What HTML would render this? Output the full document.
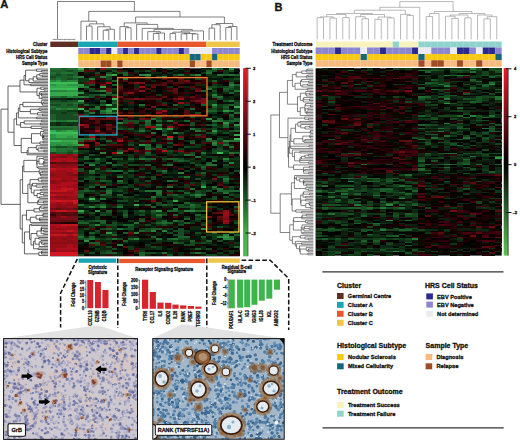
<!DOCTYPE html><html><head><meta charset="utf-8"><style>html,body{margin:0;padding:0;background:#fff;overflow:hidden}svg{display:block}</style></head><body><svg width="520" height="441" viewBox="0 0 520 441">
<style>text{stroke:#111;stroke-width:0.3px;paint-order:stroke;stroke-linejoin:round}</style>
<rect width="520" height="441" fill="#fff"/>
<text x="0.2" y="8.3" font-size="11.2" font-weight="bold" font-family="Liberation Sans, sans-serif" fill="#111">A</text>
<text x="274.6" y="10.6" font-size="11" font-weight="bold" font-family="Liberation Sans, sans-serif" fill="#111">B</text>
<filter id="bhA" x="50.3" y="68.3" width="189.4" height="188" filterUnits="userSpaceOnUse"><feGaussianBlur stdDeviation="0.55" edgeMode="duplicate"/></filter>
<g filter="url(#bhA)">
<rect x="50.3" y="68.3" width="189.4" height="188" fill="#000"/>
<path fill="#3ec458" shape-rendering="crispEdges" d="M111.58 108.3h5.57v2h-5.57z"/>
<path fill="#3ec458" shape-rendering="crispEdges" d="M67.01 88.3h5.57v2h-5.57zM50.3 132.3h11.14v2h-11.14zM72.58 132.3h5.57v2h-5.57z"/>
<path fill="#3bbc54" shape-rendering="crispEdges" d="M50.3 82.3h27.85v2h-27.85zM50.3 88.3h16.71v2h-16.71zM72.58 88.3h5.57v2h-5.57zM111.58 98.3h5.57v2h-5.57zM106.01 104.3h5.57v2h-5.57zM78.15 108.3h5.57v2h-5.57zM61.44 132.3h11.14v2h-11.14zM234.13 138.3h5.57v2h-5.57zM50.3 140.3h11.14v2h-11.14zM217.42 152.3h5.57v2h-5.57zM89.29 198.3h5.57v2h-5.57z"/>
<path fill="#35a94c" shape-rendering="crispEdges" d="M78.15 68.3h5.57v2h-5.57zM111.58 74.3h5.57v2h-5.57zM55.87 84.3h11.14v2h-11.14zM50.3 86.3h27.85v2h-27.85zM100.44 86.3h5.57v2h-5.57zM50.3 92.3h27.85v2h-27.85zM50.3 94.3h27.85v2h-27.85zM78.15 100.3h5.57v2h-5.57zM234.13 106.3h5.57v2h-5.57zM156.14 128.3h5.57v2h-5.57zM50.3 130.3h5.57v2h-5.57zM67.01 130.3h5.57v2h-5.57zM55.87 134.3h22.28v2h-22.28zM234.13 134.3h5.57v2h-5.57zM55.87 136.3h11.14v2h-11.14zM72.58 136.3h5.57v2h-5.57zM61.44 140.3h16.71v2h-16.71zM72.58 142.3h5.57v2h-5.57zM78.15 144.3h5.57v2h-5.57zM200.71 186.3h5.57v2h-5.57zM172.85 200.3h5.57v2h-5.57zM133.86 204.3h5.57v2h-5.57zM78.15 210.3h5.57v2h-5.57z"/>
<path fill="#2f9643" shape-rendering="crispEdges" d="M228.56 68.3h5.57v2h-5.57zM145 74.3h5.57v2h-5.57zM55.87 80.3h5.57v2h-5.57zM50.3 84.3h5.57v2h-5.57zM67.01 84.3h16.71v2h-16.71zM67.01 90.3h11.14v2h-11.14zM78.15 92.3h5.57v2h-5.57zM211.85 104.3h5.57v2h-5.57zM106.01 110.3h5.57v2h-5.57zM222.99 110.3h5.57v2h-5.57zM206.28 118.3h5.57v2h-5.57zM222.99 122.3h5.57v2h-5.57zM234.13 124.3h5.57v2h-5.57zM167.28 128.3h5.57v2h-5.57zM61.44 130.3h5.57v2h-5.57zM72.58 130.3h5.57v2h-5.57zM211.85 130.3h5.57v2h-5.57zM50.3 134.3h5.57v2h-5.57zM50.3 136.3h5.57v2h-5.57zM67.01 136.3h5.57v2h-5.57zM50.3 142.3h22.28v2h-22.28zM50.3 144.3h5.57v2h-5.57zM61.44 144.3h5.57v2h-5.57zM72.58 144.3h5.57v2h-5.57zM139.43 144.3h5.57v2h-5.57zM117.15 152.3h5.57v2h-5.57zM94.86 210.3h5.57v2h-5.57zM156.14 210.3h5.57v2h-5.57zM106.01 232.3h5.57v2h-5.57zM222.99 236.3h5.57v2h-5.57zM83.72 240.3h5.57v2h-5.57z"/>
<path fill="#29833b" shape-rendering="crispEdges" d="M211.85 68.3h5.57v2h-5.57zM106.01 74.3h5.57v2h-5.57zM139.43 74.3h5.57v2h-5.57zM195.14 74.3h5.57v2h-5.57zM78.15 76.3h5.57v2h-5.57zM100.44 76.3h5.57v2h-5.57zM161.71 76.3h5.57v2h-5.57zM89.29 78.3h5.57v2h-5.57zM50.3 80.3h5.57v2h-5.57zM67.01 80.3h11.14v2h-11.14zM228.56 84.3h5.57v2h-5.57zM78.15 86.3h5.57v2h-5.57zM50.3 90.3h16.71v2h-16.71zM100.44 90.3h5.57v2h-5.57zM211.85 94.3h5.57v2h-5.57zM67.01 96.3h5.57v2h-5.57zM78.15 96.3h5.57v2h-5.57zM55.87 108.3h5.57v2h-5.57zM67.01 108.3h5.57v2h-5.57zM106.01 108.3h5.57v2h-5.57zM106.01 112.3h5.57v2h-5.57zM50.3 120.3h5.57v2h-5.57zM67.01 120.3h11.14v2h-11.14zM211.85 120.3h5.57v2h-5.57zM117.15 122.3h5.57v2h-5.57zM156.14 124.3h5.57v2h-5.57zM55.87 130.3h5.57v2h-5.57zM172.85 132.3h5.57v2h-5.57zM50.3 138.3h27.85v2h-27.85zM206.28 138.3h5.57v2h-5.57zM222.99 140.3h5.57v2h-5.57zM211.85 142.3h5.57v2h-5.57zM55.87 144.3h5.57v2h-5.57zM67.01 144.3h5.57v2h-5.57zM50.3 148.3h5.57v2h-5.57zM50.3 150.3h5.57v2h-5.57zM72.58 150.3h5.57v2h-5.57zM100.44 152.3h5.57v2h-5.57zM222.99 158.3h5.57v2h-5.57zM228.56 162.3h5.57v2h-5.57zM89.29 164.3h5.57v2h-5.57zM178.42 172.3h5.57v2h-5.57zM195.14 194.3h5.57v2h-5.57zM89.29 206.3h5.57v2h-5.57zM100.44 206.3h5.57v2h-5.57zM183.99 210.3h11.14v2h-11.14zM94.86 224.3h5.57v2h-5.57zM200.71 228.3h5.57v2h-5.57zM150.57 230.3h5.57v2h-5.57zM161.71 230.3h5.57v2h-5.57zM133.86 232.3h5.57v2h-5.57zM222.99 234.3h5.57v2h-5.57zM217.42 236.3h5.57v2h-5.57zM133.86 238.3h5.57v2h-5.57zM222.99 238.3h11.14v2h-11.14zM117.15 244.3h5.57v2h-5.57z"/>
<path fill="#237132" shape-rendering="crispEdges" d="M50.3 68.3h11.14v2h-11.14zM67.01 68.3h11.14v2h-11.14zM78.15 70.3h5.57v2h-5.57zM50.3 72.3h5.57v2h-5.57zM61.44 72.3h11.14v2h-11.14zM206.28 72.3h5.57v2h-5.57zM178.42 74.3h5.57v2h-5.57zM217.42 74.3h5.57v2h-5.57zM228.56 74.3h5.57v2h-5.57zM72.58 76.3h5.57v2h-5.57zM55.87 78.3h5.57v2h-5.57zM122.72 78.3h5.57v2h-5.57zM61.44 80.3h5.57v2h-5.57zM83.72 86.3h5.57v2h-5.57zM206.28 88.3h5.57v2h-5.57zM234.13 90.3h5.57v2h-5.57zM100.44 94.3h5.57v2h-5.57zM50.3 96.3h11.14v2h-11.14zM72.58 96.3h5.57v2h-5.57zM83.72 96.3h5.57v2h-5.57zM217.42 96.3h5.57v2h-5.57zM228.56 100.3h5.57v2h-5.57zM72.58 102.3h5.57v2h-5.57zM139.43 104.3h5.57v2h-5.57zM50.3 106.3h5.57v2h-5.57zM94.86 106.3h5.57v2h-5.57zM61.44 108.3h5.57v2h-5.57zM72.58 108.3h5.57v2h-5.57zM94.86 108.3h5.57v2h-5.57zM83.72 110.3h5.57v2h-5.57zM100.44 110.3h5.57v2h-5.57zM228.56 110.3h5.57v2h-5.57zM89.29 112.3h5.57v2h-5.57zM111.58 112.3h5.57v2h-5.57zM234.13 112.3h5.57v2h-5.57zM150.57 118.3h5.57v2h-5.57zM55.87 120.3h11.14v2h-11.14zM145 120.3h5.57v2h-5.57zM167.28 120.3h5.57v2h-5.57zM217.42 120.3h5.57v2h-5.57zM222.99 124.3h5.57v2h-5.57zM50.3 126.3h27.85v2h-27.85zM72.58 128.3h5.57v2h-5.57zM189.56 128.3h5.57v2h-5.57zM139.43 130.3h5.57v2h-5.57zM195.14 130.3h5.57v2h-5.57zM150.57 132.3h5.57v2h-5.57zM89.29 134.3h5.57v2h-5.57zM161.71 134.3h5.57v2h-5.57zM78.15 138.3h5.57v2h-5.57zM89.29 138.3h5.57v2h-5.57zM167.28 138.3h5.57v2h-5.57zM228.56 140.3h11.14v2h-11.14zM145 144.3h5.57v2h-5.57zM211.85 144.3h5.57v2h-5.57zM222.99 144.3h5.57v2h-5.57zM228.56 146.3h5.57v2h-5.57zM55.87 148.3h16.71v2h-16.71zM145 148.3h5.57v2h-5.57zM55.87 150.3h11.14v2h-11.14zM200.71 152.3h5.57v2h-5.57zM228.56 152.3h5.57v2h-5.57zM183.99 154.3h5.57v2h-5.57zM195.14 156.3h5.57v2h-5.57zM94.86 158.3h5.57v2h-5.57zM139.43 158.3h5.57v2h-5.57zM211.85 160.3h5.57v2h-5.57zM106.01 162.3h5.57v2h-5.57zM167.28 164.3h5.57v2h-5.57zM206.28 164.3h11.14v2h-11.14zM89.29 170.3h5.57v2h-5.57zM111.58 170.3h11.14v2h-11.14zM161.71 170.3h5.57v2h-5.57zM117.15 176.3h5.57v2h-5.57zM183.99 176.3h5.57v2h-5.57zM222.99 178.3h5.57v2h-5.57zM117.15 180.3h5.57v2h-5.57zM167.28 180.3h5.57v2h-5.57zM100.44 186.3h5.57v2h-5.57zM167.28 186.3h5.57v2h-5.57zM211.85 186.3h5.57v2h-5.57zM189.56 188.3h5.57v2h-5.57zM217.42 188.3h5.57v2h-5.57zM106.01 190.3h5.57v2h-5.57zM145 190.3h16.71v2h-16.71zM106.01 192.3h5.57v2h-5.57zM156.14 192.3h5.57v2h-5.57zM222.99 192.3h5.57v2h-5.57zM150.57 196.3h5.57v2h-5.57zM100.44 198.3h5.57v2h-5.57zM78.15 204.3h5.57v2h-5.57zM189.56 204.3h5.57v2h-5.57zM117.15 206.3h5.57v2h-5.57zM172.85 208.3h5.57v2h-5.57zM156.14 214.3h5.57v2h-5.57zM172.85 220.3h5.57v2h-5.57zM133.86 222.3h5.57v2h-5.57zM161.71 222.3h5.57v2h-5.57zM117.15 228.3h5.57v2h-5.57zM78.15 236.3h5.57v2h-5.57zM228.56 236.3h5.57v2h-5.57zM89.29 238.3h5.57v2h-5.57zM111.58 238.3h5.57v2h-5.57zM156.14 238.3h5.57v2h-5.57zM172.85 238.3h5.57v2h-5.57zM161.71 252.3h5.57v2h-5.57zM195.14 252.3h5.57v2h-5.57z"/>
<path fill="#1d5e2a" shape-rendering="crispEdges" d="M61.44 68.3h5.57v2h-5.57zM217.42 68.3h5.57v2h-5.57zM50.3 70.3h16.71v2h-16.71zM72.58 70.3h5.57v2h-5.57zM206.28 70.3h5.57v2h-5.57zM55.87 72.3h5.57v2h-5.57zM72.58 72.3h5.57v2h-5.57zM122.72 72.3h5.57v2h-5.57zM50.3 74.3h5.57v2h-5.57zM61.44 74.3h5.57v2h-5.57zM72.58 74.3h5.57v2h-5.57zM122.72 74.3h5.57v2h-5.57zM189.56 74.3h5.57v2h-5.57zM222.99 74.3h5.57v2h-5.57zM234.13 74.3h5.57v2h-5.57zM55.87 76.3h16.71v2h-16.71zM50.3 78.3h5.57v2h-5.57zM61.44 78.3h5.57v2h-5.57zM72.58 78.3h5.57v2h-5.57zM111.58 80.3h5.57v2h-5.57zM211.85 80.3h5.57v2h-5.57zM228.56 82.3h5.57v2h-5.57zM111.58 84.3h5.57v2h-5.57zM234.13 84.3h5.57v2h-5.57zM228.56 86.3h5.57v2h-5.57zM222.99 88.3h5.57v2h-5.57zM94.86 90.3h5.57v2h-5.57zM200.71 90.3h5.57v2h-5.57zM106.01 92.3h5.57v2h-5.57zM228.56 92.3h5.57v2h-5.57zM111.58 94.3h5.57v2h-5.57zM61.44 96.3h5.57v2h-5.57zM211.85 96.3h5.57v2h-5.57zM100.44 100.3h5.57v2h-5.57zM50.3 102.3h22.28v2h-22.28zM78.15 102.3h5.57v2h-5.57zM111.58 102.3h5.57v2h-5.57zM61.44 104.3h5.57v2h-5.57zM72.58 104.3h5.57v2h-5.57zM83.72 104.3h5.57v2h-5.57zM100.44 104.3h5.57v2h-5.57zM172.85 104.3h5.57v2h-5.57zM200.71 104.3h5.57v2h-5.57zM228.56 104.3h5.57v2h-5.57zM55.87 106.3h22.28v2h-22.28zM211.85 106.3h5.57v2h-5.57zM222.99 106.3h5.57v2h-5.57zM50.3 108.3h5.57v2h-5.57zM89.29 108.3h5.57v2h-5.57zM189.56 108.3h5.57v2h-5.57zM206.28 110.3h11.14v2h-11.14zM100.44 112.3h5.57v2h-5.57zM50.3 114.3h5.57v2h-5.57zM72.58 114.3h5.57v2h-5.57zM228.56 114.3h5.57v2h-5.57zM50.3 116.3h5.57v2h-5.57zM50.3 118.3h5.57v2h-5.57zM217.42 118.3h5.57v2h-5.57zM234.13 118.3h5.57v2h-5.57zM156.14 120.3h5.57v2h-5.57zM183.99 120.3h5.57v2h-5.57zM228.56 120.3h11.14v2h-11.14zM145 122.3h5.57v2h-5.57zM145 124.3h5.57v2h-5.57zM211.85 124.3h5.57v2h-5.57zM222.99 126.3h5.57v2h-5.57zM50.3 128.3h22.28v2h-22.28zM234.13 130.3h5.57v2h-5.57zM211.85 132.3h5.57v2h-5.57zM83.72 138.3h5.57v2h-5.57zM78.15 140.3h5.57v2h-5.57zM106.01 140.3h5.57v2h-5.57zM206.28 140.3h11.14v2h-11.14zM189.56 142.3h5.57v2h-5.57zM50.3 146.3h5.57v2h-5.57zM67.01 146.3h5.57v2h-5.57zM145 146.3h5.57v2h-5.57zM156.14 146.3h5.57v2h-5.57zM72.58 148.3h5.57v2h-5.57zM94.86 148.3h5.57v2h-5.57zM67.01 150.3h5.57v2h-5.57zM55.87 152.3h11.14v2h-11.14zM72.58 152.3h5.57v2h-5.57zM145 152.3h5.57v2h-5.57zM234.13 152.3h5.57v2h-5.57zM189.56 154.3h5.57v2h-5.57zM83.72 156.3h5.57v2h-5.57zM83.72 158.3h5.57v2h-5.57zM111.58 158.3h5.57v2h-5.57zM128.29 158.3h5.57v2h-5.57zM145 158.3h11.14v2h-11.14zM167.28 158.3h11.14v2h-11.14zM178.42 160.3h5.57v2h-5.57zM206.28 162.3h5.57v2h-5.57zM111.58 164.3h5.57v2h-5.57zM145 164.3h5.57v2h-5.57zM200.71 166.3h5.57v2h-5.57zM94.86 168.3h5.57v2h-5.57zM106.01 170.3h5.57v2h-5.57zM128.29 170.3h5.57v2h-5.57zM89.29 172.3h5.57v2h-5.57zM200.71 172.3h5.57v2h-5.57zM100.44 180.3h5.57v2h-5.57zM222.99 180.3h5.57v2h-5.57zM200.71 184.3h5.57v2h-5.57zM89.29 186.3h5.57v2h-5.57zM133.86 188.3h5.57v2h-5.57zM83.72 190.3h5.57v2h-5.57zM217.42 190.3h22.28v2h-22.28zM183.99 192.3h5.57v2h-5.57zM78.15 194.3h5.57v2h-5.57zM100.44 194.3h5.57v2h-5.57zM117.15 194.3h5.57v2h-5.57zM156.14 194.3h5.57v2h-5.57zM172.85 194.3h5.57v2h-5.57zM189.56 194.3h5.57v2h-5.57zM200.71 194.3h5.57v2h-5.57zM78.15 196.3h5.57v2h-5.57zM195.14 196.3h5.57v2h-5.57zM183.99 202.3h5.57v2h-5.57zM100.44 204.3h5.57v2h-5.57zM145 204.3h5.57v2h-5.57zM161.71 204.3h5.57v2h-5.57zM150.57 206.3h5.57v2h-5.57zM189.56 206.3h5.57v2h-5.57zM234.13 206.3h5.57v2h-5.57zM106.01 210.3h5.57v2h-5.57zM139.43 210.3h5.57v2h-5.57zM150.57 210.3h5.57v2h-5.57zM167.28 210.3h11.14v2h-11.14zM195.14 210.3h11.14v2h-11.14zM78.15 212.3h5.57v2h-5.57zM122.72 214.3h5.57v2h-5.57zM172.85 214.3h5.57v2h-5.57zM195.14 214.3h5.57v2h-5.57zM183.99 218.3h5.57v2h-5.57zM94.86 220.3h11.14v2h-11.14zM139.43 220.3h5.57v2h-5.57zM161.71 220.3h5.57v2h-5.57zM78.15 222.3h11.14v2h-11.14zM100.44 222.3h5.57v2h-5.57zM156.14 222.3h5.57v2h-5.57zM167.28 222.3h5.57v2h-5.57zM183.99 222.3h5.57v2h-5.57zM122.72 224.3h11.14v2h-11.14zM106.01 228.3h5.57v2h-5.57zM150.57 228.3h11.14v2h-11.14zM139.43 230.3h5.57v2h-5.57zM89.29 232.3h5.57v2h-5.57zM122.72 232.3h5.57v2h-5.57zM211.85 232.3h5.57v2h-5.57zM228.56 232.3h5.57v2h-5.57zM111.58 234.3h5.57v2h-5.57zM234.13 234.3h5.57v2h-5.57zM89.29 236.3h5.57v2h-5.57zM150.57 236.3h5.57v2h-5.57zM178.42 236.3h11.14v2h-11.14zM200.71 236.3h5.57v2h-5.57zM83.72 238.3h5.57v2h-5.57zM128.29 238.3h5.57v2h-5.57zM167.28 238.3h5.57v2h-5.57zM122.72 240.3h5.57v2h-5.57zM189.56 240.3h5.57v2h-5.57zM206.28 240.3h5.57v2h-5.57zM89.29 242.3h11.14v2h-11.14zM172.85 242.3h5.57v2h-5.57zM234.13 246.3h5.57v2h-5.57zM195.14 248.3h5.57v2h-5.57zM106.01 252.3h11.14v2h-11.14zM139.43 252.3h5.57v2h-5.57zM139.43 254.3h5.57v2h-5.57z"/>
<path fill="#174b21" shape-rendering="crispEdges" d="M89.29 68.3h5.57v2h-5.57zM106.01 68.3h5.57v2h-5.57zM150.57 68.3h5.57v2h-5.57zM167.28 68.3h5.57v2h-5.57zM67.01 70.3h5.57v2h-5.57zM111.58 70.3h5.57v2h-5.57zM145 70.3h5.57v2h-5.57zM211.85 70.3h5.57v2h-5.57zM228.56 70.3h5.57v2h-5.57zM94.86 72.3h5.57v2h-5.57zM106.01 72.3h5.57v2h-5.57zM117.15 72.3h5.57v2h-5.57zM55.87 74.3h5.57v2h-5.57zM67.01 74.3h5.57v2h-5.57zM172.85 74.3h5.57v2h-5.57zM50.3 76.3h5.57v2h-5.57zM106.01 76.3h5.57v2h-5.57zM145 76.3h5.57v2h-5.57zM156.14 76.3h5.57v2h-5.57zM67.01 78.3h5.57v2h-5.57zM106.01 78.3h5.57v2h-5.57zM195.14 78.3h5.57v2h-5.57zM234.13 78.3h5.57v2h-5.57zM89.29 84.3h5.57v2h-5.57zM206.28 86.3h11.14v2h-11.14zM222.99 86.3h5.57v2h-5.57zM89.29 88.3h5.57v2h-5.57zM228.56 88.3h5.57v2h-5.57zM89.29 90.3h5.57v2h-5.57zM211.85 90.3h5.57v2h-5.57zM222.99 90.3h5.57v2h-5.57zM89.29 94.3h11.14v2h-11.14zM106.01 94.3h5.57v2h-5.57zM89.29 96.3h5.57v2h-5.57zM217.42 98.3h5.57v2h-5.57zM50.3 100.3h11.14v2h-11.14zM67.01 100.3h11.14v2h-11.14zM111.58 100.3h5.57v2h-5.57zM222.99 100.3h5.57v2h-5.57zM234.13 102.3h5.57v2h-5.57zM50.3 104.3h11.14v2h-11.14zM67.01 104.3h5.57v2h-5.57zM222.99 104.3h5.57v2h-5.57zM234.13 104.3h5.57v2h-5.57zM122.72 108.3h5.57v2h-5.57zM156.14 108.3h5.57v2h-5.57zM211.85 108.3h5.57v2h-5.57zM222.99 108.3h5.57v2h-5.57zM50.3 110.3h16.71v2h-16.71zM50.3 112.3h11.14v2h-11.14zM67.01 112.3h11.14v2h-11.14zM195.14 112.3h5.57v2h-5.57zM55.87 114.3h16.71v2h-16.71zM83.72 114.3h5.57v2h-5.57zM55.87 116.3h22.28v2h-22.28zM156.14 116.3h5.57v2h-5.57zM189.56 116.3h5.57v2h-5.57zM228.56 116.3h5.57v2h-5.57zM55.87 118.3h22.28v2h-22.28zM122.72 120.3h16.71v2h-16.71zM222.99 120.3h5.57v2h-5.57zM122.72 122.3h5.57v2h-5.57zM133.86 122.3h5.57v2h-5.57zM189.56 122.3h5.57v2h-5.57zM189.56 124.3h5.57v2h-5.57zM206.28 124.3h5.57v2h-5.57zM156.14 126.3h5.57v2h-5.57zM234.13 126.3h5.57v2h-5.57zM117.15 128.3h5.57v2h-5.57zM128.29 128.3h5.57v2h-5.57zM139.43 128.3h5.57v2h-5.57zM150.57 128.3h5.57v2h-5.57zM161.71 128.3h5.57v2h-5.57zM195.14 128.3h5.57v2h-5.57zM211.85 128.3h5.57v2h-5.57zM161.71 130.3h5.57v2h-5.57zM200.71 130.3h5.57v2h-5.57zM228.56 130.3h5.57v2h-5.57zM178.42 132.3h5.57v2h-5.57zM206.28 132.3h5.57v2h-5.57zM222.99 132.3h5.57v2h-5.57zM195.14 134.3h5.57v2h-5.57zM100.44 138.3h5.57v2h-5.57zM178.42 138.3h5.57v2h-5.57zM217.42 138.3h5.57v2h-5.57zM150.57 140.3h5.57v2h-5.57zM189.56 140.3h5.57v2h-5.57zM167.28 142.3h5.57v2h-5.57zM222.99 142.3h5.57v2h-5.57zM100.44 144.3h5.57v2h-5.57zM128.29 144.3h5.57v2h-5.57zM156.14 144.3h5.57v2h-5.57zM55.87 146.3h11.14v2h-11.14zM72.58 146.3h5.57v2h-5.57zM183.99 146.3h5.57v2h-5.57zM150.57 148.3h5.57v2h-5.57zM217.42 148.3h5.57v2h-5.57zM117.15 150.3h5.57v2h-5.57zM167.28 150.3h5.57v2h-5.57zM211.85 150.3h16.71v2h-16.71zM50.3 152.3h5.57v2h-5.57zM67.01 152.3h5.57v2h-5.57zM189.56 152.3h5.57v2h-5.57zM211.85 152.3h5.57v2h-5.57zM89.29 154.3h5.57v2h-5.57zM145 154.3h5.57v2h-5.57zM106.01 156.3h5.57v2h-5.57zM117.15 158.3h5.57v2h-5.57zM161.71 158.3h5.57v2h-5.57zM178.42 158.3h5.57v2h-5.57zM94.86 160.3h5.57v2h-5.57zM172.85 160.3h5.57v2h-5.57zM183.99 160.3h5.57v2h-5.57zM222.99 160.3h5.57v2h-5.57zM83.72 162.3h16.71v2h-16.71zM189.56 162.3h5.57v2h-5.57zM78.15 164.3h5.57v2h-5.57zM117.15 164.3h5.57v2h-5.57zM128.29 164.3h11.14v2h-11.14zM161.71 164.3h5.57v2h-5.57zM195.14 164.3h5.57v2h-5.57zM222.99 164.3h5.57v2h-5.57zM78.15 168.3h5.57v2h-5.57zM200.71 168.3h5.57v2h-5.57zM78.15 170.3h5.57v2h-5.57zM156.14 170.3h5.57v2h-5.57zM234.13 170.3h5.57v2h-5.57zM122.72 172.3h5.57v2h-5.57zM161.71 172.3h5.57v2h-5.57zM89.29 176.3h5.57v2h-5.57zM100.44 176.3h5.57v2h-5.57zM139.43 176.3h5.57v2h-5.57zM150.57 176.3h5.57v2h-5.57zM217.42 176.3h11.14v2h-11.14zM83.72 178.3h11.14v2h-11.14zM150.57 178.3h5.57v2h-5.57zM195.14 178.3h5.57v2h-5.57zM78.15 180.3h5.57v2h-5.57zM106.01 180.3h5.57v2h-5.57zM145 180.3h5.57v2h-5.57zM172.85 180.3h5.57v2h-5.57zM117.15 182.3h5.57v2h-5.57zM200.71 182.3h5.57v2h-5.57zM94.86 184.3h5.57v2h-5.57zM122.72 186.3h5.57v2h-5.57zM156.14 186.3h5.57v2h-5.57zM228.56 186.3h5.57v2h-5.57zM83.72 188.3h5.57v2h-5.57zM106.01 188.3h5.57v2h-5.57zM211.85 188.3h5.57v2h-5.57zM78.15 190.3h5.57v2h-5.57zM89.29 190.3h5.57v2h-5.57zM117.15 190.3h5.57v2h-5.57zM167.28 190.3h5.57v2h-5.57zM178.42 190.3h5.57v2h-5.57zM195.14 190.3h5.57v2h-5.57zM206.28 190.3h5.57v2h-5.57zM78.15 192.3h5.57v2h-5.57zM195.14 192.3h5.57v2h-5.57zM106.01 194.3h5.57v2h-5.57zM167.28 194.3h5.57v2h-5.57zM228.56 194.3h5.57v2h-5.57zM122.72 196.3h5.57v2h-5.57zM178.42 196.3h5.57v2h-5.57zM211.85 196.3h5.57v2h-5.57zM222.99 196.3h5.57v2h-5.57zM150.57 198.3h5.57v2h-5.57zM211.85 198.3h5.57v2h-5.57zM89.29 200.3h11.14v2h-11.14zM117.15 200.3h11.14v2h-11.14zM133.86 200.3h5.57v2h-5.57zM156.14 202.3h5.57v2h-5.57zM94.86 204.3h5.57v2h-5.57zM117.15 204.3h5.57v2h-5.57zM156.14 204.3h5.57v2h-5.57zM167.28 204.3h5.57v2h-5.57zM178.42 204.3h5.57v2h-5.57zM195.14 204.3h5.57v2h-5.57zM83.72 206.3h5.57v2h-5.57zM94.86 206.3h5.57v2h-5.57zM178.42 206.3h11.14v2h-11.14zM195.14 206.3h5.57v2h-5.57zM206.28 206.3h5.57v2h-5.57zM189.56 208.3h5.57v2h-5.57zM122.72 210.3h5.57v2h-5.57zM234.13 210.3h5.57v2h-5.57zM89.29 212.3h5.57v2h-5.57zM106.01 212.3h5.57v2h-5.57zM122.72 212.3h5.57v2h-5.57zM150.57 212.3h5.57v2h-5.57zM100.44 214.3h5.57v2h-5.57zM139.43 214.3h5.57v2h-5.57zM161.71 214.3h5.57v2h-5.57zM122.72 216.3h5.57v2h-5.57zM156.14 216.3h5.57v2h-5.57zM200.71 216.3h5.57v2h-5.57zM139.43 218.3h5.57v2h-5.57zM195.14 218.3h5.57v2h-5.57zM78.15 220.3h5.57v2h-5.57zM89.29 220.3h5.57v2h-5.57zM178.42 220.3h5.57v2h-5.57zM111.58 222.3h5.57v2h-5.57zM234.13 222.3h5.57v2h-5.57zM89.29 224.3h5.57v2h-5.57zM106.01 224.3h11.14v2h-11.14zM145 224.3h5.57v2h-5.57zM161.71 224.3h5.57v2h-5.57zM178.42 224.3h5.57v2h-5.57zM200.71 224.3h5.57v2h-5.57zM128.29 226.3h5.57v2h-5.57zM217.42 226.3h5.57v2h-5.57zM83.72 228.3h5.57v2h-5.57zM100.44 228.3h5.57v2h-5.57zM122.72 228.3h11.14v2h-11.14zM145 228.3h5.57v2h-5.57zM178.42 228.3h5.57v2h-5.57zM94.86 230.3h5.57v2h-5.57zM145 230.3h5.57v2h-5.57zM172.85 230.3h11.14v2h-11.14zM167.28 232.3h5.57v2h-5.57zM178.42 232.3h5.57v2h-5.57zM195.14 232.3h5.57v2h-5.57zM78.15 234.3h5.57v2h-5.57zM172.85 234.3h11.14v2h-11.14zM78.15 238.3h5.57v2h-5.57zM94.86 238.3h5.57v2h-5.57zM106.01 238.3h5.57v2h-5.57zM117.15 238.3h5.57v2h-5.57zM178.42 238.3h5.57v2h-5.57zM217.42 240.3h5.57v2h-5.57zM178.42 242.3h5.57v2h-5.57zM189.56 242.3h5.57v2h-5.57zM200.71 242.3h5.57v2h-5.57zM94.86 244.3h5.57v2h-5.57zM183.99 244.3h11.14v2h-11.14zM106.01 246.3h5.57v2h-5.57zM150.57 246.3h5.57v2h-5.57zM111.58 248.3h5.57v2h-5.57zM206.28 248.3h5.57v2h-5.57zM106.01 250.3h5.57v2h-5.57zM89.29 252.3h5.57v2h-5.57zM100.44 252.3h5.57v2h-5.57zM145 252.3h11.14v2h-11.14zM189.56 252.3h5.57v2h-5.57zM200.71 252.3h5.57v2h-5.57zM78.15 254.3h5.57v2h-5.57zM167.28 254.3h5.57v2h-5.57zM206.28 254.3h11.14v2h-11.14z"/>
<path fill="#113819" shape-rendering="crispEdges" d="M111.58 68.3h5.57v2h-5.57zM178.42 68.3h5.57v2h-5.57zM133.86 70.3h5.57v2h-5.57zM222.99 70.3h5.57v2h-5.57zM200.71 72.3h5.57v2h-5.57zM222.99 72.3h5.57v2h-5.57zM206.28 74.3h5.57v2h-5.57zM211.85 76.3h5.57v2h-5.57zM78.15 78.3h11.14v2h-11.14zM222.99 78.3h11.14v2h-11.14zM78.15 80.3h11.14v2h-11.14zM228.56 80.3h5.57v2h-5.57zM83.72 84.3h5.57v2h-5.57zM211.85 84.3h5.57v2h-5.57zM167.28 86.3h5.57v2h-5.57zM217.42 86.3h5.57v2h-5.57zM234.13 86.3h5.57v2h-5.57zM83.72 88.3h5.57v2h-5.57zM111.58 88.3h5.57v2h-5.57zM234.13 88.3h5.57v2h-5.57zM78.15 90.3h5.57v2h-5.57zM211.85 92.3h5.57v2h-5.57zM83.72 94.3h5.57v2h-5.57zM156.14 94.3h5.57v2h-5.57zM100.44 96.3h5.57v2h-5.57zM61.44 100.3h5.57v2h-5.57zM206.28 100.3h11.14v2h-11.14zM234.13 100.3h5.57v2h-5.57zM100.44 102.3h5.57v2h-5.57zM161.71 102.3h5.57v2h-5.57zM206.28 102.3h11.14v2h-11.14zM89.29 104.3h5.57v2h-5.57zM111.58 104.3h5.57v2h-5.57zM183.99 104.3h5.57v2h-5.57zM206.28 104.3h5.57v2h-5.57zM217.42 104.3h5.57v2h-5.57zM106.01 106.3h11.14v2h-11.14zM217.42 106.3h5.57v2h-5.57zM172.85 108.3h5.57v2h-5.57zM206.28 108.3h5.57v2h-5.57zM234.13 108.3h5.57v2h-5.57zM67.01 110.3h11.14v2h-11.14zM111.58 110.3h5.57v2h-5.57zM217.42 110.3h5.57v2h-5.57zM234.13 110.3h5.57v2h-5.57zM61.44 112.3h5.57v2h-5.57zM83.72 112.3h5.57v2h-5.57zM206.28 112.3h11.14v2h-11.14zM222.99 112.3h5.57v2h-5.57zM172.85 116.3h5.57v2h-5.57zM211.85 116.3h5.57v2h-5.57zM122.72 118.3h5.57v2h-5.57zM156.14 118.3h5.57v2h-5.57zM228.56 118.3h5.57v2h-5.57zM139.43 120.3h5.57v2h-5.57zM50.3 122.3h5.57v2h-5.57zM61.44 122.3h16.71v2h-16.71zM211.85 122.3h5.57v2h-5.57zM228.56 122.3h5.57v2h-5.57zM50.3 124.3h5.57v2h-5.57zM61.44 124.3h5.57v2h-5.57zM72.58 124.3h5.57v2h-5.57zM139.43 124.3h5.57v2h-5.57zM117.15 126.3h5.57v2h-5.57zM211.85 126.3h11.14v2h-11.14zM122.72 128.3h5.57v2h-5.57zM206.28 128.3h5.57v2h-5.57zM234.13 128.3h5.57v2h-5.57zM133.86 130.3h5.57v2h-5.57zM145 130.3h5.57v2h-5.57zM217.42 130.3h5.57v2h-5.57zM161.71 132.3h5.57v2h-5.57zM111.58 134.3h5.57v2h-5.57zM150.57 138.3h5.57v2h-5.57zM139.43 140.3h5.57v2h-5.57zM217.42 140.3h5.57v2h-5.57zM111.58 142.3h5.57v2h-5.57zM128.29 142.3h5.57v2h-5.57zM195.14 144.3h5.57v2h-5.57zM217.42 144.3h5.57v2h-5.57zM167.28 146.3h5.57v2h-5.57zM189.56 146.3h11.14v2h-11.14zM217.42 146.3h5.57v2h-5.57zM161.71 148.3h5.57v2h-5.57zM178.42 148.3h5.57v2h-5.57zM211.85 148.3h5.57v2h-5.57zM78.15 150.3h11.14v2h-11.14zM78.15 152.3h5.57v2h-5.57zM167.28 152.3h5.57v2h-5.57zM178.42 152.3h5.57v2h-5.57zM222.99 152.3h5.57v2h-5.57zM128.29 154.3h5.57v2h-5.57zM150.57 154.3h5.57v2h-5.57zM172.85 154.3h5.57v2h-5.57zM200.71 154.3h5.57v2h-5.57zM128.29 156.3h5.57v2h-5.57zM139.43 156.3h5.57v2h-5.57zM206.28 156.3h11.14v2h-11.14zM78.15 158.3h5.57v2h-5.57zM89.29 158.3h5.57v2h-5.57zM100.44 158.3h5.57v2h-5.57zM133.86 158.3h5.57v2h-5.57zM189.56 158.3h5.57v2h-5.57zM200.71 158.3h5.57v2h-5.57zM211.85 158.3h5.57v2h-5.57zM228.56 158.3h11.14v2h-11.14zM100.44 160.3h5.57v2h-5.57zM128.29 160.3h5.57v2h-5.57zM145 160.3h5.57v2h-5.57zM117.15 162.3h11.14v2h-11.14zM100.44 164.3h5.57v2h-5.57zM139.43 164.3h5.57v2h-5.57zM200.71 164.3h5.57v2h-5.57zM150.57 166.3h5.57v2h-5.57zM222.99 166.3h11.14v2h-11.14zM106.01 168.3h5.57v2h-5.57zM139.43 168.3h5.57v2h-5.57zM150.57 168.3h5.57v2h-5.57zM189.56 168.3h5.57v2h-5.57zM100.44 170.3h5.57v2h-5.57zM133.86 170.3h5.57v2h-5.57zM183.99 170.3h5.57v2h-5.57zM94.86 172.3h5.57v2h-5.57zM145 172.3h5.57v2h-5.57zM195.14 172.3h5.57v2h-5.57zM228.56 172.3h5.57v2h-5.57zM100.44 174.3h5.57v2h-5.57zM117.15 174.3h5.57v2h-5.57zM128.29 174.3h5.57v2h-5.57zM200.71 174.3h5.57v2h-5.57zM211.85 174.3h5.57v2h-5.57zM83.72 176.3h5.57v2h-5.57zM94.86 176.3h5.57v2h-5.57zM128.29 176.3h5.57v2h-5.57zM178.42 176.3h5.57v2h-5.57zM100.44 178.3h5.57v2h-5.57zM133.86 178.3h5.57v2h-5.57zM228.56 178.3h5.57v2h-5.57zM89.29 180.3h11.14v2h-11.14zM133.86 180.3h5.57v2h-5.57zM200.71 180.3h5.57v2h-5.57zM106.01 182.3h5.57v2h-5.57zM122.72 182.3h5.57v2h-5.57zM189.56 182.3h5.57v2h-5.57zM222.99 182.3h5.57v2h-5.57zM89.29 184.3h5.57v2h-5.57zM106.01 184.3h5.57v2h-5.57zM128.29 184.3h5.57v2h-5.57zM145 184.3h5.57v2h-5.57zM183.99 184.3h5.57v2h-5.57zM117.15 186.3h5.57v2h-5.57zM128.29 186.3h5.57v2h-5.57zM183.99 186.3h5.57v2h-5.57zM111.58 188.3h11.14v2h-11.14zM228.56 188.3h5.57v2h-5.57zM100.44 190.3h5.57v2h-5.57zM111.58 190.3h5.57v2h-5.57zM139.43 190.3h5.57v2h-5.57zM200.71 190.3h5.57v2h-5.57zM94.86 192.3h5.57v2h-5.57zM122.72 192.3h5.57v2h-5.57zM200.71 192.3h5.57v2h-5.57zM211.85 192.3h5.57v2h-5.57zM133.86 194.3h5.57v2h-5.57zM178.42 194.3h11.14v2h-11.14zM234.13 194.3h5.57v2h-5.57zM89.29 196.3h5.57v2h-5.57zM106.01 196.3h5.57v2h-5.57zM117.15 196.3h5.57v2h-5.57zM128.29 196.3h5.57v2h-5.57zM156.14 196.3h11.14v2h-11.14zM172.85 196.3h5.57v2h-5.57zM234.13 196.3h5.57v2h-5.57zM83.72 198.3h5.57v2h-5.57zM122.72 198.3h5.57v2h-5.57zM139.43 198.3h11.14v2h-11.14zM172.85 198.3h5.57v2h-5.57zM206.28 198.3h5.57v2h-5.57zM228.56 198.3h5.57v2h-5.57zM167.28 200.3h5.57v2h-5.57zM167.28 202.3h5.57v2h-5.57zM189.56 202.3h5.57v2h-5.57zM200.71 202.3h5.57v2h-5.57zM83.72 204.3h5.57v2h-5.57zM139.43 204.3h5.57v2h-5.57zM172.85 204.3h5.57v2h-5.57zM183.99 204.3h5.57v2h-5.57zM111.58 206.3h5.57v2h-5.57zM200.71 206.3h5.57v2h-5.57zM211.85 206.3h5.57v2h-5.57zM200.71 208.3h5.57v2h-5.57zM217.42 208.3h5.57v2h-5.57zM83.72 210.3h5.57v2h-5.57zM117.15 210.3h5.57v2h-5.57zM133.86 210.3h5.57v2h-5.57zM178.42 210.3h5.57v2h-5.57zM100.44 212.3h5.57v2h-5.57zM133.86 212.3h11.14v2h-11.14zM156.14 212.3h11.14v2h-11.14zM178.42 212.3h5.57v2h-5.57zM106.01 214.3h5.57v2h-5.57zM150.57 214.3h5.57v2h-5.57zM200.71 214.3h5.57v2h-5.57zM78.15 216.3h5.57v2h-5.57zM94.86 216.3h5.57v2h-5.57zM150.57 216.3h5.57v2h-5.57zM183.99 216.3h5.57v2h-5.57zM195.14 216.3h5.57v2h-5.57zM94.86 218.3h5.57v2h-5.57zM200.71 218.3h5.57v2h-5.57zM83.72 220.3h5.57v2h-5.57zM128.29 220.3h5.57v2h-5.57zM156.14 220.3h5.57v2h-5.57zM195.14 220.3h5.57v2h-5.57zM206.28 220.3h5.57v2h-5.57zM234.13 220.3h5.57v2h-5.57zM150.57 222.3h5.57v2h-5.57zM178.42 222.3h5.57v2h-5.57zM189.56 222.3h5.57v2h-5.57zM200.71 222.3h5.57v2h-5.57zM100.44 224.3h5.57v2h-5.57zM117.15 224.3h5.57v2h-5.57zM156.14 224.3h5.57v2h-5.57zM89.29 226.3h5.57v2h-5.57zM111.58 226.3h5.57v2h-5.57zM111.58 228.3h5.57v2h-5.57zM139.43 228.3h5.57v2h-5.57zM167.28 228.3h5.57v2h-5.57zM206.28 228.3h5.57v2h-5.57zM78.15 230.3h5.57v2h-5.57zM183.99 230.3h5.57v2h-5.57zM78.15 232.3h5.57v2h-5.57zM94.86 232.3h5.57v2h-5.57zM111.58 232.3h5.57v2h-5.57zM100.44 234.3h11.14v2h-11.14zM206.28 234.3h16.71v2h-16.71zM211.85 236.3h5.57v2h-5.57zM100.44 238.3h5.57v2h-5.57zM183.99 238.3h5.57v2h-5.57zM200.71 238.3h5.57v2h-5.57zM211.85 238.3h5.57v2h-5.57zM156.14 240.3h5.57v2h-5.57zM167.28 240.3h11.14v2h-11.14zM106.01 242.3h5.57v2h-5.57zM195.14 242.3h5.57v2h-5.57zM206.28 242.3h5.57v2h-5.57zM234.13 242.3h5.57v2h-5.57zM145 244.3h5.57v2h-5.57zM128.29 246.3h5.57v2h-5.57zM156.14 246.3h5.57v2h-5.57zM94.86 248.3h5.57v2h-5.57zM128.29 248.3h5.57v2h-5.57zM156.14 248.3h5.57v2h-5.57zM100.44 250.3h5.57v2h-5.57zM139.43 250.3h5.57v2h-5.57zM228.56 250.3h5.57v2h-5.57zM156.14 252.3h5.57v2h-5.57zM217.42 252.3h5.57v2h-5.57zM228.56 252.3h5.57v2h-5.57zM222.99 254.3h5.57v2h-5.57z"/>
<path fill="#0b2510" shape-rendering="crispEdges" d="M83.72 68.3h5.57v2h-5.57zM200.71 68.3h11.14v2h-11.14zM100.44 70.3h5.57v2h-5.57zM122.72 70.3h5.57v2h-5.57zM139.43 70.3h5.57v2h-5.57zM172.85 70.3h5.57v2h-5.57zM183.99 70.3h5.57v2h-5.57zM83.72 72.3h5.57v2h-5.57zM111.58 72.3h5.57v2h-5.57zM133.86 72.3h5.57v2h-5.57zM150.57 72.3h11.14v2h-11.14zM167.28 72.3h5.57v2h-5.57zM128.29 74.3h5.57v2h-5.57zM161.71 74.3h5.57v2h-5.57zM183.99 74.3h5.57v2h-5.57zM211.85 74.3h5.57v2h-5.57zM89.29 76.3h11.14v2h-11.14zM183.99 76.3h5.57v2h-5.57zM206.28 76.3h5.57v2h-5.57zM217.42 76.3h5.57v2h-5.57zM234.13 76.3h5.57v2h-5.57zM145 78.3h5.57v2h-5.57zM106.01 80.3h5.57v2h-5.57zM150.57 80.3h5.57v2h-5.57zM206.28 80.3h5.57v2h-5.57zM234.13 80.3h5.57v2h-5.57zM78.15 82.3h5.57v2h-5.57zM117.15 84.3h5.57v2h-5.57zM133.86 84.3h5.57v2h-5.57zM145 84.3h5.57v2h-5.57zM195.14 84.3h11.14v2h-11.14zM217.42 84.3h5.57v2h-5.57zM133.86 86.3h5.57v2h-5.57zM183.99 86.3h5.57v2h-5.57zM100.44 88.3h5.57v2h-5.57zM189.56 88.3h5.57v2h-5.57zM211.85 88.3h5.57v2h-5.57zM111.58 90.3h5.57v2h-5.57zM150.57 90.3h5.57v2h-5.57zM228.56 90.3h5.57v2h-5.57zM83.72 92.3h5.57v2h-5.57zM206.28 92.3h5.57v2h-5.57zM222.99 92.3h5.57v2h-5.57zM234.13 92.3h5.57v2h-5.57zM78.15 94.3h5.57v2h-5.57zM122.72 94.3h5.57v2h-5.57zM206.28 94.3h5.57v2h-5.57zM217.42 94.3h5.57v2h-5.57zM234.13 94.3h5.57v2h-5.57zM228.56 96.3h5.57v2h-5.57zM50.3 98.3h16.71v2h-16.71zM72.58 98.3h5.57v2h-5.57zM94.86 98.3h5.57v2h-5.57zM222.99 98.3h11.14v2h-11.14zM122.72 100.3h11.14v2h-11.14zM156.14 100.3h5.57v2h-5.57zM83.72 102.3h5.57v2h-5.57zM78.15 104.3h5.57v2h-5.57zM94.86 104.3h5.57v2h-5.57zM117.15 104.3h5.57v2h-5.57zM128.29 104.3h5.57v2h-5.57zM178.42 104.3h5.57v2h-5.57zM139.43 106.3h5.57v2h-5.57zM178.42 106.3h5.57v2h-5.57zM100.44 108.3h5.57v2h-5.57zM128.29 108.3h5.57v2h-5.57zM161.71 108.3h11.14v2h-11.14zM183.99 108.3h5.57v2h-5.57zM217.42 108.3h5.57v2h-5.57zM106.01 114.3h5.57v2h-5.57zM139.43 116.3h5.57v2h-5.57zM167.28 116.3h5.57v2h-5.57zM161.71 120.3h5.57v2h-5.57zM172.85 120.3h11.14v2h-11.14zM195.14 120.3h5.57v2h-5.57zM206.28 120.3h5.57v2h-5.57zM55.87 122.3h5.57v2h-5.57zM156.14 122.3h5.57v2h-5.57zM55.87 124.3h5.57v2h-5.57zM67.01 124.3h5.57v2h-5.57zM117.15 124.3h5.57v2h-5.57zM150.57 124.3h5.57v2h-5.57zM167.28 124.3h5.57v2h-5.57zM217.42 124.3h5.57v2h-5.57zM122.72 126.3h5.57v2h-5.57zM139.43 126.3h5.57v2h-5.57zM228.56 126.3h5.57v2h-5.57zM172.85 128.3h5.57v2h-5.57zM128.29 130.3h5.57v2h-5.57zM167.28 130.3h5.57v2h-5.57zM183.99 130.3h5.57v2h-5.57zM222.99 130.3h5.57v2h-5.57zM133.86 132.3h11.14v2h-11.14zM167.28 132.3h5.57v2h-5.57zM217.42 132.3h5.57v2h-5.57zM228.56 132.3h5.57v2h-5.57zM106.01 134.3h5.57v2h-5.57zM117.15 134.3h5.57v2h-5.57zM178.42 134.3h5.57v2h-5.57zM189.56 134.3h5.57v2h-5.57zM211.85 134.3h5.57v2h-5.57zM228.56 134.3h5.57v2h-5.57zM83.72 136.3h5.57v2h-5.57zM100.44 136.3h5.57v2h-5.57zM217.42 136.3h11.14v2h-11.14zM133.86 138.3h5.57v2h-5.57zM228.56 138.3h5.57v2h-5.57zM183.99 140.3h5.57v2h-5.57zM200.71 140.3h5.57v2h-5.57zM106.01 142.3h5.57v2h-5.57zM133.86 142.3h5.57v2h-5.57zM200.71 144.3h5.57v2h-5.57zM228.56 144.3h5.57v2h-5.57zM94.86 146.3h5.57v2h-5.57zM133.86 146.3h5.57v2h-5.57zM100.44 148.3h5.57v2h-5.57zM133.86 148.3h5.57v2h-5.57zM228.56 148.3h5.57v2h-5.57zM200.71 150.3h5.57v2h-5.57zM228.56 150.3h11.14v2h-11.14zM83.72 152.3h5.57v2h-5.57zM133.86 152.3h5.57v2h-5.57zM161.71 152.3h5.57v2h-5.57zM206.28 152.3h5.57v2h-5.57zM94.86 154.3h5.57v2h-5.57zM111.58 154.3h16.71v2h-16.71zM139.43 154.3h5.57v2h-5.57zM167.28 154.3h5.57v2h-5.57zM178.42 154.3h5.57v2h-5.57zM156.14 156.3h11.14v2h-11.14zM200.71 156.3h5.57v2h-5.57zM217.42 156.3h11.14v2h-11.14zM234.13 156.3h5.57v2h-5.57zM183.99 158.3h5.57v2h-5.57zM217.42 158.3h5.57v2h-5.57zM78.15 160.3h5.57v2h-5.57zM117.15 160.3h11.14v2h-11.14zM161.71 160.3h5.57v2h-5.57zM189.56 160.3h16.71v2h-16.71zM228.56 160.3h11.14v2h-11.14zM167.28 162.3h5.57v2h-5.57zM195.14 162.3h5.57v2h-5.57zM234.13 162.3h5.57v2h-5.57zM234.13 164.3h5.57v2h-5.57zM94.86 166.3h5.57v2h-5.57zM111.58 166.3h5.57v2h-5.57zM122.72 166.3h5.57v2h-5.57zM183.99 166.3h5.57v2h-5.57zM195.14 166.3h5.57v2h-5.57zM234.13 166.3h5.57v2h-5.57zM128.29 168.3h5.57v2h-5.57zM156.14 168.3h5.57v2h-5.57zM217.42 168.3h11.14v2h-11.14zM83.72 170.3h5.57v2h-5.57zM94.86 170.3h5.57v2h-5.57zM122.72 170.3h5.57v2h-5.57zM172.85 170.3h5.57v2h-5.57zM206.28 170.3h22.28v2h-22.28zM83.72 172.3h5.57v2h-5.57zM100.44 172.3h5.57v2h-5.57zM167.28 172.3h11.14v2h-11.14zM83.72 174.3h11.14v2h-11.14zM106.01 174.3h5.57v2h-5.57zM122.72 174.3h5.57v2h-5.57zM222.99 174.3h5.57v2h-5.57zM78.15 176.3h5.57v2h-5.57zM122.72 176.3h5.57v2h-5.57zM145 176.3h5.57v2h-5.57zM161.71 176.3h11.14v2h-11.14zM200.71 176.3h5.57v2h-5.57zM122.72 178.3h5.57v2h-5.57zM183.99 178.3h5.57v2h-5.57zM122.72 180.3h5.57v2h-5.57zM206.28 180.3h11.14v2h-11.14zM89.29 182.3h5.57v2h-5.57zM133.86 182.3h11.14v2h-11.14zM195.14 182.3h5.57v2h-5.57zM206.28 182.3h5.57v2h-5.57zM234.13 182.3h5.57v2h-5.57zM83.72 184.3h5.57v2h-5.57zM172.85 184.3h5.57v2h-5.57zM195.14 184.3h5.57v2h-5.57zM78.15 186.3h11.14v2h-11.14zM145 186.3h5.57v2h-5.57zM161.71 186.3h5.57v2h-5.57zM178.42 186.3h5.57v2h-5.57zM206.28 186.3h5.57v2h-5.57zM234.13 186.3h5.57v2h-5.57zM122.72 188.3h5.57v2h-5.57zM200.71 188.3h11.14v2h-11.14zM222.99 188.3h5.57v2h-5.57zM94.86 190.3h5.57v2h-5.57zM122.72 190.3h5.57v2h-5.57zM172.85 190.3h5.57v2h-5.57zM183.99 190.3h5.57v2h-5.57zM83.72 192.3h11.14v2h-11.14zM189.56 192.3h5.57v2h-5.57zM217.42 192.3h5.57v2h-5.57zM228.56 192.3h5.57v2h-5.57zM94.86 194.3h5.57v2h-5.57zM100.44 196.3h5.57v2h-5.57zM111.58 196.3h5.57v2h-5.57zM167.28 196.3h5.57v2h-5.57zM189.56 196.3h5.57v2h-5.57zM78.15 198.3h5.57v2h-5.57zM94.86 198.3h5.57v2h-5.57zM128.29 198.3h11.14v2h-11.14zM161.71 198.3h5.57v2h-5.57zM178.42 198.3h11.14v2h-11.14zM222.99 198.3h5.57v2h-5.57zM128.29 200.3h5.57v2h-5.57zM161.71 200.3h5.57v2h-5.57zM178.42 200.3h5.57v2h-5.57zM222.99 200.3h5.57v2h-5.57zM234.13 200.3h5.57v2h-5.57zM100.44 202.3h5.57v2h-5.57zM128.29 202.3h5.57v2h-5.57zM150.57 202.3h5.57v2h-5.57zM195.14 202.3h5.57v2h-5.57zM206.28 202.3h5.57v2h-5.57zM89.29 204.3h5.57v2h-5.57zM106.01 204.3h5.57v2h-5.57zM122.72 204.3h11.14v2h-11.14zM78.15 206.3h5.57v2h-5.57zM106.01 206.3h5.57v2h-5.57zM133.86 206.3h5.57v2h-5.57zM161.71 206.3h11.14v2h-11.14zM100.44 208.3h5.57v2h-5.57zM195.14 208.3h5.57v2h-5.57zM145 210.3h5.57v2h-5.57zM206.28 210.3h5.57v2h-5.57zM83.72 212.3h5.57v2h-5.57zM145 212.3h5.57v2h-5.57zM189.56 212.3h5.57v2h-5.57zM234.13 212.3h5.57v2h-5.57zM89.29 214.3h5.57v2h-5.57zM133.86 214.3h5.57v2h-5.57zM111.58 216.3h5.57v2h-5.57zM156.14 218.3h5.57v2h-5.57zM111.58 220.3h5.57v2h-5.57zM189.56 220.3h5.57v2h-5.57zM89.29 222.3h5.57v2h-5.57zM117.15 222.3h5.57v2h-5.57zM206.28 222.3h5.57v2h-5.57zM78.15 224.3h11.14v2h-11.14zM133.86 224.3h11.14v2h-11.14zM167.28 224.3h5.57v2h-5.57zM133.86 226.3h5.57v2h-5.57zM150.57 226.3h5.57v2h-5.57zM172.85 226.3h5.57v2h-5.57zM189.56 226.3h11.14v2h-11.14zM222.99 226.3h5.57v2h-5.57zM78.15 228.3h5.57v2h-5.57zM161.71 228.3h5.57v2h-5.57zM189.56 228.3h11.14v2h-11.14zM234.13 228.3h5.57v2h-5.57zM106.01 230.3h11.14v2h-11.14zM128.29 230.3h5.57v2h-5.57zM217.42 230.3h5.57v2h-5.57zM234.13 230.3h5.57v2h-5.57zM156.14 232.3h5.57v2h-5.57zM183.99 232.3h5.57v2h-5.57zM200.71 232.3h5.57v2h-5.57zM234.13 232.3h5.57v2h-5.57zM89.29 234.3h5.57v2h-5.57zM145 234.3h5.57v2h-5.57zM156.14 234.3h5.57v2h-5.57zM195.14 234.3h5.57v2h-5.57zM83.72 236.3h5.57v2h-5.57zM106.01 236.3h5.57v2h-5.57zM128.29 236.3h11.14v2h-11.14zM234.13 236.3h5.57v2h-5.57zM139.43 238.3h16.71v2h-16.71zM100.44 240.3h11.14v2h-11.14zM128.29 240.3h11.14v2h-11.14zM161.71 240.3h5.57v2h-5.57zM178.42 240.3h11.14v2h-11.14zM200.71 240.3h5.57v2h-5.57zM228.56 240.3h5.57v2h-5.57zM78.15 242.3h5.57v2h-5.57zM122.72 242.3h5.57v2h-5.57zM150.57 242.3h11.14v2h-11.14zM222.99 242.3h5.57v2h-5.57zM211.85 244.3h5.57v2h-5.57zM228.56 244.3h11.14v2h-11.14zM89.29 246.3h5.57v2h-5.57zM100.44 246.3h5.57v2h-5.57zM145 246.3h5.57v2h-5.57zM200.71 246.3h5.57v2h-5.57zM228.56 246.3h5.57v2h-5.57zM100.44 248.3h11.14v2h-11.14zM139.43 248.3h16.71v2h-16.71zM167.28 248.3h5.57v2h-5.57zM189.56 248.3h5.57v2h-5.57zM200.71 248.3h5.57v2h-5.57zM217.42 248.3h5.57v2h-5.57zM94.86 250.3h5.57v2h-5.57zM222.99 250.3h5.57v2h-5.57zM234.13 250.3h5.57v2h-5.57zM83.72 252.3h5.57v2h-5.57zM117.15 252.3h5.57v2h-5.57zM133.86 252.3h5.57v2h-5.57zM167.28 252.3h5.57v2h-5.57zM178.42 252.3h5.57v2h-5.57zM100.44 254.3h5.57v2h-5.57zM111.58 254.3h11.14v2h-11.14zM145 254.3h5.57v2h-5.57zM178.42 254.3h5.57v2h-5.57zM200.71 254.3h5.57v2h-5.57zM217.42 254.3h5.57v2h-5.57z"/>
<path fill="#051208" shape-rendering="crispEdges" d="M94.86 68.3h5.57v2h-5.57zM128.29 68.3h11.14v2h-11.14zM156.14 68.3h5.57v2h-5.57zM222.99 68.3h5.57v2h-5.57zM94.86 70.3h5.57v2h-5.57zM106.01 70.3h5.57v2h-5.57zM178.42 70.3h5.57v2h-5.57zM195.14 70.3h11.14v2h-11.14zM234.13 70.3h5.57v2h-5.57zM89.29 72.3h5.57v2h-5.57zM145 72.3h5.57v2h-5.57zM172.85 72.3h11.14v2h-11.14zM228.56 72.3h5.57v2h-5.57zM83.72 74.3h5.57v2h-5.57zM150.57 74.3h11.14v2h-11.14zM167.28 74.3h5.57v2h-5.57zM189.56 76.3h5.57v2h-5.57zM228.56 76.3h5.57v2h-5.57zM183.99 78.3h5.57v2h-5.57zM206.28 78.3h16.71v2h-16.71zM100.44 80.3h5.57v2h-5.57zM217.42 80.3h5.57v2h-5.57zM106.01 84.3h5.57v2h-5.57zM200.71 86.3h5.57v2h-5.57zM161.71 90.3h5.57v2h-5.57zM183.99 90.3h5.57v2h-5.57zM89.29 92.3h16.71v2h-16.71zM111.58 92.3h5.57v2h-5.57zM167.28 92.3h5.57v2h-5.57zM217.42 92.3h5.57v2h-5.57zM183.99 94.3h5.57v2h-5.57zM133.86 96.3h5.57v2h-5.57zM206.28 96.3h5.57v2h-5.57zM222.99 96.3h5.57v2h-5.57zM234.13 96.3h5.57v2h-5.57zM67.01 98.3h5.57v2h-5.57zM78.15 98.3h5.57v2h-5.57zM206.28 98.3h5.57v2h-5.57zM89.29 100.3h11.14v2h-11.14zM139.43 100.3h5.57v2h-5.57zM178.42 100.3h11.14v2h-11.14zM89.29 102.3h5.57v2h-5.57zM122.72 102.3h5.57v2h-5.57zM167.28 102.3h5.57v2h-5.57zM222.99 102.3h11.14v2h-11.14zM122.72 104.3h5.57v2h-5.57zM133.86 104.3h5.57v2h-5.57zM189.56 104.3h5.57v2h-5.57zM89.29 106.3h5.57v2h-5.57zM128.29 106.3h5.57v2h-5.57zM83.72 108.3h5.57v2h-5.57zM117.15 108.3h5.57v2h-5.57zM150.57 108.3h5.57v2h-5.57zM228.56 108.3h5.57v2h-5.57zM78.15 110.3h5.57v2h-5.57zM94.86 110.3h5.57v2h-5.57zM167.28 110.3h5.57v2h-5.57zM189.56 110.3h5.57v2h-5.57zM78.15 112.3h5.57v2h-5.57zM94.86 112.3h5.57v2h-5.57zM133.86 112.3h5.57v2h-5.57zM145 112.3h5.57v2h-5.57zM167.28 112.3h5.57v2h-5.57zM189.56 112.3h5.57v2h-5.57zM228.56 112.3h5.57v2h-5.57zM89.29 114.3h5.57v2h-5.57zM133.86 114.3h5.57v2h-5.57zM211.85 114.3h11.14v2h-11.14zM100.44 116.3h5.57v2h-5.57zM133.86 116.3h5.57v2h-5.57zM195.14 116.3h5.57v2h-5.57zM217.42 116.3h5.57v2h-5.57zM234.13 116.3h5.57v2h-5.57zM133.86 118.3h5.57v2h-5.57zM211.85 118.3h5.57v2h-5.57zM106.01 122.3h5.57v2h-5.57zM161.71 122.3h5.57v2h-5.57zM200.71 122.3h5.57v2h-5.57zM133.86 124.3h5.57v2h-5.57zM89.29 126.3h5.57v2h-5.57zM189.56 126.3h5.57v2h-5.57zM200.71 126.3h5.57v2h-5.57zM133.86 128.3h5.57v2h-5.57zM217.42 128.3h5.57v2h-5.57zM189.56 130.3h5.57v2h-5.57zM183.99 132.3h5.57v2h-5.57zM200.71 132.3h5.57v2h-5.57zM167.28 134.3h5.57v2h-5.57zM206.28 134.3h5.57v2h-5.57zM117.15 136.3h5.57v2h-5.57zM133.86 136.3h5.57v2h-5.57zM172.85 136.3h5.57v2h-5.57zM128.29 138.3h5.57v2h-5.57zM139.43 138.3h5.57v2h-5.57zM156.14 138.3h5.57v2h-5.57zM195.14 138.3h5.57v2h-5.57zM222.99 138.3h5.57v2h-5.57zM100.44 140.3h5.57v2h-5.57zM156.14 140.3h5.57v2h-5.57zM150.57 142.3h5.57v2h-5.57zM122.72 144.3h5.57v2h-5.57zM133.86 144.3h5.57v2h-5.57zM161.71 144.3h11.14v2h-11.14zM183.99 144.3h5.57v2h-5.57zM106.01 146.3h5.57v2h-5.57zM139.43 146.3h5.57v2h-5.57zM150.57 146.3h5.57v2h-5.57zM83.72 148.3h5.57v2h-5.57zM183.99 148.3h16.71v2h-16.71zM222.99 148.3h5.57v2h-5.57zM89.29 150.3h11.14v2h-11.14zM106.01 150.3h11.14v2h-11.14zM150.57 150.3h5.57v2h-5.57zM206.28 150.3h5.57v2h-5.57zM150.57 152.3h5.57v2h-5.57zM172.85 152.3h5.57v2h-5.57zM83.72 154.3h5.57v2h-5.57zM206.28 154.3h5.57v2h-5.57zM222.99 154.3h5.57v2h-5.57zM78.15 156.3h5.57v2h-5.57zM89.29 156.3h16.71v2h-16.71zM111.58 156.3h11.14v2h-11.14zM145 156.3h5.57v2h-5.57zM172.85 156.3h11.14v2h-11.14zM106.01 158.3h5.57v2h-5.57zM122.72 158.3h5.57v2h-5.57zM83.72 160.3h5.57v2h-5.57zM111.58 160.3h5.57v2h-5.57zM133.86 160.3h5.57v2h-5.57zM100.44 162.3h5.57v2h-5.57zM128.29 162.3h5.57v2h-5.57zM139.43 162.3h5.57v2h-5.57zM150.57 162.3h5.57v2h-5.57zM178.42 162.3h11.14v2h-11.14zM217.42 162.3h11.14v2h-11.14zM94.86 164.3h5.57v2h-5.57zM106.01 164.3h5.57v2h-5.57zM183.99 164.3h5.57v2h-5.57zM89.29 166.3h5.57v2h-5.57zM117.15 166.3h5.57v2h-5.57zM178.42 166.3h5.57v2h-5.57zM211.85 166.3h5.57v2h-5.57zM89.29 168.3h5.57v2h-5.57zM117.15 168.3h5.57v2h-5.57zM172.85 168.3h5.57v2h-5.57zM234.13 168.3h5.57v2h-5.57zM139.43 170.3h11.14v2h-11.14zM167.28 170.3h5.57v2h-5.57zM195.14 170.3h11.14v2h-11.14zM111.58 172.3h5.57v2h-5.57zM128.29 172.3h5.57v2h-5.57zM156.14 172.3h5.57v2h-5.57zM211.85 172.3h5.57v2h-5.57zM78.15 174.3h5.57v2h-5.57zM111.58 174.3h5.57v2h-5.57zM150.57 174.3h5.57v2h-5.57zM167.28 174.3h16.71v2h-16.71zM189.56 174.3h5.57v2h-5.57zM228.56 174.3h5.57v2h-5.57zM106.01 176.3h5.57v2h-5.57zM133.86 176.3h5.57v2h-5.57zM172.85 176.3h5.57v2h-5.57zM189.56 176.3h11.14v2h-11.14zM78.15 178.3h5.57v2h-5.57zM106.01 178.3h5.57v2h-5.57zM128.29 178.3h5.57v2h-5.57zM156.14 178.3h5.57v2h-5.57zM189.56 178.3h5.57v2h-5.57zM200.71 178.3h11.14v2h-11.14zM217.42 178.3h5.57v2h-5.57zM234.13 178.3h5.57v2h-5.57zM139.43 180.3h5.57v2h-5.57zM161.71 180.3h5.57v2h-5.57zM189.56 180.3h5.57v2h-5.57zM217.42 180.3h5.57v2h-5.57zM83.72 182.3h5.57v2h-5.57zM100.44 182.3h5.57v2h-5.57zM111.58 182.3h5.57v2h-5.57zM178.42 182.3h5.57v2h-5.57zM228.56 182.3h5.57v2h-5.57zM122.72 184.3h5.57v2h-5.57zM150.57 184.3h5.57v2h-5.57zM222.99 184.3h5.57v2h-5.57zM133.86 186.3h11.14v2h-11.14zM172.85 186.3h5.57v2h-5.57zM195.14 186.3h5.57v2h-5.57zM89.29 188.3h5.57v2h-5.57zM139.43 188.3h5.57v2h-5.57zM156.14 188.3h5.57v2h-5.57zM133.86 190.3h5.57v2h-5.57zM161.71 190.3h5.57v2h-5.57zM111.58 192.3h11.14v2h-11.14zM128.29 192.3h5.57v2h-5.57zM139.43 192.3h11.14v2h-11.14zM234.13 192.3h5.57v2h-5.57zM111.58 194.3h5.57v2h-5.57zM139.43 194.3h11.14v2h-11.14zM217.42 194.3h5.57v2h-5.57zM83.72 196.3h5.57v2h-5.57zM133.86 196.3h11.14v2h-11.14zM183.99 196.3h5.57v2h-5.57zM106.01 198.3h5.57v2h-5.57zM117.15 198.3h5.57v2h-5.57zM189.56 198.3h5.57v2h-5.57zM200.71 198.3h5.57v2h-5.57zM83.72 200.3h5.57v2h-5.57zM111.58 200.3h5.57v2h-5.57zM183.99 200.3h5.57v2h-5.57zM228.56 200.3h5.57v2h-5.57zM78.15 202.3h5.57v2h-5.57zM89.29 202.3h5.57v2h-5.57zM117.15 202.3h11.14v2h-11.14zM139.43 202.3h5.57v2h-5.57zM200.71 204.3h5.57v2h-5.57zM217.42 204.3h5.57v2h-5.57zM122.72 206.3h11.14v2h-11.14zM222.99 206.3h5.57v2h-5.57zM78.15 208.3h16.71v2h-16.71zM117.15 208.3h11.14v2h-11.14zM156.14 208.3h5.57v2h-5.57zM167.28 208.3h5.57v2h-5.57zM183.99 208.3h5.57v2h-5.57zM228.56 208.3h5.57v2h-5.57zM100.44 210.3h5.57v2h-5.57zM128.29 210.3h5.57v2h-5.57zM94.86 212.3h5.57v2h-5.57zM117.15 212.3h5.57v2h-5.57zM195.14 212.3h5.57v2h-5.57zM117.15 214.3h5.57v2h-5.57zM128.29 214.3h5.57v2h-5.57zM145 214.3h5.57v2h-5.57zM178.42 214.3h5.57v2h-5.57zM89.29 216.3h5.57v2h-5.57zM128.29 216.3h5.57v2h-5.57zM83.72 218.3h11.14v2h-11.14zM161.71 218.3h5.57v2h-5.57zM106.01 220.3h5.57v2h-5.57zM133.86 220.3h5.57v2h-5.57zM167.28 220.3h5.57v2h-5.57zM94.86 222.3h5.57v2h-5.57zM122.72 222.3h11.14v2h-11.14zM145 222.3h5.57v2h-5.57zM172.85 222.3h5.57v2h-5.57zM150.57 224.3h5.57v2h-5.57zM217.42 224.3h11.14v2h-11.14zM234.13 224.3h5.57v2h-5.57zM122.72 226.3h5.57v2h-5.57zM145 226.3h5.57v2h-5.57zM211.85 226.3h5.57v2h-5.57zM228.56 226.3h5.57v2h-5.57zM83.72 230.3h11.14v2h-11.14zM133.86 230.3h5.57v2h-5.57zM167.28 230.3h5.57v2h-5.57zM189.56 230.3h11.14v2h-11.14zM161.71 232.3h5.57v2h-5.57zM206.28 232.3h5.57v2h-5.57zM222.99 232.3h5.57v2h-5.57zM117.15 234.3h5.57v2h-5.57zM139.43 234.3h5.57v2h-5.57zM150.57 234.3h5.57v2h-5.57zM189.56 234.3h5.57v2h-5.57zM94.86 236.3h11.14v2h-11.14zM117.15 236.3h11.14v2h-11.14zM161.71 236.3h5.57v2h-5.57zM172.85 236.3h5.57v2h-5.57zM195.14 236.3h5.57v2h-5.57zM206.28 236.3h5.57v2h-5.57zM161.71 238.3h5.57v2h-5.57zM189.56 238.3h11.14v2h-11.14zM206.28 238.3h5.57v2h-5.57zM217.42 238.3h5.57v2h-5.57zM234.13 238.3h5.57v2h-5.57zM139.43 240.3h11.14v2h-11.14zM222.99 240.3h5.57v2h-5.57zM234.13 240.3h5.57v2h-5.57zM83.72 242.3h5.57v2h-5.57zM117.15 242.3h5.57v2h-5.57zM128.29 242.3h11.14v2h-11.14zM145 242.3h5.57v2h-5.57zM183.99 242.3h5.57v2h-5.57zM211.85 242.3h5.57v2h-5.57zM78.15 244.3h5.57v2h-5.57zM106.01 244.3h5.57v2h-5.57zM128.29 244.3h5.57v2h-5.57zM178.42 244.3h5.57v2h-5.57zM206.28 244.3h5.57v2h-5.57zM217.42 244.3h11.14v2h-11.14zM94.86 246.3h5.57v2h-5.57zM133.86 246.3h5.57v2h-5.57zM161.71 246.3h5.57v2h-5.57zM172.85 246.3h5.57v2h-5.57zM195.14 246.3h5.57v2h-5.57zM217.42 246.3h5.57v2h-5.57zM117.15 248.3h5.57v2h-5.57zM161.71 248.3h5.57v2h-5.57zM183.99 248.3h5.57v2h-5.57zM89.29 250.3h5.57v2h-5.57zM117.15 250.3h5.57v2h-5.57zM167.28 250.3h5.57v2h-5.57zM206.28 250.3h5.57v2h-5.57zM78.15 252.3h5.57v2h-5.57zM172.85 252.3h5.57v2h-5.57zM183.99 252.3h5.57v2h-5.57zM89.29 254.3h11.14v2h-11.14zM156.14 254.3h5.57v2h-5.57zM189.56 254.3h5.57v2h-5.57z"/>
<path fill="#130103" shape-rendering="crispEdges" d="M122.72 68.3h5.57v2h-5.57zM145 68.3h5.57v2h-5.57zM78.15 72.3h5.57v2h-5.57zM161.71 72.3h5.57v2h-5.57zM189.56 72.3h5.57v2h-5.57zM78.15 74.3h5.57v2h-5.57zM89.29 74.3h5.57v2h-5.57zM117.15 74.3h5.57v2h-5.57zM133.86 74.3h5.57v2h-5.57zM83.72 76.3h5.57v2h-5.57zM111.58 76.3h11.14v2h-11.14zM128.29 76.3h5.57v2h-5.57zM139.43 76.3h5.57v2h-5.57zM133.86 78.3h11.14v2h-11.14zM172.85 78.3h5.57v2h-5.57zM94.86 80.3h5.57v2h-5.57zM128.29 80.3h16.71v2h-16.71zM156.14 80.3h5.57v2h-5.57zM189.56 80.3h11.14v2h-11.14zM145 82.3h11.14v2h-11.14zM206.28 82.3h5.57v2h-5.57zM217.42 82.3h5.57v2h-5.57zM234.13 82.3h5.57v2h-5.57zM122.72 84.3h11.14v2h-11.14zM178.42 84.3h5.57v2h-5.57zM189.56 84.3h5.57v2h-5.57zM89.29 86.3h5.57v2h-5.57zM128.29 86.3h5.57v2h-5.57zM145 86.3h5.57v2h-5.57zM128.29 88.3h5.57v2h-5.57zM217.42 88.3h5.57v2h-5.57zM83.72 90.3h5.57v2h-5.57zM189.56 90.3h5.57v2h-5.57zM217.42 90.3h5.57v2h-5.57zM150.57 92.3h5.57v2h-5.57zM117.15 94.3h5.57v2h-5.57zM133.86 94.3h11.14v2h-11.14zM128.29 96.3h5.57v2h-5.57zM200.71 96.3h5.57v2h-5.57zM89.29 98.3h5.57v2h-5.57zM161.71 98.3h5.57v2h-5.57zM234.13 98.3h5.57v2h-5.57zM133.86 100.3h5.57v2h-5.57zM150.57 100.3h5.57v2h-5.57zM161.71 100.3h5.57v2h-5.57zM117.15 102.3h5.57v2h-5.57zM133.86 102.3h5.57v2h-5.57zM145 102.3h11.14v2h-11.14zM172.85 102.3h5.57v2h-5.57zM189.56 102.3h5.57v2h-5.57zM217.42 102.3h5.57v2h-5.57zM150.57 104.3h5.57v2h-5.57zM122.72 106.3h5.57v2h-5.57zM195.14 106.3h16.71v2h-16.71zM133.86 108.3h11.14v2h-11.14zM178.42 108.3h5.57v2h-5.57zM172.85 110.3h5.57v2h-5.57zM122.72 112.3h5.57v2h-5.57zM178.42 112.3h5.57v2h-5.57zM94.86 114.3h5.57v2h-5.57zM234.13 114.3h5.57v2h-5.57zM117.15 116.3h11.14v2h-11.14zM206.28 116.3h5.57v2h-5.57zM183.99 118.3h5.57v2h-5.57zM89.29 120.3h5.57v2h-5.57zM100.44 120.3h11.14v2h-11.14zM78.15 122.3h5.57v2h-5.57zM111.58 122.3h5.57v2h-5.57zM167.28 122.3h5.57v2h-5.57zM195.14 122.3h5.57v2h-5.57zM89.29 124.3h5.57v2h-5.57zM133.86 126.3h5.57v2h-5.57zM161.71 126.3h5.57v2h-5.57zM178.42 126.3h5.57v2h-5.57zM89.29 128.3h5.57v2h-5.57zM178.42 128.3h5.57v2h-5.57zM78.15 130.3h5.57v2h-5.57zM100.44 130.3h5.57v2h-5.57zM117.15 130.3h5.57v2h-5.57zM150.57 130.3h5.57v2h-5.57zM178.42 130.3h5.57v2h-5.57zM78.15 132.3h11.14v2h-11.14zM145 132.3h5.57v2h-5.57zM234.13 132.3h5.57v2h-5.57zM94.86 134.3h5.57v2h-5.57zM128.29 134.3h5.57v2h-5.57zM156.14 134.3h5.57v2h-5.57zM161.71 136.3h5.57v2h-5.57zM183.99 136.3h11.14v2h-11.14zM228.56 136.3h11.14v2h-11.14zM111.58 138.3h5.57v2h-5.57zM161.71 140.3h5.57v2h-5.57zM172.85 140.3h11.14v2h-11.14zM83.72 142.3h5.57v2h-5.57zM195.14 142.3h5.57v2h-5.57zM228.56 142.3h5.57v2h-5.57zM89.29 144.3h5.57v2h-5.57zM89.29 146.3h5.57v2h-5.57zM117.15 146.3h11.14v2h-11.14zM178.42 146.3h5.57v2h-5.57zM78.15 148.3h5.57v2h-5.57zM111.58 148.3h5.57v2h-5.57zM122.72 148.3h5.57v2h-5.57zM139.43 148.3h5.57v2h-5.57zM234.13 148.3h5.57v2h-5.57zM106.01 152.3h5.57v2h-5.57zM195.14 152.3h5.57v2h-5.57zM100.44 154.3h11.14v2h-11.14zM211.85 154.3h5.57v2h-5.57zM133.86 156.3h5.57v2h-5.57zM228.56 156.3h5.57v2h-5.57zM195.14 158.3h5.57v2h-5.57zM156.14 160.3h5.57v2h-5.57zM167.28 160.3h5.57v2h-5.57zM111.58 162.3h5.57v2h-5.57zM133.86 162.3h5.57v2h-5.57zM145 162.3h5.57v2h-5.57zM156.14 162.3h11.14v2h-11.14zM78.15 166.3h5.57v2h-5.57zM106.01 166.3h5.57v2h-5.57zM128.29 166.3h5.57v2h-5.57zM156.14 166.3h5.57v2h-5.57zM167.28 166.3h5.57v2h-5.57zM83.72 168.3h5.57v2h-5.57zM133.86 168.3h5.57v2h-5.57zM195.14 168.3h5.57v2h-5.57zM150.57 170.3h5.57v2h-5.57zM217.42 172.3h5.57v2h-5.57zM206.28 174.3h5.57v2h-5.57zM234.13 174.3h5.57v2h-5.57zM206.28 176.3h11.14v2h-11.14zM94.86 178.3h5.57v2h-5.57zM117.15 178.3h5.57v2h-5.57zM161.71 178.3h5.57v2h-5.57zM150.57 180.3h11.14v2h-11.14zM195.14 180.3h5.57v2h-5.57zM228.56 180.3h5.57v2h-5.57zM78.15 182.3h5.57v2h-5.57zM150.57 182.3h11.14v2h-11.14zM117.15 184.3h5.57v2h-5.57zM178.42 184.3h5.57v2h-5.57zM234.13 184.3h5.57v2h-5.57zM94.86 188.3h5.57v2h-5.57zM128.29 188.3h5.57v2h-5.57zM195.14 188.3h5.57v2h-5.57zM189.56 190.3h5.57v2h-5.57zM172.85 192.3h11.14v2h-11.14zM206.28 192.3h5.57v2h-5.57zM150.57 194.3h5.57v2h-5.57zM206.28 194.3h5.57v2h-5.57zM145 196.3h5.57v2h-5.57zM200.71 196.3h5.57v2h-5.57zM228.56 196.3h5.57v2h-5.57zM111.58 198.3h5.57v2h-5.57zM156.14 198.3h5.57v2h-5.57zM139.43 200.3h5.57v2h-5.57zM156.14 200.3h5.57v2h-5.57zM189.56 200.3h11.14v2h-11.14zM206.28 200.3h5.57v2h-5.57zM94.86 202.3h5.57v2h-5.57zM106.01 202.3h5.57v2h-5.57zM133.86 202.3h5.57v2h-5.57zM161.71 202.3h5.57v2h-5.57zM172.85 202.3h5.57v2h-5.57zM222.99 202.3h5.57v2h-5.57zM234.13 202.3h5.57v2h-5.57zM222.99 204.3h11.14v2h-11.14zM139.43 206.3h5.57v2h-5.57zM106.01 208.3h5.57v2h-5.57zM133.86 208.3h11.14v2h-11.14zM150.57 208.3h5.57v2h-5.57zM211.85 208.3h5.57v2h-5.57zM222.99 208.3h5.57v2h-5.57zM161.71 210.3h5.57v2h-5.57zM228.56 210.3h5.57v2h-5.57zM167.28 212.3h11.14v2h-11.14zM183.99 212.3h5.57v2h-5.57zM111.58 214.3h5.57v2h-5.57zM211.85 214.3h11.14v2h-11.14zM167.28 216.3h5.57v2h-5.57zM178.42 216.3h5.57v2h-5.57zM189.56 216.3h5.57v2h-5.57zM211.85 216.3h5.57v2h-5.57zM234.13 216.3h5.57v2h-5.57zM122.72 218.3h5.57v2h-5.57zM133.86 218.3h5.57v2h-5.57zM167.28 218.3h11.14v2h-11.14zM206.28 218.3h5.57v2h-5.57zM150.57 220.3h5.57v2h-5.57zM67.01 222.3h5.57v2h-5.57zM106.01 222.3h5.57v2h-5.57zM195.14 222.3h5.57v2h-5.57zM217.42 222.3h5.57v2h-5.57zM183.99 224.3h16.71v2h-16.71zM228.56 224.3h5.57v2h-5.57zM78.15 226.3h5.57v2h-5.57zM100.44 226.3h5.57v2h-5.57zM234.13 226.3h5.57v2h-5.57zM211.85 228.3h5.57v2h-5.57zM228.56 228.3h5.57v2h-5.57zM117.15 230.3h5.57v2h-5.57zM156.14 230.3h5.57v2h-5.57zM211.85 230.3h5.57v2h-5.57zM222.99 230.3h5.57v2h-5.57zM150.57 232.3h5.57v2h-5.57zM189.56 232.3h5.57v2h-5.57zM217.42 232.3h5.57v2h-5.57zM133.86 234.3h5.57v2h-5.57zM161.71 234.3h5.57v2h-5.57zM183.99 234.3h5.57v2h-5.57zM200.71 234.3h5.57v2h-5.57zM145 236.3h5.57v2h-5.57zM78.15 240.3h5.57v2h-5.57zM211.85 240.3h5.57v2h-5.57zM161.71 242.3h5.57v2h-5.57zM111.58 244.3h5.57v2h-5.57zM133.86 244.3h5.57v2h-5.57zM156.14 244.3h11.14v2h-11.14zM200.71 244.3h5.57v2h-5.57zM78.15 246.3h11.14v2h-11.14zM139.43 246.3h5.57v2h-5.57zM178.42 246.3h11.14v2h-11.14zM211.85 246.3h5.57v2h-5.57zM83.72 248.3h5.57v2h-5.57zM122.72 248.3h5.57v2h-5.57zM145 250.3h5.57v2h-5.57zM195.14 250.3h5.57v2h-5.57zM94.86 252.3h5.57v2h-5.57zM128.29 252.3h5.57v2h-5.57zM222.99 252.3h5.57v2h-5.57zM234.13 252.3h5.57v2h-5.57zM150.57 254.3h5.57v2h-5.57zM172.85 254.3h5.57v2h-5.57z"/>
<path fill="#260306" shape-rendering="crispEdges" d="M139.43 68.3h5.57v2h-5.57zM122.72 76.3h5.57v2h-5.57zM178.42 76.3h5.57v2h-5.57zM200.71 76.3h5.57v2h-5.57zM117.15 78.3h5.57v2h-5.57zM128.29 78.3h5.57v2h-5.57zM167.28 78.3h5.57v2h-5.57zM117.15 80.3h5.57v2h-5.57zM145 80.3h5.57v2h-5.57zM94.86 82.3h5.57v2h-5.57zM117.15 82.3h5.57v2h-5.57zM156.14 82.3h5.57v2h-5.57zM139.43 84.3h5.57v2h-5.57zM161.71 86.3h5.57v2h-5.57zM195.14 86.3h5.57v2h-5.57zM122.72 88.3h5.57v2h-5.57zM139.43 88.3h5.57v2h-5.57zM150.57 88.3h5.57v2h-5.57zM161.71 88.3h5.57v2h-5.57zM183.99 88.3h5.57v2h-5.57zM122.72 90.3h5.57v2h-5.57zM117.15 92.3h5.57v2h-5.57zM133.86 92.3h5.57v2h-5.57zM145 92.3h5.57v2h-5.57zM161.71 92.3h5.57v2h-5.57zM178.42 92.3h5.57v2h-5.57zM189.56 92.3h5.57v2h-5.57zM128.29 94.3h5.57v2h-5.57zM150.57 94.3h5.57v2h-5.57zM161.71 94.3h22.28v2h-22.28zM200.71 94.3h5.57v2h-5.57zM122.72 96.3h5.57v2h-5.57zM156.14 96.3h5.57v2h-5.57zM172.85 96.3h5.57v2h-5.57zM117.15 98.3h5.57v2h-5.57zM183.99 98.3h5.57v2h-5.57zM145 100.3h5.57v2h-5.57zM83.72 106.3h5.57v2h-5.57zM100.44 106.3h5.57v2h-5.57zM167.28 106.3h11.14v2h-11.14zM195.14 108.3h5.57v2h-5.57zM117.15 110.3h5.57v2h-5.57zM128.29 110.3h5.57v2h-5.57zM150.57 110.3h5.57v2h-5.57zM200.71 110.3h5.57v2h-5.57zM100.44 114.3h5.57v2h-5.57zM117.15 114.3h5.57v2h-5.57zM128.29 114.3h5.57v2h-5.57zM139.43 114.3h5.57v2h-5.57zM156.14 114.3h5.57v2h-5.57zM200.71 114.3h5.57v2h-5.57zM222.99 114.3h5.57v2h-5.57zM78.15 118.3h11.14v2h-11.14zM161.71 118.3h16.71v2h-16.71zM189.56 118.3h5.57v2h-5.57zM78.15 120.3h5.57v2h-5.57zM111.58 120.3h5.57v2h-5.57zM200.71 120.3h5.57v2h-5.57zM83.72 122.3h5.57v2h-5.57zM139.43 122.3h5.57v2h-5.57zM217.42 122.3h5.57v2h-5.57zM94.86 124.3h5.57v2h-5.57zM111.58 124.3h5.57v2h-5.57zM172.85 124.3h5.57v2h-5.57zM228.56 124.3h5.57v2h-5.57zM100.44 126.3h5.57v2h-5.57zM78.15 128.3h11.14v2h-11.14zM111.58 128.3h5.57v2h-5.57zM145 128.3h5.57v2h-5.57zM206.28 130.3h5.57v2h-5.57zM106.01 132.3h5.57v2h-5.57zM122.72 132.3h5.57v2h-5.57zM189.56 132.3h11.14v2h-11.14zM183.99 134.3h5.57v2h-5.57zM106.01 136.3h5.57v2h-5.57zM139.43 136.3h5.57v2h-5.57zM206.28 136.3h5.57v2h-5.57zM122.72 138.3h5.57v2h-5.57zM189.56 138.3h5.57v2h-5.57zM200.71 138.3h5.57v2h-5.57zM122.72 140.3h5.57v2h-5.57zM133.86 140.3h5.57v2h-5.57zM117.15 142.3h11.14v2h-11.14zM234.13 142.3h5.57v2h-5.57zM234.13 144.3h5.57v2h-5.57zM100.44 146.3h5.57v2h-5.57zM111.58 146.3h5.57v2h-5.57zM128.29 146.3h5.57v2h-5.57zM200.71 146.3h11.14v2h-11.14zM222.99 146.3h5.57v2h-5.57zM234.13 146.3h5.57v2h-5.57zM106.01 148.3h5.57v2h-5.57zM167.28 148.3h5.57v2h-5.57zM100.44 150.3h5.57v2h-5.57zM128.29 150.3h5.57v2h-5.57zM183.99 150.3h5.57v2h-5.57zM122.72 152.3h5.57v2h-5.57zM78.15 154.3h5.57v2h-5.57zM167.28 156.3h5.57v2h-5.57zM189.56 156.3h5.57v2h-5.57zM156.14 158.3h5.57v2h-5.57zM139.43 160.3h5.57v2h-5.57zM172.85 162.3h5.57v2h-5.57zM156.14 164.3h5.57v2h-5.57zM145 166.3h5.57v2h-5.57zM161.71 166.3h5.57v2h-5.57zM189.56 166.3h5.57v2h-5.57zM122.72 168.3h5.57v2h-5.57zM145 168.3h5.57v2h-5.57zM206.28 168.3h11.14v2h-11.14zM139.43 172.3h5.57v2h-5.57zM206.28 172.3h5.57v2h-5.57zM222.99 172.3h5.57v2h-5.57zM139.43 174.3h5.57v2h-5.57zM183.99 174.3h5.57v2h-5.57zM111.58 176.3h5.57v2h-5.57zM228.56 176.3h11.14v2h-11.14zM178.42 178.3h5.57v2h-5.57zM183.99 180.3h5.57v2h-5.57zM234.13 180.3h5.57v2h-5.57zM172.85 182.3h5.57v2h-5.57zM133.86 184.3h5.57v2h-5.57zM156.14 184.3h5.57v2h-5.57zM78.15 188.3h5.57v2h-5.57zM161.71 188.3h5.57v2h-5.57zM128.29 190.3h5.57v2h-5.57zM161.71 192.3h5.57v2h-5.57zM89.29 194.3h5.57v2h-5.57zM211.85 194.3h5.57v2h-5.57zM217.42 198.3h5.57v2h-5.57zM234.13 198.3h5.57v2h-5.57zM145 200.3h5.57v2h-5.57zM211.85 200.3h5.57v2h-5.57zM211.85 202.3h5.57v2h-5.57zM206.28 204.3h5.57v2h-5.57zM234.13 204.3h5.57v2h-5.57zM145 206.3h5.57v2h-5.57zM161.71 208.3h5.57v2h-5.57zM178.42 208.3h5.57v2h-5.57zM111.58 210.3h5.57v2h-5.57zM228.56 212.3h5.57v2h-5.57zM83.72 214.3h5.57v2h-5.57zM167.28 214.3h5.57v2h-5.57zM234.13 214.3h5.57v2h-5.57zM145 216.3h5.57v2h-5.57zM100.44 218.3h5.57v2h-5.57zM228.56 218.3h11.14v2h-11.14zM61.44 222.3h5.57v2h-5.57zM72.58 222.3h5.57v2h-5.57zM139.43 222.3h5.57v2h-5.57zM211.85 222.3h5.57v2h-5.57zM172.85 224.3h5.57v2h-5.57zM83.72 226.3h5.57v2h-5.57zM94.86 226.3h5.57v2h-5.57zM139.43 226.3h5.57v2h-5.57zM156.14 226.3h16.71v2h-16.71zM183.99 226.3h5.57v2h-5.57zM200.71 226.3h5.57v2h-5.57zM217.42 228.3h5.57v2h-5.57zM100.44 230.3h5.57v2h-5.57zM200.71 230.3h5.57v2h-5.57zM100.44 232.3h5.57v2h-5.57zM139.43 232.3h11.14v2h-11.14zM189.56 236.3h5.57v2h-5.57zM122.72 238.3h5.57v2h-5.57zM117.15 240.3h5.57v2h-5.57zM195.14 240.3h5.57v2h-5.57zM150.57 244.3h5.57v2h-5.57zM167.28 244.3h11.14v2h-11.14zM195.14 244.3h5.57v2h-5.57zM111.58 246.3h5.57v2h-5.57zM172.85 248.3h5.57v2h-5.57zM222.99 248.3h5.57v2h-5.57zM111.58 250.3h5.57v2h-5.57zM189.56 250.3h5.57v2h-5.57zM122.72 254.3h5.57v2h-5.57zM183.99 254.3h5.57v2h-5.57zM195.14 254.3h5.57v2h-5.57zM228.56 254.3h11.14v2h-11.14z"/>
<path fill="#3a0509" shape-rendering="crispEdges" d="M183.99 68.3h5.57v2h-5.57zM161.71 70.3h5.57v2h-5.57zM217.42 70.3h5.57v2h-5.57zM128.29 72.3h5.57v2h-5.57zM183.99 72.3h5.57v2h-5.57zM100.44 74.3h5.57v2h-5.57zM94.86 78.3h11.14v2h-11.14zM200.71 80.3h5.57v2h-5.57zM222.99 80.3h5.57v2h-5.57zM100.44 82.3h5.57v2h-5.57zM167.28 82.3h5.57v2h-5.57zM183.99 82.3h11.14v2h-11.14zM200.71 82.3h5.57v2h-5.57zM172.85 84.3h5.57v2h-5.57zM106.01 86.3h5.57v2h-5.57zM94.86 88.3h5.57v2h-5.57zM167.28 88.3h5.57v2h-5.57zM117.15 90.3h5.57v2h-5.57zM128.29 90.3h11.14v2h-11.14zM183.99 92.3h5.57v2h-5.57zM195.14 94.3h5.57v2h-5.57zM94.86 96.3h5.57v2h-5.57zM145 96.3h11.14v2h-11.14zM183.99 96.3h5.57v2h-5.57zM195.14 96.3h5.57v2h-5.57zM83.72 98.3h5.57v2h-5.57zM106.01 98.3h5.57v2h-5.57zM167.28 98.3h5.57v2h-5.57zM189.56 98.3h11.14v2h-11.14zM211.85 98.3h5.57v2h-5.57zM117.15 100.3h5.57v2h-5.57zM172.85 100.3h5.57v2h-5.57zM156.14 102.3h5.57v2h-5.57zM195.14 102.3h5.57v2h-5.57zM145 104.3h5.57v2h-5.57zM156.14 104.3h5.57v2h-5.57zM189.56 106.3h5.57v2h-5.57zM139.43 110.3h5.57v2h-5.57zM139.43 112.3h5.57v2h-5.57zM161.71 112.3h5.57v2h-5.57zM122.72 114.3h5.57v2h-5.57zM172.85 114.3h5.57v2h-5.57zM94.86 116.3h5.57v2h-5.57zM200.71 116.3h5.57v2h-5.57zM128.29 118.3h5.57v2h-5.57zM200.71 118.3h5.57v2h-5.57zM83.72 120.3h5.57v2h-5.57zM189.56 120.3h5.57v2h-5.57zM89.29 122.3h5.57v2h-5.57zM100.44 124.3h5.57v2h-5.57zM122.72 124.3h11.14v2h-11.14zM161.71 124.3h5.57v2h-5.57zM195.14 124.3h5.57v2h-5.57zM78.15 126.3h5.57v2h-5.57zM128.29 126.3h5.57v2h-5.57zM172.85 126.3h5.57v2h-5.57zM222.99 128.3h5.57v2h-5.57zM83.72 130.3h11.14v2h-11.14zM106.01 130.3h11.14v2h-11.14zM122.72 130.3h5.57v2h-5.57zM89.29 132.3h5.57v2h-5.57zM117.15 132.3h5.57v2h-5.57zM128.29 132.3h5.57v2h-5.57zM78.15 134.3h5.57v2h-5.57zM100.44 134.3h5.57v2h-5.57zM133.86 134.3h22.28v2h-22.28zM111.58 136.3h5.57v2h-5.57zM156.14 136.3h5.57v2h-5.57zM106.01 138.3h5.57v2h-5.57zM111.58 140.3h5.57v2h-5.57zM167.28 140.3h5.57v2h-5.57zM139.43 142.3h11.14v2h-11.14zM156.14 142.3h11.14v2h-11.14zM178.42 142.3h5.57v2h-5.57zM206.28 142.3h5.57v2h-5.57zM189.56 144.3h5.57v2h-5.57zM200.71 148.3h5.57v2h-5.57zM139.43 150.3h5.57v2h-5.57zM156.14 150.3h5.57v2h-5.57zM189.56 150.3h5.57v2h-5.57zM139.43 152.3h5.57v2h-5.57zM156.14 152.3h5.57v2h-5.57zM133.86 154.3h5.57v2h-5.57zM150.57 156.3h5.57v2h-5.57zM150.57 160.3h5.57v2h-5.57zM122.72 164.3h5.57v2h-5.57zM228.56 164.3h5.57v2h-5.57zM83.72 166.3h5.57v2h-5.57zM100.44 166.3h5.57v2h-5.57zM139.43 166.3h5.57v2h-5.57zM172.85 166.3h5.57v2h-5.57zM206.28 166.3h5.57v2h-5.57zM100.44 168.3h5.57v2h-5.57zM161.71 168.3h5.57v2h-5.57zM78.15 172.3h5.57v2h-5.57zM106.01 172.3h5.57v2h-5.57zM133.86 174.3h5.57v2h-5.57zM217.42 174.3h5.57v2h-5.57zM139.43 178.3h5.57v2h-5.57zM172.85 178.3h5.57v2h-5.57zM145 182.3h5.57v2h-5.57zM183.99 182.3h5.57v2h-5.57zM217.42 182.3h5.57v2h-5.57zM111.58 184.3h5.57v2h-5.57zM183.99 188.3h5.57v2h-5.57zM100.44 192.3h5.57v2h-5.57zM217.42 200.3h5.57v2h-5.57zM111.58 204.3h5.57v2h-5.57zM217.42 210.3h5.57v2h-5.57zM50.3 214.3h5.57v2h-5.57zM145 220.3h5.57v2h-5.57zM217.42 220.3h5.57v2h-5.57zM228.56 220.3h5.57v2h-5.57zM50.3 222.3h11.14v2h-11.14zM206.28 224.3h5.57v2h-5.57zM128.29 234.3h5.57v2h-5.57zM111.58 236.3h5.57v2h-5.57zM100.44 242.3h5.57v2h-5.57zM111.58 242.3h5.57v2h-5.57zM228.56 242.3h5.57v2h-5.57zM133.86 248.3h5.57v2h-5.57zM128.29 250.3h5.57v2h-5.57zM172.85 250.3h5.57v2h-5.57zM211.85 250.3h5.57v2h-5.57zM106.01 254.3h5.57v2h-5.57zM128.29 254.3h5.57v2h-5.57zM161.71 254.3h5.57v2h-5.57z"/>
<path fill="#4d070c" shape-rendering="crispEdges" d="M83.72 70.3h11.14v2h-11.14zM117.15 70.3h5.57v2h-5.57zM150.57 70.3h5.57v2h-5.57zM94.86 74.3h5.57v2h-5.57zM133.86 76.3h5.57v2h-5.57zM195.14 76.3h5.57v2h-5.57zM161.71 78.3h5.57v2h-5.57zM122.72 80.3h5.57v2h-5.57zM167.28 80.3h5.57v2h-5.57zM178.42 80.3h5.57v2h-5.57zM128.29 82.3h5.57v2h-5.57zM161.71 82.3h5.57v2h-5.57zM172.85 82.3h11.14v2h-11.14zM195.14 82.3h5.57v2h-5.57zM211.85 82.3h5.57v2h-5.57zM150.57 84.3h16.71v2h-16.71zM178.42 86.3h5.57v2h-5.57zM189.56 86.3h5.57v2h-5.57zM117.15 88.3h5.57v2h-5.57zM133.86 88.3h5.57v2h-5.57zM145 88.3h5.57v2h-5.57zM195.14 88.3h5.57v2h-5.57zM167.28 90.3h5.57v2h-5.57zM172.85 92.3h5.57v2h-5.57zM178.42 96.3h5.57v2h-5.57zM122.72 98.3h5.57v2h-5.57zM145 98.3h11.14v2h-11.14zM189.56 100.3h5.57v2h-5.57zM128.29 102.3h5.57v2h-5.57zM183.99 102.3h5.57v2h-5.57zM78.15 106.3h5.57v2h-5.57zM145 108.3h5.57v2h-5.57zM89.29 110.3h5.57v2h-5.57zM156.14 110.3h5.57v2h-5.57zM183.99 110.3h5.57v2h-5.57zM117.15 112.3h5.57v2h-5.57zM128.29 112.3h5.57v2h-5.57zM183.99 112.3h5.57v2h-5.57zM161.71 114.3h5.57v2h-5.57zM83.72 116.3h5.57v2h-5.57zM128.29 116.3h5.57v2h-5.57zM150.57 116.3h5.57v2h-5.57zM161.71 116.3h5.57v2h-5.57zM178.42 116.3h5.57v2h-5.57zM94.86 118.3h5.57v2h-5.57zM94.86 120.3h5.57v2h-5.57zM94.86 122.3h5.57v2h-5.57zM183.99 124.3h5.57v2h-5.57zM200.71 124.3h5.57v2h-5.57zM94.86 126.3h5.57v2h-5.57zM106.01 126.3h11.14v2h-11.14zM94.86 128.3h5.57v2h-5.57zM200.71 128.3h5.57v2h-5.57zM94.86 132.3h5.57v2h-5.57zM200.71 134.3h5.57v2h-5.57zM122.72 136.3h5.57v2h-5.57zM145 136.3h5.57v2h-5.57zM195.14 136.3h5.57v2h-5.57zM94.86 138.3h5.57v2h-5.57zM161.71 138.3h5.57v2h-5.57zM128.29 140.3h5.57v2h-5.57zM145 140.3h5.57v2h-5.57zM78.15 142.3h5.57v2h-5.57zM200.71 142.3h5.57v2h-5.57zM106.01 144.3h16.71v2h-16.71zM178.42 144.3h5.57v2h-5.57zM117.15 148.3h5.57v2h-5.57zM172.85 150.3h5.57v2h-5.57zM195.14 150.3h5.57v2h-5.57zM183.99 152.3h5.57v2h-5.57zM228.56 154.3h5.57v2h-5.57zM50.3 162.3h5.57v2h-5.57zM178.42 168.3h5.57v2h-5.57zM156.14 174.3h5.57v2h-5.57zM195.14 174.3h5.57v2h-5.57zM94.86 182.3h5.57v2h-5.57zM100.44 184.3h5.57v2h-5.57zM139.43 184.3h5.57v2h-5.57zM167.28 184.3h5.57v2h-5.57zM189.56 184.3h5.57v2h-5.57zM217.42 184.3h5.57v2h-5.57zM222.99 186.3h5.57v2h-5.57zM167.28 192.3h5.57v2h-5.57zM206.28 208.3h5.57v2h-5.57zM234.13 208.3h5.57v2h-5.57zM50.3 212.3h5.57v2h-5.57zM61.44 212.3h5.57v2h-5.57zM72.58 212.3h5.57v2h-5.57zM211.85 212.3h5.57v2h-5.57zM61.44 214.3h16.71v2h-16.71zM228.56 214.3h5.57v2h-5.57zM172.85 216.3h5.57v2h-5.57zM150.57 218.3h5.57v2h-5.57zM217.42 218.3h5.57v2h-5.57zM106.01 226.3h5.57v2h-5.57zM206.28 226.3h5.57v2h-5.57zM89.29 228.3h5.57v2h-5.57zM94.86 240.3h5.57v2h-5.57zM89.29 244.3h5.57v2h-5.57zM100.44 244.3h5.57v2h-5.57z"/>
<path fill="#60090f" shape-rendering="crispEdges" d="M172.85 76.3h5.57v2h-5.57zM178.42 78.3h5.57v2h-5.57zM200.71 78.3h5.57v2h-5.57zM89.29 80.3h5.57v2h-5.57zM83.72 82.3h5.57v2h-5.57zM117.15 86.3h5.57v2h-5.57zM150.57 86.3h5.57v2h-5.57zM106.01 88.3h5.57v2h-5.57zM172.85 88.3h5.57v2h-5.57zM172.85 90.3h5.57v2h-5.57zM122.72 92.3h5.57v2h-5.57zM111.58 96.3h5.57v2h-5.57zM161.71 96.3h5.57v2h-5.57zM189.56 96.3h5.57v2h-5.57zM128.29 98.3h5.57v2h-5.57zM156.14 98.3h5.57v2h-5.57zM172.85 98.3h5.57v2h-5.57zM161.71 104.3h5.57v2h-5.57zM145 114.3h5.57v2h-5.57zM183.99 114.3h5.57v2h-5.57zM78.15 116.3h5.57v2h-5.57zM89.29 116.3h5.57v2h-5.57zM111.58 116.3h5.57v2h-5.57zM100.44 118.3h5.57v2h-5.57zM111.58 118.3h5.57v2h-5.57zM145 118.3h5.57v2h-5.57zM128.29 122.3h5.57v2h-5.57zM172.85 122.3h5.57v2h-5.57zM106.01 128.3h5.57v2h-5.57zM100.44 132.3h5.57v2h-5.57zM111.58 132.3h5.57v2h-5.57zM200.71 136.3h5.57v2h-5.57zM117.15 138.3h5.57v2h-5.57zM83.72 140.3h5.57v2h-5.57zM94.86 144.3h5.57v2h-5.57zM78.15 146.3h5.57v2h-5.57zM156.14 148.3h5.57v2h-5.57zM145 150.3h5.57v2h-5.57zM55.87 162.3h22.28v2h-22.28zM55.87 208.3h5.57v2h-5.57zM72.58 208.3h5.57v2h-5.57zM55.87 212.3h5.57v2h-5.57zM67.01 212.3h5.57v2h-5.57zM217.42 212.3h5.57v2h-5.57zM55.87 214.3h5.57v2h-5.57zM50.3 216.3h5.57v2h-5.57zM217.42 216.3h5.57v2h-5.57zM50.3 220.3h27.85v2h-27.85zM128.29 232.3h5.57v2h-5.57zM122.72 246.3h5.57v2h-5.57zM83.72 250.3h5.57v2h-5.57zM133.86 250.3h5.57v2h-5.57z"/>
<path fill="#740b13" shape-rendering="crispEdges" d="M183.99 80.3h5.57v2h-5.57zM89.29 82.3h5.57v2h-5.57zM139.43 82.3h5.57v2h-5.57zM100.44 84.3h5.57v2h-5.57zM106.01 90.3h5.57v2h-5.57zM195.14 90.3h5.57v2h-5.57zM117.15 96.3h5.57v2h-5.57zM139.43 98.3h5.57v2h-5.57zM200.71 98.3h5.57v2h-5.57zM195.14 100.3h11.14v2h-11.14zM150.57 106.3h5.57v2h-5.57zM78.15 114.3h5.57v2h-5.57zM106.01 116.3h5.57v2h-5.57zM89.29 118.3h5.57v2h-5.57zM106.01 118.3h5.57v2h-5.57zM139.43 118.3h5.57v2h-5.57zM83.72 124.3h5.57v2h-5.57zM106.01 124.3h5.57v2h-5.57zM178.42 124.3h5.57v2h-5.57zM83.72 126.3h5.57v2h-5.57zM178.42 136.3h5.57v2h-5.57zM89.29 140.3h5.57v2h-5.57zM217.42 142.3h5.57v2h-5.57zM172.85 144.3h5.57v2h-5.57zM122.72 150.3h5.57v2h-5.57zM133.86 150.3h5.57v2h-5.57zM178.42 150.3h5.57v2h-5.57zM61.44 156.3h5.57v2h-5.57zM72.58 174.3h5.57v2h-5.57zM211.85 178.3h5.57v2h-5.57zM150.57 200.3h5.57v2h-5.57zM50.3 208.3h5.57v2h-5.57zM61.44 208.3h11.14v2h-11.14zM55.87 216.3h5.57v2h-5.57zM67.01 216.3h11.14v2h-11.14zM206.28 216.3h5.57v2h-5.57zM50.3 218.3h27.85v2h-27.85zM222.99 218.3h5.57v2h-5.57z"/>
<path fill="#870c16" shape-rendering="crispEdges" d="M100.44 68.3h5.57v2h-5.57zM133.86 82.3h5.57v2h-5.57zM139.43 90.3h5.57v2h-5.57zM128.29 92.3h5.57v2h-5.57zM133.86 98.3h5.57v2h-5.57zM200.71 102.3h5.57v2h-5.57zM156.14 112.3h5.57v2h-5.57zM117.15 118.3h5.57v2h-5.57zM145 126.3h5.57v2h-5.57zM94.86 142.3h5.57v2h-5.57zM83.72 146.3h5.57v2h-5.57zM67.01 154.3h5.57v2h-5.57zM50.3 156.3h11.14v2h-11.14zM72.58 156.3h5.57v2h-5.57zM55.87 164.3h22.28v2h-22.28zM50.3 166.3h5.57v2h-5.57zM61.44 166.3h5.57v2h-5.57zM67.01 172.3h5.57v2h-5.57zM50.3 174.3h5.57v2h-5.57zM67.01 174.3h5.57v2h-5.57zM50.3 180.3h5.57v2h-5.57zM61.44 180.3h5.57v2h-5.57zM72.58 180.3h5.57v2h-5.57zM50.3 182.3h5.57v2h-5.57zM55.87 196.3h11.14v2h-11.14zM55.87 204.3h5.57v2h-5.57zM67.01 204.3h5.57v2h-5.57zM55.87 206.3h11.14v2h-11.14zM72.58 206.3h5.57v2h-5.57zM222.99 210.3h5.57v2h-5.57zM222.99 216.3h5.57v2h-5.57zM222.99 222.3h5.57v2h-5.57zM55.87 228.3h5.57v2h-5.57zM61.44 232.3h11.14v2h-11.14zM67.01 236.3h5.57v2h-5.57zM50.3 238.3h5.57v2h-5.57zM61.44 238.3h5.57v2h-5.57zM67.01 240.3h5.57v2h-5.57zM50.3 242.3h27.85v2h-27.85zM50.3 250.3h5.57v2h-5.57z"/>
<path fill="#9a0e19" shape-rendering="crispEdges" d="M106.01 82.3h5.57v2h-5.57zM139.43 86.3h5.57v2h-5.57zM178.42 98.3h5.57v2h-5.57zM178.42 102.3h5.57v2h-5.57zM161.71 110.3h5.57v2h-5.57zM189.56 114.3h11.14v2h-11.14zM150.57 126.3h5.57v2h-5.57zM167.28 126.3h5.57v2h-5.57zM94.86 130.3h5.57v2h-5.57zM89.29 136.3h5.57v2h-5.57zM83.72 144.3h5.57v2h-5.57zM128.29 148.3h5.57v2h-5.57zM111.58 152.3h5.57v2h-5.57zM55.87 154.3h11.14v2h-11.14zM67.01 156.3h5.57v2h-5.57zM50.3 158.3h5.57v2h-5.57zM72.58 158.3h5.57v2h-5.57zM61.44 160.3h5.57v2h-5.57zM50.3 164.3h5.57v2h-5.57zM55.87 166.3h5.57v2h-5.57zM67.01 166.3h11.14v2h-11.14zM55.87 170.3h11.14v2h-11.14zM50.3 172.3h16.71v2h-16.71zM55.87 174.3h11.14v2h-11.14zM50.3 176.3h27.85v2h-27.85zM61.44 178.3h11.14v2h-11.14zM55.87 180.3h5.57v2h-5.57zM67.01 180.3h5.57v2h-5.57zM55.87 182.3h5.57v2h-5.57zM72.58 184.3h5.57v2h-5.57zM55.87 186.3h5.57v2h-5.57zM67.01 186.3h11.14v2h-11.14zM50.3 192.3h22.28v2h-22.28zM50.3 196.3h5.57v2h-5.57zM67.01 196.3h11.14v2h-11.14zM55.87 198.3h22.28v2h-22.28zM55.87 202.3h5.57v2h-5.57zM67.01 202.3h5.57v2h-5.57zM50.3 204.3h5.57v2h-5.57zM61.44 204.3h5.57v2h-5.57zM72.58 204.3h5.57v2h-5.57zM50.3 206.3h5.57v2h-5.57zM67.01 206.3h5.57v2h-5.57zM222.99 212.3h5.57v2h-5.57zM222.99 214.3h5.57v2h-5.57zM61.44 216.3h5.57v2h-5.57zM222.99 220.3h5.57v2h-5.57zM50.3 226.3h5.57v2h-5.57zM67.01 226.3h11.14v2h-11.14zM50.3 228.3h5.57v2h-5.57zM61.44 228.3h16.71v2h-16.71zM50.3 232.3h11.14v2h-11.14zM72.58 232.3h5.57v2h-5.57zM50.3 236.3h16.71v2h-16.71zM72.58 236.3h5.57v2h-5.57zM55.87 238.3h5.57v2h-5.57zM67.01 238.3h11.14v2h-11.14zM50.3 240.3h16.71v2h-16.71zM72.58 240.3h5.57v2h-5.57zM50.3 244.3h16.71v2h-16.71zM72.58 244.3h5.57v2h-5.57zM50.3 246.3h16.71v2h-16.71zM72.58 246.3h5.57v2h-5.57zM50.3 248.3h5.57v2h-5.57zM55.87 250.3h22.28v2h-22.28z"/>
<path fill="#ae101c" shape-rendering="crispEdges" d="M78.15 124.3h5.57v2h-5.57zM117.15 140.3h5.57v2h-5.57zM161.71 150.3h5.57v2h-5.57zM50.3 154.3h5.57v2h-5.57zM72.58 154.3h5.57v2h-5.57zM55.87 158.3h16.71v2h-16.71zM50.3 160.3h11.14v2h-11.14zM67.01 160.3h11.14v2h-11.14zM55.87 168.3h16.71v2h-16.71zM50.3 170.3h5.57v2h-5.57zM67.01 170.3h11.14v2h-11.14zM72.58 172.3h5.57v2h-5.57zM50.3 178.3h11.14v2h-11.14zM72.58 178.3h5.57v2h-5.57zM61.44 182.3h16.71v2h-16.71zM50.3 184.3h22.28v2h-22.28zM50.3 186.3h5.57v2h-5.57zM61.44 186.3h5.57v2h-5.57zM50.3 188.3h11.14v2h-11.14zM72.58 188.3h5.57v2h-5.57zM67.01 190.3h11.14v2h-11.14zM72.58 192.3h5.57v2h-5.57zM55.87 194.3h22.28v2h-22.28zM50.3 198.3h5.57v2h-5.57zM50.3 202.3h5.57v2h-5.57zM61.44 202.3h5.57v2h-5.57zM50.3 210.3h5.57v2h-5.57zM67.01 210.3h11.14v2h-11.14zM50.3 224.3h11.14v2h-11.14zM55.87 226.3h11.14v2h-11.14zM50.3 230.3h16.71v2h-16.71zM72.58 230.3h5.57v2h-5.57zM67.01 234.3h5.57v2h-5.57zM67.01 244.3h5.57v2h-5.57zM67.01 246.3h5.57v2h-5.57zM55.87 248.3h22.28v2h-22.28z"/>
<path fill="#c1121f" shape-rendering="crispEdges" d="M50.3 168.3h5.57v2h-5.57zM72.58 168.3h5.57v2h-5.57zM61.44 188.3h11.14v2h-11.14zM50.3 190.3h16.71v2h-16.71zM50.3 194.3h5.57v2h-5.57zM50.3 200.3h5.57v2h-5.57zM61.44 200.3h11.14v2h-11.14zM72.58 202.3h5.57v2h-5.57zM55.87 210.3h11.14v2h-11.14zM61.44 224.3h16.71v2h-16.71zM67.01 230.3h5.57v2h-5.57zM50.3 234.3h16.71v2h-16.71zM72.58 234.3h5.57v2h-5.57z"/>
<path fill="#d41422" shape-rendering="crispEdges" d="M167.28 136.3h5.57v2h-5.57zM55.87 200.3h5.57v2h-5.57zM72.58 200.3h5.57v2h-5.57zM50.3 252.3h27.85v2h-27.85zM50.3 254.3h27.85v2h-27.85z"/>
</g>
<rect x="117.6" y="77.6" width="89.4" height="38.2" fill="none" stroke="#ee7a2e" stroke-width="1.3"/>
<rect x="79.2" y="116.3" width="37.8" height="18.6" fill="none" stroke="#21a9c4" stroke-width="1.3"/>
<rect x="206.6" y="201.8" width="32.3" height="30.2" fill="none" stroke="#f3c33c" stroke-width="1.3"/>
<rect x="50.3" y="41.6" width="27.85" height="5.4" fill="#5f2e25"/>
<rect x="78.15" y="41.6" width="38.99" height="5.4" fill="#1aa6b4"/>
<rect x="117.15" y="41.6" width="89.13" height="5.4" fill="#e9572f"/>
<rect x="206.28" y="41.6" width="33.42" height="5.4" fill="#f0c64a"/>
<path fill="#8c86cf" d="M78.15 48h5.57v6h-5.57zM83.72 48h5.57v6h-5.57zM100.44 48h5.57v6h-5.57zM117.15 48h5.57v6h-5.57zM128.29 48h5.57v6h-5.57zM139.43 48h5.57v6h-5.57zM145 48h5.57v6h-5.57zM150.57 48h5.57v6h-5.57zM161.71 48h5.57v6h-5.57zM167.28 48h5.57v6h-5.57zM172.85 48h5.57v6h-5.57zM183.99 48h5.57v6h-5.57zM211.85 48h5.57v6h-5.57zM217.42 48h5.57v6h-5.57zM222.99 48h5.57v6h-5.57zM228.56 48h5.57v6h-5.57zM234.13 48h5.57v6h-5.57z"/>
<path fill="#2c2a8e" d="M89.29 48h5.57v6h-5.57zM94.86 48h5.57v6h-5.57zM106.01 48h5.57v6h-5.57zM122.72 48h5.57v6h-5.57zM133.86 48h5.57v6h-5.57zM156.14 48h5.57v6h-5.57zM178.42 48h5.57v6h-5.57z"/>
<path fill="#ececf0" d="M111.58 48h5.57v6h-5.57zM189.56 48h5.57v6h-5.57zM195.14 48h5.57v6h-5.57zM200.71 48h5.57v6h-5.57zM206.28 48h5.57v6h-5.57z"/>
<path stroke="#ffffff" stroke-opacity="0.35" stroke-width="0.5" d="M78.15 48v6M83.72 48v6M89.29 48v6M94.86 48v6M100.44 48v6M106.01 48v6M111.58 48v6M117.15 48v6M122.72 48v6M128.29 48v6M133.86 48v6M139.43 48v6M145 48v6M150.57 48v6M156.14 48v6M161.71 48v6M167.28 48v6M172.85 48v6M178.42 48v6M183.99 48v6M189.56 48v6M195.14 48v6M200.71 48v6M206.28 48v6M211.85 48v6M217.42 48v6M222.99 48v6M228.56 48v6M234.13 48v6"/>
<path fill="#f8c913" d="M78.15 54h5.57v6.4h-5.57zM83.72 54h5.57v6.4h-5.57zM89.29 54h5.57v6.4h-5.57zM94.86 54h5.57v6.4h-5.57zM100.44 54h5.57v6.4h-5.57zM106.01 54h5.57v6.4h-5.57zM111.58 54h5.57v6.4h-5.57zM117.15 54h5.57v6.4h-5.57zM122.72 54h5.57v6.4h-5.57zM128.29 54h5.57v6.4h-5.57zM133.86 54h5.57v6.4h-5.57zM139.43 54h5.57v6.4h-5.57zM145 54h5.57v6.4h-5.57zM150.57 54h5.57v6.4h-5.57zM156.14 54h5.57v6.4h-5.57zM161.71 54h5.57v6.4h-5.57zM167.28 54h5.57v6.4h-5.57zM172.85 54h5.57v6.4h-5.57zM178.42 54h5.57v6.4h-5.57zM183.99 54h5.57v6.4h-5.57zM200.71 54h5.57v6.4h-5.57zM206.28 54h5.57v6.4h-5.57zM217.42 54h5.57v6.4h-5.57zM222.99 54h5.57v6.4h-5.57zM228.56 54h5.57v6.4h-5.57zM234.13 54h5.57v6.4h-5.57z"/>
<path fill="#16677c" d="M189.56 54h5.57v6.4h-5.57zM195.14 54h5.57v6.4h-5.57zM211.85 54h5.57v6.4h-5.57z"/>
<path stroke="#ffffff" stroke-opacity="0.35" stroke-width="0.5" d="M78.15 54v6.4M83.72 54v6.4M89.29 54v6.4M94.86 54v6.4M100.44 54v6.4M106.01 54v6.4M111.58 54v6.4M117.15 54v6.4M122.72 54v6.4M128.29 54v6.4M133.86 54v6.4M139.43 54v6.4M145 54v6.4M150.57 54v6.4M156.14 54v6.4M161.71 54v6.4M167.28 54v6.4M172.85 54v6.4M178.42 54v6.4M183.99 54v6.4M189.56 54v6.4M195.14 54v6.4M200.71 54v6.4M206.28 54v6.4M211.85 54v6.4M217.42 54v6.4M222.99 54v6.4M228.56 54v6.4M234.13 54v6.4"/>
<path fill="#f7bb80" d="M78.15 60.4h5.57v6.8h-5.57zM83.72 60.4h5.57v6.8h-5.57zM89.29 60.4h5.57v6.8h-5.57zM94.86 60.4h5.57v6.8h-5.57zM111.58 60.4h5.57v6.8h-5.57zM122.72 60.4h5.57v6.8h-5.57zM128.29 60.4h5.57v6.8h-5.57zM133.86 60.4h5.57v6.8h-5.57zM139.43 60.4h5.57v6.8h-5.57zM145 60.4h5.57v6.8h-5.57zM150.57 60.4h5.57v6.8h-5.57zM156.14 60.4h5.57v6.8h-5.57zM161.71 60.4h5.57v6.8h-5.57zM167.28 60.4h5.57v6.8h-5.57zM172.85 60.4h5.57v6.8h-5.57zM178.42 60.4h5.57v6.8h-5.57zM183.99 60.4h5.57v6.8h-5.57zM195.14 60.4h5.57v6.8h-5.57zM200.71 60.4h5.57v6.8h-5.57zM211.85 60.4h5.57v6.8h-5.57zM217.42 60.4h5.57v6.8h-5.57zM222.99 60.4h5.57v6.8h-5.57zM228.56 60.4h5.57v6.8h-5.57zM234.13 60.4h5.57v6.8h-5.57z"/>
<path fill="#a04c22" d="M100.44 60.4h5.57v6.8h-5.57zM106.01 60.4h5.57v6.8h-5.57zM117.15 60.4h5.57v6.8h-5.57zM189.56 60.4h5.57v6.8h-5.57zM206.28 60.4h5.57v6.8h-5.57z"/>
<path stroke="#ffffff" stroke-opacity="0.35" stroke-width="0.5" d="M78.15 60.4v6.8M83.72 60.4v6.8M89.29 60.4v6.8M94.86 60.4v6.8M100.44 60.4v6.8M106.01 60.4v6.8M111.58 60.4v6.8M117.15 60.4v6.8M122.72 60.4v6.8M128.29 60.4v6.8M133.86 60.4v6.8M139.43 60.4v6.8M145 60.4v6.8M150.57 60.4v6.8M156.14 60.4v6.8M161.71 60.4v6.8M167.28 60.4v6.8M172.85 60.4v6.8M178.42 60.4v6.8M183.99 60.4v6.8M189.56 60.4v6.8M195.14 60.4v6.8M200.71 60.4v6.8M206.28 60.4v6.8M211.85 60.4v6.8M217.42 60.4v6.8M222.99 60.4v6.8M228.56 60.4v6.8M234.13 60.4v6.8"/>
<text x="33.1" y="46.2" font-size="4.9" font-weight="bold" textLength="14.2" lengthAdjust="spacingAndGlyphs" font-family="Liberation Sans, sans-serif" fill="#111">Cluster</text>
<text x="6.2" y="52.6" font-size="4.9" font-weight="bold" textLength="41.1" lengthAdjust="spacingAndGlyphs" font-family="Liberation Sans, sans-serif" fill="#111">Histological Subtype</text>
<text x="16.1" y="58.9" font-size="4.9" font-weight="bold" textLength="31.2" lengthAdjust="spacingAndGlyphs" font-family="Liberation Sans, sans-serif" fill="#111">HRS Cell Status</text>
<text x="21.9" y="65.2" font-size="4.9" font-weight="bold" textLength="25.4" lengthAdjust="spacingAndGlyphs" font-family="Liberation Sans, sans-serif" fill="#111">Sample Type</text>
<path fill="none" stroke="#555" stroke-width="0.6" d="M52.6 39.4H75.4M55 39.4V40.2M60 39.4V40.2M64.6 39.4V40.2M69.2 39.4V40.2M74 39.4V40.2"/>
<path fill="none" stroke="#555" stroke-width="0.75" d="M57.5 1.5V39.2M134.39 1.5V11.4M88.77 11.4V21.2M80.94 21.2V40.2M96.61 21.2V23.87M89.29 23.87V26.09M86.51 26.09V40.2M92.08 26.09V40.2M86.51 26.09H92.08M103.92 23.87V26.72M97.65 26.72V40.2M110.18 26.72V29.29M106.01 29.29V30.34M103.22 30.34V40.2M108.79 30.34V40.2M103.22 30.34H108.79M114.36 29.29V40.2M106.01 29.29H114.36M97.65 26.72H110.18M89.29 23.87H103.92M80.94 21.2H96.61M180.01 11.4V17M135.64 17V22.9M124.11 22.9V26.64M119.93 26.64V40.2M128.29 26.64V27.74M125.5 27.74V40.2M131.07 27.74V40.2M125.5 27.74H131.07M119.93 26.64H128.29M147.18 22.9V24.4M136.64 24.4V40.2M157.71 24.4V28.37M142.21 28.37V40.2M173.2 28.37V29.41M154.05 29.41V31.65M147.79 31.65V40.2M160.32 31.65V33.02M156.14 33.02V33.51M153.36 33.51V40.2M158.93 33.51V40.2M153.36 33.51H158.93M164.5 33.02V40.2M156.14 33.02H164.5M147.79 31.65H160.32M192.35 29.41V30.9M181.21 30.9V32.17M172.85 32.17V33.45M170.07 33.45V40.2M175.64 33.45V40.2M170.07 33.45H175.64M189.56 32.17V33.48M183.99 33.48V33.88M181.21 33.88V40.2M186.78 33.88V40.2M181.21 33.88H186.78M195.14 33.48V33.96M192.35 33.96V40.2M197.92 33.96V40.2M192.35 33.96H197.92M183.99 33.48H195.14M172.85 32.17H189.56M203.49 30.9V40.2M181.21 30.9H203.49M154.05 29.41H192.35M142.21 28.37H173.2M136.64 24.4H157.71M124.11 22.9H147.18M224.38 17V23.5M216.02 23.5V24.72M211.85 24.72V28.11M209.06 28.11V40.2M214.63 28.11V40.2M209.06 28.11H214.63M220.2 24.72V40.2M211.85 24.72H220.2M232.74 23.5V26.51M228.56 26.51V27.44M225.77 27.44V40.2M231.34 27.44V40.2M225.77 27.44H231.34M236.91 26.51V40.2M228.56 26.51H236.91M216.02 23.5H232.74M135.64 17H224.38M88.77 11.4H180.01M57.5 1.5H134.39"/>
<path fill="none" stroke="#222" stroke-width="0.7" d="M41.66 70.56H48M41.66 72.06H48M41.66 70.56V72.06M36.54 69.05H48M36.54 71.31H41.66M36.54 69.05V71.31M42.16 75.07H48M42.16 76.57H48M42.16 75.07V76.57M39.74 73.56H48M39.74 75.82H42.16M39.74 73.56V75.82M37.24 78.08H48M37.24 79.58H48M37.24 78.08V79.58M36.74 74.69H39.74M36.74 78.83H37.24M36.74 74.69V78.83M33.2 76.76H36.74M33.2 81.08H48M33.2 76.76V81.08M28.95 78.92H33.2M28.95 82.59H48M28.95 78.92V82.59M25.6 70.18H36.54M25.6 80.75H28.95M25.6 70.18V80.75M30.6 84.09H48M30.6 85.6H48M30.6 84.09V85.6M24.02 75.47H25.6M24.02 84.84H30.6M24.02 75.47V84.84M43.88 88.6H48M43.88 90.11H48M43.88 88.6V90.11M40.76 87.1H48M40.76 89.36H43.88M40.76 87.1V89.36M41.69 94.62H48M41.69 96.12H48M41.69 94.62V96.12M41.41 93.12H48M41.41 95.37H41.69M41.41 93.12V95.37M39.89 91.61H48M39.89 94.24H41.41M39.89 91.61V94.24M41.75 97.63H48M41.75 99.13H48M41.75 97.63V99.13M39.21 92.93H39.89M39.21 98.38H41.75M39.21 92.93V98.38M37 88.23H40.76M37 95.65H39.21M37 88.23V95.65M20 80.16H24.02M20 91.94H37M20 80.16V91.94M43.75 102.14H48M43.75 103.64H48M43.75 102.14V103.64M42.48 102.89H43.75M42.48 105.15H48M42.48 102.89V105.15M41.57 100.64H48M41.57 104.02H42.48M41.57 100.64V104.02M22.94 102.33H41.57M22.94 106.65H48M22.94 102.33V106.65M40.76 109.66H48M40.76 111.16H48M40.76 109.66V111.16M39.08 108.16H48M39.08 110.41H40.76M39.08 108.16V110.41M42.52 114.17H48M42.52 115.68H48M42.52 114.17V115.68M37.51 112.67H48M37.51 114.92H42.52M37.51 112.67V114.92M30.35 109.28H39.08M30.35 113.8H37.51M30.35 109.28V113.8M19.85 104.49H22.94M19.85 111.54H30.35M19.85 104.49V111.54M36.42 117.18H48M36.42 118.68H48M36.42 117.18V118.68M18.36 108.02H19.85M18.36 117.93H36.42M18.36 108.02V117.93M41.58 120.19H48M41.58 121.69H48M41.58 120.19V121.69M40.37 123.2H48M40.37 124.7H48M40.37 123.2V124.7M24.18 120.94H41.58M24.18 123.95H40.37M24.18 120.94V123.95M41.35 127.71H48M41.35 129.21H48M41.35 127.71V129.21M31.2 126.2H48M31.2 128.46H41.35M31.2 126.2V128.46M20.56 122.44H24.18M20.56 127.33H31.2M20.56 122.44V127.33M16.54 112.97H18.36M16.54 124.89H20.56M16.54 112.97V124.89M43.54 130.72H48M43.54 132.22H48M43.54 130.72V132.22M43.55 136.73H48M43.55 138.24H48M43.55 136.73V138.24M43.54 135.23H48M43.54 137.48H43.55M43.54 135.23V137.48M42.73 136.36H43.54M42.73 139.74H48M42.73 136.36V139.74M42.64 133.72H48M42.64 138.05H42.73M42.64 133.72V138.05M40.58 131.47H43.54M40.58 135.89H42.64M40.58 131.47V135.89M42.98 141.24H48M42.98 142.75H48M42.98 141.24V142.75M39.94 142H42.98M39.94 144.25H48M39.94 142V144.25M31.48 133.68H40.58M31.48 143.12H39.94M31.48 133.68V143.12M40.86 147.26H48M40.86 148.76H48M40.86 147.26V148.76M43.86 150.27H48M43.86 151.77H48M43.86 150.27V151.77M38.11 148.01H40.86M38.11 151.02H43.86M38.11 148.01V151.02M36.32 145.76H48M36.32 149.52H38.11M36.32 145.76V149.52M28.1 147.64H36.32M28.1 153.28H48M28.1 147.64V153.28M27.1 150.46H28.1M27.1 154.78H48M27.1 150.46V154.78M21.21 138.4H31.48M21.21 152.62H27.1M21.21 138.4V152.62M14 118.93H16.54M14 145.51H21.21M14 118.93V145.51M8 86.05H20M8 132.22H14M8 86.05V132.22M43.14 157.79H48M43.14 159.29H48M43.14 157.79V159.29M43.9 160.8H48M43.9 162.3H48M43.9 160.8V162.3M43.72 161.55H43.9M43.72 163.8H48M43.72 161.55V163.8M43.28 162.68H43.72M43.28 165.31H48M43.28 162.68V165.31M39.01 158.54H43.14M39.01 163.99H43.28M39.01 158.54V163.99M38.04 166.81H48M38.04 168.32H48M38.04 166.81V168.32M36.94 161.27H39.01M36.94 167.56H38.04M36.94 161.27V167.56M36.88 156.28H48M36.88 164.41H36.94M36.88 156.28V164.41M42.16 171.32H48M42.16 172.83H48M42.16 171.32V172.83M40.67 174.33H48M40.67 175.84H48M40.67 174.33V175.84M40.28 172.08H42.16M40.28 175.08H40.67M40.28 172.08V175.08M39.23 169.82H48M39.23 173.58H40.28M39.23 169.82V173.58M23.83 160.35H36.88M23.83 171.7H39.23M23.83 160.35V171.7M40.9 177.34H48M40.9 178.84H48M40.9 177.34V178.84M41.66 180.35H48M41.66 181.85H48M41.66 180.35V181.85M38.36 178.09H40.9M38.36 181.1H41.66M38.36 178.09V181.1M42.65 186.36H48M42.65 187.87H48M42.65 186.36V187.87M36.08 184.86H48M36.08 187.12H42.65M36.08 184.86V187.12M32.46 183.36H48M32.46 185.99H36.08M32.46 183.36V185.99M40.71 189.37H48M40.71 190.88H48M40.71 189.37V190.88M43.54 193.88H48M43.54 195.39H48M43.54 193.88V195.39M40.17 192.38H48M40.17 194.64H43.54M40.17 192.38V194.64M39.63 196.89H48M39.63 198.4H48M39.63 196.89V198.4M37.13 193.51H40.17M37.13 197.64H39.63M37.13 193.51V197.64M34.03 190.12H40.71M34.03 195.58H37.13M34.03 190.12V195.58M31.31 184.67H32.46M31.31 192.85H34.03M31.31 184.67V192.85M30 179.6H38.36M30 188.76H31.31M30 179.6V188.76M43.41 201.4H48M43.41 202.91H48M43.41 201.4V202.91M38.43 199.9H48M38.43 202.16H43.41M38.43 199.9V202.16M37.68 201.03H38.43M37.68 204.41H48M37.68 201.03V204.41M27.87 184.18H30M27.87 202.72H37.68M27.87 184.18V202.72M22.58 166.02H23.83M22.58 193.45H27.87M22.58 166.02V193.45M43.7 207.42H48M43.7 208.92H48M43.7 207.42V208.92M40.81 205.92H48M40.81 208.17H43.7M40.81 205.92V208.17M39.47 207.04H40.81M39.47 210.43H48M39.47 207.04V210.43M34.09 208.74H39.47M34.09 211.93H48M34.09 208.74V211.93M43.09 213.44H48M43.09 214.94H48M43.09 213.44V214.94M42.95 214.19H43.09M42.95 216.44H48M42.95 214.19V216.44M39.77 219.45H48M39.77 220.96H48M39.77 219.45V220.96M39.63 217.95H48M39.63 220.2H39.77M39.63 217.95V220.2M36.07 215.32H42.95M36.07 219.08H39.63M36.07 215.32V219.08M30.28 217.2H36.07M30.28 222.46H48M30.28 217.2V222.46M26.5 210.33H34.09M26.5 219.83H30.28M26.5 210.33V219.83M31.32 223.96H48M31.32 225.47H48M31.32 223.96V225.47M43.57 229.98H48M43.57 231.48H48M43.57 229.98V231.48M41.31 228.48H48M41.31 230.73H43.57M41.31 228.48V230.73M41.3 226.97H48M41.3 229.6H41.31M41.3 226.97V229.6M43.77 232.99H48M43.77 234.49H48M43.77 232.99V234.49M41.17 228.29H41.3M41.17 233.74H43.77M41.17 228.29V233.74M36.93 231.01H41.17M36.93 236H48M36.93 231.01V236M38.65 237.5H48M38.65 239H48M38.65 237.5V239M43.87 243.52H48M43.87 245.02H48M43.87 243.52V245.02M41.82 242.01H48M41.82 244.27H43.87M41.82 242.01V244.27M41.01 240.51H48M41.01 243.14H41.82M41.01 240.51V243.14M39.19 241.82H41.01M39.19 246.52H48M39.19 241.82V246.52M35.09 238.25H38.65M35.09 244.17H39.19M35.09 238.25V244.17M38.03 248.03H48M38.03 249.53H48M38.03 248.03V249.53M33.57 241.21H35.09M33.57 248.78H38.03M33.57 241.21V248.78M31 233.5H36.93M31 245H33.57M31 233.5V245M29.56 224.72H31.32M29.56 239.25H31M29.56 224.72V239.25M41.63 252.54H48M41.63 254.04H48M41.63 252.54V254.04M41.53 251.04H48M41.53 253.29H41.63M41.53 251.04V253.29M38.88 252.16H41.53M38.88 255.55H48M38.88 252.16V255.55M24.44 231.98H29.56M24.44 253.86H38.88M24.44 231.98V253.86M22.3 215.08H26.5M22.3 242.92H24.44M22.3 215.08V242.92M20.19 179.74H22.58M20.19 229H22.3M20.19 179.74V229M1 109.13H8M1 204.37H20.19M1 109.13V204.37"/>
<defs><linearGradient id="cbA" x1="0" y1="0" x2="0" y2="1"><stop offset="0" stop-color="#ec1a2c"/><stop offset="0.527" stop-color="#000"/><stop offset="0.88" stop-color="#3db34e"/><stop offset="1" stop-color="#4cbc55"/></linearGradient><linearGradient id="cbB" x1="0" y1="0" x2="0" y2="1"><stop offset="0" stop-color="#ec1a2c"/><stop offset="0.51" stop-color="#000"/><stop offset="1" stop-color="#5cc45a"/></linearGradient></defs>
<rect x="243.1" y="68.1" width="4.5" height="188.2" fill="url(#cbA)"/>
<path stroke="#111" stroke-width="0.7" d="M247.9 68.1V256.3"/>
<text x="253" y="69.8" font-size="4" font-weight="bold" font-family="Liberation Sans, sans-serif" fill="#111">3</text>
<text x="253" y="102.75" font-size="4" font-weight="bold" font-family="Liberation Sans, sans-serif" fill="#111">2</text>
<text x="253" y="135.7" font-size="4" font-weight="bold" font-family="Liberation Sans, sans-serif" fill="#111">1</text>
<text x="253" y="168.65" font-size="4" font-weight="bold" font-family="Liberation Sans, sans-serif" fill="#111">0</text>
<text x="251.3" y="201.6" font-size="4" font-weight="bold" font-family="Liberation Sans, sans-serif" fill="#111">–1</text>
<text x="251.3" y="234.55" font-size="4" font-weight="bold" font-family="Liberation Sans, sans-serif" fill="#111">–2</text>
<path stroke="#111" stroke-width="1" d="M245.5 68.3H250.8M245.5 101.25H250.8M245.5 134.2H250.8M245.5 167.15H250.8M245.5 200.1H250.8M245.5 233.05H250.8"/>
<filter id="bhB" x="315.6" y="68.3" width="186.1" height="187.3" filterUnits="userSpaceOnUse"><feGaussianBlur stdDeviation="0.5" edgeMode="duplicate"/></filter>
<g filter="url(#bhB)">
<rect x="315.6" y="68.3" width="186.1" height="187.3" fill="#000"/>
<path fill="#2f9543" shape-rendering="crispEdges" d="M443.94 102.64h6.42v1.56h-6.42zM495.28 157.27h6.42v1.56h-6.42z"/>
<path fill="#2b883d" shape-rendering="crispEdges" d="M469.61 68.3h6.42v1.56h-6.42zM488.87 83.91h6.42v1.56h-6.42zM469.61 115.12h6.42v1.56h-6.42zM347.69 180.68h6.42v1.56h-6.42zM399.02 197.85h6.42v1.56h-6.42zM386.19 204.09h6.42v1.56h-6.42zM386.19 219.7h6.42v1.56h-6.42zM392.61 250.92h6.42v1.56h-6.42z"/>
<path fill="#267a37" shape-rendering="crispEdges" d="M443.94 74.54h6.42v1.56h-6.42zM456.78 74.54h6.42v1.56h-6.42zM437.53 83.91h6.42v1.56h-6.42zM443.94 85.47h6.42v1.56h-6.42zM443.94 97.96h6.42v1.56h-6.42zM443.94 122.93h6.42v1.56h-6.42zM437.53 130.73h6.42v1.56h-6.42zM443.94 163.51h6.42v1.56h-6.42zM354.1 204.09h6.42v1.56h-6.42zM379.77 207.21h6.42v1.56h-6.42zM379.77 229.07h6.42v1.56h-6.42zM411.86 238.43h6.42v1.56h-6.42z"/>
<path fill="#226c30" shape-rendering="crispEdges" d="M418.28 69.86h6.42v1.56h-6.42zM469.61 71.42h6.42v1.56h-6.42zM476.03 80.79h6.42v1.56h-6.42zM488.87 82.35h6.42v1.56h-6.42zM431.11 88.59h6.42v1.56h-6.42zM418.28 96.39h6.42v1.56h-6.42zM495.28 96.39h6.42v1.56h-6.42zM495.28 97.96h6.42v1.56h-6.42zM456.78 115.12h6.42v1.56h-6.42zM488.87 115.12h6.42v1.56h-6.42zM463.2 116.69h6.42v1.56h-6.42zM482.45 116.69h6.42v1.56h-6.42zM437.53 127.61h6.42v1.56h-6.42zM482.45 127.61h6.42v1.56h-6.42zM443.94 135.42h6.42v1.56h-6.42zM431.11 136.98h6.42v1.56h-6.42zM463.2 136.98h6.42v1.56h-6.42zM418.28 138.54h6.42v1.56h-6.42zM443.94 152.59h12.83v1.56h-12.83zM469.61 155.71h6.42v1.56h-6.42zM495.28 155.71h6.42v1.56h-6.42zM463.2 158.83h6.42v1.56h-6.42zM360.52 163.51h6.42v1.56h-6.42zM463.2 163.51h6.42v1.56h-6.42zM476.03 163.51h6.42v1.56h-6.42zM443.94 166.63h6.42v1.56h-6.42zM418.28 168.19h6.42v1.56h-6.42zM405.44 174.44h6.42v1.56h-6.42zM347.69 177.56h6.42v1.56h-6.42zM366.94 180.68h6.42v1.56h-6.42zM322.02 185.36h6.42v1.56h-6.42zM399.02 185.36h6.42v1.56h-6.42zM347.69 188.48h6.42v1.56h-6.42zM315.6 190.05h6.42v1.56h-6.42zM328.43 191.61h6.42v1.56h-6.42zM341.27 193.17h6.42v1.56h-6.42zM373.36 194.73h6.42v1.56h-6.42zM328.43 196.29h6.42v1.56h-6.42zM386.19 202.53h6.42v1.56h-6.42zM366.94 207.21h6.42v1.56h-6.42zM399.02 207.21h6.42v1.56h-6.42zM328.43 213.46h6.42v1.56h-6.42zM405.44 219.7h6.42v1.56h-6.42zM373.36 222.82h6.42v1.56h-6.42zM366.94 233.75h6.42v1.56h-6.42z"/>
<path fill="#1e5f2a" shape-rendering="crispEdges" d="M347.69 69.86h6.42v1.56h-6.42zM424.69 69.86h12.83v1.56h-12.83zM450.36 69.86h12.83v1.56h-12.83zM495.28 69.86h6.42v1.56h-6.42zM424.69 71.42h6.42v1.56h-6.42zM450.36 74.54h6.42v1.56h-6.42zM463.2 74.54h6.42v1.56h-6.42zM495.28 74.54h6.42v1.56h-6.42zM488.87 76.1h6.42v1.56h-6.42zM469.61 79.23h6.42v1.56h-6.42zM424.69 82.35h6.42v1.56h-6.42zM482.45 83.91h6.42v1.56h-6.42zM482.45 85.47h6.42v1.56h-6.42zM418.28 87.03h6.42v1.56h-6.42zM469.61 87.03h6.42v1.56h-6.42zM443.94 88.59h6.42v1.56h-6.42zM495.28 88.59h6.42v1.56h-6.42zM424.69 96.39h6.42v1.56h-6.42zM469.61 101.08h6.42v1.56h-6.42zM456.78 107.32h6.42v1.56h-6.42zM418.28 115.12h6.42v1.56h-6.42zM418.28 124.49h6.42v1.56h-6.42zM418.28 127.61h6.42v1.56h-6.42zM456.78 127.61h6.42v1.56h-6.42zM488.87 127.61h6.42v1.56h-6.42zM488.87 130.73h6.42v1.56h-6.42zM431.11 133.86h6.42v1.56h-6.42zM456.78 138.54h6.42v1.56h-6.42zM456.78 144.78h6.42v1.56h-6.42zM424.69 152.59h6.42v1.56h-6.42zM418.28 160.39h6.42v1.56h-6.42zM424.69 163.51h6.42v1.56h-6.42zM450.36 163.51h6.42v1.56h-6.42zM495.28 163.51h6.42v1.56h-6.42zM418.28 169.75h6.42v1.56h-6.42zM488.87 171.31h6.42v1.56h-6.42zM424.69 172.88h6.42v1.56h-6.42zM341.27 177.56h6.42v1.56h-6.42zM366.94 177.56h12.83v1.56h-12.83zM392.61 177.56h6.42v1.56h-6.42zM373.36 180.68h6.42v1.56h-6.42zM386.19 180.68h6.42v1.56h-6.42zM379.77 188.48h12.83v1.56h-12.83zM334.85 190.05h12.83v1.56h-12.83zM379.77 190.05h6.42v1.56h-6.42zM411.86 190.05h6.42v1.56h-6.42zM399.02 191.61h6.42v1.56h-6.42zM354.1 193.17h6.42v1.56h-6.42zM405.44 193.17h6.42v1.56h-6.42zM315.6 194.73h6.42v1.56h-6.42zM334.85 199.41h6.42v1.56h-6.42zM399.02 204.09h6.42v1.56h-6.42zM411.86 204.09h6.42v1.56h-6.42zM322.02 207.21h6.42v1.56h-6.42zM347.69 207.21h12.83v1.56h-12.83zM405.44 213.46h6.42v1.56h-6.42zM360.52 215.02h6.42v1.56h-6.42zM354.1 222.82h6.42v1.56h-6.42zM328.43 227.5h6.42v1.56h-6.42zM399.02 229.07h12.83v1.56h-12.83zM392.61 235.31h6.42v1.56h-6.42zM322.02 238.43h6.42v1.56h-6.42zM360.52 239.99h6.42v1.56h-6.42zM373.36 239.99h6.42v1.56h-6.42zM405.44 244.67h6.42v1.56h-6.42z"/>
<path fill="#195124" shape-rendering="crispEdges" d="M476.03 68.3h6.42v1.56h-6.42zM488.87 68.3h6.42v1.56h-6.42zM437.53 69.86h6.42v1.56h-6.42zM463.2 69.86h6.42v1.56h-6.42zM495.28 71.42h6.42v1.56h-6.42zM482.45 74.54h6.42v1.56h-6.42zM431.11 79.23h6.42v1.56h-6.42zM431.11 82.35h6.42v1.56h-6.42zM354.1 83.91h6.42v1.56h-6.42zM418.28 83.91h6.42v1.56h-6.42zM476.03 83.91h6.42v1.56h-6.42zM495.28 91.71h6.42v1.56h-6.42zM463.2 93.27h6.42v1.56h-6.42zM443.94 94.83h12.83v1.56h-12.83zM437.53 96.39h12.83v1.56h-12.83zM476.03 96.39h6.42v1.56h-6.42zM418.28 97.96h6.42v1.56h-6.42zM463.2 97.96h6.42v1.56h-6.42zM476.03 97.96h6.42v1.56h-6.42zM437.53 99.52h6.42v1.56h-6.42zM476.03 99.52h6.42v1.56h-6.42zM476.03 101.08h6.42v1.56h-6.42zM450.36 102.64h6.42v1.56h-6.42zM463.2 113.56h6.42v1.56h-6.42zM476.03 115.12h6.42v1.56h-6.42zM431.11 118.25h6.42v1.56h-6.42zM476.03 119.81h6.42v1.56h-6.42zM456.78 122.93h6.42v1.56h-6.42zM488.87 122.93h6.42v1.56h-6.42zM424.69 124.49h6.42v1.56h-6.42zM495.28 124.49h6.42v1.56h-6.42zM456.78 126.05h6.42v1.56h-6.42zM463.2 127.61h6.42v1.56h-6.42zM488.87 129.17h6.42v1.56h-6.42zM495.28 130.73h6.42v1.56h-6.42zM482.45 132.29h6.42v1.56h-6.42zM424.69 133.86h6.42v1.56h-6.42zM469.61 133.86h6.42v1.56h-6.42zM411.86 136.98h6.42v1.56h-6.42zM482.45 136.98h6.42v1.56h-6.42zM328.43 138.54h6.42v1.56h-6.42zM437.53 138.54h6.42v1.56h-6.42zM495.28 138.54h6.42v1.56h-6.42zM424.69 141.66h6.42v1.56h-6.42zM437.53 141.66h6.42v1.56h-6.42zM424.69 143.22h6.42v1.56h-6.42zM450.36 143.22h6.42v1.56h-6.42zM469.61 144.78h6.42v1.56h-6.42zM347.69 152.59h6.42v1.56h-6.42zM437.53 152.59h6.42v1.56h-6.42zM463.2 152.59h6.42v1.56h-6.42zM476.03 152.59h6.42v1.56h-6.42zM495.28 152.59h6.42v1.56h-6.42zM418.28 158.83h6.42v1.56h-6.42zM431.11 160.39h6.42v1.56h-6.42zM463.2 161.95h6.42v1.56h-6.42zM418.28 163.51h6.42v1.56h-6.42zM437.53 163.51h6.42v1.56h-6.42zM418.28 165.07h6.42v1.56h-6.42zM469.61 168.19h6.42v1.56h-6.42zM424.69 169.75h6.42v1.56h-6.42zM463.2 172.88h6.42v1.56h-6.42zM360.52 176h6.42v1.56h-6.42zM386.19 179.12h6.42v1.56h-6.42zM399.02 179.12h6.42v1.56h-6.42zM392.61 180.68h6.42v1.56h-6.42zM443.94 180.68h6.42v1.56h-6.42zM341.27 185.36h12.83v1.56h-12.83zM405.44 185.36h6.42v1.56h-6.42zM405.44 188.48h6.42v1.56h-6.42zM463.2 188.48h6.42v1.56h-6.42zM386.19 190.05h6.42v1.56h-6.42zM341.27 196.29h6.42v1.56h-6.42zM354.1 197.85h6.42v1.56h-6.42zM379.77 197.85h6.42v1.56h-6.42zM347.69 200.97h12.83v1.56h-12.83zM379.77 200.97h6.42v1.56h-6.42zM392.61 200.97h6.42v1.56h-6.42zM392.61 202.53h6.42v1.56h-6.42zM411.86 202.53h6.42v1.56h-6.42zM322.02 204.09h19.25v1.56h-19.25zM341.27 207.21h6.42v1.56h-6.42zM360.52 207.21h6.42v1.56h-6.42zM392.61 207.21h6.42v1.56h-6.42zM360.52 208.78h6.42v1.56h-6.42zM315.6 213.46h6.42v1.56h-6.42zM347.69 213.46h6.42v1.56h-6.42zM392.61 215.02h6.42v1.56h-6.42zM328.43 219.7h6.42v1.56h-6.42zM354.1 219.7h6.42v1.56h-6.42zM373.36 224.38h6.42v1.56h-6.42zM315.6 227.5h6.42v1.56h-6.42zM379.77 227.5h6.42v1.56h-6.42zM392.61 227.5h6.42v1.56h-6.42zM405.44 227.5h6.42v1.56h-6.42zM322.02 229.07h19.25v1.56h-19.25zM360.52 229.07h12.83v1.56h-12.83zM360.52 230.63h6.42v1.56h-6.42zM399.02 233.75h6.42v1.56h-6.42zM315.6 235.31h6.42v1.56h-6.42zM386.19 235.31h6.42v1.56h-6.42zM334.85 238.43h6.42v1.56h-6.42zM347.69 238.43h6.42v1.56h-6.42zM379.77 238.43h6.42v1.56h-6.42zM405.44 241.55h6.42v1.56h-6.42zM366.94 247.8h6.42v1.56h-6.42zM379.77 249.36h6.42v1.56h-6.42zM411.86 249.36h6.42v1.56h-6.42zM360.52 250.92h6.42v1.56h-6.42zM386.19 250.92h6.42v1.56h-6.42zM399.02 250.92h6.42v1.56h-6.42zM418.28 250.92h6.42v1.56h-6.42zM334.85 252.48h6.42v1.56h-6.42zM405.44 252.48h6.42v1.56h-6.42zM366.94 254.04h6.42v1.56h-6.42z"/>
<path fill="#15441e" shape-rendering="crispEdges" d="M392.61 68.3h6.42v1.56h-6.42zM405.44 68.3h6.42v1.56h-6.42zM431.11 68.3h6.42v1.56h-6.42zM450.36 68.3h6.42v1.56h-6.42zM495.28 68.3h6.42v1.56h-6.42zM488.87 69.86h6.42v1.56h-6.42zM456.78 71.42h6.42v1.56h-6.42zM482.45 71.42h6.42v1.56h-6.42zM482.45 72.98h6.42v1.56h-6.42zM418.28 74.54h6.42v1.56h-6.42zM469.61 80.79h6.42v1.56h-6.42zM443.94 82.35h6.42v1.56h-6.42zM424.69 83.91h6.42v1.56h-6.42zM443.94 83.91h6.42v1.56h-6.42zM463.2 83.91h6.42v1.56h-6.42zM437.53 88.59h6.42v1.56h-6.42zM469.61 88.59h6.42v1.56h-6.42zM443.94 91.71h6.42v1.56h-6.42zM482.45 91.71h6.42v1.56h-6.42zM488.87 93.27h6.42v1.56h-6.42zM392.61 96.39h6.42v1.56h-6.42zM482.45 96.39h12.83v1.56h-12.83zM469.61 97.96h6.42v1.56h-6.42zM482.45 99.52h6.42v1.56h-6.42zM328.43 101.08h6.42v1.56h-6.42zM405.44 101.08h6.42v1.56h-6.42zM424.69 101.08h6.42v1.56h-6.42zM443.94 101.08h6.42v1.56h-6.42zM431.11 104.2h6.42v1.56h-6.42zM456.78 110.44h6.42v1.56h-6.42zM424.69 115.12h6.42v1.56h-6.42zM437.53 115.12h19.25v1.56h-19.25zM431.11 116.69h6.42v1.56h-6.42zM476.03 116.69h6.42v1.56h-6.42zM488.87 116.69h6.42v1.56h-6.42zM450.36 118.25h6.42v1.56h-6.42zM456.78 119.81h6.42v1.56h-6.42zM482.45 119.81h6.42v1.56h-6.42zM431.11 124.49h6.42v1.56h-6.42zM450.36 124.49h6.42v1.56h-6.42zM476.03 124.49h6.42v1.56h-6.42zM488.87 126.05h6.42v1.56h-6.42zM443.94 127.61h6.42v1.56h-6.42zM424.69 130.73h12.83v1.56h-12.83zM456.78 130.73h6.42v1.56h-6.42zM450.36 132.29h6.42v1.56h-6.42zM469.61 132.29h6.42v1.56h-6.42zM456.78 133.86h6.42v1.56h-6.42zM463.2 135.42h6.42v1.56h-6.42zM476.03 135.42h6.42v1.56h-6.42zM424.69 138.54h6.42v1.56h-6.42zM482.45 138.54h6.42v1.56h-6.42zM443.94 141.66h6.42v1.56h-6.42zM495.28 143.22h6.42v1.56h-6.42zM450.36 144.78h6.42v1.56h-6.42zM418.28 147.9h6.42v1.56h-6.42zM482.45 149.46h6.42v1.56h-6.42zM354.1 152.59h6.42v1.56h-6.42zM366.94 152.59h6.42v1.56h-6.42zM469.61 152.59h6.42v1.56h-6.42zM488.87 152.59h6.42v1.56h-6.42zM424.69 154.15h6.42v1.56h-6.42zM482.45 154.15h6.42v1.56h-6.42zM418.28 157.27h6.42v1.56h-6.42zM437.53 157.27h6.42v1.56h-6.42zM463.2 160.39h6.42v1.56h-6.42zM456.78 161.95h6.42v1.56h-6.42zM386.19 163.51h6.42v1.56h-6.42zM456.78 163.51h6.42v1.56h-6.42zM463.2 166.63h6.42v1.56h-6.42zM482.45 169.75h6.42v1.56h-6.42zM322.02 172.88h6.42v1.56h-6.42zM399.02 174.44h6.42v1.56h-6.42zM354.1 177.56h6.42v1.56h-6.42zM386.19 177.56h6.42v1.56h-6.42zM373.36 179.12h6.42v1.56h-6.42zM315.6 180.68h12.83v1.56h-12.83zM405.44 180.68h6.42v1.56h-6.42zM476.03 180.68h6.42v1.56h-6.42zM322.02 182.24h6.42v1.56h-6.42zM411.86 182.24h6.42v1.56h-6.42zM379.77 183.8h6.42v1.56h-6.42zM392.61 183.8h6.42v1.56h-6.42zM315.6 185.36h6.42v1.56h-6.42zM334.85 185.36h6.42v1.56h-6.42zM360.52 185.36h6.42v1.56h-6.42zM392.61 185.36h6.42v1.56h-6.42zM341.27 188.48h6.42v1.56h-6.42zM360.52 188.48h6.42v1.56h-6.42zM373.36 188.48h6.42v1.56h-6.42zM322.02 190.05h6.42v1.56h-6.42zM354.1 190.05h12.83v1.56h-12.83zM315.6 191.61h6.42v1.56h-6.42zM373.36 191.61h6.42v1.56h-6.42zM386.19 191.61h12.83v1.56h-12.83zM373.36 193.17h6.42v1.56h-6.42zM399.02 196.29h6.42v1.56h-6.42zM347.69 199.41h6.42v1.56h-6.42zM334.85 200.97h6.42v1.56h-6.42zM366.94 200.97h6.42v1.56h-6.42zM405.44 200.97h6.42v1.56h-6.42zM476.03 200.97h6.42v1.56h-6.42zM347.69 202.53h6.42v1.56h-6.42zM476.03 202.53h6.42v1.56h-6.42zM366.94 204.09h6.42v1.56h-6.42zM379.77 204.09h6.42v1.56h-6.42zM360.52 205.65h6.42v1.56h-6.42zM328.43 207.21h12.83v1.56h-12.83zM373.36 207.21h6.42v1.56h-6.42zM386.19 207.21h6.42v1.56h-6.42zM424.69 207.21h6.42v1.56h-6.42zM322.02 208.78h6.42v1.56h-6.42zM366.94 208.78h6.42v1.56h-6.42zM341.27 213.46h6.42v1.56h-6.42zM360.52 213.46h6.42v1.56h-6.42zM379.77 213.46h6.42v1.56h-6.42zM392.61 213.46h6.42v1.56h-6.42zM411.86 213.46h6.42v1.56h-6.42zM405.44 215.02h12.83v1.56h-12.83zM315.6 216.58h6.42v1.56h-6.42zM347.69 218.14h6.42v1.56h-6.42zM334.85 221.26h6.42v1.56h-6.42zM334.85 222.82h6.42v1.56h-6.42zM366.94 222.82h6.42v1.56h-6.42zM341.27 224.38h6.42v1.56h-6.42zM366.94 225.94h6.42v1.56h-6.42zM341.27 227.5h6.42v1.56h-6.42zM411.86 227.5h6.42v1.56h-6.42zM315.6 229.07h6.42v1.56h-6.42zM386.19 229.07h12.83v1.56h-12.83zM418.28 229.07h6.42v1.56h-6.42zM315.6 232.19h6.42v1.56h-6.42zM315.6 238.43h6.42v1.56h-6.42zM373.36 238.43h6.42v1.56h-6.42zM392.61 238.43h6.42v1.56h-6.42zM405.44 238.43h6.42v1.56h-6.42zM360.52 241.55h6.42v1.56h-6.42zM373.36 241.55h6.42v1.56h-6.42zM386.19 243.11h6.42v1.56h-6.42zM341.27 244.67h6.42v1.56h-6.42zM328.43 246.24h6.42v1.56h-6.42zM347.69 247.8h6.42v1.56h-6.42zM386.19 247.8h12.83v1.56h-12.83zM328.43 250.92h12.83v1.56h-12.83zM431.11 250.92h6.42v1.56h-6.42zM354.1 252.48h6.42v1.56h-6.42zM328.43 254.04h6.42v1.56h-6.42zM347.69 254.04h6.42v1.56h-6.42z"/>
<path fill="#113618" shape-rendering="crispEdges" d="M366.94 68.3h6.42v1.56h-6.42zM399.02 68.3h6.42v1.56h-6.42zM437.53 68.3h6.42v1.56h-6.42zM456.78 68.3h12.83v1.56h-12.83zM360.52 69.86h12.83v1.56h-12.83zM386.19 69.86h6.42v1.56h-6.42zM476.03 69.86h6.42v1.56h-6.42zM450.36 71.42h6.42v1.56h-6.42zM463.2 71.42h6.42v1.56h-6.42zM424.69 74.54h6.42v1.56h-6.42zM437.53 74.54h6.42v1.56h-6.42zM476.03 74.54h6.42v1.56h-6.42zM488.87 74.54h6.42v1.56h-6.42zM437.53 76.1h6.42v1.56h-6.42zM456.78 76.1h6.42v1.56h-6.42zM469.61 76.1h12.83v1.56h-12.83zM495.28 76.1h6.42v1.56h-6.42zM424.69 77.66h6.42v1.56h-6.42zM437.53 79.23h6.42v1.56h-6.42zM450.36 80.79h12.83v1.56h-12.83zM488.87 80.79h12.83v1.56h-12.83zM437.53 82.35h6.42v1.56h-6.42zM392.61 83.91h6.42v1.56h-6.42zM431.11 83.91h6.42v1.56h-6.42zM366.94 85.47h6.42v1.56h-6.42zM431.11 85.47h6.42v1.56h-6.42zM450.36 85.47h6.42v1.56h-6.42zM469.61 85.47h6.42v1.56h-6.42zM476.03 87.03h12.83v1.56h-12.83zM437.53 90.15h6.42v1.56h-6.42zM437.53 93.27h6.42v1.56h-6.42zM431.11 94.83h6.42v1.56h-6.42zM482.45 94.83h6.42v1.56h-6.42zM328.43 96.39h6.42v1.56h-6.42zM456.78 96.39h6.42v1.56h-6.42zM328.43 97.96h6.42v1.56h-6.42zM424.69 97.96h12.83v1.56h-12.83zM482.45 97.96h6.42v1.56h-6.42zM392.61 99.52h6.42v1.56h-6.42zM418.28 99.52h6.42v1.56h-6.42zM437.53 101.08h6.42v1.56h-6.42zM456.78 101.08h12.83v1.56h-12.83zM495.28 101.08h6.42v1.56h-6.42zM424.69 104.2h6.42v1.56h-6.42zM456.78 104.2h6.42v1.56h-6.42zM482.45 104.2h6.42v1.56h-6.42zM322.02 105.76h6.42v1.56h-6.42zM443.94 107.32h6.42v1.56h-6.42zM328.43 108.88h6.42v1.56h-6.42zM443.94 108.88h6.42v1.56h-6.42zM424.69 110.44h6.42v1.56h-6.42zM450.36 110.44h6.42v1.56h-6.42zM463.2 110.44h6.42v1.56h-6.42zM488.87 110.44h6.42v1.56h-6.42zM463.2 112h6.42v1.56h-6.42zM488.87 112h6.42v1.56h-6.42zM424.69 113.56h6.42v1.56h-6.42zM488.87 113.56h12.83v1.56h-12.83zM495.28 116.69h6.42v1.56h-6.42zM418.28 118.25h12.83v1.56h-12.83zM476.03 118.25h6.42v1.56h-6.42zM469.61 119.81h6.42v1.56h-6.42zM469.61 122.93h6.42v1.56h-6.42zM322.02 124.49h6.42v1.56h-6.42zM366.94 124.49h6.42v1.56h-6.42zM456.78 124.49h6.42v1.56h-6.42zM443.94 126.05h6.42v1.56h-6.42zM424.69 127.61h12.83v1.56h-12.83zM341.27 129.17h6.42v1.56h-6.42zM443.94 129.17h6.42v1.56h-6.42zM386.19 130.73h6.42v1.56h-6.42zM469.61 130.73h6.42v1.56h-6.42zM399.02 133.86h6.42v1.56h-6.42zM476.03 133.86h12.83v1.56h-12.83zM450.36 135.42h6.42v1.56h-6.42zM488.87 135.42h6.42v1.56h-6.42zM418.28 136.98h6.42v1.56h-6.42zM437.53 136.98h6.42v1.56h-6.42zM463.2 138.54h6.42v1.56h-6.42zM424.69 140.1h6.42v1.56h-6.42zM443.94 140.1h6.42v1.56h-6.42zM482.45 140.1h6.42v1.56h-6.42zM366.94 141.66h6.42v1.56h-6.42zM418.28 141.66h6.42v1.56h-6.42zM450.36 141.66h6.42v1.56h-6.42zM476.03 141.66h12.83v1.56h-12.83zM443.94 143.22h6.42v1.56h-6.42zM431.11 146.34h6.42v1.56h-6.42zM443.94 146.34h6.42v1.56h-6.42zM463.2 146.34h6.42v1.56h-6.42zM476.03 151.02h6.42v1.56h-6.42zM341.27 152.59h6.42v1.56h-6.42zM482.45 152.59h6.42v1.56h-6.42zM456.78 154.15h6.42v1.56h-6.42zM450.36 155.71h6.42v1.56h-6.42zM482.45 155.71h12.83v1.56h-12.83zM431.11 157.27h6.42v1.56h-6.42zM456.78 157.27h12.83v1.56h-12.83zM482.45 158.83h6.42v1.56h-6.42zM431.11 163.51h6.42v1.56h-6.42zM482.45 165.07h6.42v1.56h-6.42zM437.53 166.63h6.42v1.56h-6.42zM443.94 168.19h6.42v1.56h-6.42zM482.45 168.19h6.42v1.56h-6.42zM411.86 169.75h6.42v1.56h-6.42zM437.53 169.75h12.83v1.56h-12.83zM469.61 169.75h6.42v1.56h-6.42zM495.28 169.75h6.42v1.56h-6.42zM495.28 171.31h6.42v1.56h-6.42zM450.36 172.88h6.42v1.56h-6.42zM476.03 172.88h6.42v1.56h-6.42zM347.69 174.44h6.42v1.56h-6.42zM405.44 176h6.42v1.56h-6.42zM328.43 177.56h6.42v1.56h-6.42zM360.52 177.56h6.42v1.56h-6.42zM411.86 177.56h6.42v1.56h-6.42zM469.61 177.56h6.42v1.56h-6.42zM328.43 179.12h6.42v1.56h-6.42zM360.52 179.12h12.83v1.56h-12.83zM379.77 179.12h6.42v1.56h-6.42zM334.85 180.68h6.42v1.56h-6.42zM354.1 182.24h6.42v1.56h-6.42zM379.77 182.24h12.83v1.56h-12.83zM405.44 182.24h6.42v1.56h-6.42zM315.6 183.8h6.42v1.56h-6.42zM437.53 183.8h6.42v1.56h-6.42zM373.36 185.36h6.42v1.56h-6.42zM386.19 185.36h6.42v1.56h-6.42zM463.2 185.36h6.42v1.56h-6.42zM360.52 186.92h6.42v1.56h-6.42zM405.44 186.92h6.42v1.56h-6.42zM411.86 188.48h6.42v1.56h-6.42zM424.69 188.48h6.42v1.56h-6.42zM437.53 188.48h6.42v1.56h-6.42zM347.69 190.05h6.42v1.56h-6.42zM366.94 190.05h12.83v1.56h-12.83zM392.61 190.05h6.42v1.56h-6.42zM456.78 190.05h6.42v1.56h-6.42zM495.28 190.05h6.42v1.56h-6.42zM322.02 191.61h6.42v1.56h-6.42zM341.27 191.61h12.83v1.56h-12.83zM366.94 191.61h6.42v1.56h-6.42zM495.28 191.61h6.42v1.56h-6.42zM347.69 193.17h6.42v1.56h-6.42zM392.61 193.17h12.83v1.56h-12.83zM463.2 193.17h6.42v1.56h-6.42zM334.85 194.73h6.42v1.56h-6.42zM354.1 194.73h6.42v1.56h-6.42zM386.19 194.73h12.83v1.56h-12.83zM405.44 194.73h6.42v1.56h-6.42zM373.36 196.29h6.42v1.56h-6.42zM405.44 196.29h6.42v1.56h-6.42zM443.94 197.85h6.42v1.56h-6.42zM488.87 197.85h12.83v1.56h-12.83zM328.43 200.97h6.42v1.56h-6.42zM488.87 200.97h6.42v1.56h-6.42zM315.6 202.53h6.42v1.56h-6.42zM366.94 202.53h6.42v1.56h-6.42zM456.78 202.53h6.42v1.56h-6.42zM341.27 204.09h6.42v1.56h-6.42zM360.52 204.09h6.42v1.56h-6.42zM405.44 204.09h6.42v1.56h-6.42zM315.6 207.21h6.42v1.56h-6.42zM450.36 207.21h6.42v1.56h-6.42zM482.45 207.21h6.42v1.56h-6.42zM334.85 208.78h12.83v1.56h-12.83zM392.61 208.78h12.83v1.56h-12.83zM411.86 208.78h6.42v1.56h-6.42zM347.69 210.34h6.42v1.56h-6.42zM379.77 210.34h6.42v1.56h-6.42zM328.43 211.9h19.25v1.56h-19.25zM392.61 211.9h6.42v1.56h-6.42zM322.02 213.46h6.42v1.56h-6.42zM334.85 213.46h6.42v1.56h-6.42zM366.94 213.46h12.83v1.56h-12.83zM334.85 215.02h12.83v1.56h-12.83zM379.77 215.02h6.42v1.56h-6.42zM354.1 216.58h6.42v1.56h-6.42zM392.61 216.58h6.42v1.56h-6.42zM411.86 218.14h6.42v1.56h-6.42zM334.85 219.7h6.42v1.56h-6.42zM399.02 219.7h6.42v1.56h-6.42zM322.02 221.26h6.42v1.56h-6.42zM341.27 221.26h6.42v1.56h-6.42zM354.1 221.26h12.83v1.56h-12.83zM322.02 222.82h6.42v1.56h-6.42zM379.77 222.82h6.42v1.56h-6.42zM347.69 227.5h6.42v1.56h-6.42zM341.27 229.07h6.42v1.56h-6.42zM443.94 229.07h6.42v1.56h-6.42zM328.43 230.63h6.42v1.56h-6.42zM347.69 230.63h6.42v1.56h-6.42zM373.36 230.63h6.42v1.56h-6.42zM399.02 230.63h6.42v1.56h-6.42zM354.1 232.19h6.42v1.56h-6.42zM424.69 232.19h6.42v1.56h-6.42zM354.1 233.75h6.42v1.56h-6.42zM373.36 233.75h6.42v1.56h-6.42zM322.02 235.31h6.42v1.56h-6.42zM366.94 235.31h12.83v1.56h-12.83zM328.43 238.43h6.42v1.56h-6.42zM354.1 238.43h19.25v1.56h-19.25zM386.19 238.43h6.42v1.56h-6.42zM399.02 238.43h6.42v1.56h-6.42zM456.78 238.43h6.42v1.56h-6.42zM334.85 239.99h6.42v1.56h-6.42zM405.44 239.99h6.42v1.56h-6.42zM354.1 241.55h6.42v1.56h-6.42zM386.19 241.55h6.42v1.56h-6.42zM334.85 243.11h6.42v1.56h-6.42zM360.52 243.11h6.42v1.56h-6.42zM373.36 243.11h6.42v1.56h-6.42zM450.36 243.11h6.42v1.56h-6.42zM334.85 244.67h6.42v1.56h-6.42zM347.69 244.67h6.42v1.56h-6.42zM399.02 246.24h6.42v1.56h-6.42zM328.43 247.8h6.42v1.56h-6.42zM354.1 247.8h6.42v1.56h-6.42zM379.77 247.8h6.42v1.56h-6.42zM488.87 247.8h6.42v1.56h-6.42zM315.6 249.36h6.42v1.56h-6.42zM360.52 249.36h6.42v1.56h-6.42zM399.02 249.36h6.42v1.56h-6.42zM322.02 250.92h6.42v1.56h-6.42zM354.1 250.92h6.42v1.56h-6.42zM366.94 250.92h19.25v1.56h-19.25zM411.86 250.92h6.42v1.56h-6.42zM450.36 250.92h6.42v1.56h-6.42zM482.45 250.92h6.42v1.56h-6.42zM495.28 250.92h6.42v1.56h-6.42zM328.43 252.48h6.42v1.56h-6.42zM354.1 254.04h6.42v1.56h-6.42zM386.19 254.04h6.42v1.56h-6.42z"/>
<path fill="#0c2812" shape-rendering="crispEdges" d="M322.02 68.3h6.42v1.56h-6.42zM411.86 68.3h6.42v1.56h-6.42zM424.69 68.3h6.42v1.56h-6.42zM443.94 68.3h6.42v1.56h-6.42zM469.61 69.86h6.42v1.56h-6.42zM431.11 71.42h12.83v1.56h-12.83zM476.03 71.42h6.42v1.56h-6.42zM450.36 72.98h6.42v1.56h-6.42zM476.03 72.98h6.42v1.56h-6.42zM379.77 74.54h6.42v1.56h-6.42zM469.61 74.54h6.42v1.56h-6.42zM437.53 77.66h6.42v1.56h-6.42zM482.45 77.66h6.42v1.56h-6.42zM322.02 79.23h6.42v1.56h-6.42zM431.11 80.79h12.83v1.56h-12.83zM360.52 82.35h6.42v1.56h-6.42zM411.86 82.35h6.42v1.56h-6.42zM476.03 82.35h6.42v1.56h-6.42zM315.6 83.91h12.83v1.56h-12.83zM399.02 83.91h6.42v1.56h-6.42zM341.27 85.47h6.42v1.56h-6.42zM424.69 85.47h6.42v1.56h-6.42zM437.53 85.47h6.42v1.56h-6.42zM488.87 85.47h6.42v1.56h-6.42zM360.52 87.03h6.42v1.56h-6.42zM488.87 87.03h6.42v1.56h-6.42zM418.28 88.59h6.42v1.56h-6.42zM456.78 88.59h12.83v1.56h-12.83zM482.45 88.59h6.42v1.56h-6.42zM456.78 90.15h6.42v1.56h-6.42zM476.03 90.15h6.42v1.56h-6.42zM431.11 91.71h6.42v1.56h-6.42zM443.94 93.27h6.42v1.56h-6.42zM469.61 93.27h6.42v1.56h-6.42zM334.85 96.39h6.42v1.56h-6.42zM354.1 96.39h12.83v1.56h-12.83zM379.77 96.39h6.42v1.56h-6.42zM399.02 96.39h6.42v1.56h-6.42zM431.11 96.39h6.42v1.56h-6.42zM450.36 96.39h6.42v1.56h-6.42zM469.61 96.39h6.42v1.56h-6.42zM315.6 97.96h6.42v1.56h-6.42zM405.44 97.96h6.42v1.56h-6.42zM456.78 97.96h6.42v1.56h-6.42zM469.61 99.52h6.42v1.56h-6.42zM495.28 99.52h6.42v1.56h-6.42zM392.61 101.08h6.42v1.56h-6.42zM418.28 101.08h6.42v1.56h-6.42zM424.69 102.64h6.42v1.56h-6.42zM469.61 102.64h6.42v1.56h-6.42zM488.87 102.64h6.42v1.56h-6.42zM450.36 104.2h6.42v1.56h-6.42zM431.11 107.32h6.42v1.56h-6.42zM469.61 107.32h6.42v1.56h-6.42zM488.87 107.32h6.42v1.56h-6.42zM322.02 108.88h6.42v1.56h-6.42zM392.61 108.88h6.42v1.56h-6.42zM456.78 108.88h6.42v1.56h-6.42zM495.28 108.88h6.42v1.56h-6.42zM405.44 110.44h6.42v1.56h-6.42zM469.61 110.44h6.42v1.56h-6.42zM495.28 110.44h6.42v1.56h-6.42zM443.94 113.56h6.42v1.56h-6.42zM482.45 115.12h6.42v1.56h-6.42zM495.28 115.12h6.42v1.56h-6.42zM450.36 116.69h6.42v1.56h-6.42zM456.78 118.25h6.42v1.56h-6.42zM399.02 119.81h6.42v1.56h-6.42zM431.11 121.37h6.42v1.56h-6.42zM469.61 121.37h12.83v1.56h-12.83zM443.94 124.49h6.42v1.56h-6.42zM463.2 124.49h6.42v1.56h-6.42zM482.45 124.49h6.42v1.56h-6.42zM424.69 126.05h6.42v1.56h-6.42zM437.53 126.05h6.42v1.56h-6.42zM450.36 126.05h6.42v1.56h-6.42zM392.61 127.61h6.42v1.56h-6.42zM411.86 127.61h6.42v1.56h-6.42zM450.36 127.61h6.42v1.56h-6.42zM495.28 127.61h6.42v1.56h-6.42zM347.69 129.17h6.42v1.56h-6.42zM437.53 129.17h6.42v1.56h-6.42zM456.78 129.17h12.83v1.56h-12.83zM354.1 130.73h6.42v1.56h-6.42zM379.77 130.73h6.42v1.56h-6.42zM443.94 130.73h6.42v1.56h-6.42zM482.45 130.73h6.42v1.56h-6.42zM418.28 132.29h12.83v1.56h-12.83zM456.78 132.29h6.42v1.56h-6.42zM476.03 132.29h6.42v1.56h-6.42zM488.87 133.86h6.42v1.56h-6.42zM431.11 135.42h6.42v1.56h-6.42zM495.28 135.42h6.42v1.56h-6.42zM469.61 136.98h6.42v1.56h-6.42zM488.87 136.98h6.42v1.56h-6.42zM373.36 138.54h6.42v1.56h-6.42zM431.11 138.54h6.42v1.56h-6.42zM450.36 138.54h6.42v1.56h-6.42zM469.61 140.1h6.42v1.56h-6.42zM456.78 141.66h6.42v1.56h-6.42zM488.87 141.66h6.42v1.56h-6.42zM463.2 143.22h6.42v1.56h-6.42zM424.69 144.78h12.83v1.56h-12.83zM347.69 146.34h6.42v1.56h-6.42zM443.94 147.9h6.42v1.56h-6.42zM463.2 147.9h6.42v1.56h-6.42zM443.94 149.46h6.42v1.56h-6.42zM418.28 152.59h6.42v1.56h-6.42zM431.11 152.59h6.42v1.56h-6.42zM386.19 154.15h6.42v1.56h-6.42zM418.28 154.15h6.42v1.56h-6.42zM431.11 154.15h12.83v1.56h-12.83zM463.2 154.15h6.42v1.56h-6.42zM476.03 154.15h6.42v1.56h-6.42zM334.85 155.71h6.42v1.56h-6.42zM379.77 155.71h6.42v1.56h-6.42zM424.69 155.71h6.42v1.56h-6.42zM476.03 155.71h6.42v1.56h-6.42zM341.27 157.27h6.42v1.56h-6.42zM354.1 157.27h6.42v1.56h-6.42zM424.69 157.27h6.42v1.56h-6.42zM450.36 157.27h6.42v1.56h-6.42zM469.61 157.27h6.42v1.56h-6.42zM341.27 158.83h6.42v1.56h-6.42zM360.52 158.83h6.42v1.56h-6.42zM450.36 158.83h6.42v1.56h-6.42zM488.87 158.83h6.42v1.56h-6.42zM418.28 161.95h6.42v1.56h-6.42zM443.94 161.95h6.42v1.56h-6.42zM366.94 163.51h6.42v1.56h-6.42zM488.87 163.51h6.42v1.56h-6.42zM456.78 165.07h6.42v1.56h-6.42zM334.85 166.63h12.83v1.56h-12.83zM354.1 166.63h6.42v1.56h-6.42zM431.11 166.63h6.42v1.56h-6.42zM482.45 166.63h6.42v1.56h-6.42zM495.28 166.63h6.42v1.56h-6.42zM495.28 168.19h6.42v1.56h-6.42zM392.61 169.75h6.42v1.56h-6.42zM456.78 169.75h12.83v1.56h-12.83zM334.85 171.31h6.42v1.56h-6.42zM482.45 171.31h6.42v1.56h-6.42zM418.28 172.88h6.42v1.56h-6.42zM431.11 172.88h6.42v1.56h-6.42zM443.94 172.88h6.42v1.56h-6.42zM482.45 172.88h19.25v1.56h-19.25zM322.02 174.44h12.83v1.56h-12.83zM354.1 174.44h12.83v1.56h-12.83zM386.19 174.44h6.42v1.56h-6.42zM347.69 176h6.42v1.56h-6.42zM386.19 176h6.42v1.56h-6.42zM334.85 177.56h6.42v1.56h-6.42zM437.53 177.56h12.83v1.56h-12.83zM347.69 179.12h12.83v1.56h-12.83zM482.45 179.12h6.42v1.56h-6.42zM354.1 180.68h12.83v1.56h-12.83zM399.02 180.68h6.42v1.56h-6.42zM411.86 180.68h12.83v1.56h-12.83zM463.2 180.68h6.42v1.56h-6.42zM488.87 180.68h6.42v1.56h-6.42zM373.36 182.24h6.42v1.56h-6.42zM424.69 182.24h6.42v1.56h-6.42zM443.94 182.24h6.42v1.56h-6.42zM354.1 183.8h6.42v1.56h-6.42zM399.02 183.8h6.42v1.56h-6.42zM354.1 185.36h6.42v1.56h-6.42zM424.69 185.36h6.42v1.56h-6.42zM334.85 186.92h6.42v1.56h-6.42zM354.1 186.92h6.42v1.56h-6.42zM392.61 186.92h6.42v1.56h-6.42zM411.86 186.92h6.42v1.56h-6.42zM315.6 188.48h6.42v1.56h-6.42zM334.85 188.48h6.42v1.56h-6.42zM354.1 188.48h6.42v1.56h-6.42zM366.94 188.48h6.42v1.56h-6.42zM392.61 188.48h6.42v1.56h-6.42zM431.11 188.48h6.42v1.56h-6.42zM456.78 188.48h6.42v1.56h-6.42zM488.87 188.48h6.42v1.56h-6.42zM328.43 190.05h6.42v1.56h-6.42zM354.1 191.61h6.42v1.56h-6.42zM411.86 191.61h6.42v1.56h-6.42zM437.53 191.61h12.83v1.56h-12.83zM469.61 191.61h6.42v1.56h-6.42zM482.45 191.61h6.42v1.56h-6.42zM328.43 193.17h6.42v1.56h-6.42zM360.52 193.17h12.83v1.56h-12.83zM411.86 193.17h6.42v1.56h-6.42zM341.27 194.73h6.42v1.56h-6.42zM366.94 194.73h6.42v1.56h-6.42zM379.77 194.73h6.42v1.56h-6.42zM431.11 194.73h6.42v1.56h-6.42zM315.6 196.29h12.83v1.56h-12.83zM334.85 196.29h6.42v1.56h-6.42zM386.19 196.29h6.42v1.56h-6.42zM315.6 197.85h6.42v1.56h-6.42zM341.27 197.85h6.42v1.56h-6.42zM392.61 197.85h6.42v1.56h-6.42zM405.44 197.85h6.42v1.56h-6.42zM328.43 199.41h6.42v1.56h-6.42zM379.77 199.41h6.42v1.56h-6.42zM411.86 199.41h6.42v1.56h-6.42zM341.27 200.97h6.42v1.56h-6.42zM399.02 200.97h6.42v1.56h-6.42zM411.86 200.97h6.42v1.56h-6.42zM328.43 202.53h6.42v1.56h-6.42zM354.1 202.53h6.42v1.56h-6.42zM373.36 202.53h12.83v1.56h-12.83zM399.02 202.53h12.83v1.56h-12.83zM463.2 202.53h6.42v1.56h-6.42zM495.28 202.53h6.42v1.56h-6.42zM418.28 204.09h6.42v1.56h-6.42zM379.77 205.65h6.42v1.56h-6.42zM405.44 205.65h6.42v1.56h-6.42zM405.44 207.21h6.42v1.56h-6.42zM476.03 207.21h6.42v1.56h-6.42zM488.87 207.21h6.42v1.56h-6.42zM328.43 208.78h6.42v1.56h-6.42zM488.87 208.78h12.83v1.56h-12.83zM360.52 210.34h6.42v1.56h-6.42zM411.86 210.34h6.42v1.56h-6.42zM354.1 211.9h12.83v1.56h-12.83zM411.86 211.9h6.42v1.56h-6.42zM399.02 213.46h6.42v1.56h-6.42zM315.6 215.02h6.42v1.56h-6.42zM469.61 215.02h6.42v1.56h-6.42zM322.02 216.58h6.42v1.56h-6.42zM399.02 216.58h19.25v1.56h-19.25zM315.6 218.14h6.42v1.56h-6.42zM392.61 218.14h6.42v1.56h-6.42zM315.6 219.7h12.83v1.56h-12.83zM373.36 219.7h6.42v1.56h-6.42zM328.43 221.26h6.42v1.56h-6.42zM386.19 222.82h6.42v1.56h-6.42zM399.02 222.82h6.42v1.56h-6.42zM469.61 222.82h6.42v1.56h-6.42zM405.44 224.38h6.42v1.56h-6.42zM456.78 224.38h6.42v1.56h-6.42zM360.52 227.5h6.42v1.56h-6.42zM399.02 227.5h6.42v1.56h-6.42zM463.2 227.5h6.42v1.56h-6.42zM476.03 227.5h6.42v1.56h-6.42zM373.36 229.07h6.42v1.56h-6.42zM411.86 229.07h6.42v1.56h-6.42zM424.69 229.07h12.83v1.56h-12.83zM476.03 229.07h12.83v1.56h-12.83zM411.86 230.63h6.42v1.56h-6.42zM443.94 230.63h6.42v1.56h-6.42zM379.77 232.19h6.42v1.56h-6.42zM315.6 233.75h6.42v1.56h-6.42zM341.27 233.75h6.42v1.56h-6.42zM386.19 233.75h6.42v1.56h-6.42zM334.85 235.31h6.42v1.56h-6.42zM354.1 235.31h6.42v1.56h-6.42zM379.77 235.31h6.42v1.56h-6.42zM405.44 235.31h6.42v1.56h-6.42zM347.69 236.87h6.42v1.56h-6.42zM341.27 238.43h6.42v1.56h-6.42zM341.27 239.99h6.42v1.56h-6.42zM399.02 239.99h6.42v1.56h-6.42zM456.78 239.99h6.42v1.56h-6.42zM328.43 241.55h12.83v1.56h-12.83zM347.69 241.55h6.42v1.56h-6.42zM366.94 241.55h6.42v1.56h-6.42zM495.28 241.55h6.42v1.56h-6.42zM347.69 243.11h6.42v1.56h-6.42zM399.02 243.11h6.42v1.56h-6.42zM411.86 243.11h6.42v1.56h-6.42zM328.43 244.67h6.42v1.56h-6.42zM379.77 244.67h19.25v1.56h-19.25zM379.77 246.24h12.83v1.56h-12.83zM322.02 247.8h6.42v1.56h-6.42zM334.85 247.8h6.42v1.56h-6.42zM360.52 247.8h6.42v1.56h-6.42zM373.36 247.8h6.42v1.56h-6.42zM399.02 247.8h6.42v1.56h-6.42zM411.86 247.8h6.42v1.56h-6.42zM328.43 249.36h19.25v1.56h-19.25zM354.1 249.36h6.42v1.56h-6.42zM366.94 249.36h6.42v1.56h-6.42zM386.19 249.36h12.83v1.56h-12.83zM456.78 249.36h6.42v1.56h-6.42zM341.27 250.92h6.42v1.56h-6.42zM463.2 250.92h6.42v1.56h-6.42zM322.02 254.04h6.42v1.56h-6.42zM341.27 254.04h6.42v1.56h-6.42zM411.86 254.04h6.42v1.56h-6.42zM456.78 254.04h6.42v1.56h-6.42z"/>
<path fill="#081b0c" shape-rendering="crispEdges" d="M418.28 68.3h6.42v1.56h-6.42zM341.27 69.86h6.42v1.56h-6.42zM405.44 69.86h6.42v1.56h-6.42zM379.77 71.42h6.42v1.56h-6.42zM488.87 71.42h6.42v1.56h-6.42zM366.94 72.98h6.42v1.56h-6.42zM431.11 72.98h12.83v1.56h-12.83zM488.87 72.98h12.83v1.56h-12.83zM322.02 74.54h6.42v1.56h-6.42zM341.27 74.54h6.42v1.56h-6.42zM405.44 74.54h6.42v1.56h-6.42zM424.69 76.1h6.42v1.56h-6.42zM450.36 77.66h6.42v1.56h-6.42zM469.61 77.66h6.42v1.56h-6.42zM411.86 79.23h6.42v1.56h-6.42zM424.69 79.23h6.42v1.56h-6.42zM443.94 79.23h6.42v1.56h-6.42zM476.03 79.23h6.42v1.56h-6.42zM418.28 80.79h6.42v1.56h-6.42zM463.2 80.79h6.42v1.56h-6.42zM328.43 82.35h6.42v1.56h-6.42zM373.36 82.35h6.42v1.56h-6.42zM450.36 82.35h6.42v1.56h-6.42zM463.2 82.35h12.83v1.56h-12.83zM495.28 82.35h6.42v1.56h-6.42zM495.28 83.91h6.42v1.56h-6.42zM463.2 85.47h6.42v1.56h-6.42zM354.1 87.03h6.42v1.56h-6.42zM443.94 87.03h6.42v1.56h-6.42zM456.78 87.03h6.42v1.56h-6.42zM495.28 87.03h6.42v1.56h-6.42zM399.02 88.59h6.42v1.56h-6.42zM469.61 90.15h6.42v1.56h-6.42zM495.28 90.15h6.42v1.56h-6.42zM450.36 91.71h6.42v1.56h-6.42zM476.03 91.71h6.42v1.56h-6.42zM360.52 93.27h12.83v1.56h-12.83zM411.86 93.27h12.83v1.56h-12.83zM476.03 93.27h6.42v1.56h-6.42zM424.69 94.83h6.42v1.56h-6.42zM488.87 94.83h6.42v1.56h-6.42zM315.6 96.39h12.83v1.56h-12.83zM366.94 96.39h6.42v1.56h-6.42zM463.2 96.39h6.42v1.56h-6.42zM450.36 97.96h6.42v1.56h-6.42zM488.87 97.96h6.42v1.56h-6.42zM411.86 99.52h6.42v1.56h-6.42zM463.2 99.52h6.42v1.56h-6.42zM360.52 101.08h6.42v1.56h-6.42zM411.86 101.08h6.42v1.56h-6.42zM431.11 101.08h6.42v1.56h-6.42zM482.45 101.08h12.83v1.56h-12.83zM328.43 102.64h6.42v1.56h-6.42zM437.53 102.64h6.42v1.56h-6.42zM456.78 102.64h6.42v1.56h-6.42zM328.43 104.2h6.42v1.56h-6.42zM463.2 104.2h6.42v1.56h-6.42zM488.87 104.2h6.42v1.56h-6.42zM411.86 105.76h6.42v1.56h-6.42zM424.69 105.76h6.42v1.56h-6.42zM495.28 105.76h6.42v1.56h-6.42zM405.44 107.32h6.42v1.56h-6.42zM463.2 107.32h6.42v1.56h-6.42zM424.69 108.88h6.42v1.56h-6.42zM437.53 108.88h6.42v1.56h-6.42zM476.03 108.88h6.42v1.56h-6.42zM334.85 110.44h6.42v1.56h-6.42zM437.53 110.44h12.83v1.56h-12.83zM476.03 110.44h12.83v1.56h-12.83zM322.02 112h6.42v1.56h-6.42zM379.77 112h6.42v1.56h-6.42zM418.28 112h19.25v1.56h-19.25zM431.11 113.56h6.42v1.56h-6.42zM450.36 113.56h6.42v1.56h-6.42zM315.6 115.12h6.42v1.56h-6.42zM354.1 115.12h12.83v1.56h-12.83zM411.86 115.12h6.42v1.56h-6.42zM431.11 115.12h6.42v1.56h-6.42zM405.44 116.69h6.42v1.56h-6.42zM418.28 116.69h6.42v1.56h-6.42zM437.53 116.69h12.83v1.56h-12.83zM456.78 116.69h6.42v1.56h-6.42zM392.61 118.25h6.42v1.56h-6.42zM411.86 118.25h6.42v1.56h-6.42zM437.53 118.25h6.42v1.56h-6.42zM463.2 118.25h12.83v1.56h-12.83zM386.19 119.81h6.42v1.56h-6.42zM424.69 119.81h6.42v1.56h-6.42zM379.77 121.37h6.42v1.56h-6.42zM347.69 124.49h6.42v1.56h-6.42zM373.36 124.49h6.42v1.56h-6.42zM399.02 124.49h6.42v1.56h-6.42zM437.53 124.49h6.42v1.56h-6.42zM488.87 124.49h6.42v1.56h-6.42zM431.11 126.05h6.42v1.56h-6.42zM315.6 127.61h6.42v1.56h-6.42zM334.85 127.61h6.42v1.56h-6.42zM360.52 127.61h6.42v1.56h-6.42zM373.36 129.17h6.42v1.56h-6.42zM418.28 129.17h6.42v1.56h-6.42zM431.11 129.17h6.42v1.56h-6.42zM322.02 130.73h12.83v1.56h-12.83zM347.69 130.73h6.42v1.56h-6.42zM450.36 130.73h6.42v1.56h-6.42zM322.02 132.29h6.42v1.56h-6.42zM399.02 132.29h6.42v1.56h-6.42zM411.86 133.86h6.42v1.56h-6.42zM450.36 133.86h6.42v1.56h-6.42zM334.85 135.42h6.42v1.56h-6.42zM366.94 135.42h6.42v1.56h-6.42zM418.28 135.42h6.42v1.56h-6.42zM443.94 136.98h6.42v1.56h-6.42zM443.94 138.54h6.42v1.56h-6.42zM488.87 138.54h6.42v1.56h-6.42zM315.6 141.66h6.42v1.56h-6.42zM347.69 141.66h6.42v1.56h-6.42zM392.61 141.66h6.42v1.56h-6.42zM405.44 141.66h6.42v1.56h-6.42zM328.43 143.22h6.42v1.56h-6.42zM431.11 143.22h6.42v1.56h-6.42zM476.03 143.22h6.42v1.56h-6.42zM488.87 143.22h6.42v1.56h-6.42zM418.28 144.78h6.42v1.56h-6.42zM437.53 144.78h12.83v1.56h-12.83zM476.03 144.78h12.83v1.56h-12.83zM399.02 146.34h6.42v1.56h-6.42zM418.28 146.34h6.42v1.56h-6.42zM456.78 146.34h6.42v1.56h-6.42zM476.03 146.34h6.42v1.56h-6.42zM495.28 146.34h6.42v1.56h-6.42zM392.61 147.9h6.42v1.56h-6.42zM411.86 147.9h6.42v1.56h-6.42zM392.61 149.46h6.42v1.56h-6.42zM495.28 149.46h6.42v1.56h-6.42zM431.11 151.02h6.42v1.56h-6.42zM456.78 151.02h19.25v1.56h-19.25zM328.43 152.59h6.42v1.56h-6.42zM386.19 152.59h6.42v1.56h-6.42zM469.61 154.15h6.42v1.56h-6.42zM322.02 155.71h6.42v1.56h-6.42zM347.69 155.71h6.42v1.56h-6.42zM373.36 155.71h6.42v1.56h-6.42zM418.28 155.71h6.42v1.56h-6.42zM437.53 155.71h12.83v1.56h-12.83zM456.78 155.71h6.42v1.56h-6.42zM405.44 157.27h6.42v1.56h-6.42zM482.45 157.27h6.42v1.56h-6.42zM405.44 158.83h6.42v1.56h-6.42zM431.11 158.83h6.42v1.56h-6.42zM443.94 158.83h6.42v1.56h-6.42zM456.78 158.83h6.42v1.56h-6.42zM495.28 158.83h6.42v1.56h-6.42zM341.27 160.39h6.42v1.56h-6.42zM443.94 160.39h6.42v1.56h-6.42zM456.78 160.39h6.42v1.56h-6.42zM476.03 160.39h19.25v1.56h-19.25zM437.53 161.95h6.42v1.56h-6.42zM469.61 161.95h12.83v1.56h-12.83zM488.87 161.95h6.42v1.56h-6.42zM315.6 163.51h19.25v1.56h-19.25zM373.36 163.51h6.42v1.56h-6.42zM405.44 163.51h6.42v1.56h-6.42zM469.61 163.51h6.42v1.56h-6.42zM334.85 165.07h6.42v1.56h-6.42zM354.1 165.07h6.42v1.56h-6.42zM431.11 165.07h6.42v1.56h-6.42zM443.94 165.07h6.42v1.56h-6.42zM469.61 165.07h6.42v1.56h-6.42zM450.36 166.63h6.42v1.56h-6.42zM424.69 168.19h6.42v1.56h-6.42zM463.2 168.19h6.42v1.56h-6.42zM476.03 168.19h6.42v1.56h-6.42zM341.27 169.75h6.42v1.56h-6.42zM418.28 171.31h12.83v1.56h-12.83zM437.53 171.31h12.83v1.56h-12.83zM456.78 171.31h6.42v1.56h-6.42zM347.69 172.88h6.42v1.56h-6.42zM386.19 172.88h6.42v1.56h-6.42zM411.86 172.88h6.42v1.56h-6.42zM315.6 174.44h6.42v1.56h-6.42zM341.27 174.44h6.42v1.56h-6.42zM366.94 174.44h6.42v1.56h-6.42zM411.86 174.44h12.83v1.56h-12.83zM469.61 174.44h6.42v1.56h-6.42zM341.27 176h6.42v1.56h-6.42zM392.61 176h12.83v1.56h-12.83zM379.77 177.56h6.42v1.56h-6.42zM405.44 177.56h6.42v1.56h-6.42zM424.69 177.56h6.42v1.56h-6.42zM456.78 177.56h6.42v1.56h-6.42zM315.6 179.12h6.42v1.56h-6.42zM334.85 179.12h6.42v1.56h-6.42zM392.61 179.12h6.42v1.56h-6.42zM328.43 180.68h6.42v1.56h-6.42zM379.77 180.68h6.42v1.56h-6.42zM315.6 182.24h6.42v1.56h-6.42zM328.43 182.24h6.42v1.56h-6.42zM328.43 183.8h25.67v1.56h-25.67zM373.36 183.8h6.42v1.56h-6.42zM463.2 183.8h12.83v1.56h-12.83zM366.94 185.36h6.42v1.56h-6.42zM431.11 185.36h6.42v1.56h-6.42zM450.36 185.36h6.42v1.56h-6.42zM399.02 186.92h6.42v1.56h-6.42zM328.43 188.48h6.42v1.56h-6.42zM399.02 188.48h6.42v1.56h-6.42zM469.61 188.48h6.42v1.56h-6.42zM482.45 188.48h6.42v1.56h-6.42zM399.02 190.05h6.42v1.56h-6.42zM431.11 190.05h6.42v1.56h-6.42zM469.61 190.05h12.83v1.56h-12.83zM334.85 191.61h6.42v1.56h-6.42zM405.44 191.61h6.42v1.56h-6.42zM476.03 191.61h6.42v1.56h-6.42zM386.19 193.17h6.42v1.56h-6.42zM424.69 193.17h6.42v1.56h-6.42zM328.43 194.73h6.42v1.56h-6.42zM347.69 194.73h6.42v1.56h-6.42zM360.52 194.73h6.42v1.56h-6.42zM443.94 196.29h6.42v1.56h-6.42zM456.78 196.29h6.42v1.56h-6.42zM322.02 197.85h12.83v1.56h-12.83zM373.36 197.85h6.42v1.56h-6.42zM450.36 197.85h6.42v1.56h-6.42zM469.61 197.85h6.42v1.56h-6.42zM315.6 199.41h6.42v1.56h-6.42zM341.27 199.41h6.42v1.56h-6.42zM360.52 199.41h6.42v1.56h-6.42zM482.45 199.41h6.42v1.56h-6.42zM322.02 200.97h6.42v1.56h-6.42zM386.19 200.97h6.42v1.56h-6.42zM418.28 202.53h6.42v1.56h-6.42zM488.87 202.53h6.42v1.56h-6.42zM315.6 204.09h6.42v1.56h-6.42zM373.36 204.09h6.42v1.56h-6.42zM424.69 204.09h6.42v1.56h-6.42zM443.94 204.09h6.42v1.56h-6.42zM456.78 204.09h6.42v1.56h-6.42zM482.45 204.09h6.42v1.56h-6.42zM322.02 205.65h6.42v1.56h-6.42zM437.53 207.21h12.83v1.56h-12.83zM456.78 207.21h6.42v1.56h-6.42zM347.69 208.78h6.42v1.56h-6.42zM379.77 208.78h6.42v1.56h-6.42zM405.44 208.78h6.42v1.56h-6.42zM418.28 208.78h6.42v1.56h-6.42zM437.53 208.78h6.42v1.56h-6.42zM456.78 208.78h6.42v1.56h-6.42zM315.6 211.9h6.42v1.56h-6.42zM386.19 211.9h6.42v1.56h-6.42zM399.02 211.9h6.42v1.56h-6.42zM354.1 213.46h6.42v1.56h-6.42zM431.11 213.46h6.42v1.56h-6.42zM495.28 213.46h6.42v1.56h-6.42zM322.02 215.02h12.83v1.56h-12.83zM354.1 215.02h6.42v1.56h-6.42zM366.94 215.02h6.42v1.56h-6.42zM386.19 215.02h6.42v1.56h-6.42zM437.53 215.02h6.42v1.56h-6.42zM463.2 215.02h6.42v1.56h-6.42zM328.43 216.58h6.42v1.56h-6.42zM347.69 216.58h6.42v1.56h-6.42zM379.77 216.58h6.42v1.56h-6.42zM341.27 218.14h6.42v1.56h-6.42zM354.1 218.14h6.42v1.56h-6.42zM379.77 218.14h6.42v1.56h-6.42zM437.53 218.14h12.83v1.56h-12.83zM495.28 218.14h6.42v1.56h-6.42zM341.27 219.7h6.42v1.56h-6.42zM360.52 219.7h6.42v1.56h-6.42zM411.86 219.7h6.42v1.56h-6.42zM443.94 219.7h6.42v1.56h-6.42zM366.94 221.26h6.42v1.56h-6.42zM379.77 221.26h12.83v1.56h-12.83zM315.6 222.82h6.42v1.56h-6.42zM341.27 222.82h12.83v1.56h-12.83zM488.87 222.82h6.42v1.56h-6.42zM347.69 224.38h6.42v1.56h-6.42zM411.86 224.38h6.42v1.56h-6.42zM328.43 225.94h6.42v1.56h-6.42zM411.86 225.94h6.42v1.56h-6.42zM322.02 227.5h6.42v1.56h-6.42zM334.85 227.5h6.42v1.56h-6.42zM354.1 227.5h6.42v1.56h-6.42zM456.78 227.5h6.42v1.56h-6.42zM354.1 229.07h6.42v1.56h-6.42zM456.78 229.07h19.25v1.56h-19.25zM315.6 230.63h6.42v1.56h-6.42zM341.27 230.63h6.42v1.56h-6.42zM405.44 230.63h6.42v1.56h-6.42zM418.28 230.63h12.83v1.56h-12.83zM482.45 230.63h6.42v1.56h-6.42zM341.27 232.19h6.42v1.56h-6.42zM373.36 232.19h6.42v1.56h-6.42zM386.19 232.19h6.42v1.56h-6.42zM450.36 233.75h6.42v1.56h-6.42zM341.27 235.31h6.42v1.56h-6.42zM360.52 235.31h6.42v1.56h-6.42zM443.94 235.31h6.42v1.56h-6.42zM328.43 236.87h12.83v1.56h-12.83zM354.1 236.87h6.42v1.56h-6.42zM373.36 236.87h12.83v1.56h-12.83zM450.36 238.43h6.42v1.56h-6.42zM322.02 239.99h6.42v1.56h-6.42zM354.1 239.99h6.42v1.56h-6.42zM411.86 239.99h6.42v1.56h-6.42zM482.45 241.55h6.42v1.56h-6.42zM354.1 243.11h6.42v1.56h-6.42zM392.61 243.11h6.42v1.56h-6.42zM431.11 243.11h6.42v1.56h-6.42zM366.94 244.67h6.42v1.56h-6.42zM411.86 244.67h6.42v1.56h-6.42zM354.1 246.24h6.42v1.56h-6.42zM366.94 246.24h6.42v1.56h-6.42zM315.6 247.8h6.42v1.56h-6.42zM341.27 247.8h6.42v1.56h-6.42zM405.44 247.8h6.42v1.56h-6.42zM418.28 247.8h6.42v1.56h-6.42zM450.36 247.8h6.42v1.56h-6.42zM463.2 247.8h12.83v1.56h-12.83zM347.69 249.36h6.42v1.56h-6.42zM373.36 249.36h6.42v1.56h-6.42zM424.69 249.36h6.42v1.56h-6.42zM469.61 249.36h6.42v1.56h-6.42zM405.44 250.92h6.42v1.56h-6.42zM322.02 252.48h6.42v1.56h-6.42zM373.36 252.48h19.25v1.56h-19.25zM405.44 254.04h6.42v1.56h-6.42zM431.11 254.04h6.42v1.56h-6.42z"/>
<path fill="#040d06" shape-rendering="crispEdges" d="M328.43 68.3h6.42v1.56h-6.42zM341.27 68.3h6.42v1.56h-6.42zM360.52 68.3h6.42v1.56h-6.42zM482.45 68.3h6.42v1.56h-6.42zM315.6 69.86h12.83v1.56h-12.83zM354.1 69.86h6.42v1.56h-6.42zM443.94 69.86h6.42v1.56h-6.42zM482.45 69.86h6.42v1.56h-6.42zM328.43 71.42h6.42v1.56h-6.42zM347.69 71.42h6.42v1.56h-6.42zM366.94 71.42h12.83v1.56h-12.83zM418.28 71.42h6.42v1.56h-6.42zM443.94 71.42h6.42v1.56h-6.42zM354.1 72.98h6.42v1.56h-6.42zM443.94 72.98h6.42v1.56h-6.42zM456.78 72.98h6.42v1.56h-6.42zM328.43 74.54h6.42v1.56h-6.42zM347.69 74.54h6.42v1.56h-6.42zM392.61 74.54h6.42v1.56h-6.42zM411.86 74.54h6.42v1.56h-6.42zM431.11 74.54h6.42v1.56h-6.42zM315.6 76.1h12.83v1.56h-12.83zM341.27 76.1h6.42v1.56h-6.42zM418.28 76.1h6.42v1.56h-6.42zM431.11 76.1h6.42v1.56h-6.42zM443.94 76.1h12.83v1.56h-12.83zM482.45 76.1h6.42v1.56h-6.42zM431.11 77.66h6.42v1.56h-6.42zM354.1 79.23h6.42v1.56h-6.42zM405.44 79.23h6.42v1.56h-6.42zM418.28 79.23h6.42v1.56h-6.42zM482.45 79.23h19.25v1.56h-19.25zM341.27 80.79h6.42v1.56h-6.42zM373.36 80.79h6.42v1.56h-6.42zM322.02 82.35h6.42v1.56h-6.42zM405.44 82.35h6.42v1.56h-6.42zM418.28 82.35h6.42v1.56h-6.42zM482.45 82.35h6.42v1.56h-6.42zM328.43 83.91h12.83v1.56h-12.83zM360.52 83.91h6.42v1.56h-6.42zM476.03 85.47h6.42v1.56h-6.42zM495.28 85.47h6.42v1.56h-6.42zM322.02 87.03h6.42v1.56h-6.42zM431.11 87.03h12.83v1.56h-12.83zM463.2 87.03h6.42v1.56h-6.42zM328.43 88.59h6.42v1.56h-6.42zM347.69 88.59h6.42v1.56h-6.42zM392.61 88.59h6.42v1.56h-6.42zM488.87 88.59h6.42v1.56h-6.42zM431.11 90.15h6.42v1.56h-6.42zM488.87 90.15h6.42v1.56h-6.42zM322.02 91.71h6.42v1.56h-6.42zM354.1 91.71h12.83v1.56h-12.83zM399.02 91.71h6.42v1.56h-6.42zM437.53 91.71h6.42v1.56h-6.42zM315.6 93.27h6.42v1.56h-6.42zM328.43 93.27h6.42v1.56h-6.42zM495.28 93.27h6.42v1.56h-6.42zM476.03 94.83h6.42v1.56h-6.42zM386.19 96.39h6.42v1.56h-6.42zM347.69 97.96h6.42v1.56h-6.42zM373.36 97.96h19.25v1.56h-19.25zM411.86 97.96h6.42v1.56h-6.42zM366.94 99.52h6.42v1.56h-6.42zM456.78 99.52h6.42v1.56h-6.42zM488.87 99.52h6.42v1.56h-6.42zM322.02 101.08h6.42v1.56h-6.42zM334.85 101.08h6.42v1.56h-6.42zM373.36 101.08h6.42v1.56h-6.42zM386.19 101.08h6.42v1.56h-6.42zM431.11 102.64h6.42v1.56h-6.42zM360.52 104.2h6.42v1.56h-6.42zM392.61 104.2h6.42v1.56h-6.42zM443.94 104.2h6.42v1.56h-6.42zM469.61 104.2h12.83v1.56h-12.83zM495.28 104.2h6.42v1.56h-6.42zM431.11 105.76h6.42v1.56h-6.42zM450.36 105.76h6.42v1.56h-6.42zM488.87 105.76h6.42v1.56h-6.42zM424.69 107.32h6.42v1.56h-6.42zM450.36 107.32h6.42v1.56h-6.42zM360.52 108.88h6.42v1.56h-6.42zM354.1 110.44h6.42v1.56h-6.42zM366.94 110.44h6.42v1.56h-6.42zM379.77 110.44h6.42v1.56h-6.42zM418.28 110.44h6.42v1.56h-6.42zM392.61 112h6.42v1.56h-6.42zM443.94 112h6.42v1.56h-6.42zM386.19 113.56h6.42v1.56h-6.42zM456.78 113.56h6.42v1.56h-6.42zM476.03 113.56h6.42v1.56h-6.42zM373.36 115.12h6.42v1.56h-6.42zM392.61 115.12h12.83v1.56h-12.83zM322.02 116.69h6.42v1.56h-6.42zM334.85 116.69h6.42v1.56h-6.42zM386.19 116.69h6.42v1.56h-6.42zM424.69 116.69h6.42v1.56h-6.42zM360.52 118.25h6.42v1.56h-6.42zM399.02 118.25h12.83v1.56h-12.83zM354.1 119.81h6.42v1.56h-6.42zM463.2 119.81h6.42v1.56h-6.42zM488.87 119.81h6.42v1.56h-6.42zM437.53 121.37h12.83v1.56h-12.83zM482.45 121.37h6.42v1.56h-6.42zM424.69 122.93h6.42v1.56h-6.42zM463.2 122.93h6.42v1.56h-6.42zM476.03 122.93h6.42v1.56h-6.42zM495.28 122.93h6.42v1.56h-6.42zM341.27 124.49h6.42v1.56h-6.42zM360.52 124.49h6.42v1.56h-6.42zM379.77 124.49h12.83v1.56h-12.83zM411.86 124.49h6.42v1.56h-6.42zM373.36 126.05h6.42v1.56h-6.42zM463.2 126.05h6.42v1.56h-6.42zM373.36 127.61h6.42v1.56h-6.42zM399.02 127.61h12.83v1.56h-12.83zM315.6 129.17h6.42v1.56h-6.42zM354.1 129.17h6.42v1.56h-6.42zM424.69 129.17h6.42v1.56h-6.42zM450.36 129.17h6.42v1.56h-6.42zM476.03 129.17h6.42v1.56h-6.42zM495.28 129.17h6.42v1.56h-6.42zM315.6 130.73h6.42v1.56h-6.42zM366.94 130.73h6.42v1.56h-6.42zM392.61 130.73h6.42v1.56h-6.42zM463.2 130.73h6.42v1.56h-6.42zM315.6 132.29h6.42v1.56h-6.42zM360.52 132.29h6.42v1.56h-6.42zM366.94 133.86h6.42v1.56h-6.42zM437.53 133.86h12.83v1.56h-12.83zM341.27 135.42h6.42v1.56h-6.42zM392.61 135.42h6.42v1.56h-6.42zM482.45 135.42h6.42v1.56h-6.42zM347.69 136.98h6.42v1.56h-6.42zM379.77 136.98h6.42v1.56h-6.42zM450.36 136.98h6.42v1.56h-6.42zM476.03 136.98h6.42v1.56h-6.42zM334.85 138.54h6.42v1.56h-6.42zM347.69 138.54h12.83v1.56h-12.83zM366.94 138.54h6.42v1.56h-6.42zM386.19 138.54h19.25v1.56h-19.25zM476.03 138.54h6.42v1.56h-6.42zM386.19 140.1h6.42v1.56h-6.42zM418.28 140.1h6.42v1.56h-6.42zM334.85 141.66h6.42v1.56h-6.42zM411.86 141.66h6.42v1.56h-6.42zM463.2 141.66h12.83v1.56h-12.83zM495.28 141.66h6.42v1.56h-6.42zM392.61 143.22h6.42v1.56h-6.42zM418.28 143.22h6.42v1.56h-6.42zM437.53 143.22h6.42v1.56h-6.42zM463.2 144.78h6.42v1.56h-6.42zM328.43 146.34h6.42v1.56h-6.42zM424.69 146.34h6.42v1.56h-6.42zM482.45 146.34h12.83v1.56h-12.83zM379.77 147.9h6.42v1.56h-6.42zM437.53 147.9h6.42v1.56h-6.42zM456.78 147.9h6.42v1.56h-6.42zM482.45 147.9h6.42v1.56h-6.42zM328.43 149.46h6.42v1.56h-6.42zM347.69 149.46h6.42v1.56h-6.42zM424.69 149.46h6.42v1.56h-6.42zM450.36 151.02h6.42v1.56h-6.42zM488.87 151.02h12.83v1.56h-12.83zM334.85 152.59h6.42v1.56h-6.42zM315.6 154.15h12.83v1.56h-12.83zM373.36 154.15h6.42v1.56h-6.42zM488.87 154.15h12.83v1.56h-12.83zM366.94 155.71h6.42v1.56h-6.42zM322.02 157.27h6.42v1.56h-6.42zM360.52 157.27h6.42v1.56h-6.42zM411.86 157.27h6.42v1.56h-6.42zM392.61 158.83h6.42v1.56h-6.42zM328.43 161.95h6.42v1.56h-6.42zM482.45 161.95h6.42v1.56h-6.42zM379.77 163.51h6.42v1.56h-6.42zM411.86 163.51h6.42v1.56h-6.42zM405.44 165.07h6.42v1.56h-6.42zM424.69 165.07h6.42v1.56h-6.42zM495.28 165.07h6.42v1.56h-6.42zM322.02 166.63h6.42v1.56h-6.42zM399.02 166.63h6.42v1.56h-6.42zM418.28 166.63h6.42v1.56h-6.42zM456.78 166.63h6.42v1.56h-6.42zM469.61 166.63h6.42v1.56h-6.42zM488.87 166.63h6.42v1.56h-6.42zM315.6 168.19h6.42v1.56h-6.42zM328.43 169.75h12.83v1.56h-12.83zM373.36 169.75h6.42v1.56h-6.42zM431.11 169.75h6.42v1.56h-6.42zM450.36 169.75h6.42v1.56h-6.42zM347.69 171.31h6.42v1.56h-6.42zM399.02 171.31h12.83v1.56h-12.83zM450.36 171.31h6.42v1.56h-6.42zM463.2 171.31h6.42v1.56h-6.42zM341.27 172.88h6.42v1.56h-6.42zM399.02 172.88h6.42v1.56h-6.42zM469.61 172.88h6.42v1.56h-6.42zM373.36 174.44h12.83v1.56h-12.83zM392.61 174.44h6.42v1.56h-6.42zM424.69 174.44h12.83v1.56h-12.83zM443.94 174.44h6.42v1.56h-6.42zM463.2 174.44h6.42v1.56h-6.42zM328.43 176h12.83v1.56h-12.83zM366.94 176h6.42v1.56h-6.42zM379.77 176h6.42v1.56h-6.42zM411.86 176h6.42v1.56h-6.42zM437.53 176h6.42v1.56h-6.42zM315.6 177.56h6.42v1.56h-6.42zM476.03 177.56h6.42v1.56h-6.42zM431.11 179.12h6.42v1.56h-6.42zM456.78 179.12h6.42v1.56h-6.42zM469.61 179.12h6.42v1.56h-6.42zM488.87 179.12h6.42v1.56h-6.42zM341.27 180.68h6.42v1.56h-6.42zM456.78 180.68h6.42v1.56h-6.42zM334.85 182.24h12.83v1.56h-12.83zM360.52 182.24h6.42v1.56h-6.42zM437.53 182.24h6.42v1.56h-6.42zM386.19 183.8h6.42v1.56h-6.42zM424.69 183.8h6.42v1.56h-6.42zM328.43 185.36h6.42v1.56h-6.42zM379.77 185.36h6.42v1.56h-6.42zM411.86 185.36h6.42v1.56h-6.42zM469.61 185.36h6.42v1.56h-6.42zM495.28 185.36h6.42v1.56h-6.42zM386.19 186.92h6.42v1.56h-6.42zM437.53 186.92h6.42v1.56h-6.42zM322.02 188.48h6.42v1.56h-6.42zM450.36 188.48h6.42v1.56h-6.42zM405.44 190.05h6.42v1.56h-6.42zM424.69 191.61h12.83v1.56h-12.83zM456.78 191.61h6.42v1.56h-6.42zM315.6 193.17h6.42v1.56h-6.42zM334.85 193.17h6.42v1.56h-6.42zM379.77 193.17h6.42v1.56h-6.42zM437.53 193.17h6.42v1.56h-6.42zM469.61 193.17h6.42v1.56h-6.42zM495.28 193.17h6.42v1.56h-6.42zM322.02 194.73h6.42v1.56h-6.42zM399.02 194.73h6.42v1.56h-6.42zM411.86 194.73h6.42v1.56h-6.42zM437.53 194.73h6.42v1.56h-6.42zM456.78 194.73h6.42v1.56h-6.42zM488.87 194.73h6.42v1.56h-6.42zM366.94 196.29h6.42v1.56h-6.42zM392.61 196.29h6.42v1.56h-6.42zM411.86 196.29h6.42v1.56h-6.42zM469.61 196.29h6.42v1.56h-6.42zM334.85 197.85h6.42v1.56h-6.42zM347.69 197.85h6.42v1.56h-6.42zM360.52 197.85h6.42v1.56h-6.42zM411.86 197.85h6.42v1.56h-6.42zM476.03 197.85h6.42v1.56h-6.42zM322.02 199.41h6.42v1.56h-6.42zM366.94 199.41h6.42v1.56h-6.42zM399.02 199.41h6.42v1.56h-6.42zM431.11 199.41h6.42v1.56h-6.42zM315.6 200.97h6.42v1.56h-6.42zM360.52 200.97h6.42v1.56h-6.42zM424.69 200.97h6.42v1.56h-6.42zM443.94 200.97h6.42v1.56h-6.42zM482.45 200.97h6.42v1.56h-6.42zM495.28 200.97h6.42v1.56h-6.42zM341.27 202.53h6.42v1.56h-6.42zM424.69 202.53h12.83v1.56h-12.83zM392.61 204.09h6.42v1.56h-6.42zM488.87 204.09h6.42v1.56h-6.42zM334.85 205.65h6.42v1.56h-6.42zM411.86 205.65h6.42v1.56h-6.42zM488.87 205.65h6.42v1.56h-6.42zM411.86 207.21h6.42v1.56h-6.42zM469.61 207.21h6.42v1.56h-6.42zM495.28 207.21h6.42v1.56h-6.42zM354.1 208.78h6.42v1.56h-6.42zM386.19 208.78h6.42v1.56h-6.42zM392.61 210.34h19.25v1.56h-19.25zM443.94 210.34h6.42v1.56h-6.42zM322.02 211.9h6.42v1.56h-6.42zM347.69 211.9h6.42v1.56h-6.42zM366.94 211.9h12.83v1.56h-12.83zM443.94 211.9h6.42v1.56h-6.42zM418.28 213.46h12.83v1.56h-12.83zM450.36 213.46h19.25v1.56h-19.25zM347.69 215.02h6.42v1.56h-6.42zM399.02 215.02h6.42v1.56h-6.42zM431.11 215.02h6.42v1.56h-6.42zM360.52 218.14h6.42v1.56h-6.42zM373.36 218.14h6.42v1.56h-6.42zM488.87 218.14h6.42v1.56h-6.42zM450.36 219.7h6.42v1.56h-6.42zM469.61 219.7h6.42v1.56h-6.42zM418.28 221.26h6.42v1.56h-6.42zM450.36 221.26h6.42v1.56h-6.42zM463.2 221.26h6.42v1.56h-6.42zM488.87 221.26h6.42v1.56h-6.42zM328.43 222.82h6.42v1.56h-6.42zM360.52 222.82h6.42v1.56h-6.42zM322.02 224.38h6.42v1.56h-6.42zM379.77 224.38h6.42v1.56h-6.42zM431.11 224.38h6.42v1.56h-6.42zM476.03 224.38h6.42v1.56h-6.42zM334.85 225.94h12.83v1.56h-12.83zM354.1 225.94h6.42v1.56h-6.42zM379.77 225.94h6.42v1.56h-6.42zM392.61 225.94h6.42v1.56h-6.42zM437.53 225.94h6.42v1.56h-6.42zM469.61 225.94h6.42v1.56h-6.42zM373.36 227.5h6.42v1.56h-6.42zM386.19 227.5h6.42v1.56h-6.42zM424.69 227.5h19.25v1.56h-19.25zM482.45 227.5h6.42v1.56h-6.42zM347.69 229.07h6.42v1.56h-6.42zM437.53 229.07h6.42v1.56h-6.42zM495.28 229.07h6.42v1.56h-6.42zM334.85 230.63h6.42v1.56h-6.42zM366.94 230.63h6.42v1.56h-6.42zM379.77 230.63h6.42v1.56h-6.42zM392.61 230.63h6.42v1.56h-6.42zM469.61 230.63h6.42v1.56h-6.42zM347.69 232.19h6.42v1.56h-6.42zM392.61 232.19h6.42v1.56h-6.42zM405.44 232.19h6.42v1.56h-6.42zM443.94 232.19h6.42v1.56h-6.42zM360.52 233.75h6.42v1.56h-6.42zM392.61 233.75h6.42v1.56h-6.42zM328.43 235.31h6.42v1.56h-6.42zM456.78 235.31h6.42v1.56h-6.42zM366.94 236.87h6.42v1.56h-6.42zM392.61 236.87h6.42v1.56h-6.42zM424.69 236.87h6.42v1.56h-6.42zM418.28 238.43h6.42v1.56h-6.42zM495.28 238.43h6.42v1.56h-6.42zM315.6 239.99h6.42v1.56h-6.42zM328.43 239.99h6.42v1.56h-6.42zM366.94 239.99h6.42v1.56h-6.42zM450.36 239.99h6.42v1.56h-6.42zM315.6 241.55h6.42v1.56h-6.42zM341.27 241.55h6.42v1.56h-6.42zM379.77 241.55h6.42v1.56h-6.42zM399.02 241.55h6.42v1.56h-6.42zM411.86 241.55h12.83v1.56h-12.83zM450.36 241.55h6.42v1.56h-6.42zM315.6 243.11h19.25v1.56h-19.25zM418.28 243.11h6.42v1.56h-6.42zM437.53 243.11h6.42v1.56h-6.42zM469.61 243.11h6.42v1.56h-6.42zM488.87 243.11h6.42v1.56h-6.42zM315.6 244.67h12.83v1.56h-12.83zM354.1 244.67h12.83v1.56h-12.83zM450.36 244.67h6.42v1.56h-6.42zM347.69 246.24h6.42v1.56h-6.42zM392.61 246.24h6.42v1.56h-6.42zM405.44 246.24h6.42v1.56h-6.42zM463.2 246.24h6.42v1.56h-6.42zM456.78 247.8h6.42v1.56h-6.42zM405.44 249.36h6.42v1.56h-6.42zM418.28 249.36h6.42v1.56h-6.42zM437.53 249.36h6.42v1.56h-6.42zM347.69 250.92h6.42v1.56h-6.42zM424.69 250.92h6.42v1.56h-6.42zM443.94 250.92h6.42v1.56h-6.42zM476.03 250.92h6.42v1.56h-6.42zM366.94 252.48h6.42v1.56h-6.42zM399.02 252.48h6.42v1.56h-6.42zM424.69 252.48h6.42v1.56h-6.42zM437.53 252.48h6.42v1.56h-6.42zM315.6 254.04h6.42v1.56h-6.42zM360.52 254.04h6.42v1.56h-6.42zM379.77 254.04h6.42v1.56h-6.42zM450.36 254.04h6.42v1.56h-6.42zM488.87 254.04h6.42v1.56h-6.42z"/>
<path fill="#0e0102" shape-rendering="crispEdges" d="M347.69 68.3h6.42v1.56h-6.42zM373.36 68.3h6.42v1.56h-6.42zM386.19 68.3h6.42v1.56h-6.42zM399.02 69.86h6.42v1.56h-6.42zM322.02 71.42h6.42v1.56h-6.42zM334.85 71.42h6.42v1.56h-6.42zM354.1 71.42h6.42v1.56h-6.42zM386.19 71.42h6.42v1.56h-6.42zM405.44 71.42h6.42v1.56h-6.42zM315.6 72.98h6.42v1.56h-6.42zM341.27 72.98h6.42v1.56h-6.42zM373.36 72.98h12.83v1.56h-12.83zM463.2 72.98h12.83v1.56h-12.83zM334.85 74.54h6.42v1.56h-6.42zM373.36 76.1h6.42v1.56h-6.42zM322.02 77.66h6.42v1.56h-6.42zM463.2 77.66h6.42v1.56h-6.42zM495.28 77.66h6.42v1.56h-6.42zM328.43 79.23h6.42v1.56h-6.42zM456.78 79.23h6.42v1.56h-6.42zM315.6 80.79h6.42v1.56h-6.42zM334.85 80.79h6.42v1.56h-6.42zM386.19 80.79h6.42v1.56h-6.42zM424.69 80.79h6.42v1.56h-6.42zM482.45 80.79h6.42v1.56h-6.42zM334.85 82.35h6.42v1.56h-6.42zM366.94 82.35h6.42v1.56h-6.42zM392.61 82.35h12.83v1.56h-12.83zM341.27 83.91h6.42v1.56h-6.42zM373.36 83.91h6.42v1.56h-6.42zM405.44 83.91h6.42v1.56h-6.42zM456.78 83.91h6.42v1.56h-6.42zM315.6 85.47h6.42v1.56h-6.42zM354.1 85.47h12.83v1.56h-12.83zM373.36 87.03h6.42v1.56h-6.42zM392.61 87.03h6.42v1.56h-6.42zM411.86 87.03h6.42v1.56h-6.42zM424.69 87.03h6.42v1.56h-6.42zM334.85 88.59h6.42v1.56h-6.42zM366.94 88.59h6.42v1.56h-6.42zM411.86 88.59h6.42v1.56h-6.42zM315.6 91.71h6.42v1.56h-6.42zM347.69 91.71h6.42v1.56h-6.42zM366.94 91.71h6.42v1.56h-6.42zM411.86 91.71h6.42v1.56h-6.42zM456.78 91.71h6.42v1.56h-6.42zM488.87 91.71h6.42v1.56h-6.42zM424.69 93.27h12.83v1.56h-12.83zM450.36 93.27h6.42v1.56h-6.42zM482.45 93.27h6.42v1.56h-6.42zM379.77 94.83h6.42v1.56h-6.42zM399.02 94.83h6.42v1.56h-6.42zM418.28 94.83h6.42v1.56h-6.42zM437.53 94.83h6.42v1.56h-6.42zM456.78 94.83h12.83v1.56h-12.83zM495.28 94.83h6.42v1.56h-6.42zM341.27 96.39h6.42v1.56h-6.42zM373.36 96.39h6.42v1.56h-6.42zM411.86 96.39h6.42v1.56h-6.42zM354.1 97.96h12.83v1.56h-12.83zM334.85 99.52h6.42v1.56h-6.42zM360.52 99.52h6.42v1.56h-6.42zM341.27 101.08h12.83v1.56h-12.83zM334.85 102.64h12.83v1.56h-12.83zM476.03 102.64h12.83v1.56h-12.83zM354.1 104.2h6.42v1.56h-6.42zM328.43 105.76h12.83v1.56h-12.83zM386.19 105.76h6.42v1.56h-6.42zM443.94 105.76h6.42v1.56h-6.42zM463.2 105.76h6.42v1.56h-6.42zM379.77 107.32h6.42v1.56h-6.42zM392.61 107.32h6.42v1.56h-6.42zM476.03 107.32h12.83v1.56h-12.83zM386.19 108.88h6.42v1.56h-6.42zM405.44 108.88h12.83v1.56h-12.83zM431.11 108.88h6.42v1.56h-6.42zM463.2 108.88h12.83v1.56h-12.83zM341.27 110.44h12.83v1.56h-12.83zM386.19 110.44h6.42v1.56h-6.42zM399.02 110.44h6.42v1.56h-6.42zM411.86 110.44h6.42v1.56h-6.42zM341.27 112h19.25v1.56h-19.25zM405.44 112h12.83v1.56h-12.83zM456.78 112h6.42v1.56h-6.42zM482.45 112h6.42v1.56h-6.42zM322.02 113.56h6.42v1.56h-6.42zM341.27 113.56h6.42v1.56h-6.42zM392.61 113.56h6.42v1.56h-6.42zM437.53 113.56h6.42v1.56h-6.42zM469.61 116.69h6.42v1.56h-6.42zM315.6 119.81h6.42v1.56h-6.42zM341.27 119.81h6.42v1.56h-6.42zM366.94 119.81h6.42v1.56h-6.42zM379.77 119.81h6.42v1.56h-6.42zM418.28 119.81h6.42v1.56h-6.42zM437.53 119.81h6.42v1.56h-6.42zM418.28 121.37h6.42v1.56h-6.42zM322.02 122.93h6.42v1.56h-6.42zM437.53 122.93h6.42v1.56h-6.42zM328.43 124.49h6.42v1.56h-6.42zM405.44 124.49h6.42v1.56h-6.42zM469.61 124.49h6.42v1.56h-6.42zM315.6 126.05h12.83v1.56h-12.83zM354.1 126.05h12.83v1.56h-12.83zM392.61 126.05h6.42v1.56h-6.42zM405.44 126.05h6.42v1.56h-6.42zM418.28 126.05h6.42v1.56h-6.42zM482.45 126.05h6.42v1.56h-6.42zM495.28 126.05h6.42v1.56h-6.42zM347.69 127.61h6.42v1.56h-6.42zM366.94 127.61h6.42v1.56h-6.42zM322.02 129.17h12.83v1.56h-12.83zM366.94 129.17h6.42v1.56h-6.42zM392.61 129.17h12.83v1.56h-12.83zM418.28 130.73h6.42v1.56h-6.42zM354.1 132.29h6.42v1.56h-6.42zM379.77 132.29h6.42v1.56h-6.42zM463.2 132.29h6.42v1.56h-6.42zM495.28 132.29h6.42v1.56h-6.42zM379.77 133.86h6.42v1.56h-6.42zM418.28 133.86h6.42v1.56h-6.42zM315.6 135.42h6.42v1.56h-6.42zM347.69 135.42h12.83v1.56h-12.83zM405.44 135.42h6.42v1.56h-6.42zM315.6 136.98h6.42v1.56h-6.42zM341.27 136.98h6.42v1.56h-6.42zM399.02 136.98h12.83v1.56h-12.83zM456.78 136.98h6.42v1.56h-6.42zM405.44 138.54h6.42v1.56h-6.42zM392.61 140.1h6.42v1.56h-6.42zM450.36 140.1h19.25v1.56h-19.25zM476.03 140.1h6.42v1.56h-6.42zM354.1 141.66h6.42v1.56h-6.42zM379.77 141.66h12.83v1.56h-12.83zM399.02 141.66h6.42v1.56h-6.42zM431.11 141.66h6.42v1.56h-6.42zM322.02 143.22h6.42v1.56h-6.42zM360.52 143.22h6.42v1.56h-6.42zM386.19 143.22h6.42v1.56h-6.42zM411.86 143.22h6.42v1.56h-6.42zM482.45 143.22h6.42v1.56h-6.42zM315.6 144.78h12.83v1.56h-12.83zM399.02 144.78h6.42v1.56h-6.42zM488.87 144.78h6.42v1.56h-6.42zM373.36 146.34h6.42v1.56h-6.42zM392.61 146.34h6.42v1.56h-6.42zM469.61 146.34h6.42v1.56h-6.42zM341.27 147.9h6.42v1.56h-6.42zM354.1 147.9h6.42v1.56h-6.42zM399.02 147.9h6.42v1.56h-6.42zM476.03 147.9h6.42v1.56h-6.42zM373.36 149.46h6.42v1.56h-6.42zM488.87 149.46h6.42v1.56h-6.42zM341.27 151.02h6.42v1.56h-6.42zM360.52 151.02h12.83v1.56h-12.83zM379.77 151.02h6.42v1.56h-6.42zM437.53 151.02h6.42v1.56h-6.42zM322.02 152.59h6.42v1.56h-6.42zM405.44 152.59h6.42v1.56h-6.42zM456.78 152.59h6.42v1.56h-6.42zM392.61 154.15h6.42v1.56h-6.42zM392.61 155.71h12.83v1.56h-12.83zM373.36 157.27h19.25v1.56h-19.25zM443.94 157.27h6.42v1.56h-6.42zM476.03 157.27h6.42v1.56h-6.42zM334.85 158.83h6.42v1.56h-6.42zM411.86 158.83h6.42v1.56h-6.42zM424.69 158.83h6.42v1.56h-6.42zM328.43 160.39h6.42v1.56h-6.42zM360.52 160.39h6.42v1.56h-6.42zM405.44 160.39h6.42v1.56h-6.42zM424.69 160.39h6.42v1.56h-6.42zM450.36 160.39h6.42v1.56h-6.42zM469.61 160.39h6.42v1.56h-6.42zM450.36 161.95h6.42v1.56h-6.42zM341.27 163.51h19.25v1.56h-19.25zM315.6 165.07h6.42v1.56h-6.42zM328.43 165.07h6.42v1.56h-6.42zM341.27 165.07h6.42v1.56h-6.42zM366.94 165.07h12.83v1.56h-12.83zM437.53 165.07h6.42v1.56h-6.42zM488.87 165.07h6.42v1.56h-6.42zM315.6 166.63h6.42v1.56h-6.42zM328.43 166.63h6.42v1.56h-6.42zM373.36 166.63h6.42v1.56h-6.42zM386.19 166.63h6.42v1.56h-6.42zM322.02 168.19h12.83v1.56h-12.83zM347.69 168.19h6.42v1.56h-6.42zM456.78 168.19h6.42v1.56h-6.42zM488.87 168.19h6.42v1.56h-6.42zM322.02 169.75h6.42v1.56h-6.42zM347.69 169.75h6.42v1.56h-6.42zM379.77 169.75h6.42v1.56h-6.42zM488.87 169.75h6.42v1.56h-6.42zM379.77 171.31h6.42v1.56h-6.42zM392.61 171.31h6.42v1.56h-6.42zM315.6 172.88h6.42v1.56h-6.42zM456.78 172.88h6.42v1.56h-6.42zM456.78 174.44h6.42v1.56h-6.42zM418.28 176h12.83v1.56h-12.83zM450.36 176h6.42v1.56h-6.42zM482.45 177.56h6.42v1.56h-6.42zM443.94 179.12h6.42v1.56h-6.42zM476.03 179.12h6.42v1.56h-6.42zM450.36 180.68h6.42v1.56h-6.42zM431.11 182.24h6.42v1.56h-6.42zM450.36 182.24h12.83v1.56h-12.83zM476.03 182.24h6.42v1.56h-6.42zM366.94 183.8h6.42v1.56h-6.42zM405.44 183.8h6.42v1.56h-6.42zM437.53 185.36h12.83v1.56h-12.83zM322.02 186.92h6.42v1.56h-6.42zM347.69 186.92h6.42v1.56h-6.42zM379.77 186.92h6.42v1.56h-6.42zM418.28 186.92h12.83v1.56h-12.83zM450.36 186.92h6.42v1.56h-6.42zM469.61 186.92h6.42v1.56h-6.42zM488.87 186.92h6.42v1.56h-6.42zM443.94 188.48h6.42v1.56h-6.42zM476.03 188.48h6.42v1.56h-6.42zM418.28 190.05h6.42v1.56h-6.42zM482.45 190.05h6.42v1.56h-6.42zM431.11 193.17h6.42v1.56h-6.42zM450.36 193.17h6.42v1.56h-6.42zM424.69 194.73h6.42v1.56h-6.42zM463.2 194.73h6.42v1.56h-6.42zM476.03 194.73h6.42v1.56h-6.42zM347.69 196.29h19.25v1.56h-19.25zM424.69 196.29h6.42v1.56h-6.42zM450.36 196.29h6.42v1.56h-6.42zM476.03 196.29h6.42v1.56h-6.42zM495.28 196.29h6.42v1.56h-6.42zM386.19 197.85h6.42v1.56h-6.42zM437.53 197.85h6.42v1.56h-6.42zM456.78 197.85h6.42v1.56h-6.42zM392.61 199.41h6.42v1.56h-6.42zM437.53 199.41h6.42v1.56h-6.42zM469.61 199.41h6.42v1.56h-6.42zM373.36 200.97h6.42v1.56h-6.42zM431.11 200.97h6.42v1.56h-6.42zM437.53 202.53h6.42v1.56h-6.42zM431.11 204.09h12.83v1.56h-12.83zM476.03 204.09h6.42v1.56h-6.42zM347.69 205.65h6.42v1.56h-6.42zM399.02 205.65h6.42v1.56h-6.42zM469.61 205.65h6.42v1.56h-6.42zM418.28 207.21h6.42v1.56h-6.42zM431.11 207.21h6.42v1.56h-6.42zM463.2 207.21h6.42v1.56h-6.42zM424.69 208.78h6.42v1.56h-6.42zM463.2 208.78h6.42v1.56h-6.42zM366.94 210.34h6.42v1.56h-6.42zM437.53 210.34h6.42v1.56h-6.42zM476.03 210.34h6.42v1.56h-6.42zM418.28 211.9h6.42v1.56h-6.42zM450.36 211.9h6.42v1.56h-6.42zM482.45 211.9h6.42v1.56h-6.42zM482.45 213.46h12.83v1.56h-12.83zM373.36 215.02h6.42v1.56h-6.42zM450.36 215.02h6.42v1.56h-6.42zM334.85 216.58h6.42v1.56h-6.42zM360.52 216.58h12.83v1.56h-12.83zM437.53 216.58h6.42v1.56h-6.42zM366.94 218.14h6.42v1.56h-6.42zM399.02 218.14h12.83v1.56h-12.83zM424.69 218.14h6.42v1.56h-6.42zM456.78 218.14h6.42v1.56h-6.42zM476.03 218.14h6.42v1.56h-6.42zM347.69 219.7h6.42v1.56h-6.42zM366.94 219.7h6.42v1.56h-6.42zM463.2 219.7h6.42v1.56h-6.42zM392.61 221.26h6.42v1.56h-6.42zM411.86 221.26h6.42v1.56h-6.42zM495.28 221.26h6.42v1.56h-6.42zM405.44 222.82h12.83v1.56h-12.83zM495.28 222.82h6.42v1.56h-6.42zM315.6 224.38h6.42v1.56h-6.42zM328.43 224.38h12.83v1.56h-12.83zM360.52 224.38h6.42v1.56h-6.42zM386.19 224.38h6.42v1.56h-6.42zM482.45 224.38h6.42v1.56h-6.42zM347.69 225.94h6.42v1.56h-6.42zM399.02 225.94h6.42v1.56h-6.42zM456.78 225.94h6.42v1.56h-6.42zM386.19 230.63h6.42v1.56h-6.42zM431.11 230.63h6.42v1.56h-6.42zM450.36 230.63h6.42v1.56h-6.42zM463.2 230.63h6.42v1.56h-6.42zM366.94 232.19h6.42v1.56h-6.42zM450.36 232.19h6.42v1.56h-6.42zM322.02 233.75h6.42v1.56h-6.42zM347.69 233.75h6.42v1.56h-6.42zM418.28 233.75h6.42v1.56h-6.42zM456.78 233.75h6.42v1.56h-6.42zM399.02 235.31h6.42v1.56h-6.42zM418.28 235.31h12.83v1.56h-12.83zM463.2 235.31h6.42v1.56h-6.42zM476.03 235.31h6.42v1.56h-6.42zM322.02 236.87h6.42v1.56h-6.42zM341.27 236.87h6.42v1.56h-6.42zM386.19 236.87h6.42v1.56h-6.42zM399.02 236.87h6.42v1.56h-6.42zM437.53 238.43h6.42v1.56h-6.42zM463.2 238.43h6.42v1.56h-6.42zM476.03 238.43h6.42v1.56h-6.42zM431.11 241.55h6.42v1.56h-6.42zM443.94 241.55h6.42v1.56h-6.42zM456.78 241.55h12.83v1.56h-12.83zM476.03 241.55h6.42v1.56h-6.42zM488.87 241.55h6.42v1.56h-6.42zM366.94 243.11h6.42v1.56h-6.42zM476.03 243.11h6.42v1.56h-6.42zM373.36 244.67h6.42v1.56h-6.42zM424.69 244.67h6.42v1.56h-6.42zM469.61 244.67h12.83v1.56h-12.83zM360.52 246.24h6.42v1.56h-6.42zM373.36 246.24h6.42v1.56h-6.42zM411.86 246.24h6.42v1.56h-6.42zM431.11 246.24h6.42v1.56h-6.42zM456.78 246.24h6.42v1.56h-6.42zM469.61 246.24h12.83v1.56h-12.83zM424.69 247.8h6.42v1.56h-6.42zM437.53 247.8h6.42v1.56h-6.42zM495.28 247.8h6.42v1.56h-6.42zM431.11 249.36h6.42v1.56h-6.42zM450.36 249.36h6.42v1.56h-6.42zM463.2 249.36h6.42v1.56h-6.42zM456.78 250.92h6.42v1.56h-6.42zM315.6 252.48h6.42v1.56h-6.42zM347.69 252.48h6.42v1.56h-6.42zM392.61 252.48h6.42v1.56h-6.42zM431.11 252.48h6.42v1.56h-6.42zM443.94 252.48h6.42v1.56h-6.42zM482.45 252.48h6.42v1.56h-6.42zM399.02 254.04h6.42v1.56h-6.42z"/>
<path fill="#1d0204" shape-rendering="crispEdges" d="M334.85 68.3h6.42v1.56h-6.42zM373.36 69.86h12.83v1.56h-12.83zM392.61 69.86h6.42v1.56h-6.42zM411.86 69.86h6.42v1.56h-6.42zM392.61 71.42h6.42v1.56h-6.42zM360.52 72.98h6.42v1.56h-6.42zM392.61 72.98h12.83v1.56h-12.83zM411.86 72.98h6.42v1.56h-6.42zM315.6 74.54h6.42v1.56h-6.42zM360.52 74.54h6.42v1.56h-6.42zM360.52 76.1h12.83v1.56h-12.83zM379.77 76.1h6.42v1.56h-6.42zM392.61 76.1h6.42v1.56h-6.42zM366.94 77.66h6.42v1.56h-6.42zM379.77 77.66h12.83v1.56h-12.83zM418.28 77.66h6.42v1.56h-6.42zM315.6 79.23h6.42v1.56h-6.42zM341.27 79.23h6.42v1.56h-6.42zM373.36 79.23h12.83v1.56h-12.83zM399.02 79.23h6.42v1.56h-6.42zM450.36 79.23h6.42v1.56h-6.42zM379.77 80.79h6.42v1.56h-6.42zM392.61 80.79h12.83v1.56h-12.83zM347.69 82.35h12.83v1.56h-12.83zM379.77 82.35h6.42v1.56h-6.42zM347.69 83.91h6.42v1.56h-6.42zM411.86 83.91h6.42v1.56h-6.42zM328.43 85.47h12.83v1.56h-12.83zM392.61 85.47h12.83v1.56h-12.83zM411.86 85.47h12.83v1.56h-12.83zM379.77 87.03h6.42v1.56h-6.42zM341.27 88.59h6.42v1.56h-6.42zM379.77 88.59h12.83v1.56h-12.83zM450.36 88.59h6.42v1.56h-6.42zM379.77 90.15h6.42v1.56h-6.42zM450.36 90.15h6.42v1.56h-6.42zM463.2 90.15h6.42v1.56h-6.42zM328.43 91.71h12.83v1.56h-12.83zM322.02 93.27h6.42v1.56h-6.42zM373.36 93.27h6.42v1.56h-6.42zM386.19 93.27h12.83v1.56h-12.83zM405.44 93.27h6.42v1.56h-6.42zM456.78 93.27h6.42v1.56h-6.42zM315.6 94.83h6.42v1.56h-6.42zM334.85 94.83h12.83v1.56h-12.83zM469.61 94.83h6.42v1.56h-6.42zM322.02 97.96h6.42v1.56h-6.42zM334.85 97.96h6.42v1.56h-6.42zM366.94 97.96h6.42v1.56h-6.42zM399.02 97.96h6.42v1.56h-6.42zM437.53 97.96h6.42v1.56h-6.42zM347.69 99.52h6.42v1.56h-6.42zM373.36 99.52h12.83v1.56h-12.83zM424.69 99.52h6.42v1.56h-6.42zM379.77 101.08h6.42v1.56h-6.42zM450.36 101.08h6.42v1.56h-6.42zM354.1 102.64h6.42v1.56h-6.42zM392.61 102.64h6.42v1.56h-6.42zM495.28 102.64h6.42v1.56h-6.42zM322.02 104.2h6.42v1.56h-6.42zM373.36 104.2h6.42v1.56h-6.42zM386.19 104.2h6.42v1.56h-6.42zM405.44 104.2h6.42v1.56h-6.42zM341.27 105.76h6.42v1.56h-6.42zM437.53 105.76h6.42v1.56h-6.42zM456.78 105.76h6.42v1.56h-6.42zM341.27 107.32h19.25v1.56h-19.25zM418.28 107.32h6.42v1.56h-6.42zM341.27 108.88h6.42v1.56h-6.42zM373.36 108.88h6.42v1.56h-6.42zM418.28 108.88h6.42v1.56h-6.42zM315.6 110.44h6.42v1.56h-6.42zM328.43 110.44h6.42v1.56h-6.42zM373.36 110.44h6.42v1.56h-6.42zM315.6 112h6.42v1.56h-6.42zM373.36 112h6.42v1.56h-6.42zM386.19 112h6.42v1.56h-6.42zM437.53 112h6.42v1.56h-6.42zM469.61 112h6.42v1.56h-6.42zM347.69 113.56h6.42v1.56h-6.42zM405.44 113.56h6.42v1.56h-6.42zM328.43 116.69h6.42v1.56h-6.42zM341.27 116.69h19.25v1.56h-19.25zM366.94 116.69h6.42v1.56h-6.42zM392.61 116.69h12.83v1.56h-12.83zM328.43 118.25h6.42v1.56h-6.42zM360.52 119.81h6.42v1.56h-6.42zM334.85 121.37h19.25v1.56h-19.25zM360.52 121.37h6.42v1.56h-6.42zM315.6 122.93h6.42v1.56h-6.42zM341.27 122.93h12.83v1.56h-12.83zM360.52 122.93h6.42v1.56h-6.42zM379.77 122.93h6.42v1.56h-6.42zM392.61 122.93h6.42v1.56h-6.42zM405.44 122.93h6.42v1.56h-6.42zM482.45 122.93h6.42v1.56h-6.42zM334.85 126.05h6.42v1.56h-6.42zM379.77 126.05h6.42v1.56h-6.42zM399.02 126.05h6.42v1.56h-6.42zM469.61 126.05h12.83v1.56h-12.83zM341.27 127.61h6.42v1.56h-6.42zM379.77 127.61h6.42v1.56h-6.42zM405.44 129.17h6.42v1.56h-6.42zM341.27 130.73h6.42v1.56h-6.42zM411.86 130.73h6.42v1.56h-6.42zM328.43 132.29h6.42v1.56h-6.42zM347.69 132.29h6.42v1.56h-6.42zM411.86 132.29h6.42v1.56h-6.42zM437.53 132.29h6.42v1.56h-6.42zM315.6 133.86h12.83v1.56h-12.83zM386.19 135.42h6.42v1.56h-6.42zM399.02 135.42h6.42v1.56h-6.42zM437.53 135.42h6.42v1.56h-6.42zM424.69 136.98h6.42v1.56h-6.42zM495.28 136.98h6.42v1.56h-6.42zM315.6 138.54h6.42v1.56h-6.42zM354.1 140.1h6.42v1.56h-6.42zM437.53 140.1h6.42v1.56h-6.42zM373.36 143.22h12.83v1.56h-12.83zM399.02 143.22h6.42v1.56h-6.42zM373.36 144.78h6.42v1.56h-6.42zM392.61 144.78h6.42v1.56h-6.42zM405.44 144.78h6.42v1.56h-6.42zM495.28 144.78h6.42v1.56h-6.42zM315.6 146.34h6.42v1.56h-6.42zM341.27 146.34h6.42v1.56h-6.42zM354.1 146.34h12.83v1.56h-12.83zM379.77 146.34h6.42v1.56h-6.42zM405.44 146.34h6.42v1.56h-6.42zM437.53 146.34h6.42v1.56h-6.42zM315.6 147.9h6.42v1.56h-6.42zM328.43 147.9h6.42v1.56h-6.42zM360.52 147.9h6.42v1.56h-6.42zM405.44 147.9h6.42v1.56h-6.42zM322.02 149.46h6.42v1.56h-6.42zM341.27 149.46h6.42v1.56h-6.42zM386.19 149.46h6.42v1.56h-6.42zM418.28 149.46h6.42v1.56h-6.42zM437.53 149.46h6.42v1.56h-6.42zM450.36 149.46h12.83v1.56h-12.83zM469.61 149.46h6.42v1.56h-6.42zM373.36 151.02h6.42v1.56h-6.42zM418.28 151.02h12.83v1.56h-12.83zM379.77 152.59h6.42v1.56h-6.42zM366.94 154.15h6.42v1.56h-6.42zM379.77 154.15h6.42v1.56h-6.42zM443.94 154.15h6.42v1.56h-6.42zM315.6 155.71h6.42v1.56h-6.42zM315.6 157.27h6.42v1.56h-6.42zM399.02 157.27h6.42v1.56h-6.42zM315.6 158.83h6.42v1.56h-6.42zM347.69 158.83h6.42v1.56h-6.42zM322.02 160.39h6.42v1.56h-6.42zM354.1 160.39h6.42v1.56h-6.42zM366.94 160.39h6.42v1.56h-6.42zM379.77 160.39h12.83v1.56h-12.83zM399.02 160.39h6.42v1.56h-6.42zM411.86 160.39h6.42v1.56h-6.42zM334.85 161.95h6.42v1.56h-6.42zM411.86 161.95h6.42v1.56h-6.42zM392.61 163.51h6.42v1.56h-6.42zM360.52 165.07h6.42v1.56h-6.42zM399.02 165.07h6.42v1.56h-6.42zM347.69 166.63h6.42v1.56h-6.42zM360.52 168.19h12.83v1.56h-12.83zM437.53 168.19h6.42v1.56h-6.42zM341.27 171.31h6.42v1.56h-6.42zM373.36 171.31h6.42v1.56h-6.42zM334.85 172.88h6.42v1.56h-6.42zM450.36 174.44h6.42v1.56h-6.42zM463.2 176h6.42v1.56h-6.42zM495.28 176h6.42v1.56h-6.42zM418.28 177.56h6.42v1.56h-6.42zM488.87 177.56h6.42v1.56h-6.42zM411.86 179.12h6.42v1.56h-6.42zM450.36 179.12h6.42v1.56h-6.42zM495.28 179.12h6.42v1.56h-6.42zM431.11 180.68h6.42v1.56h-6.42zM469.61 180.68h6.42v1.56h-6.42zM322.02 183.8h6.42v1.56h-6.42zM482.45 183.8h6.42v1.56h-6.42zM476.03 185.36h6.42v1.56h-6.42zM443.94 186.92h6.42v1.56h-6.42zM482.45 186.92h6.42v1.56h-6.42zM418.28 188.48h6.42v1.56h-6.42zM488.87 191.61h6.42v1.56h-6.42zM443.94 193.17h6.42v1.56h-6.42zM488.87 193.17h6.42v1.56h-6.42zM469.61 194.73h6.42v1.56h-6.42zM482.45 194.73h6.42v1.56h-6.42zM366.94 197.85h6.42v1.56h-6.42zM418.28 197.85h6.42v1.56h-6.42zM431.11 197.85h6.42v1.56h-6.42zM463.2 197.85h6.42v1.56h-6.42zM482.45 197.85h6.42v1.56h-6.42zM405.44 199.41h6.42v1.56h-6.42zM424.69 199.41h6.42v1.56h-6.42zM456.78 199.41h6.42v1.56h-6.42zM476.03 199.41h6.42v1.56h-6.42zM488.87 199.41h6.42v1.56h-6.42zM450.36 200.97h6.42v1.56h-6.42zM341.27 205.65h6.42v1.56h-6.42zM463.2 205.65h6.42v1.56h-6.42zM315.6 208.78h6.42v1.56h-6.42zM450.36 208.78h6.42v1.56h-6.42zM476.03 208.78h12.83v1.56h-12.83zM315.6 210.34h6.42v1.56h-6.42zM354.1 210.34h6.42v1.56h-6.42zM373.36 210.34h6.42v1.56h-6.42zM379.77 211.9h6.42v1.56h-6.42zM405.44 211.9h6.42v1.56h-6.42zM431.11 211.9h12.83v1.56h-12.83zM443.94 215.02h6.42v1.56h-6.42zM482.45 215.02h12.83v1.56h-12.83zM386.19 216.58h6.42v1.56h-6.42zM431.11 216.58h6.42v1.56h-6.42zM450.36 216.58h12.83v1.56h-12.83zM476.03 216.58h19.25v1.56h-19.25zM322.02 218.14h6.42v1.56h-6.42zM334.85 218.14h6.42v1.56h-6.42zM482.45 218.14h6.42v1.56h-6.42zM418.28 219.7h19.25v1.56h-19.25zM482.45 219.7h6.42v1.56h-6.42zM424.69 221.26h6.42v1.56h-6.42zM476.03 221.26h6.42v1.56h-6.42zM431.11 222.82h6.42v1.56h-6.42zM456.78 222.82h6.42v1.56h-6.42zM482.45 222.82h6.42v1.56h-6.42zM366.94 224.38h6.42v1.56h-6.42zM392.61 224.38h6.42v1.56h-6.42zM488.87 224.38h6.42v1.56h-6.42zM360.52 225.94h6.42v1.56h-6.42zM373.36 225.94h6.42v1.56h-6.42zM386.19 225.94h6.42v1.56h-6.42zM424.69 225.94h6.42v1.56h-6.42zM443.94 225.94h12.83v1.56h-12.83zM463.2 225.94h6.42v1.56h-6.42zM366.94 227.5h6.42v1.56h-6.42zM469.61 227.5h6.42v1.56h-6.42zM450.36 229.07h6.42v1.56h-6.42zM488.87 229.07h6.42v1.56h-6.42zM437.53 230.63h6.42v1.56h-6.42zM456.78 230.63h6.42v1.56h-6.42zM405.44 233.75h6.42v1.56h-6.42zM424.69 233.75h12.83v1.56h-12.83zM443.94 233.75h6.42v1.56h-6.42zM488.87 233.75h6.42v1.56h-6.42zM347.69 235.31h6.42v1.56h-6.42zM431.11 235.31h6.42v1.56h-6.42zM495.28 235.31h6.42v1.56h-6.42zM360.52 236.87h6.42v1.56h-6.42zM418.28 236.87h6.42v1.56h-6.42zM469.61 238.43h6.42v1.56h-6.42zM418.28 239.99h6.42v1.56h-6.42zM431.11 239.99h6.42v1.56h-6.42zM463.2 239.99h6.42v1.56h-6.42zM495.28 239.99h6.42v1.56h-6.42zM424.69 243.11h6.42v1.56h-6.42zM443.94 243.11h6.42v1.56h-6.42zM456.78 243.11h6.42v1.56h-6.42zM482.45 243.11h6.42v1.56h-6.42zM399.02 244.67h6.42v1.56h-6.42zM418.28 244.67h6.42v1.56h-6.42zM456.78 244.67h6.42v1.56h-6.42zM488.87 244.67h6.42v1.56h-6.42zM315.6 246.24h6.42v1.56h-6.42zM334.85 246.24h12.83v1.56h-12.83zM450.36 246.24h6.42v1.56h-6.42zM443.94 247.8h6.42v1.56h-6.42zM482.45 247.8h6.42v1.56h-6.42zM488.87 249.36h12.83v1.56h-12.83zM341.27 252.48h6.42v1.56h-6.42zM360.52 252.48h6.42v1.56h-6.42zM450.36 252.48h12.83v1.56h-12.83zM463.2 254.04h6.42v1.56h-6.42z"/>
<path fill="#2b0407" shape-rendering="crispEdges" d="M328.43 69.86h6.42v1.56h-6.42zM411.86 71.42h6.42v1.56h-6.42zM334.85 72.98h6.42v1.56h-6.42zM347.69 72.98h6.42v1.56h-6.42zM386.19 72.98h6.42v1.56h-6.42zM354.1 74.54h6.42v1.56h-6.42zM386.19 76.1h6.42v1.56h-6.42zM411.86 76.1h6.42v1.56h-6.42zM328.43 77.66h6.42v1.56h-6.42zM405.44 77.66h6.42v1.56h-6.42zM456.78 77.66h6.42v1.56h-6.42zM334.85 79.23h6.42v1.56h-6.42zM360.52 79.23h6.42v1.56h-6.42zM386.19 79.23h6.42v1.56h-6.42zM411.86 80.79h6.42v1.56h-6.42zM379.77 83.91h6.42v1.56h-6.42zM373.36 85.47h6.42v1.56h-6.42zM405.44 85.47h6.42v1.56h-6.42zM315.6 87.03h6.42v1.56h-6.42zM328.43 87.03h6.42v1.56h-6.42zM347.69 87.03h6.42v1.56h-6.42zM366.94 87.03h6.42v1.56h-6.42zM399.02 87.03h6.42v1.56h-6.42zM354.1 88.59h12.83v1.56h-12.83zM341.27 90.15h12.83v1.56h-12.83zM366.94 90.15h6.42v1.56h-6.42zM341.27 91.71h6.42v1.56h-6.42zM379.77 91.71h6.42v1.56h-6.42zM379.77 93.27h6.42v1.56h-6.42zM328.43 94.83h6.42v1.56h-6.42zM366.94 94.83h6.42v1.56h-6.42zM315.6 99.52h6.42v1.56h-6.42zM341.27 99.52h6.42v1.56h-6.42zM354.1 99.52h6.42v1.56h-6.42zM405.44 99.52h6.42v1.56h-6.42zM366.94 101.08h6.42v1.56h-6.42zM399.02 101.08h6.42v1.56h-6.42zM322.02 102.64h6.42v1.56h-6.42zM379.77 102.64h6.42v1.56h-6.42zM405.44 102.64h6.42v1.56h-6.42zM366.94 104.2h6.42v1.56h-6.42zM379.77 104.2h6.42v1.56h-6.42zM347.69 105.76h6.42v1.56h-6.42zM366.94 105.76h12.83v1.56h-12.83zM392.61 105.76h6.42v1.56h-6.42zM315.6 107.32h6.42v1.56h-6.42zM360.52 107.32h19.25v1.56h-19.25zM495.28 107.32h6.42v1.56h-6.42zM366.94 112h6.42v1.56h-6.42zM315.6 113.56h6.42v1.56h-6.42zM334.85 113.56h6.42v1.56h-6.42zM366.94 113.56h6.42v1.56h-6.42zM347.69 115.12h6.42v1.56h-6.42zM379.77 115.12h12.83v1.56h-12.83zM379.77 116.69h6.42v1.56h-6.42zM315.6 118.25h6.42v1.56h-6.42zM347.69 118.25h6.42v1.56h-6.42zM366.94 118.25h6.42v1.56h-6.42zM379.77 118.25h12.83v1.56h-12.83zM373.36 121.37h6.42v1.56h-6.42zM386.19 121.37h6.42v1.56h-6.42zM399.02 121.37h6.42v1.56h-6.42zM450.36 121.37h12.83v1.56h-12.83zM488.87 121.37h6.42v1.56h-6.42zM334.85 122.93h6.42v1.56h-6.42zM341.27 126.05h6.42v1.56h-6.42zM386.19 126.05h6.42v1.56h-6.42zM411.86 126.05h6.42v1.56h-6.42zM386.19 127.61h6.42v1.56h-6.42zM334.85 129.17h6.42v1.56h-6.42zM379.77 129.17h12.83v1.56h-12.83zM334.85 130.73h6.42v1.56h-6.42zM373.36 132.29h6.42v1.56h-6.42zM386.19 132.29h12.83v1.56h-12.83zM431.11 132.29h6.42v1.56h-6.42zM443.94 132.29h6.42v1.56h-6.42zM488.87 132.29h6.42v1.56h-6.42zM341.27 133.86h6.42v1.56h-6.42zM386.19 133.86h6.42v1.56h-6.42zM405.44 133.86h6.42v1.56h-6.42zM322.02 135.42h12.83v1.56h-12.83zM360.52 135.42h6.42v1.56h-6.42zM411.86 135.42h6.42v1.56h-6.42zM354.1 136.98h19.25v1.56h-19.25zM386.19 136.98h12.83v1.56h-12.83zM328.43 140.1h6.42v1.56h-6.42zM341.27 140.1h6.42v1.56h-6.42zM373.36 140.1h6.42v1.56h-6.42zM411.86 140.1h6.42v1.56h-6.42zM488.87 140.1h6.42v1.56h-6.42zM328.43 141.66h6.42v1.56h-6.42zM360.52 141.66h6.42v1.56h-6.42zM373.36 141.66h6.42v1.56h-6.42zM347.69 143.22h12.83v1.56h-12.83zM328.43 144.78h6.42v1.56h-6.42zM347.69 144.78h6.42v1.56h-6.42zM360.52 144.78h6.42v1.56h-6.42zM379.77 144.78h12.83v1.56h-12.83zM366.94 146.34h6.42v1.56h-6.42zM334.85 147.9h6.42v1.56h-6.42zM366.94 147.9h6.42v1.56h-6.42zM386.19 147.9h6.42v1.56h-6.42zM488.87 147.9h6.42v1.56h-6.42zM315.6 149.46h6.42v1.56h-6.42zM334.85 149.46h6.42v1.56h-6.42zM360.52 149.46h6.42v1.56h-6.42zM379.77 149.46h6.42v1.56h-6.42zM399.02 149.46h19.25v1.56h-19.25zM315.6 151.02h12.83v1.56h-12.83zM347.69 151.02h6.42v1.56h-6.42zM386.19 151.02h6.42v1.56h-6.42zM360.52 152.59h6.42v1.56h-6.42zM392.61 152.59h12.83v1.56h-12.83zM334.85 154.15h6.42v1.56h-6.42zM360.52 154.15h6.42v1.56h-6.42zM405.44 154.15h6.42v1.56h-6.42zM341.27 155.71h6.42v1.56h-6.42zM322.02 158.83h6.42v1.56h-6.42zM373.36 158.83h6.42v1.56h-6.42zM386.19 158.83h6.42v1.56h-6.42zM373.36 160.39h6.42v1.56h-6.42zM392.61 160.39h6.42v1.56h-6.42zM322.02 161.95h6.42v1.56h-6.42zM341.27 161.95h6.42v1.56h-6.42zM360.52 161.95h6.42v1.56h-6.42zM373.36 161.95h19.25v1.56h-19.25zM431.11 161.95h6.42v1.56h-6.42zM392.61 165.07h6.42v1.56h-6.42zM476.03 165.07h6.42v1.56h-6.42zM360.52 166.63h6.42v1.56h-6.42zM411.86 166.63h6.42v1.56h-6.42zM334.85 168.19h6.42v1.56h-6.42zM386.19 168.19h25.67v1.56h-25.67zM366.94 169.75h6.42v1.56h-6.42zM399.02 169.75h12.83v1.56h-12.83zM322.02 171.31h12.83v1.56h-12.83zM360.52 171.31h6.42v1.56h-6.42zM373.36 172.88h12.83v1.56h-12.83zM437.53 174.44h6.42v1.56h-6.42zM476.03 174.44h12.83v1.56h-12.83zM443.94 176h6.42v1.56h-6.42zM456.78 176h6.42v1.56h-6.42zM469.61 176h6.42v1.56h-6.42zM399.02 177.56h6.42v1.56h-6.42zM495.28 177.56h6.42v1.56h-6.42zM322.02 179.12h6.42v1.56h-6.42zM405.44 179.12h6.42v1.56h-6.42zM418.28 179.12h6.42v1.56h-6.42zM463.2 179.12h6.42v1.56h-6.42zM482.45 180.68h6.42v1.56h-6.42zM495.28 180.68h6.42v1.56h-6.42zM482.45 182.24h6.42v1.56h-6.42zM418.28 183.8h6.42v1.56h-6.42zM456.78 183.8h6.42v1.56h-6.42zM495.28 183.8h6.42v1.56h-6.42zM463.2 186.92h6.42v1.56h-6.42zM450.36 190.05h6.42v1.56h-6.42zM463.2 191.61h6.42v1.56h-6.42zM476.03 193.17h6.42v1.56h-6.42zM418.28 194.73h6.42v1.56h-6.42zM443.94 194.73h6.42v1.56h-6.42zM482.45 196.29h12.83v1.56h-12.83zM347.69 204.09h6.42v1.56h-6.42zM354.1 205.65h6.42v1.56h-6.42zM431.11 205.65h12.83v1.56h-12.83zM450.36 205.65h6.42v1.56h-6.42zM431.11 208.78h6.42v1.56h-6.42zM443.94 208.78h6.42v1.56h-6.42zM341.27 210.34h6.42v1.56h-6.42zM463.2 210.34h6.42v1.56h-6.42zM482.45 210.34h6.42v1.56h-6.42zM469.61 211.9h12.83v1.56h-12.83zM495.28 211.9h6.42v1.56h-6.42zM443.94 213.46h6.42v1.56h-6.42zM495.28 215.02h6.42v1.56h-6.42zM443.94 216.58h6.42v1.56h-6.42zM469.61 216.58h6.42v1.56h-6.42zM495.28 216.58h6.42v1.56h-6.42zM328.43 218.14h6.42v1.56h-6.42zM386.19 218.14h6.42v1.56h-6.42zM418.28 218.14h6.42v1.56h-6.42zM450.36 218.14h6.42v1.56h-6.42zM463.2 218.14h6.42v1.56h-6.42zM443.94 222.82h12.83v1.56h-12.83zM476.03 222.82h6.42v1.56h-6.42zM399.02 224.38h6.42v1.56h-6.42zM450.36 224.38h6.42v1.56h-6.42zM405.44 225.94h6.42v1.56h-6.42zM418.28 225.94h6.42v1.56h-6.42zM431.11 225.94h6.42v1.56h-6.42zM482.45 225.94h6.42v1.56h-6.42zM418.28 227.5h6.42v1.56h-6.42zM488.87 227.5h6.42v1.56h-6.42zM488.87 230.63h6.42v1.56h-6.42zM456.78 232.19h6.42v1.56h-6.42zM482.45 232.19h6.42v1.56h-6.42zM469.61 233.75h6.42v1.56h-6.42zM482.45 233.75h6.42v1.56h-6.42zM495.28 233.75h6.42v1.56h-6.42zM437.53 235.31h6.42v1.56h-6.42zM437.53 236.87h6.42v1.56h-6.42zM463.2 236.87h12.83v1.56h-12.83zM488.87 236.87h6.42v1.56h-6.42zM424.69 238.43h6.42v1.56h-6.42zM379.77 239.99h6.42v1.56h-6.42zM437.53 239.99h12.83v1.56h-12.83zM476.03 239.99h6.42v1.56h-6.42zM424.69 241.55h6.42v1.56h-6.42zM437.53 244.67h12.83v1.56h-12.83zM443.94 246.24h6.42v1.56h-6.42zM437.53 250.92h6.42v1.56h-6.42zM411.86 252.48h12.83v1.56h-12.83zM476.03 252.48h6.42v1.56h-6.42zM482.45 254.04h6.42v1.56h-6.42z"/>
<path fill="#3a0509" shape-rendering="crispEdges" d="M360.52 71.42h6.42v1.56h-6.42zM405.44 72.98h6.42v1.56h-6.42zM399.02 76.1h6.42v1.56h-6.42zM463.2 76.1h6.42v1.56h-6.42zM334.85 77.66h6.42v1.56h-6.42zM360.52 77.66h6.42v1.56h-6.42zM347.69 79.23h6.42v1.56h-6.42zM360.52 80.79h6.42v1.56h-6.42zM443.94 80.79h6.42v1.56h-6.42zM366.94 83.91h6.42v1.56h-6.42zM379.77 85.47h6.42v1.56h-6.42zM450.36 87.03h6.42v1.56h-6.42zM322.02 90.15h6.42v1.56h-6.42zM373.36 90.15h6.42v1.56h-6.42zM399.02 90.15h6.42v1.56h-6.42zM443.94 90.15h6.42v1.56h-6.42zM392.61 91.71h6.42v1.56h-6.42zM405.44 91.71h6.42v1.56h-6.42zM341.27 93.27h6.42v1.56h-6.42zM354.1 94.83h6.42v1.56h-6.42zM411.86 94.83h6.42v1.56h-6.42zM392.61 97.96h6.42v1.56h-6.42zM328.43 99.52h6.42v1.56h-6.42zM315.6 101.08h6.42v1.56h-6.42zM386.19 102.64h6.42v1.56h-6.42zM399.02 102.64h6.42v1.56h-6.42zM411.86 102.64h12.83v1.56h-12.83zM315.6 104.2h6.42v1.56h-6.42zM334.85 104.2h6.42v1.56h-6.42zM418.28 104.2h6.42v1.56h-6.42zM315.6 105.76h6.42v1.56h-6.42zM360.52 105.76h6.42v1.56h-6.42zM405.44 105.76h6.42v1.56h-6.42zM399.02 108.88h6.42v1.56h-6.42zM392.61 110.44h6.42v1.56h-6.42zM354.1 113.56h12.83v1.56h-12.83zM373.36 113.56h6.42v1.56h-6.42zM341.27 115.12h6.42v1.56h-6.42zM366.94 115.12h6.42v1.56h-6.42zM315.6 116.69h6.42v1.56h-6.42zM360.52 116.69h6.42v1.56h-6.42zM373.36 116.69h6.42v1.56h-6.42zM411.86 116.69h6.42v1.56h-6.42zM347.69 119.81h6.42v1.56h-6.42zM411.86 119.81h6.42v1.56h-6.42zM405.44 121.37h12.83v1.56h-12.83zM328.43 122.93h6.42v1.56h-6.42zM386.19 122.93h6.42v1.56h-6.42zM347.69 126.05h6.42v1.56h-6.42zM328.43 127.61h6.42v1.56h-6.42zM360.52 129.17h6.42v1.56h-6.42zM411.86 129.17h6.42v1.56h-6.42zM373.36 130.73h6.42v1.56h-6.42zM334.85 132.29h6.42v1.56h-6.42zM366.94 132.29h6.42v1.56h-6.42zM405.44 132.29h6.42v1.56h-6.42zM354.1 133.86h6.42v1.56h-6.42zM373.36 133.86h6.42v1.56h-6.42zM373.36 135.42h12.83v1.56h-12.83zM322.02 140.1h6.42v1.56h-6.42zM334.85 140.1h6.42v1.56h-6.42zM347.69 140.1h6.42v1.56h-6.42zM360.52 140.1h6.42v1.56h-6.42zM322.02 141.66h6.42v1.56h-6.42zM315.6 143.22h6.42v1.56h-6.42zM341.27 143.22h6.42v1.56h-6.42zM405.44 143.22h6.42v1.56h-6.42zM354.1 144.78h6.42v1.56h-6.42zM366.94 144.78h6.42v1.56h-6.42zM322.02 147.9h6.42v1.56h-6.42zM469.61 147.9h6.42v1.56h-6.42zM334.85 151.02h6.42v1.56h-6.42zM354.1 151.02h6.42v1.56h-6.42zM411.86 152.59h6.42v1.56h-6.42zM347.69 154.15h6.42v1.56h-6.42zM411.86 154.15h6.42v1.56h-6.42zM450.36 154.15h6.42v1.56h-6.42zM386.19 155.71h6.42v1.56h-6.42zM379.77 158.83h6.42v1.56h-6.42zM354.1 161.95h6.42v1.56h-6.42zM405.44 161.95h6.42v1.56h-6.42zM322.02 165.07h6.42v1.56h-6.42zM373.36 168.19h12.83v1.56h-12.83zM354.1 169.75h6.42v1.56h-6.42zM354.1 172.88h12.83v1.56h-12.83zM488.87 174.44h6.42v1.56h-6.42zM354.1 176h6.42v1.56h-6.42zM431.11 176h6.42v1.56h-6.42zM431.11 177.56h6.42v1.56h-6.42zM463.2 177.56h6.42v1.56h-6.42zM437.53 179.12h6.42v1.56h-6.42zM418.28 182.24h6.42v1.56h-6.42zM463.2 182.24h6.42v1.56h-6.42zM488.87 182.24h6.42v1.56h-6.42zM411.86 183.8h6.42v1.56h-6.42zM431.11 183.8h6.42v1.56h-6.42zM476.03 183.8h6.42v1.56h-6.42zM482.45 185.36h6.42v1.56h-6.42zM476.03 186.92h6.42v1.56h-6.42zM424.69 197.85h6.42v1.56h-6.42zM418.28 199.41h6.42v1.56h-6.42zM463.2 199.41h6.42v1.56h-6.42zM495.28 199.41h6.42v1.56h-6.42zM437.53 200.97h6.42v1.56h-6.42zM328.43 205.65h6.42v1.56h-6.42zM424.69 210.34h12.83v1.56h-12.83zM456.78 211.9h12.83v1.56h-12.83zM476.03 213.46h6.42v1.56h-6.42zM315.6 221.26h6.42v1.56h-6.42zM437.53 221.26h12.83v1.56h-12.83zM469.61 221.26h6.42v1.56h-6.42zM418.28 222.82h12.83v1.56h-12.83zM424.69 224.38h6.42v1.56h-6.42zM443.94 224.38h6.42v1.56h-6.42zM469.61 224.38h6.42v1.56h-6.42zM495.28 224.38h6.42v1.56h-6.42zM450.36 227.5h6.42v1.56h-6.42zM476.03 230.63h6.42v1.56h-6.42zM431.11 232.19h6.42v1.56h-6.42zM469.61 232.19h6.42v1.56h-6.42zM488.87 232.19h12.83v1.56h-12.83zM463.2 233.75h6.42v1.56h-6.42zM450.36 235.31h6.42v1.56h-6.42zM431.11 236.87h6.42v1.56h-6.42zM443.94 236.87h6.42v1.56h-6.42zM341.27 243.11h6.42v1.56h-6.42zM437.53 246.24h6.42v1.56h-6.42zM476.03 247.8h6.42v1.56h-6.42zM418.28 254.04h12.83v1.56h-12.83z"/>
<path fill="#48060b" shape-rendering="crispEdges" d="M341.27 71.42h6.42v1.56h-6.42zM334.85 76.1h6.42v1.56h-6.42zM347.69 76.1h12.83v1.56h-12.83zM405.44 76.1h6.42v1.56h-6.42zM341.27 77.66h12.83v1.56h-12.83zM373.36 77.66h6.42v1.56h-6.42zM399.02 77.66h6.42v1.56h-6.42zM411.86 77.66h6.42v1.56h-6.42zM322.02 80.79h12.83v1.56h-12.83zM347.69 85.47h6.42v1.56h-6.42zM334.85 87.03h6.42v1.56h-6.42zM405.44 87.03h6.42v1.56h-6.42zM322.02 88.59h6.42v1.56h-6.42zM328.43 90.15h6.42v1.56h-6.42zM354.1 90.15h12.83v1.56h-12.83zM386.19 90.15h6.42v1.56h-6.42zM424.69 90.15h6.42v1.56h-6.42zM373.36 91.71h6.42v1.56h-6.42zM334.85 93.27h6.42v1.56h-6.42zM347.69 94.83h6.42v1.56h-6.42zM386.19 99.52h6.42v1.56h-6.42zM354.1 105.76h6.42v1.56h-6.42zM334.85 107.32h6.42v1.56h-6.42zM386.19 107.32h6.42v1.56h-6.42zM399.02 107.32h6.42v1.56h-6.42zM334.85 108.88h6.42v1.56h-6.42zM366.94 108.88h6.42v1.56h-6.42zM399.02 112h6.42v1.56h-6.42zM379.77 113.56h6.42v1.56h-6.42zM411.86 113.56h6.42v1.56h-6.42zM328.43 119.81h6.42v1.56h-6.42zM354.1 121.37h6.42v1.56h-6.42zM392.61 121.37h6.42v1.56h-6.42zM373.36 122.93h6.42v1.56h-6.42zM334.85 136.98h6.42v1.56h-6.42zM373.36 136.98h6.42v1.56h-6.42zM366.94 140.1h6.42v1.56h-6.42zM379.77 140.1h6.42v1.56h-6.42zM411.86 146.34h6.42v1.56h-6.42zM373.36 147.9h6.42v1.56h-6.42zM450.36 147.9h6.42v1.56h-6.42zM328.43 151.02h6.42v1.56h-6.42zM392.61 151.02h6.42v1.56h-6.42zM405.44 151.02h12.83v1.56h-12.83zM399.02 154.15h6.42v1.56h-6.42zM405.44 155.71h6.42v1.56h-6.42zM328.43 158.83h6.42v1.56h-6.42zM315.6 160.39h6.42v1.56h-6.42zM315.6 161.95h6.42v1.56h-6.42zM366.94 161.95h6.42v1.56h-6.42zM399.02 161.95h6.42v1.56h-6.42zM347.69 165.07h6.42v1.56h-6.42zM411.86 165.07h6.42v1.56h-6.42zM315.6 169.75h6.42v1.56h-6.42zM450.36 183.8h6.42v1.56h-6.42zM431.11 186.92h6.42v1.56h-6.42zM418.28 193.17h6.42v1.56h-6.42zM418.28 196.29h6.42v1.56h-6.42zM469.61 200.97h6.42v1.56h-6.42zM322.02 202.53h6.42v1.56h-6.42zM366.94 205.65h6.42v1.56h-6.42zM392.61 205.65h6.42v1.56h-6.42zM482.45 205.65h6.42v1.56h-6.42zM495.28 205.65h6.42v1.56h-6.42zM456.78 210.34h6.42v1.56h-6.42zM456.78 215.02h6.42v1.56h-6.42zM373.36 216.58h6.42v1.56h-6.42zM463.2 216.58h6.42v1.56h-6.42zM495.28 219.7h6.42v1.56h-6.42zM456.78 221.26h6.42v1.56h-6.42zM437.53 224.38h6.42v1.56h-6.42zM495.28 230.63h6.42v1.56h-6.42zM463.2 232.19h6.42v1.56h-6.42zM437.53 233.75h6.42v1.56h-6.42zM482.45 235.31h6.42v1.56h-6.42zM411.86 236.87h6.42v1.56h-6.42zM482.45 236.87h6.42v1.56h-6.42zM482.45 239.99h12.83v1.56h-12.83zM495.28 244.67h6.42v1.56h-6.42zM424.69 246.24h6.42v1.56h-6.42zM488.87 246.24h6.42v1.56h-6.42z"/>
<path fill="#57080e" shape-rendering="crispEdges" d="M354.1 77.66h6.42v1.56h-6.42zM392.61 77.66h6.42v1.56h-6.42zM347.69 80.79h6.42v1.56h-6.42zM366.94 80.79h6.42v1.56h-6.42zM405.44 80.79h6.42v1.56h-6.42zM341.27 82.35h6.42v1.56h-6.42zM322.02 85.47h6.42v1.56h-6.42zM373.36 88.59h6.42v1.56h-6.42zM315.6 90.15h6.42v1.56h-6.42zM334.85 90.15h6.42v1.56h-6.42zM392.61 90.15h6.42v1.56h-6.42zM373.36 102.64h6.42v1.56h-6.42zM399.02 105.76h6.42v1.56h-6.42zM379.77 108.88h6.42v1.56h-6.42zM354.1 118.25h6.42v1.56h-6.42zM322.02 119.81h6.42v1.56h-6.42zM405.44 119.81h6.42v1.56h-6.42zM322.02 121.37h12.83v1.56h-12.83zM354.1 122.93h6.42v1.56h-6.42zM366.94 122.93h6.42v1.56h-6.42zM366.94 126.05h6.42v1.56h-6.42zM341.27 132.29h6.42v1.56h-6.42zM360.52 138.54h6.42v1.56h-6.42zM399.02 140.1h6.42v1.56h-6.42zM341.27 141.66h6.42v1.56h-6.42zM341.27 154.15h6.42v1.56h-6.42zM354.1 154.15h6.42v1.56h-6.42zM392.61 157.27h6.42v1.56h-6.42zM411.86 168.19h6.42v1.56h-6.42zM386.19 169.75h6.42v1.56h-6.42zM386.19 171.31h6.42v1.56h-6.42zM392.61 172.88h6.42v1.56h-6.42zM495.28 174.44h6.42v1.56h-6.42zM469.61 182.24h6.42v1.56h-6.42zM456.78 186.92h6.42v1.56h-6.42zM495.28 186.92h6.42v1.56h-6.42zM431.11 196.29h6.42v1.56h-6.42zM418.28 205.65h6.42v1.56h-6.42zM456.78 205.65h6.42v1.56h-6.42zM476.03 205.65h6.42v1.56h-6.42zM495.28 210.34h6.42v1.56h-6.42zM469.61 213.46h6.42v1.56h-6.42zM424.69 215.02h6.42v1.56h-6.42zM476.03 225.94h6.42v1.56h-6.42zM437.53 232.19h6.42v1.56h-6.42zM476.03 232.19h6.42v1.56h-6.42zM456.78 236.87h6.42v1.56h-6.42zM431.11 244.67h6.42v1.56h-6.42zM482.45 246.24h6.42v1.56h-6.42zM488.87 252.48h6.42v1.56h-6.42z"/>
<path fill="#650910" shape-rendering="crispEdges" d="M379.77 105.76h6.42v1.56h-6.42zM328.43 113.56h6.42v1.56h-6.42zM341.27 118.25h6.42v1.56h-6.42zM354.1 124.49h6.42v1.56h-6.42zM405.44 140.1h6.42v1.56h-6.42zM334.85 143.22h6.42v1.56h-6.42zM411.86 144.78h6.42v1.56h-6.42zM399.02 151.02h6.42v1.56h-6.42zM399.02 158.83h6.42v1.56h-6.42zM347.69 161.95h6.42v1.56h-6.42zM418.28 185.36h6.42v1.56h-6.42zM437.53 196.29h6.42v1.56h-6.42zM488.87 225.94h6.42v1.56h-6.42zM469.61 235.31h6.42v1.56h-6.42zM495.28 236.87h6.42v1.56h-6.42z"/>
<path fill="#740b13" shape-rendering="crispEdges" d="M405.44 90.15h6.42v1.56h-6.42zM322.02 94.83h6.42v1.56h-6.42zM443.94 205.65h6.42v1.56h-6.42zM450.36 210.34h6.42v1.56h-6.42z"/>
<path fill="#820c15" shape-rendering="crispEdges" d="M463.2 91.71h6.42v1.56h-6.42z"/>
</g>
<path fill="#f8f2bc" d="M315.6 41.6h6.42v5.8h-6.42zM322.02 41.6h6.42v5.8h-6.42zM328.43 41.6h6.42v5.8h-6.42zM334.85 41.6h6.42v5.8h-6.42zM341.27 41.6h6.42v5.8h-6.42zM347.69 41.6h6.42v5.8h-6.42zM354.1 41.6h6.42v5.8h-6.42zM360.52 41.6h6.42v5.8h-6.42zM366.94 41.6h6.42v5.8h-6.42zM373.36 41.6h6.42v5.8h-6.42zM379.77 41.6h6.42v5.8h-6.42zM386.19 41.6h6.42v5.8h-6.42zM399.02 41.6h6.42v5.8h-6.42zM405.44 41.6h6.42v5.8h-6.42zM411.86 41.6h6.42v5.8h-6.42z"/>
<path fill="#8fd3cc" d="M392.61 41.6h6.42v5.8h-6.42zM418.28 41.6h6.42v5.8h-6.42zM424.69 41.6h6.42v5.8h-6.42zM431.11 41.6h6.42v5.8h-6.42zM437.53 41.6h6.42v5.8h-6.42zM443.94 41.6h6.42v5.8h-6.42zM450.36 41.6h6.42v5.8h-6.42zM456.78 41.6h6.42v5.8h-6.42zM463.2 41.6h6.42v5.8h-6.42zM469.61 41.6h6.42v5.8h-6.42zM476.03 41.6h6.42v5.8h-6.42zM482.45 41.6h6.42v5.8h-6.42zM488.87 41.6h6.42v5.8h-6.42zM495.28 41.6h6.42v5.8h-6.42z"/>
<path stroke="#ffffff" stroke-opacity="0.35" stroke-width="0.5" d="M322.02 41.6v5.8M328.43 41.6v5.8M334.85 41.6v5.8M341.27 41.6v5.8M347.69 41.6v5.8M354.1 41.6v5.8M360.52 41.6v5.8M366.94 41.6v5.8M373.36 41.6v5.8M379.77 41.6v5.8M386.19 41.6v5.8M392.61 41.6v5.8M399.02 41.6v5.8M405.44 41.6v5.8M411.86 41.6v5.8M418.28 41.6v5.8M424.69 41.6v5.8M431.11 41.6v5.8M437.53 41.6v5.8M443.94 41.6v5.8M450.36 41.6v5.8M456.78 41.6v5.8M463.2 41.6v5.8M469.61 41.6v5.8M476.03 41.6v5.8M482.45 41.6v5.8M488.87 41.6v5.8M495.28 41.6v5.8"/>
<path fill="#8c86cf" d="M315.6 47.6h6.42v6.3h-6.42zM322.02 47.6h6.42v6.3h-6.42zM328.43 47.6h6.42v6.3h-6.42zM341.27 47.6h6.42v6.3h-6.42zM347.69 47.6h6.42v6.3h-6.42zM354.1 47.6h6.42v6.3h-6.42zM366.94 47.6h6.42v6.3h-6.42zM373.36 47.6h6.42v6.3h-6.42zM386.19 47.6h6.42v6.3h-6.42zM392.61 47.6h6.42v6.3h-6.42zM399.02 47.6h6.42v6.3h-6.42zM405.44 47.6h6.42v6.3h-6.42zM431.11 47.6h6.42v6.3h-6.42zM437.53 47.6h6.42v6.3h-6.42zM443.94 47.6h6.42v6.3h-6.42zM469.61 47.6h6.42v6.3h-6.42zM495.28 47.6h6.42v6.3h-6.42z"/>
<path fill="#2c2a8e" d="M334.85 47.6h6.42v6.3h-6.42zM379.77 47.6h6.42v6.3h-6.42zM411.86 47.6h6.42v6.3h-6.42zM456.78 47.6h6.42v6.3h-6.42zM463.2 47.6h6.42v6.3h-6.42zM482.45 47.6h6.42v6.3h-6.42zM488.87 47.6h6.42v6.3h-6.42z"/>
<path fill="#ececf0" d="M360.52 47.6h6.42v6.3h-6.42zM418.28 47.6h6.42v6.3h-6.42zM424.69 47.6h6.42v6.3h-6.42zM450.36 47.6h6.42v6.3h-6.42zM476.03 47.6h6.42v6.3h-6.42z"/>
<path stroke="#ffffff" stroke-opacity="0.35" stroke-width="0.5" d="M322.02 47.6v6.3M328.43 47.6v6.3M334.85 47.6v6.3M341.27 47.6v6.3M347.69 47.6v6.3M354.1 47.6v6.3M360.52 47.6v6.3M366.94 47.6v6.3M373.36 47.6v6.3M379.77 47.6v6.3M386.19 47.6v6.3M392.61 47.6v6.3M399.02 47.6v6.3M405.44 47.6v6.3M411.86 47.6v6.3M418.28 47.6v6.3M424.69 47.6v6.3M431.11 47.6v6.3M437.53 47.6v6.3M443.94 47.6v6.3M450.36 47.6v6.3M456.78 47.6v6.3M463.2 47.6v6.3M469.61 47.6v6.3M476.03 47.6v6.3M482.45 47.6v6.3M488.87 47.6v6.3M495.28 47.6v6.3"/>
<path fill="#f8c913" d="M315.6 53.9h6.42v6.3h-6.42zM322.02 53.9h6.42v6.3h-6.42zM328.43 53.9h6.42v6.3h-6.42zM334.85 53.9h6.42v6.3h-6.42zM341.27 53.9h6.42v6.3h-6.42zM347.69 53.9h6.42v6.3h-6.42zM354.1 53.9h6.42v6.3h-6.42zM366.94 53.9h6.42v6.3h-6.42zM373.36 53.9h6.42v6.3h-6.42zM379.77 53.9h6.42v6.3h-6.42zM386.19 53.9h6.42v6.3h-6.42zM392.61 53.9h6.42v6.3h-6.42zM399.02 53.9h6.42v6.3h-6.42zM405.44 53.9h6.42v6.3h-6.42zM411.86 53.9h6.42v6.3h-6.42zM424.69 53.9h6.42v6.3h-6.42zM431.11 53.9h6.42v6.3h-6.42zM437.53 53.9h6.42v6.3h-6.42zM443.94 53.9h6.42v6.3h-6.42zM450.36 53.9h6.42v6.3h-6.42zM456.78 53.9h6.42v6.3h-6.42zM463.2 53.9h6.42v6.3h-6.42zM469.61 53.9h6.42v6.3h-6.42zM476.03 53.9h6.42v6.3h-6.42zM482.45 53.9h6.42v6.3h-6.42zM488.87 53.9h6.42v6.3h-6.42z"/>
<path fill="#16677c" d="M360.52 53.9h6.42v6.3h-6.42zM418.28 53.9h6.42v6.3h-6.42zM495.28 53.9h6.42v6.3h-6.42z"/>
<path stroke="#ffffff" stroke-opacity="0.35" stroke-width="0.5" d="M322.02 53.9v6.3M328.43 53.9v6.3M334.85 53.9v6.3M341.27 53.9v6.3M347.69 53.9v6.3M354.1 53.9v6.3M360.52 53.9v6.3M366.94 53.9v6.3M373.36 53.9v6.3M379.77 53.9v6.3M386.19 53.9v6.3M392.61 53.9v6.3M399.02 53.9v6.3M405.44 53.9v6.3M411.86 53.9v6.3M418.28 53.9v6.3M424.69 53.9v6.3M431.11 53.9v6.3M437.53 53.9v6.3M443.94 53.9v6.3M450.36 53.9v6.3M456.78 53.9v6.3M463.2 53.9v6.3M469.61 53.9v6.3M476.03 53.9v6.3M482.45 53.9v6.3M488.87 53.9v6.3M495.28 53.9v6.3"/>
<path fill="#f7bb80" d="M315.6 60.2h6.42v6.6h-6.42zM322.02 60.2h6.42v6.6h-6.42zM328.43 60.2h6.42v6.6h-6.42zM334.85 60.2h6.42v6.6h-6.42zM341.27 60.2h6.42v6.6h-6.42zM347.69 60.2h6.42v6.6h-6.42zM354.1 60.2h6.42v6.6h-6.42zM360.52 60.2h6.42v6.6h-6.42zM366.94 60.2h6.42v6.6h-6.42zM373.36 60.2h6.42v6.6h-6.42zM379.77 60.2h6.42v6.6h-6.42zM386.19 60.2h6.42v6.6h-6.42zM392.61 60.2h6.42v6.6h-6.42zM399.02 60.2h6.42v6.6h-6.42zM405.44 60.2h6.42v6.6h-6.42zM411.86 60.2h6.42v6.6h-6.42zM424.69 60.2h6.42v6.6h-6.42zM443.94 60.2h6.42v6.6h-6.42zM450.36 60.2h6.42v6.6h-6.42zM463.2 60.2h6.42v6.6h-6.42zM469.61 60.2h6.42v6.6h-6.42zM482.45 60.2h6.42v6.6h-6.42zM488.87 60.2h6.42v6.6h-6.42zM495.28 60.2h6.42v6.6h-6.42z"/>
<path fill="#a04c22" d="M418.28 60.2h6.42v6.6h-6.42zM431.11 60.2h6.42v6.6h-6.42zM437.53 60.2h6.42v6.6h-6.42zM456.78 60.2h6.42v6.6h-6.42zM476.03 60.2h6.42v6.6h-6.42z"/>
<path stroke="#ffffff" stroke-opacity="0.35" stroke-width="0.5" d="M322.02 60.2v6.6M328.43 60.2v6.6M334.85 60.2v6.6M341.27 60.2v6.6M347.69 60.2v6.6M354.1 60.2v6.6M360.52 60.2v6.6M366.94 60.2v6.6M373.36 60.2v6.6M379.77 60.2v6.6M386.19 60.2v6.6M392.61 60.2v6.6M399.02 60.2v6.6M405.44 60.2v6.6M411.86 60.2v6.6M418.28 60.2v6.6M424.69 60.2v6.6M431.11 60.2v6.6M437.53 60.2v6.6M443.94 60.2v6.6M450.36 60.2v6.6M456.78 60.2v6.6M463.2 60.2v6.6M469.61 60.2v6.6M476.03 60.2v6.6M482.45 60.2v6.6M488.87 60.2v6.6M495.28 60.2v6.6"/>
<text x="272.6" y="46.2" font-size="4.9" font-weight="bold" textLength="39.7" lengthAdjust="spacingAndGlyphs" font-family="Liberation Sans, sans-serif" fill="#111">Treatment Outcome</text>
<text x="271.3" y="52.6" font-size="4.9" font-weight="bold" textLength="41.0" lengthAdjust="spacingAndGlyphs" font-family="Liberation Sans, sans-serif" fill="#111">Histological Subtype</text>
<text x="280.9" y="58.9" font-size="4.9" font-weight="bold" textLength="31.4" lengthAdjust="spacingAndGlyphs" font-family="Liberation Sans, sans-serif" fill="#111">HRS Cell Status</text>
<text x="286.4" y="65.2" font-size="4.9" font-weight="bold" textLength="25.9" lengthAdjust="spacingAndGlyphs" font-family="Liberation Sans, sans-serif" fill="#111">Sample Type</text>
<path fill="none" stroke="#8a8a8a" stroke-width="0.6" d="M399.83 1.6V7.3M379.88 7.3V10.2M354.41 10.2V13.5M336.36 13.5V14.5M326.73 14.5V16.83M320.32 16.83V17.67M317.11 17.67V39.4M323.53 17.67V39.4M317.11 17.67H323.53M333.15 16.83V18.06M329.94 18.06V39.4M336.36 18.06V39.4M329.94 18.06H336.36M320.32 16.83H333.15M345.99 14.5V17.56M342.78 17.56V39.4M349.19 17.56V39.4M342.78 17.56H349.19M326.73 14.5H345.99M372.46 13.5V14.5M360.43 14.5V16.68M355.61 16.68V39.4M365.24 16.68V18.71M362.03 18.71V39.4M368.45 18.71V39.4M362.03 18.71H368.45M355.61 16.68H365.24M384.49 14.5V17.06M378.07 17.06V19.4M374.86 19.4V39.4M381.28 19.4V39.4M374.86 19.4H381.28M390.91 17.06V17.91M387.7 17.91V39.4M394.12 17.91V39.4M387.7 17.91H394.12M378.07 17.06H390.91M360.43 14.5H384.49M336.36 13.5H372.46M405.35 10.2V14.4M400.53 14.4V39.4M410.16 14.4V15.46M406.95 15.46V39.4M413.37 15.46V39.4M406.95 15.46H413.37M400.53 14.4H410.16M354.41 10.2H405.35M419.78 7.3V39.4M379.88 7.3H419.78M453.07 1.6V11.5M434.22 11.5V13.5M429.41 13.5V16.58M426.2 16.58V39.4M432.62 16.58V39.4M426.2 16.58H432.62M439.04 13.5V39.4M429.41 13.5H439.04M471.92 11.5V13.5M459.09 13.5V15M450.27 15V16.22M445.45 16.22V39.4M455.08 16.22V18.37M451.87 18.37V39.4M458.29 18.37V39.4M451.87 18.37H458.29M445.45 16.22H455.08M467.91 15V17.88M464.71 17.88V39.4M471.12 17.88V39.4M464.71 17.88H471.12M450.27 15H467.91M484.76 13.5V15M477.54 15V39.4M491.98 15V16.68M487.17 16.68V18.87M483.96 18.87V39.4M490.37 18.87V39.4M483.96 18.87H490.37M496.79 16.68V39.4M487.17 16.68H496.79M477.54 15H491.98M459.09 13.5H484.76M434.22 11.5H471.92M399.83 1.6H453.07"/>
<path fill="none" stroke="#333" stroke-width="0.6" d="M307.32 69.05H313.4M307.32 70.55H313.4M307.32 69.05V70.55M306.25 69.8H307.32M306.25 72.05H313.4M306.25 69.8V72.05M301.78 70.92H306.25M301.78 73.54H313.4M301.78 70.92V73.54M307.8 75.04H313.4M307.8 76.54H313.4M307.8 75.04V76.54M306.29 75.79H307.8M306.29 78.04H313.4M306.29 75.79V78.04M296.19 72.23H301.78M296.19 76.92H306.29M296.19 72.23V76.92M308.69 81.04H313.4M308.69 82.53H313.4M308.69 81.04V82.53M301.52 79.54H313.4M301.52 81.79H308.69M301.52 79.54V81.79M307.65 84.03H313.4M307.65 85.53H313.4M307.65 84.03V85.53M302.26 84.78H307.65M302.26 87.03H313.4M302.26 84.78V87.03M300.52 80.66H301.52M300.52 85.91H302.26M300.52 80.66V85.91M307.29 88.53H313.4M307.29 90.03H313.4M307.29 88.53V90.03M295.02 83.28H300.52M295.02 89.28H307.29M295.02 83.28V89.28M292.35 74.57H296.19M292.35 86.28H295.02M292.35 74.57V86.28M309.25 93.02H313.4M309.25 94.52H313.4M309.25 93.02V94.52M306.21 93.77H309.25M306.21 96.02H313.4M306.21 93.77V96.02M305.77 91.53H313.4M305.77 94.9H306.21M305.77 91.53V94.9M309.54 99.02H313.4M309.54 100.52H313.4M309.54 99.02V100.52M303.74 97.52H313.4M303.74 99.77H309.54M303.74 97.52V99.77M303.21 98.64H303.74M303.21 102.01H313.4M303.21 98.64V102.01M300.35 93.21H305.77M300.35 100.33H303.21M300.35 93.21V100.33M310.24 105.01H313.4M310.24 106.51H313.4M310.24 105.01V106.51M305.67 103.51H313.4M305.67 105.76H310.24M305.67 103.51V105.76M307.99 108.01H313.4M307.99 109.51H313.4M307.99 108.01V109.51M306.95 111H313.4M306.95 112.5H313.4M306.95 111V112.5M306.71 111.75H306.95M306.71 114H313.4M306.71 111.75V114M305.12 108.76H307.99M305.12 112.88H306.71M305.12 108.76V112.88M304.98 104.64H305.67M304.98 110.82H305.12M304.98 104.64V110.82M300.22 107.73H304.98M300.22 115.5H313.4M300.22 107.73V115.5M297.51 96.77H300.35M297.51 111.61H300.22M297.51 96.77V111.61M287.4 80.43H292.35M287.4 104.19H297.51M287.4 80.43V104.19M308.35 118.5H313.4M308.35 119.99H313.4M308.35 118.5V119.99M304.7 117H313.4M304.7 119.25H308.35M304.7 117V119.25M299.9 121.49H313.4M299.9 122.99H313.4M299.9 121.49V122.99M309.52 125.99H313.4M309.52 127.49H313.4M309.52 125.99V127.49M305 126.74H309.52M305 128.99H313.4M305 126.74V128.99M300.75 124.49H313.4M300.75 127.86H305M300.75 124.49V127.86M297.88 122.24H299.9M297.88 126.18H300.75M297.88 122.24V126.18M310.4 130.48H313.4M310.4 131.98H313.4M310.4 130.48V131.98M310.3 131.23H310.4M310.3 133.48H313.4M310.3 131.23V133.48M295.49 124.21H297.88M295.49 132.36H310.3M295.49 124.21V132.36M310.2 136.48H313.4M310.2 137.98H313.4M310.2 136.48V137.98M309.79 134.98H313.4M309.79 137.23H310.2M309.79 134.98V137.23M305.33 139.47H313.4M305.33 140.97H313.4M305.33 139.47V140.97M304.05 140.22H305.33M304.05 142.47H313.4M304.05 140.22V142.47M302.76 136.1H309.79M302.76 141.35H304.05M302.76 136.1V141.35M293.86 138.72H302.76M293.86 143.97H313.4M293.86 138.72V143.97M290.93 128.28H295.49M290.93 141.35H293.86M290.93 128.28V141.35M308.98 145.47H313.4M308.98 146.97H313.4M308.98 145.47V146.97M290.7 146.22H308.98M290.7 148.46H313.4M290.7 146.22V148.46M290.16 134.81H290.93M290.16 147.34H290.7M290.16 134.81V147.34M299.88 151.46H313.4M299.88 152.96H313.4M299.88 151.46V152.96M308.25 154.46H313.4M308.25 155.96H313.4M308.25 154.46V155.96M304.84 155.21H308.25M304.84 157.45H313.4M304.84 155.21V157.45M301.49 156.33H304.84M301.49 158.95H313.4M301.49 156.33V158.95M300.18 157.64H301.49M300.18 160.45H313.4M300.18 157.64V160.45M308.61 161.95H313.4M308.61 163.45H313.4M308.61 161.95V163.45M299.79 159.05H300.18M299.79 162.7H308.61M299.79 159.05V162.7M294.55 152.21H299.88M294.55 160.87H299.79M294.55 152.21V160.87M292.4 149.96H313.4M292.4 156.54H294.55M292.4 149.96V156.54M289.4 141.08H290.16M289.4 153.25H292.4M289.4 141.08V153.25M309.23 166.45H313.4M309.23 167.94H313.4M309.23 166.45V167.94M305.15 169.44H313.4M305.15 170.94H313.4M305.15 169.44V170.94M308.63 172.44H313.4M308.63 173.94H313.4M308.63 172.44V173.94M303.67 170.19H305.15M303.67 173.19H308.63M303.67 170.19V173.19M303.57 167.19H309.23M303.57 171.69H303.67M303.57 167.19V171.69M293.57 164.95H313.4M293.57 169.44H303.57M293.57 164.95V169.44M288.52 147.17H289.4M288.52 167.19H293.57M288.52 147.17V167.19M287.96 118.12H304.7M287.96 157.18H288.52M287.96 118.12V157.18M279.5 92.31H287.4M279.5 137.65H287.96M279.5 92.31V137.65M304.1 181.43H313.4M304.1 182.93H313.4M304.1 181.43V182.93M306.26 184.43H313.4M306.26 185.92H313.4M306.26 184.43V185.92M303.59 182.18H304.1M303.59 185.18H306.26M303.59 182.18V185.18M303.37 179.93H313.4M303.37 183.68H303.59M303.37 179.93V183.68M299.66 178.43H313.4M299.66 181.8H303.37M299.66 178.43V181.8M296.37 176.93H313.4M296.37 180.12H299.66M296.37 176.93V180.12M294.63 175.44H313.4M294.63 178.53H296.37M294.63 175.44V178.53M308.22 188.92H313.4M308.22 190.42H313.4M308.22 188.92V190.42M305.82 187.42H313.4M305.82 189.67H308.22M305.82 187.42V189.67M294.41 176.98H294.63M294.41 188.55H305.82M294.41 176.98V188.55M309.54 193.42H313.4M309.54 194.91H313.4M309.54 193.42V194.91M303.4 191.92H313.4M303.4 194.17H309.54M303.4 191.92V194.17M305.5 196.41H313.4M305.5 197.91H313.4M305.5 196.41V197.91M302.86 193.04H303.4M302.86 197.16H305.5M302.86 193.04V197.16M305.33 199.41H313.4M305.33 200.91H313.4M305.33 199.41V200.91M309.41 203.91H313.4M309.41 205.4H313.4M309.41 203.91V205.4M309.01 202.41H313.4M309.01 204.65H309.41M309.01 202.41V204.65M310.39 206.9H313.4M310.39 208.4H313.4M310.39 206.9V208.4M305.69 203.53H309.01M305.69 207.65H310.39M305.69 203.53V207.65M300.94 200.16H305.33M300.94 205.59H305.69M300.94 200.16V205.59M300.65 195.1H302.86M300.65 202.88H300.94M300.65 195.1V202.88M301.57 211.4H313.4M301.57 212.9H313.4M301.57 211.4V212.9M295.74 209.9H313.4M295.74 212.15H301.57M295.74 209.9V212.15M292.15 198.99H300.65M292.15 211.02H295.74M292.15 198.99V211.02M291.4 182.76H294.41M291.4 205.01H292.15M291.4 182.76V205.01M306.15 214.39H313.4M306.15 215.89H313.4M306.15 214.39V215.89M302.11 215.14H306.15M302.11 217.39H313.4M302.11 215.14V217.39M301.83 216.27H302.11M301.83 218.89H313.4M301.83 216.27V218.89M307.43 221.89H313.4M307.43 223.38H313.4M307.43 221.89V223.38M305.45 220.39H313.4M305.45 222.64H307.43M305.45 220.39V222.64M293.69 217.58H301.83M293.69 221.51H305.45M293.69 217.58V221.51M309.08 227.88H313.4M309.08 229.38H313.4M309.08 227.88V229.38M304.3 226.38H313.4M304.3 228.63H309.08M304.3 226.38V228.63M303.88 227.5H304.3M303.88 230.88H313.4M303.88 227.5V230.88M302.1 224.88H313.4M302.1 229.19H303.88M302.1 224.88V229.19M302.79 232.37H313.4M302.79 233.87H313.4M302.79 232.37V233.87M301.32 227.04H302.1M301.32 233.12H302.79M301.32 227.04V233.12M293.33 219.54H293.69M293.33 230.08H301.32M293.33 219.54V230.08M308.28 238.37H313.4M308.28 239.87H313.4M308.28 238.37V239.87M304.96 236.87H313.4M304.96 239.12H308.28M304.96 236.87V239.12M300.37 235.37H313.4M300.37 237.99H304.96M300.37 235.37V237.99M301.52 242.86H313.4M301.52 244.36H313.4M301.52 242.86V244.36M308.48 248.86H313.4M308.48 250.36H313.4M308.48 248.86V250.36M308 249.61H308.48M308 251.85H313.4M308 249.61V251.85M306.22 247.36H313.4M306.22 250.73H308M306.22 247.36V250.73M307.77 253.35H313.4M307.77 254.85H313.4M307.77 253.35V254.85M300.22 249.04H306.22M300.22 254.1H307.77M300.22 249.04V254.1M299.58 245.86H313.4M299.58 251.57H300.22M299.58 245.86V251.57M296.62 243.61H301.52M296.62 248.72H299.58M296.62 243.61V248.72M295.32 241.37H313.4M295.32 246.16H296.62M295.32 241.37V246.16M292.4 236.68H300.37M292.4 243.76H295.32M292.4 236.68V243.76M289.73 224.81H293.33M289.73 240.22H292.4M289.73 224.81V240.22M280.2 193.88H291.4M280.2 232.52H289.73M280.2 193.88V232.52M270.8 114.98H279.5M270.8 213.2H280.2M270.8 114.98V213.2"/>
<rect x="503.7" y="68.1" width="4.3" height="187.5" fill="url(#cbB)"/>
<path stroke="#111" stroke-width="0.7" d="M508.2 68.1V255.6"/>
<text x="514" y="70.3" font-size="4" font-weight="bold" font-family="Liberation Sans, sans-serif" fill="#111">4</text>
<text x="514" y="118.2" font-size="4" font-weight="bold" font-family="Liberation Sans, sans-serif" fill="#111">2</text>
<text x="514" y="166.1" font-size="4" font-weight="bold" font-family="Liberation Sans, sans-serif" fill="#111">0</text>
<text x="512.6" y="214" font-size="4" font-weight="bold" font-family="Liberation Sans, sans-serif" fill="#111">–2</text>
<path stroke="#111" stroke-width="1" d="M506 68.8H511.5M506 116.7H511.5M506 164.6H511.5M506 212.5H511.5"/>
<rect x="78.5" y="258.5" width="37.8" height="4.3" fill="#1aa6b4"/>
<rect x="119.2" y="258.8" width="86" height="4.3" fill="#e9572f"/>
<rect x="208.3" y="258.4" width="31.5" height="4.4" fill="#f0c64a"/>
<path fill="none" stroke="#111" stroke-width="1.5" stroke-dasharray="4.6 2.3" d="M77.4 258.8L60.6 293.2V327.4M117.8 258.6V328M206.8 258.6V329M241.6 260.2H270.2L288.7 278.6V330"/>
<path fill="#e2e2e2" d="M96.2 325.6L99.4 325.6L137.5 338.6L3.6 338.6Z"/>
<path fill="#e2e2e2" d="M181.6 324.6L186.2 324.6L284.2 338.6L152.8 338.6Z"/>
<text x="97.6" y="269.1" font-size="4.8" text-anchor="middle" textLength="18.4" lengthAdjust="spacingAndGlyphs" font-weight="bold" font-family="Liberation Sans, sans-serif" fill="#111">Cytotoxic</text>
<text x="97.6" y="273.5" font-size="4.8" text-anchor="middle" textLength="19" lengthAdjust="spacingAndGlyphs" font-weight="bold" font-family="Liberation Sans, sans-serif" fill="#111">Signature</text>
<path stroke="#111" stroke-width="0.6" fill="none" d="M85.9 280.4V308"/>
<text x="84.2" y="284.3" font-size="4.5" text-anchor="end" textLength="4.34" lengthAdjust="spacingAndGlyphs" font-weight="bold" font-family="Liberation Sans, sans-serif" fill="#111">20</text>
<text x="84.2" y="290.6" font-size="4.5" text-anchor="end" textLength="4.34" lengthAdjust="spacingAndGlyphs" font-weight="bold" font-family="Liberation Sans, sans-serif" fill="#111">15</text>
<text x="84.2" y="296.9" font-size="4.5" text-anchor="end" textLength="4.34" lengthAdjust="spacingAndGlyphs" font-weight="bold" font-family="Liberation Sans, sans-serif" fill="#111">10</text>
<text x="84.2" y="303.2" font-size="4.5" text-anchor="end" textLength="2.17" lengthAdjust="spacingAndGlyphs" font-weight="bold" font-family="Liberation Sans, sans-serif" fill="#111">5</text>
<text x="84.2" y="309.5" font-size="4.5" text-anchor="end" textLength="2.17" lengthAdjust="spacingAndGlyphs" font-weight="bold" font-family="Liberation Sans, sans-serif" fill="#111">0</text>
<path stroke="#111" stroke-width="0.5" d="M84.8 282.7H85.9M84.8 289H85.9M84.8 295.3H85.9M84.8 301.6H85.9M84.8 307.9H85.9"/>
<rect x="87.3" y="280" width="5.9" height="28.2" fill="#d8242f"/>
<rect x="95" y="282" width="5.9" height="26.2" fill="#d8242f"/>
<rect x="102.4" y="290" width="6.1" height="18.2" fill="#d8242f"/>
<text transform="translate(75.4 294.5) rotate(-90)" font-size="4.6" text-anchor="middle" textLength="23.92" lengthAdjust="spacingAndGlyphs" font-weight="bold" font-family="Liberation Sans, sans-serif" fill="#111">Fold Change</text>
<text transform="translate(91.8 310.4) rotate(-90)" font-size="4.6" text-anchor="end" textLength="15.34" lengthAdjust="spacingAndGlyphs" font-weight="bold" font-family="Liberation Sans, sans-serif" fill="#111">CXCL10</text>
<text transform="translate(99 310.4) rotate(-90)" font-size="4.6" text-anchor="end" textLength="11.78" lengthAdjust="spacingAndGlyphs" font-weight="bold" font-family="Liberation Sans, sans-serif" fill="#111">GZMB</text>
<text transform="translate(106.2 310.4) rotate(-90)" font-size="4.6" text-anchor="end" textLength="11.11" lengthAdjust="spacingAndGlyphs" font-weight="bold" font-family="Liberation Sans, sans-serif" fill="#111">C1QB</text>
<text x="164.2" y="271.2" font-size="4.8" text-anchor="middle" textLength="57.8" lengthAdjust="spacingAndGlyphs" font-weight="bold" font-family="Liberation Sans, sans-serif" fill="#111">Receptor Signaling Signature</text>
<path stroke="#111" stroke-width="0.6" fill="none" d="M139.3 279.8V308.8"/>
<text x="137.6" y="281.7" font-size="4.5" text-anchor="end" textLength="6.51" lengthAdjust="spacingAndGlyphs" font-weight="bold" font-family="Liberation Sans, sans-serif" fill="#111">200</text>
<text x="137.6" y="288.83" font-size="4.5" text-anchor="end" textLength="6.51" lengthAdjust="spacingAndGlyphs" font-weight="bold" font-family="Liberation Sans, sans-serif" fill="#111">150</text>
<text x="137.6" y="295.96" font-size="4.5" text-anchor="end" textLength="6.51" lengthAdjust="spacingAndGlyphs" font-weight="bold" font-family="Liberation Sans, sans-serif" fill="#111">100</text>
<text x="137.6" y="303.09" font-size="4.5" text-anchor="end" textLength="4.34" lengthAdjust="spacingAndGlyphs" font-weight="bold" font-family="Liberation Sans, sans-serif" fill="#111">50</text>
<text x="137.6" y="310.22" font-size="4.5" text-anchor="end" textLength="2.17" lengthAdjust="spacingAndGlyphs" font-weight="bold" font-family="Liberation Sans, sans-serif" fill="#111">0</text>
<path stroke="#111" stroke-width="0.5" d="M138.2 280.1H139.3M138.2 287.23H139.3M138.2 294.36H139.3M138.2 301.49H139.3M138.2 308.62H139.3"/>
<rect x="142" y="279.7" width="6.2" height="29.1" fill="#d8242f"/>
<rect x="149.7" y="292" width="6.2" height="16.8" fill="#d8242f"/>
<rect x="157.4" y="302.6" width="6.2" height="6.2" fill="#d8242f"/>
<rect x="165.1" y="302.8" width="6.2" height="6" fill="#d8242f"/>
<rect x="172.4" y="304.6" width="6.2" height="4.2" fill="#d8242f"/>
<rect x="180.1" y="305.4" width="6.2" height="3.4" fill="#d8242f"/>
<rect x="187.8" y="306" width="6.2" height="2.8" fill="#d8242f"/>
<rect x="195.3" y="306.6" width="6.2" height="2.2" fill="#d8242f"/>
<text transform="translate(125.6 294) rotate(-90)" font-size="4.6" text-anchor="middle" textLength="23.92" lengthAdjust="spacingAndGlyphs" font-weight="bold" font-family="Liberation Sans, sans-serif" fill="#111">Fold Change</text>
<text transform="translate(146.5 310.8) rotate(-90)" font-size="4.6" text-anchor="end" textLength="10.22" lengthAdjust="spacingAndGlyphs" font-weight="bold" font-family="Liberation Sans, sans-serif" fill="#111">TYR6</text>
<text transform="translate(154.2 310.8) rotate(-90)" font-size="4.6" text-anchor="end" textLength="12.67" lengthAdjust="spacingAndGlyphs" font-weight="bold" font-family="Liberation Sans, sans-serif" fill="#111">CCL17</text>
<text transform="translate(161.9 310.8) rotate(-90)" font-size="4.6" text-anchor="end" textLength="5.78" lengthAdjust="spacingAndGlyphs" font-weight="bold" font-family="Liberation Sans, sans-serif" fill="#111">IL6</text>
<text transform="translate(169.6 310.8) rotate(-90)" font-size="4.6" text-anchor="end" textLength="13.78" lengthAdjust="spacingAndGlyphs" font-weight="bold" font-family="Liberation Sans, sans-serif" fill="#111">CCND2</text>
<text transform="translate(176.9 310.8) rotate(-90)" font-size="4.6" text-anchor="end" textLength="8" lengthAdjust="spacingAndGlyphs" font-weight="bold" font-family="Liberation Sans, sans-serif" fill="#111">IL26</text>
<text transform="translate(184.6 310.8) rotate(-90)" font-size="4.6" text-anchor="end" textLength="11.55" lengthAdjust="spacingAndGlyphs" font-weight="bold" font-family="Liberation Sans, sans-serif" fill="#111">RANK</text>
<text transform="translate(192.3 310.8) rotate(-90)" font-size="4.6" text-anchor="end" textLength="10.67" lengthAdjust="spacingAndGlyphs" font-weight="bold" font-family="Liberation Sans, sans-serif" fill="#111">PBEF</text>
<text transform="translate(199.8 310.8) rotate(-90)" font-size="4.6" text-anchor="end" textLength="16" lengthAdjust="spacingAndGlyphs" font-weight="bold" font-family="Liberation Sans, sans-serif" fill="#111">TGFBR3</text>
<text x="236.8" y="268.9" font-size="4.8" text-anchor="middle" textLength="30" lengthAdjust="spacingAndGlyphs" font-weight="bold" font-family="Liberation Sans, sans-serif" fill="#111">Residual B-cell</text>
<text x="236.8" y="273.2" font-size="4.8" text-anchor="middle" textLength="18.6" lengthAdjust="spacingAndGlyphs" font-weight="bold" font-family="Liberation Sans, sans-serif" fill="#111">Signature</text>
<path stroke="#111" stroke-width="0.6" fill="none" d="M228.1 279.4V308.4"/>
<text x="226.4" y="281.3" font-size="4.5" text-anchor="end" textLength="2.17" lengthAdjust="spacingAndGlyphs" font-weight="bold" font-family="Liberation Sans, sans-serif" fill="#111">0</text>
<text x="226.4" y="289.1" font-size="4.5" text-anchor="end" textLength="3.47" lengthAdjust="spacingAndGlyphs" font-weight="bold" font-family="Liberation Sans, sans-serif" fill="#111">–4</text>
<text x="226.4" y="296.9" font-size="4.5" text-anchor="end" textLength="3.47" lengthAdjust="spacingAndGlyphs" font-weight="bold" font-family="Liberation Sans, sans-serif" fill="#111">–8</text>
<text x="226.4" y="304.7" font-size="4.5" text-anchor="end" textLength="5.64" lengthAdjust="spacingAndGlyphs" font-weight="bold" font-family="Liberation Sans, sans-serif" fill="#111">–12</text>
<path stroke="#111" stroke-width="0.5" d="M227 279.7H228.1M227 287.5H228.1M227 295.3H228.1M227 303.1H228.1"/>
<rect x="228.8" y="279.6" width="6.0" height="28.7" fill="#3db54b"/>
<rect x="237.1" y="279.6" width="6.0" height="28.1" fill="#3db54b"/>
<rect x="244.2" y="279.6" width="6.0" height="27.6" fill="#3db54b"/>
<rect x="251.5" y="279.6" width="6.0" height="25.2" fill="#3db54b"/>
<rect x="258.8" y="279.6" width="6.0" height="21.1" fill="#3db54b"/>
<rect x="266.3" y="279.6" width="6.0" height="19.1" fill="#3db54b"/>
<rect x="274" y="279.6" width="6.0" height="10.1" fill="#3db54b"/>
<text transform="translate(215.6 293) rotate(-90)" font-size="4.6" text-anchor="middle" textLength="23.92" lengthAdjust="spacingAndGlyphs" font-weight="bold" font-family="Liberation Sans, sans-serif" fill="#111">Fold Change</text>
<text transform="translate(233.2 310.4) rotate(-90)" font-size="4.6" text-anchor="end" textLength="18.45" lengthAdjust="spacingAndGlyphs" font-weight="bold" font-family="Liberation Sans, sans-serif" fill="#111">POU2AF1</text>
<text transform="translate(241.5 310.4) rotate(-90)" font-size="4.6" text-anchor="end" textLength="12.44" lengthAdjust="spacingAndGlyphs" font-weight="bold" font-family="Liberation Sans, sans-serif" fill="#111">HLA-C</text>
<text transform="translate(248.6 310.4) rotate(-90)" font-size="4.6" text-anchor="end" textLength="6.45" lengthAdjust="spacingAndGlyphs" font-weight="bold" font-family="Liberation Sans, sans-serif" fill="#111">IGJ</text>
<text transform="translate(255.9 310.4) rotate(-90)" font-size="4.6" text-anchor="end" textLength="12.45" lengthAdjust="spacingAndGlyphs" font-weight="bold" font-family="Liberation Sans, sans-serif" fill="#111">IGHG3</text>
<text transform="translate(263.2 310.4) rotate(-90)" font-size="4.6" text-anchor="end" textLength="11.11" lengthAdjust="spacingAndGlyphs" font-weight="bold" font-family="Liberation Sans, sans-serif" fill="#111">IGLJ3</text>
<text transform="translate(270.7 310.4) rotate(-90)" font-size="4.6" text-anchor="end" textLength="6.67" lengthAdjust="spacingAndGlyphs" font-weight="bold" font-family="Liberation Sans, sans-serif" fill="#111">IGL</text>
<text transform="translate(278.4 310.4) rotate(-90)" font-size="4.6" text-anchor="end" textLength="15.78" lengthAdjust="spacingAndGlyphs" font-weight="bold" font-family="Liberation Sans, sans-serif" fill="#111">AMIGO2</text>
<clipPath id="cl1"><rect x="3.6" y="338.6" width="133.9" height="100.8"/></clipPath>
<filter id="bl1" x="0" y="0" width="520" height="441" filterUnits="userSpaceOnUse"><feGaussianBlur stdDeviation="0.45"/></filter>
<g clip-path="url(#cl1)"><g filter="url(#bl1)">
<rect x="0.6" y="335.6" width="139.9" height="106.8" fill="#cdc8d0"/>
<g fill="#d9c6c0" opacity="0.7"><circle cx="15.07" cy="362.47" r="7.01"/><circle cx="81.55" cy="348.09" r="5.17"/><circle cx="67.74" cy="354.7" r="6.67"/><circle cx="18.82" cy="378.04" r="5.58"/><circle cx="61.26" cy="397.75" r="6.69"/><circle cx="131.64" cy="367.25" r="6.24"/><circle cx="96.82" cy="368.11" r="3.01"/><circle cx="133.95" cy="368.68" r="4.57"/><circle cx="123" cy="397.58" r="5.36"/><circle cx="107.14" cy="341.66" r="6.53"/><circle cx="53.71" cy="347.76" r="6.3"/><circle cx="128.32" cy="359.48" r="6.15"/><circle cx="43.52" cy="413.37" r="6.61"/><circle cx="32.89" cy="422.25" r="6.29"/><circle cx="95.03" cy="421.26" r="5.14"/><circle cx="105.19" cy="427.15" r="3.51"/><circle cx="117.38" cy="378.31" r="5.4"/><circle cx="23.19" cy="409" r="4.46"/><circle cx="120.25" cy="366.36" r="5.81"/><circle cx="57.11" cy="400.38" r="3.98"/><circle cx="27.74" cy="413.88" r="6.76"/><circle cx="79.52" cy="431.44" r="4.03"/><circle cx="117.54" cy="355.63" r="7.82"/><circle cx="87.11" cy="399.77" r="7.85"/><circle cx="108.98" cy="418.22" r="3.27"/><circle cx="53.05" cy="347.16" r="3.97"/><circle cx="32.24" cy="425.15" r="3.63"/><circle cx="43.34" cy="388.28" r="7.25"/><circle cx="132.84" cy="409.98" r="4.07"/><circle cx="76.57" cy="409.76" r="3.26"/><circle cx="94.64" cy="375.72" r="5.95"/><circle cx="93.25" cy="406.05" r="5.62"/><circle cx="77.88" cy="358.57" r="5.48"/><circle cx="20.39" cy="387.06" r="5.68"/><circle cx="107.25" cy="378.28" r="3.1"/><circle cx="74.27" cy="359.29" r="6.71"/><circle cx="55.65" cy="376.95" r="7.55"/><circle cx="56.22" cy="373.76" r="4.74"/><circle cx="67.97" cy="348" r="5.73"/><circle cx="126.98" cy="395.34" r="6.72"/></g>
<g fill="#8a8eb8"><circle cx="132.21" cy="424.85" r="1.42"/><circle cx="24.9" cy="390.32" r="1.18"/><circle cx="52.88" cy="416.8" r="1.25"/><circle cx="48.54" cy="417.2" r="1.38"/><circle cx="119.88" cy="403.67" r="1.35"/><circle cx="17.51" cy="430.29" r="1.18"/><circle cx="68.78" cy="405.77" r="1.4"/><circle cx="30.85" cy="393.48" r="1.02"/><circle cx="111.23" cy="437.12" r="1.26"/><circle cx="100.07" cy="378.3" r="1.14"/><circle cx="17.65" cy="418.53" r="1.16"/><circle cx="26.67" cy="426.55" r="1.14"/><circle cx="7.16" cy="375.87" r="1.46"/><circle cx="86.06" cy="368.32" r="1.45"/><circle cx="27.46" cy="419.3" r="0.93"/><circle cx="122.36" cy="427.35" r="1.43"/><circle cx="33.99" cy="413.5" r="1.56"/><circle cx="26.45" cy="392.21" r="1.08"/><circle cx="110.45" cy="344.48" r="0.93"/><circle cx="16.26" cy="420.91" r="1.51"/><circle cx="104.44" cy="351.99" r="1.57"/><circle cx="99.6" cy="392.21" r="1.36"/><circle cx="5.16" cy="371.46" r="1.59"/><circle cx="101.86" cy="381.43" r="1.04"/><circle cx="59.04" cy="405.07" r="1.48"/><circle cx="67.48" cy="355.6" r="0.9"/><circle cx="70.31" cy="368.01" r="0.96"/><circle cx="58.17" cy="406.49" r="1.11"/><circle cx="40.71" cy="398.67" r="1.24"/><circle cx="83.98" cy="338.36" r="1.47"/><circle cx="46.06" cy="347.27" r="1"/><circle cx="61.78" cy="358.14" r="1.03"/><circle cx="39.21" cy="428.58" r="0.93"/><circle cx="92.96" cy="412.02" r="0.99"/><circle cx="38.93" cy="352.19" r="1.33"/><circle cx="90.77" cy="376.96" r="1.56"/><circle cx="45.75" cy="428.47" r="1.44"/><circle cx="9.22" cy="353.8" r="1.57"/><circle cx="123.24" cy="347.6" r="1.01"/><circle cx="42.87" cy="354.12" r="1.25"/><circle cx="53.93" cy="382.96" r="1.3"/><circle cx="67" cy="429.02" r="1.23"/><circle cx="126.93" cy="374.61" r="1.17"/><circle cx="16.04" cy="387.4" r="1.42"/><circle cx="43.98" cy="362.73" r="1.33"/><circle cx="102.83" cy="356.2" r="1.33"/><circle cx="60.5" cy="404.14" r="1.17"/><circle cx="118.34" cy="395.63" r="1.07"/><circle cx="71.45" cy="421.1" r="1.48"/><circle cx="38.81" cy="392.55" r="1"/><circle cx="123.88" cy="338.34" r="1.55"/><circle cx="135.98" cy="399.33" r="1.49"/><circle cx="63.59" cy="422.12" r="1.35"/><circle cx="36.42" cy="374.11" r="1.3"/><circle cx="64.37" cy="435.38" r="1.03"/><circle cx="110.48" cy="349.45" r="1.26"/><circle cx="13.55" cy="387.18" r="1.38"/><circle cx="58.92" cy="417.42" r="1.11"/><circle cx="119.09" cy="432.35" r="1.43"/><circle cx="43.77" cy="357.57" r="1.35"/><circle cx="5.76" cy="357.52" r="1.53"/><circle cx="58.62" cy="413.5" r="1.32"/><circle cx="128.31" cy="430.67" r="1.56"/><circle cx="59.89" cy="376.11" r="1.36"/><circle cx="129.39" cy="391.29" r="1.21"/><circle cx="123.04" cy="436.87" r="1.28"/><circle cx="19.74" cy="342.41" r="1.28"/><circle cx="33.65" cy="355.14" r="1.26"/><circle cx="110.61" cy="355.21" r="1.53"/><circle cx="2.65" cy="381.44" r="1.1"/><circle cx="36.3" cy="347.33" r="1.11"/><circle cx="132.34" cy="418.02" r="0.97"/><circle cx="63.29" cy="362.43" r="1.56"/><circle cx="50.32" cy="394.58" r="1.15"/><circle cx="78.41" cy="418.8" r="1.6"/><circle cx="57.53" cy="353.89" r="0.99"/><circle cx="91.8" cy="348.4" r="1.28"/><circle cx="106.54" cy="374.82" r="1.04"/><circle cx="26.5" cy="343.09" r="1.56"/><circle cx="43.01" cy="416.18" r="1.05"/><circle cx="92.12" cy="381.49" r="1.06"/><circle cx="42.63" cy="350.02" r="1.51"/><circle cx="78.27" cy="339.33" r="1.11"/><circle cx="7.6" cy="365.02" r="1.33"/><circle cx="136.44" cy="440.64" r="0.97"/><circle cx="93.32" cy="431.68" r="1.44"/><circle cx="11.5" cy="348.26" r="1.28"/><circle cx="113.15" cy="340.25" r="1.56"/><circle cx="122.63" cy="413.9" r="1.06"/><circle cx="29.89" cy="357.08" r="1.45"/><circle cx="125.47" cy="438.32" r="1.47"/><circle cx="45.45" cy="407.28" r="1.22"/><circle cx="60.7" cy="353.3" r="1.28"/><circle cx="50.84" cy="378.16" r="0.98"/><circle cx="19.3" cy="429.69" r="1.11"/><circle cx="81.03" cy="385.84" r="1.11"/><circle cx="73.4" cy="387.17" r="1.56"/><circle cx="120.63" cy="418.02" r="1.01"/><circle cx="23.62" cy="364.37" r="1.08"/><circle cx="31.35" cy="375.03" r="1.43"/><circle cx="110.4" cy="367.13" r="1.33"/><circle cx="56.94" cy="341.17" r="1.5"/><circle cx="46.83" cy="391.25" r="0.94"/><circle cx="50.36" cy="407.54" r="1.37"/><circle cx="101.37" cy="426.83" r="1.6"/><circle cx="108.8" cy="404.72" r="1.52"/><circle cx="51.48" cy="438.42" r="1.26"/><circle cx="98.93" cy="339.55" r="1.42"/><circle cx="8.08" cy="438.66" r="1.56"/><circle cx="92.3" cy="411.35" r="1"/><circle cx="35.96" cy="388.28" r="1.43"/><circle cx="18.84" cy="367.84" r="1.1"/><circle cx="64.09" cy="406.67" r="1.03"/><circle cx="86.34" cy="347.3" r="0.93"/><circle cx="44.44" cy="356.73" r="1.13"/><circle cx="77.97" cy="356.16" r="1.35"/><circle cx="101.37" cy="401.06" r="1.09"/><circle cx="41.74" cy="339.11" r="0.95"/><circle cx="121.51" cy="392.96" r="0.93"/><circle cx="13.17" cy="434.78" r="1.58"/><circle cx="18.29" cy="361.4" r="1.32"/><circle cx="68.38" cy="351.18" r="1.41"/><circle cx="101.2" cy="340.21" r="1.18"/><circle cx="77.99" cy="340.59" r="1.52"/><circle cx="111.01" cy="439.33" r="1.15"/><circle cx="22.94" cy="378.96" r="1.16"/><circle cx="9.41" cy="396.45" r="1.53"/><circle cx="94.87" cy="341.91" r="0.91"/><circle cx="22.23" cy="377.56" r="1.36"/><circle cx="82.82" cy="411.41" r="1.24"/><circle cx="56.61" cy="347.82" r="1.08"/><circle cx="77.15" cy="425.44" r="1.43"/><circle cx="69.36" cy="346.12" r="1.26"/><circle cx="20.92" cy="434.94" r="1.4"/><circle cx="93.48" cy="341.29" r="1.13"/><circle cx="102.06" cy="417.68" r="1.59"/><circle cx="5.1" cy="405.23" r="1.47"/><circle cx="101.72" cy="392.33" r="1.01"/><circle cx="101.28" cy="402.32" r="1.39"/><circle cx="93.41" cy="373.93" r="1.1"/><circle cx="111.43" cy="428.7" r="1.52"/><circle cx="125.39" cy="369.93" r="1.03"/><circle cx="111.49" cy="376.88" r="1.44"/><circle cx="34.61" cy="355" r="0.98"/><circle cx="124.68" cy="404.51" r="1.07"/><circle cx="59.21" cy="409.89" r="1.45"/><circle cx="111.42" cy="356.97" r="0.91"/><circle cx="55.8" cy="370.46" r="1.3"/><circle cx="18.69" cy="392.75" r="1.58"/><circle cx="41.49" cy="421.21" r="1.44"/><circle cx="34.94" cy="423.32" r="1.52"/><circle cx="36.21" cy="391.89" r="1.47"/><circle cx="61.38" cy="362.72" r="0.98"/><circle cx="77.67" cy="403.54" r="1.02"/><circle cx="3.15" cy="338.54" r="0.99"/><circle cx="110.95" cy="364.45" r="1"/><circle cx="103.51" cy="390.67" r="1.11"/><circle cx="128.18" cy="412.13" r="1.21"/><circle cx="27.92" cy="423.49" r="1.52"/><circle cx="67.36" cy="440.62" r="1.33"/><circle cx="137.54" cy="368.23" r="1.02"/><circle cx="75.41" cy="410.39" r="1.47"/><circle cx="99.21" cy="376.87" r="0.93"/><circle cx="36.95" cy="385.21" r="1.5"/><circle cx="18.59" cy="367.87" r="1"/><circle cx="128.09" cy="336.81" r="1.48"/><circle cx="77.22" cy="351.83" r="1.58"/><circle cx="88.26" cy="337.43" r="0.98"/><circle cx="19.98" cy="420.62" r="1.17"/><circle cx="129.39" cy="379.12" r="1.56"/><circle cx="91.39" cy="405.33" r="1.12"/><circle cx="83.65" cy="429.16" r="1.38"/><circle cx="46.07" cy="411.71" r="1.37"/><circle cx="91.03" cy="431.96" r="1.21"/><circle cx="98.61" cy="340.95" r="1.33"/><circle cx="25.57" cy="419.41" r="1.57"/><circle cx="72" cy="423.98" r="1.31"/><circle cx="131.57" cy="409.01" r="1.25"/><circle cx="25.6" cy="389.73" r="1.4"/><circle cx="29.35" cy="348.54" r="1.17"/><circle cx="124.33" cy="357.8" r="1.28"/><circle cx="9.16" cy="439.96" r="1.42"/><circle cx="49.17" cy="396.3" r="1.29"/><circle cx="134.09" cy="420.91" r="1.54"/><circle cx="56.12" cy="437.16" r="1.41"/><circle cx="52.94" cy="405.61" r="1.48"/><circle cx="36.38" cy="412.98" r="1.28"/><circle cx="55.19" cy="376.75" r="1.49"/><circle cx="6.89" cy="405.25" r="0.93"/><circle cx="21.77" cy="426.91" r="1.36"/><circle cx="132.05" cy="390.86" r="1.2"/><circle cx="95.6" cy="363.34" r="0.97"/><circle cx="12.84" cy="398.47" r="1.5"/><circle cx="107.86" cy="390.32" r="1.1"/><circle cx="121.31" cy="343.12" r="1.46"/><circle cx="15.25" cy="414.78" r="1.6"/><circle cx="79.87" cy="413.4" r="1.52"/><circle cx="105.84" cy="341.11" r="1.05"/><circle cx="24.13" cy="439.77" r="1.47"/><circle cx="11.3" cy="344.17" r="1.05"/><circle cx="25.95" cy="362.8" r="1.55"/><circle cx="89.88" cy="345.78" r="1.1"/><circle cx="18.36" cy="338.38" r="1.48"/><circle cx="55.19" cy="393.54" r="1.44"/><circle cx="22.99" cy="391.07" r="1.11"/><circle cx="108.8" cy="382.26" r="1.43"/><circle cx="52.58" cy="441.27" r="1.08"/><circle cx="132.16" cy="411.32" r="1.6"/><circle cx="75.71" cy="435.65" r="1.34"/><circle cx="58.42" cy="422.88" r="1.08"/><circle cx="109.71" cy="348.3" r="1.36"/><circle cx="58.1" cy="377.23" r="1.03"/><circle cx="33.5" cy="388.33" r="1.15"/><circle cx="53.63" cy="395.44" r="1.44"/><circle cx="97.56" cy="412.36" r="0.97"/><circle cx="126.51" cy="340.08" r="1.14"/><circle cx="8.04" cy="369.98" r="1.6"/><circle cx="115.33" cy="384.36" r="1.45"/><circle cx="93.4" cy="385.97" r="1.55"/><circle cx="18.44" cy="383.3" r="1.42"/><circle cx="22.35" cy="425.16" r="1.02"/><circle cx="49.73" cy="427.95" r="0.92"/><circle cx="64.8" cy="344.81" r="1.17"/><circle cx="9.57" cy="429.42" r="1.19"/><circle cx="89.81" cy="400.84" r="0.94"/><circle cx="6.05" cy="381.8" r="0.98"/><circle cx="9.54" cy="432.99" r="1.54"/><circle cx="131.58" cy="391.29" r="1.5"/><circle cx="124.55" cy="344.52" r="1.13"/><circle cx="80.09" cy="428.26" r="1.5"/><circle cx="35" cy="400.71" r="1.14"/></g>
<g fill="#a6a8c6"><circle cx="114.7" cy="363.19" r="1.24"/><circle cx="118.44" cy="361.41" r="1.37"/><circle cx="72.8" cy="353.37" r="1.21"/><circle cx="78.96" cy="406.16" r="1.51"/><circle cx="77.06" cy="395.55" r="1.37"/><circle cx="67.82" cy="339.43" r="1.28"/><circle cx="89.67" cy="406.7" r="1.15"/><circle cx="112.21" cy="432.05" r="1.25"/><circle cx="10.44" cy="358.87" r="1.51"/><circle cx="27.4" cy="440.72" r="0.91"/><circle cx="123.04" cy="360.85" r="0.93"/><circle cx="2.03" cy="383.47" r="1.37"/><circle cx="42.4" cy="372.68" r="1.46"/><circle cx="69.95" cy="381.14" r="1.34"/><circle cx="106.46" cy="343.92" r="1.57"/><circle cx="123.44" cy="349.51" r="1.05"/><circle cx="43.24" cy="349.06" r="0.96"/><circle cx="88.23" cy="414.45" r="1.11"/><circle cx="69.5" cy="396.77" r="1.14"/><circle cx="69.56" cy="383.85" r="1.04"/><circle cx="59.59" cy="364.31" r="1.42"/><circle cx="54.53" cy="389.67" r="1.18"/><circle cx="80.66" cy="398.81" r="1.3"/><circle cx="79.84" cy="345.64" r="1.47"/><circle cx="49.64" cy="356.95" r="0.9"/><circle cx="9.91" cy="399.62" r="0.98"/><circle cx="120.79" cy="351.89" r="1.26"/><circle cx="27.01" cy="350.36" r="1.24"/><circle cx="110.37" cy="338.07" r="1.05"/><circle cx="126.6" cy="355.94" r="1.6"/><circle cx="69.96" cy="399.84" r="1.27"/><circle cx="84.3" cy="362.2" r="1.09"/><circle cx="58.76" cy="414.2" r="1.46"/><circle cx="9.52" cy="410.73" r="1.29"/><circle cx="130.5" cy="390.15" r="1.47"/><circle cx="27.41" cy="441.1" r="1.17"/><circle cx="22.98" cy="434.24" r="1.5"/><circle cx="92.68" cy="392.6" r="1.45"/><circle cx="80.02" cy="355.4" r="1.14"/><circle cx="76.13" cy="408.83" r="1.34"/><circle cx="5.13" cy="350.68" r="1.11"/><circle cx="84.62" cy="380.23" r="1.19"/><circle cx="44.77" cy="416.06" r="0.94"/><circle cx="5.92" cy="376.78" r="1.32"/><circle cx="127.45" cy="435.98" r="1.21"/><circle cx="36.17" cy="375.82" r="1.25"/><circle cx="64.81" cy="430.51" r="1.54"/><circle cx="20.56" cy="354.66" r="1.38"/><circle cx="82.76" cy="408.19" r="1.56"/><circle cx="31.16" cy="354.68" r="1.27"/><circle cx="53.72" cy="435.56" r="1.04"/><circle cx="19.48" cy="416.6" r="1.44"/><circle cx="70.64" cy="418.9" r="1.35"/><circle cx="4.91" cy="363.48" r="1.56"/><circle cx="81.73" cy="345.12" r="1.25"/><circle cx="84.61" cy="425.25" r="1.47"/><circle cx="117.46" cy="435.01" r="1.47"/><circle cx="102.05" cy="338.62" r="1.24"/><circle cx="42.56" cy="421.63" r="1.13"/><circle cx="125.58" cy="412.35" r="1.53"/><circle cx="110.45" cy="414.5" r="0.94"/><circle cx="81.76" cy="378.22" r="1.39"/><circle cx="54.45" cy="372.38" r="0.92"/><circle cx="69.83" cy="362.4" r="1.1"/><circle cx="105.51" cy="417.78" r="1.31"/><circle cx="40.23" cy="436.99" r="1.13"/><circle cx="73.25" cy="422.76" r="1.13"/><circle cx="25.87" cy="384.6" r="1.12"/><circle cx="136.73" cy="374.55" r="1.28"/><circle cx="31.97" cy="408.45" r="1.56"/><circle cx="64.66" cy="350.35" r="1.03"/><circle cx="120.56" cy="399.85" r="0.9"/><circle cx="65.35" cy="356.42" r="1.58"/><circle cx="80.6" cy="359.42" r="1.31"/><circle cx="9.89" cy="417.08" r="1.33"/><circle cx="43.15" cy="440.53" r="1.34"/><circle cx="26.58" cy="413.5" r="1.09"/><circle cx="110.56" cy="383.52" r="1.22"/><circle cx="93.34" cy="360.08" r="1.58"/><circle cx="63.62" cy="419.33" r="1.34"/><circle cx="18.36" cy="417.61" r="1.48"/><circle cx="106.19" cy="399.72" r="1.51"/><circle cx="78.36" cy="416.64" r="1.3"/><circle cx="6.71" cy="410.33" r="0.91"/><circle cx="94.57" cy="410.14" r="0.95"/><circle cx="80.79" cy="415.67" r="1.42"/><circle cx="32.02" cy="367.27" r="1.08"/><circle cx="35.98" cy="417.24" r="1.58"/><circle cx="118.01" cy="378.49" r="1.08"/><circle cx="75.02" cy="394.63" r="1.57"/><circle cx="80.32" cy="369.34" r="1.06"/><circle cx="8.41" cy="428.68" r="0.91"/><circle cx="101.77" cy="355.51" r="1.05"/><circle cx="113.04" cy="349.22" r="0.96"/><circle cx="113.8" cy="415.58" r="1.5"/><circle cx="50.22" cy="362.36" r="1.11"/><circle cx="33.89" cy="375.7" r="1.16"/><circle cx="135.74" cy="337.35" r="1.35"/><circle cx="95.27" cy="398.5" r="1.19"/><circle cx="94.75" cy="439.75" r="1.52"/><circle cx="112.99" cy="416.73" r="1.57"/><circle cx="42.11" cy="342.81" r="1.28"/><circle cx="92.49" cy="405.02" r="1.09"/><circle cx="92.15" cy="384.48" r="1.19"/><circle cx="82.64" cy="425.22" r="1.52"/><circle cx="84.39" cy="343.98" r="0.95"/><circle cx="10.32" cy="353.71" r="1.02"/><circle cx="85.95" cy="394.48" r="1.17"/><circle cx="25.11" cy="358.77" r="1.33"/><circle cx="67.09" cy="365.13" r="1.37"/><circle cx="126.47" cy="425.75" r="1.36"/><circle cx="75.39" cy="385.93" r="0.93"/><circle cx="52.16" cy="411.21" r="0.92"/><circle cx="63.06" cy="405.62" r="1.49"/><circle cx="3.83" cy="343.33" r="1.46"/><circle cx="34.23" cy="351.4" r="1.16"/><circle cx="105.6" cy="352.71" r="1.56"/><circle cx="102.6" cy="424.32" r="1.16"/><circle cx="70.08" cy="408.42" r="1.04"/><circle cx="68.26" cy="419.75" r="1.09"/><circle cx="45.3" cy="385.55" r="1.21"/><circle cx="55.59" cy="382.16" r="1.32"/><circle cx="32.12" cy="375.78" r="1.36"/><circle cx="99.1" cy="346.83" r="1.16"/><circle cx="116.91" cy="437" r="1.21"/><circle cx="55.01" cy="364.97" r="1.3"/><circle cx="17.81" cy="385.61" r="1.36"/><circle cx="9.19" cy="342.17" r="1.59"/><circle cx="58.63" cy="348.52" r="1.46"/><circle cx="62.06" cy="367.9" r="1.1"/><circle cx="126.49" cy="416.62" r="0.97"/><circle cx="56.92" cy="427.81" r="1.59"/><circle cx="83.97" cy="412.93" r="0.97"/><circle cx="103.35" cy="338.75" r="0.95"/><circle cx="118.13" cy="431.65" r="1.03"/><circle cx="21.93" cy="358.96" r="1.05"/><circle cx="135.94" cy="430.33" r="1.42"/><circle cx="60.05" cy="414.25" r="1.31"/><circle cx="102.99" cy="400.29" r="1.41"/><circle cx="76.91" cy="412.43" r="1.1"/><circle cx="29.34" cy="429.84" r="1.54"/><circle cx="127.36" cy="429.4" r="1.32"/><circle cx="42.25" cy="359.61" r="1.25"/><circle cx="11.05" cy="349.24" r="1.45"/><circle cx="138.48" cy="387.85" r="1.37"/><circle cx="5.75" cy="421.79" r="1.45"/><circle cx="85.68" cy="418.11" r="1.07"/><circle cx="9.49" cy="424.12" r="1.42"/><circle cx="12.08" cy="345.4" r="0.94"/><circle cx="100.38" cy="357.95" r="1.08"/><circle cx="138.61" cy="402.5" r="1.15"/><circle cx="102.92" cy="377.76" r="1.49"/><circle cx="82.29" cy="440.43" r="1.06"/><circle cx="71.7" cy="371.61" r="1.17"/><circle cx="88.6" cy="421.94" r="1.07"/><circle cx="79.36" cy="434.72" r="1.58"/><circle cx="40.18" cy="336.64" r="1.48"/><circle cx="112.06" cy="362.9" r="1.35"/><circle cx="39.87" cy="398.35" r="1.5"/><circle cx="13.91" cy="371.25" r="1.18"/><circle cx="127.86" cy="400.29" r="1.42"/><circle cx="126.22" cy="344.52" r="0.95"/><circle cx="114.78" cy="390.67" r="0.95"/><circle cx="16.07" cy="345.5" r="1.56"/><circle cx="87.84" cy="385.85" r="1.54"/><circle cx="66.13" cy="373" r="1.36"/><circle cx="27.91" cy="409.5" r="1.25"/><circle cx="110.88" cy="399.86" r="1.38"/><circle cx="90.5" cy="437.3" r="0.94"/><circle cx="26.79" cy="403.53" r="1.4"/><circle cx="31.62" cy="414.57" r="0.96"/><circle cx="135.42" cy="350.22" r="1.07"/><circle cx="102.05" cy="435.39" r="1.01"/><circle cx="2.19" cy="401.33" r="1.56"/><circle cx="128.62" cy="401.18" r="1.46"/><circle cx="5.83" cy="341.57" r="1.39"/><circle cx="99.9" cy="426.33" r="0.93"/><circle cx="99.18" cy="409.1" r="1.49"/><circle cx="111.71" cy="402.25" r="1.02"/><circle cx="40.84" cy="397.1" r="1.06"/><circle cx="77.42" cy="342.96" r="1.41"/><circle cx="51.64" cy="440.7" r="0.93"/><circle cx="93.28" cy="343.02" r="1.02"/><circle cx="108.07" cy="341.23" r="1.19"/><circle cx="109.41" cy="382.77" r="1.5"/><circle cx="5.42" cy="395.05" r="1.19"/><circle cx="105.68" cy="428.7" r="1.02"/><circle cx="123.01" cy="416.31" r="1.24"/><circle cx="114.71" cy="395.67" r="1.45"/><circle cx="122.68" cy="386.84" r="1.26"/><circle cx="12.9" cy="363.33" r="1.05"/><circle cx="18.13" cy="371.54" r="1.38"/><circle cx="97.1" cy="402.9" r="1.28"/><circle cx="75.76" cy="441.12" r="1.54"/><circle cx="21.03" cy="385.15" r="1.2"/><circle cx="99.53" cy="415.83" r="1.06"/><circle cx="61.97" cy="407.06" r="1.26"/><circle cx="64.87" cy="424.73" r="1.54"/><circle cx="45.84" cy="360.72" r="1.15"/><circle cx="44.7" cy="390.42" r="1.1"/><circle cx="21.01" cy="437.39" r="1.19"/><circle cx="131.95" cy="362.28" r="1.1"/><circle cx="126.9" cy="436.51" r="1"/><circle cx="110.83" cy="376.24" r="1.19"/><circle cx="125.05" cy="411.38" r="1.1"/><circle cx="83.82" cy="366.56" r="1.06"/><circle cx="118.58" cy="420.31" r="1.2"/><circle cx="33.83" cy="413.46" r="1.11"/><circle cx="123.44" cy="411.12" r="1.45"/><circle cx="103.01" cy="359.92" r="1.17"/><circle cx="121.52" cy="367.55" r="1.48"/><circle cx="93.04" cy="373.68" r="0.9"/><circle cx="39.83" cy="336.77" r="1.2"/><circle cx="137.08" cy="367.31" r="1.16"/><circle cx="23.14" cy="394.46" r="0.91"/><circle cx="38.13" cy="377.39" r="1.26"/></g>
<g fill="#999cc2"><circle cx="48.86" cy="364.03" r="1.3"/><circle cx="38.16" cy="410.37" r="1.12"/><circle cx="121.95" cy="395.8" r="1.58"/><circle cx="46.27" cy="406.76" r="1.33"/><circle cx="50.77" cy="411.94" r="0.95"/><circle cx="121.08" cy="428.44" r="1.57"/><circle cx="79.15" cy="365.96" r="1.52"/><circle cx="99.94" cy="413.95" r="1.22"/><circle cx="137.93" cy="361.38" r="1.09"/><circle cx="69.6" cy="405.53" r="1.44"/><circle cx="131.51" cy="349.11" r="1.56"/><circle cx="88.25" cy="421.11" r="1.01"/><circle cx="86.23" cy="339.61" r="1.48"/><circle cx="59" cy="362.39" r="1.06"/><circle cx="37.25" cy="413.17" r="1.31"/><circle cx="133.77" cy="345.48" r="0.95"/><circle cx="19.82" cy="389.17" r="1.4"/><circle cx="127.04" cy="410.02" r="1.1"/><circle cx="111.5" cy="439.29" r="1.16"/><circle cx="55.31" cy="378.48" r="1.39"/><circle cx="112.61" cy="374.89" r="1.03"/><circle cx="134.82" cy="390.75" r="1.55"/><circle cx="89.83" cy="438.55" r="1.23"/><circle cx="90.83" cy="368.81" r="1.05"/><circle cx="65.37" cy="425.87" r="1.47"/><circle cx="59.76" cy="381.48" r="1.28"/><circle cx="104.47" cy="408.23" r="1.11"/><circle cx="65.37" cy="371.64" r="0.97"/><circle cx="56.67" cy="366.57" r="1.3"/><circle cx="42.64" cy="412.6" r="1.35"/><circle cx="54.16" cy="353.24" r="1.27"/><circle cx="89.83" cy="342.99" r="1.36"/><circle cx="106.03" cy="394.66" r="0.94"/><circle cx="106.94" cy="379.6" r="1.05"/><circle cx="15.89" cy="374.45" r="0.91"/><circle cx="96.18" cy="341.63" r="1.14"/><circle cx="125.5" cy="353.41" r="0.99"/><circle cx="122.26" cy="429.03" r="0.99"/><circle cx="132.8" cy="368.88" r="1.52"/><circle cx="97.11" cy="422.19" r="1.2"/><circle cx="125.79" cy="435.24" r="1.44"/><circle cx="9.49" cy="382.56" r="1.05"/><circle cx="64.63" cy="404.61" r="1.57"/><circle cx="47.86" cy="424.12" r="0.92"/><circle cx="43.59" cy="407.91" r="1.28"/><circle cx="78.63" cy="381.67" r="1.58"/><circle cx="76.9" cy="438.46" r="1.07"/><circle cx="22.08" cy="336.86" r="1.07"/><circle cx="89.57" cy="429.65" r="1.49"/><circle cx="128.5" cy="428.04" r="1.51"/><circle cx="134.04" cy="385.43" r="1.22"/><circle cx="136.08" cy="363.92" r="1.13"/><circle cx="28.99" cy="363.2" r="1.44"/><circle cx="4.97" cy="346.98" r="1.08"/><circle cx="19.49" cy="343.12" r="1.01"/><circle cx="36.19" cy="407.44" r="1.52"/><circle cx="63.91" cy="355.04" r="1.06"/><circle cx="62.03" cy="399.24" r="1.57"/><circle cx="70.6" cy="422.59" r="1.48"/><circle cx="109.53" cy="371.26" r="1.5"/><circle cx="114.9" cy="372.67" r="1.39"/><circle cx="23.01" cy="386.74" r="1.55"/><circle cx="64.54" cy="383.77" r="0.94"/><circle cx="4.5" cy="420.55" r="1.16"/><circle cx="138.53" cy="436.03" r="1.3"/><circle cx="80.51" cy="363.5" r="1.29"/><circle cx="34.26" cy="352.64" r="1.11"/><circle cx="19.62" cy="439.69" r="1.29"/><circle cx="55.98" cy="396.3" r="1.11"/><circle cx="110.87" cy="400.5" r="0.94"/><circle cx="6.25" cy="366.13" r="1.6"/><circle cx="54.23" cy="423.12" r="1.5"/><circle cx="113.89" cy="340.32" r="1.54"/><circle cx="85.06" cy="413.16" r="0.97"/><circle cx="116.48" cy="423.7" r="0.98"/><circle cx="71.85" cy="338.84" r="1.54"/><circle cx="97.27" cy="349.04" r="1.04"/><circle cx="89.27" cy="431.67" r="1.48"/><circle cx="63.19" cy="361.4" r="1.52"/><circle cx="88.93" cy="339.89" r="1.36"/><circle cx="101.33" cy="342.83" r="1.47"/><circle cx="111.19" cy="339.47" r="1.15"/><circle cx="17.92" cy="341.41" r="1.13"/><circle cx="11.86" cy="433.13" r="1.37"/><circle cx="80.61" cy="340.59" r="1.17"/><circle cx="65.51" cy="353.36" r="1.07"/><circle cx="115.02" cy="356.18" r="1.02"/><circle cx="131.98" cy="343.9" r="1.54"/><circle cx="77.94" cy="380.74" r="1.18"/><circle cx="61.01" cy="410.68" r="1.48"/><circle cx="92.17" cy="365.59" r="1.47"/><circle cx="12.14" cy="342.22" r="1.38"/><circle cx="135.25" cy="395.1" r="1.57"/><circle cx="4.51" cy="352.77" r="1.42"/><circle cx="120.84" cy="425.23" r="1.54"/><circle cx="86.58" cy="351.67" r="0.94"/><circle cx="18.96" cy="367.93" r="1.53"/><circle cx="52.57" cy="406.54" r="1.07"/><circle cx="102.77" cy="420.22" r="1.46"/><circle cx="35.83" cy="366.04" r="1.18"/><circle cx="65.22" cy="390.49" r="1.33"/><circle cx="99.62" cy="415.46" r="1.43"/><circle cx="84.32" cy="370.58" r="1.21"/><circle cx="45.83" cy="340.24" r="1.36"/><circle cx="56.51" cy="346.7" r="1.05"/><circle cx="128.21" cy="374.63" r="1.35"/><circle cx="97.12" cy="407.79" r="1.12"/><circle cx="3.42" cy="336.95" r="1.09"/><circle cx="35.8" cy="422.05" r="1.25"/><circle cx="77.48" cy="381.29" r="1.53"/><circle cx="46.07" cy="433.19" r="1.14"/><circle cx="66.6" cy="352.21" r="1.14"/><circle cx="50.26" cy="376.86" r="1.11"/><circle cx="76.34" cy="358.73" r="1.3"/><circle cx="117.33" cy="361.05" r="1.37"/><circle cx="100.64" cy="384.36" r="1.08"/><circle cx="24.48" cy="367.85" r="1.31"/><circle cx="66.29" cy="374.36" r="1.37"/><circle cx="135.98" cy="381.02" r="1.17"/><circle cx="6.58" cy="388.02" r="0.92"/><circle cx="59.54" cy="364.32" r="1.46"/><circle cx="5.34" cy="383.79" r="1.22"/><circle cx="33.36" cy="426.98" r="1.47"/><circle cx="8.74" cy="422.89" r="1.19"/><circle cx="134.18" cy="383.12" r="1.38"/><circle cx="116.93" cy="388.84" r="1.21"/><circle cx="118.61" cy="346.21" r="1.56"/><circle cx="131.61" cy="364.08" r="1.47"/><circle cx="114.89" cy="419.79" r="1.38"/><circle cx="134.19" cy="356.29" r="1.38"/><circle cx="83.94" cy="374.47" r="1.19"/><circle cx="68.35" cy="362.3" r="1.23"/><circle cx="77" cy="418.65" r="1.41"/><circle cx="77.07" cy="409.61" r="1.45"/><circle cx="113.72" cy="347.31" r="0.93"/><circle cx="136.69" cy="393.78" r="1.04"/><circle cx="54.4" cy="343.76" r="1.34"/><circle cx="77.33" cy="358.31" r="1.21"/><circle cx="76.25" cy="354.59" r="1.33"/><circle cx="45.71" cy="422.02" r="1.19"/><circle cx="16.92" cy="440.97" r="1.23"/><circle cx="88.44" cy="343.44" r="1.22"/><circle cx="93.68" cy="399.35" r="1.19"/><circle cx="120.48" cy="373.77" r="1.04"/><circle cx="87.04" cy="418.05" r="1.25"/><circle cx="60.8" cy="374.49" r="0.92"/><circle cx="118.87" cy="379.46" r="1.52"/><circle cx="4.21" cy="375.18" r="1.29"/><circle cx="116.12" cy="374.27" r="1.4"/><circle cx="14.79" cy="426.7" r="1.39"/><circle cx="2.19" cy="339.35" r="1.2"/><circle cx="88.64" cy="383.6" r="1.25"/><circle cx="26.98" cy="359.86" r="1.07"/><circle cx="11.14" cy="391.21" r="1.51"/><circle cx="83.42" cy="440.53" r="1.49"/><circle cx="87.81" cy="434.95" r="0.92"/><circle cx="31.86" cy="353.35" r="1.59"/><circle cx="33.88" cy="419.14" r="1.36"/><circle cx="71.59" cy="435.07" r="1.24"/><circle cx="75.38" cy="372.28" r="1.03"/><circle cx="34.51" cy="373.62" r="1.5"/><circle cx="10.98" cy="441.08" r="1.57"/><circle cx="4.28" cy="390.08" r="0.97"/><circle cx="24.7" cy="423.08" r="1.27"/><circle cx="69.44" cy="399.86" r="1.41"/><circle cx="96.15" cy="417.45" r="1.51"/><circle cx="107.84" cy="369.58" r="1.04"/><circle cx="132.71" cy="429.79" r="1.08"/><circle cx="64.99" cy="369.17" r="1.33"/><circle cx="127.65" cy="375.54" r="1.44"/><circle cx="135.64" cy="366.56" r="1.12"/><circle cx="125.06" cy="402.03" r="1.41"/><circle cx="102.14" cy="392.14" r="1.12"/><circle cx="63.77" cy="399.49" r="1.31"/><circle cx="86.77" cy="361.45" r="1.16"/><circle cx="12.15" cy="383.59" r="1.28"/><circle cx="47.24" cy="384.75" r="0.92"/><circle cx="52.43" cy="340.47" r="1.42"/><circle cx="28.39" cy="408.19" r="1.06"/><circle cx="34.84" cy="404.62" r="1.57"/><circle cx="1.72" cy="395.25" r="0.91"/><circle cx="57.73" cy="440.27" r="1.03"/><circle cx="42.74" cy="366.55" r="1.33"/><circle cx="54.56" cy="439.03" r="1.34"/><circle cx="62.64" cy="438.11" r="1.54"/><circle cx="86.01" cy="367.18" r="1.22"/><circle cx="12.33" cy="371.6" r="1.45"/><circle cx="88.86" cy="440.83" r="0.92"/><circle cx="80.01" cy="382.39" r="1.02"/><circle cx="58.55" cy="349.49" r="1.23"/><circle cx="70.03" cy="403.13" r="1.16"/><circle cx="137.68" cy="416.51" r="1.55"/><circle cx="9.65" cy="422.79" r="1.22"/><circle cx="79.94" cy="360.41" r="1.29"/><circle cx="86.08" cy="400.71" r="1.51"/></g>
<g fill="#7b80ab"><circle cx="86.91" cy="397.64" r="0.97"/><circle cx="25.58" cy="417.07" r="1.56"/><circle cx="38.88" cy="376.66" r="1.36"/><circle cx="22.05" cy="337.87" r="1.5"/><circle cx="84.37" cy="387.44" r="1.47"/><circle cx="7.91" cy="434.93" r="1.13"/><circle cx="52.78" cy="364.41" r="1.16"/><circle cx="116.63" cy="352.09" r="1.05"/><circle cx="129.95" cy="341.79" r="1.29"/><circle cx="93.86" cy="415.56" r="1.56"/><circle cx="104.63" cy="392.12" r="1.45"/><circle cx="123.05" cy="386.23" r="1.38"/><circle cx="70.42" cy="345.62" r="1.1"/><circle cx="93.78" cy="435.76" r="1.26"/><circle cx="121.55" cy="364.5" r="1.35"/><circle cx="89.31" cy="435.31" r="1.41"/><circle cx="93.78" cy="419.81" r="1.46"/><circle cx="108.96" cy="402.66" r="1.51"/><circle cx="99.64" cy="337.23" r="1.51"/><circle cx="87.51" cy="416.42" r="1.57"/><circle cx="103.38" cy="380.32" r="1.48"/><circle cx="76.56" cy="396.26" r="1.37"/><circle cx="66.51" cy="379.9" r="0.96"/><circle cx="122.14" cy="438.16" r="1.29"/><circle cx="36.82" cy="433.95" r="1.38"/><circle cx="52.54" cy="380.91" r="1.17"/><circle cx="122.41" cy="412.33" r="0.97"/><circle cx="64.97" cy="372.13" r="1.52"/><circle cx="45.38" cy="395.72" r="1.51"/><circle cx="68.79" cy="415.65" r="0.93"/><circle cx="135.59" cy="386.97" r="1.57"/><circle cx="103.2" cy="378.24" r="1.55"/><circle cx="117.63" cy="359.36" r="1.45"/><circle cx="4.33" cy="343.74" r="1.12"/><circle cx="95.9" cy="398.84" r="1.33"/><circle cx="39.54" cy="396.95" r="0.96"/><circle cx="35.12" cy="439.58" r="1.51"/><circle cx="60.94" cy="413.79" r="1.57"/><circle cx="12.19" cy="355.2" r="1.32"/><circle cx="130.12" cy="394.91" r="1.57"/><circle cx="138.33" cy="358.82" r="1.44"/><circle cx="129.01" cy="417.61" r="1.24"/><circle cx="10.06" cy="406.76" r="1.54"/><circle cx="73.39" cy="396.66" r="0.94"/><circle cx="26.87" cy="429.55" r="0.96"/><circle cx="47.63" cy="432.28" r="1.52"/><circle cx="80.91" cy="381.61" r="1.4"/><circle cx="134.28" cy="395.66" r="1.54"/><circle cx="67.42" cy="379.09" r="1.57"/><circle cx="37.79" cy="372.76" r="1.32"/><circle cx="54.65" cy="427.57" r="0.91"/><circle cx="133.43" cy="397.5" r="1.22"/><circle cx="21.26" cy="430.78" r="1.11"/><circle cx="40.52" cy="356.03" r="1.17"/><circle cx="118.93" cy="393.46" r="0.91"/><circle cx="113.45" cy="425.03" r="1.21"/><circle cx="21.31" cy="388.09" r="1.49"/><circle cx="49.58" cy="410.97" r="1.11"/><circle cx="41.29" cy="393.46" r="1.46"/><circle cx="124.48" cy="428.71" r="1.45"/><circle cx="53.27" cy="394.49" r="0.93"/><circle cx="135.12" cy="338.52" r="1.56"/><circle cx="18.99" cy="347.31" r="0.97"/><circle cx="78.91" cy="359.54" r="1.14"/><circle cx="85.79" cy="369.57" r="0.96"/><circle cx="122.91" cy="344.91" r="0.95"/><circle cx="5.91" cy="414.53" r="1.58"/><circle cx="107.13" cy="417" r="1.15"/><circle cx="51.6" cy="419.58" r="1.46"/><circle cx="35.26" cy="416.31" r="1.59"/><circle cx="136.66" cy="422.64" r="1.01"/><circle cx="17" cy="374.79" r="0.94"/><circle cx="81.44" cy="413.89" r="1.25"/><circle cx="130.38" cy="391.33" r="1.59"/><circle cx="106.3" cy="410.19" r="1.33"/><circle cx="103.34" cy="364.7" r="1.27"/><circle cx="85.9" cy="419.31" r="1.09"/><circle cx="80.49" cy="401.51" r="1.55"/><circle cx="14.11" cy="343.98" r="1.53"/><circle cx="53.62" cy="381.08" r="0.94"/><circle cx="59.86" cy="343.63" r="0.99"/><circle cx="39.92" cy="383.96" r="1.08"/><circle cx="35.9" cy="414.43" r="1.15"/><circle cx="59.73" cy="364.71" r="1.2"/><circle cx="30.52" cy="426.18" r="1.13"/><circle cx="99.47" cy="372.82" r="1.34"/><circle cx="130.76" cy="405.51" r="1.02"/><circle cx="10.94" cy="407.62" r="1.17"/><circle cx="3.6" cy="375.46" r="1.13"/><circle cx="116.94" cy="357.27" r="1.09"/><circle cx="61.02" cy="439.42" r="0.93"/><circle cx="106.2" cy="435.9" r="0.93"/><circle cx="61.54" cy="433.08" r="0.95"/><circle cx="133.88" cy="366.21" r="1.51"/><circle cx="138.85" cy="346.1" r="1"/><circle cx="85.14" cy="435.21" r="1.5"/><circle cx="128.04" cy="383.55" r="1.4"/><circle cx="55.21" cy="406.12" r="1.07"/><circle cx="8.94" cy="439.47" r="0.96"/><circle cx="14.46" cy="437.55" r="1.38"/><circle cx="88.91" cy="341.26" r="1.33"/><circle cx="76.92" cy="344.21" r="1.11"/><circle cx="16.26" cy="415.87" r="1.56"/><circle cx="30.42" cy="338.85" r="1.5"/><circle cx="73.65" cy="404.86" r="1.45"/><circle cx="106.49" cy="343.56" r="1.07"/><circle cx="50.4" cy="412.37" r="1.05"/><circle cx="28.7" cy="371.92" r="1.01"/><circle cx="116.48" cy="417.74" r="1.22"/><circle cx="125.46" cy="370.52" r="0.94"/><circle cx="95.6" cy="405.78" r="1.24"/><circle cx="96.33" cy="439.86" r="1.33"/><circle cx="95.38" cy="418.36" r="1.22"/><circle cx="73.74" cy="383.39" r="1.14"/><circle cx="3.87" cy="364.1" r="1.42"/><circle cx="92.35" cy="380.39" r="1.05"/><circle cx="103.59" cy="433.38" r="1.41"/><circle cx="18.79" cy="416" r="1.28"/><circle cx="115.81" cy="408.92" r="1.15"/><circle cx="31.62" cy="342.17" r="1.22"/><circle cx="129.3" cy="393.7" r="1.05"/><circle cx="16.58" cy="388.12" r="1.04"/><circle cx="64.07" cy="396.36" r="1.55"/><circle cx="83.96" cy="371.79" r="1.04"/><circle cx="49.12" cy="361.38" r="1.3"/><circle cx="104.01" cy="341.11" r="1.37"/><circle cx="137.35" cy="386.08" r="1.32"/><circle cx="11.39" cy="337" r="1.32"/><circle cx="109.4" cy="339.64" r="1.08"/><circle cx="103.07" cy="387.75" r="0.96"/><circle cx="125.53" cy="379.49" r="0.92"/><circle cx="55.91" cy="383.89" r="1.38"/><circle cx="17.42" cy="346.31" r="1.23"/><circle cx="136.48" cy="376.94" r="1.24"/><circle cx="117.11" cy="376.33" r="1.14"/><circle cx="137.4" cy="391.89" r="0.93"/><circle cx="32.25" cy="411.1" r="1.05"/><circle cx="118.99" cy="435.57" r="1.44"/><circle cx="63.75" cy="337.8" r="0.96"/><circle cx="39.61" cy="385.92" r="1.19"/><circle cx="102.07" cy="409.44" r="1.44"/><circle cx="73.83" cy="404.83" r="1.18"/><circle cx="103.85" cy="401.86" r="1.4"/><circle cx="98.19" cy="373.29" r="1.17"/><circle cx="32.99" cy="413.33" r="0.93"/><circle cx="58.15" cy="392.52" r="1.19"/><circle cx="128.11" cy="428.5" r="0.98"/><circle cx="75.45" cy="403" r="1.5"/><circle cx="98.35" cy="375.87" r="1.33"/><circle cx="31.73" cy="366.99" r="1.01"/><circle cx="139.12" cy="364.51" r="1.51"/><circle cx="98.67" cy="372.66" r="1.23"/><circle cx="3.21" cy="355.85" r="1.43"/><circle cx="72.15" cy="378.74" r="1.53"/><circle cx="88.71" cy="399.08" r="1.01"/><circle cx="30.23" cy="411.96" r="0.95"/><circle cx="82.6" cy="406.66" r="1.44"/><circle cx="8.92" cy="399.52" r="0.93"/><circle cx="87.39" cy="388.96" r="1.28"/><circle cx="15.93" cy="400.91" r="1.49"/><circle cx="85.77" cy="391.24" r="1.02"/><circle cx="34.06" cy="418.63" r="1.09"/><circle cx="44.42" cy="382.42" r="1.21"/><circle cx="125.17" cy="348.13" r="1.45"/><circle cx="31.93" cy="398.63" r="1.33"/><circle cx="128.38" cy="385.47" r="0.96"/><circle cx="13.87" cy="421.58" r="1.29"/><circle cx="77.04" cy="427.7" r="1.1"/><circle cx="83.67" cy="342.56" r="1.4"/><circle cx="42.06" cy="430.31" r="1.3"/><circle cx="34.36" cy="341.44" r="1.05"/><circle cx="137.03" cy="384.74" r="1.34"/><circle cx="91.81" cy="344.43" r="1.13"/><circle cx="38.9" cy="346.74" r="1.12"/><circle cx="2.01" cy="410.52" r="0.98"/><circle cx="92.05" cy="409.86" r="1.34"/><circle cx="5.01" cy="353.67" r="1"/><circle cx="92.63" cy="349.99" r="1.28"/><circle cx="111.15" cy="399.8" r="1.3"/><circle cx="19.62" cy="396.57" r="1.28"/><circle cx="6.05" cy="434.86" r="1.51"/><circle cx="2.64" cy="337.71" r="1.17"/><circle cx="71.26" cy="374.39" r="1.22"/><circle cx="28.21" cy="370.14" r="0.93"/><circle cx="73.03" cy="358.95" r="1.35"/><circle cx="5.46" cy="353.59" r="1.49"/><circle cx="102.38" cy="390.94" r="0.94"/><circle cx="34.63" cy="403.77" r="1.33"/><circle cx="98.89" cy="341.25" r="1.17"/><circle cx="45.92" cy="337.69" r="1.34"/><circle cx="129.2" cy="437.15" r="1.05"/><circle cx="110.01" cy="396.79" r="1.04"/><circle cx="64.29" cy="409.43" r="1.31"/><circle cx="79.02" cy="400.13" r="0.99"/><circle cx="127.93" cy="430.09" r="1.31"/><circle cx="105.1" cy="350.1" r="0.98"/><circle cx="50.73" cy="420.01" r="0.99"/><circle cx="77.01" cy="356.54" r="1.23"/><circle cx="100.29" cy="407.58" r="1.17"/><circle cx="119.28" cy="383.48" r="1.17"/><circle cx="91.62" cy="431.06" r="1.37"/><circle cx="20.14" cy="399.43" r="1.02"/><circle cx="120.55" cy="391.87" r="1.4"/><circle cx="90.36" cy="398.13" r="1.47"/><circle cx="79.46" cy="353.82" r="1.22"/><circle cx="60.11" cy="440.77" r="1.27"/><circle cx="67.68" cy="351.44" r="1.49"/><circle cx="63.22" cy="386.18" r="1.23"/><circle cx="88.87" cy="439.54" r="1.41"/><circle cx="89.44" cy="391.49" r="1.07"/><circle cx="121.09" cy="337.55" r="1"/><circle cx="4.62" cy="378.7" r="1.06"/><circle cx="115.84" cy="340.98" r="1.29"/><circle cx="36.96" cy="375.92" r="0.97"/><circle cx="6.06" cy="416.77" r="1.21"/><circle cx="41.98" cy="384.69" r="1.52"/><circle cx="93.76" cy="350.11" r="1.39"/></g>
<g fill="#b3b1c8"><circle cx="62.61" cy="377.46" r="1.39"/><circle cx="93.35" cy="371.48" r="1.04"/><circle cx="35.23" cy="352.01" r="1.1"/><circle cx="18.98" cy="380.11" r="1.37"/><circle cx="47.99" cy="382.13" r="1.55"/><circle cx="93.08" cy="370.85" r="1"/><circle cx="54.49" cy="390.04" r="1.48"/><circle cx="98.26" cy="367.46" r="1.13"/><circle cx="59.06" cy="385.81" r="1.09"/><circle cx="82.61" cy="358.1" r="1.27"/><circle cx="71.4" cy="423.28" r="1.03"/><circle cx="111" cy="338.67" r="0.94"/><circle cx="109.46" cy="375.42" r="1.03"/><circle cx="121.18" cy="419.15" r="1.37"/><circle cx="13.19" cy="344.44" r="1.32"/><circle cx="124.86" cy="359.55" r="1.01"/><circle cx="132.64" cy="341.99" r="1.17"/><circle cx="74.02" cy="353.62" r="0.98"/><circle cx="71.21" cy="373.23" r="1.45"/><circle cx="102.82" cy="339.71" r="1.35"/><circle cx="114.93" cy="398.09" r="1.25"/><circle cx="60.92" cy="404.3" r="1.04"/><circle cx="99.03" cy="399.96" r="0.94"/><circle cx="47.37" cy="385.54" r="1.01"/><circle cx="20.3" cy="338.47" r="1.16"/><circle cx="63.55" cy="413.94" r="1.26"/><circle cx="131.97" cy="355.6" r="1.08"/><circle cx="13.89" cy="389.23" r="1.48"/><circle cx="58.79" cy="439.26" r="1.58"/><circle cx="91.12" cy="437.67" r="1.23"/><circle cx="73.83" cy="344.36" r="1.16"/><circle cx="15.84" cy="351.01" r="0.92"/><circle cx="95.46" cy="403.35" r="1.32"/><circle cx="82.17" cy="336.96" r="1.13"/><circle cx="11.44" cy="374.39" r="1.44"/><circle cx="64.53" cy="363.16" r="1.35"/><circle cx="90.95" cy="390.49" r="1.25"/><circle cx="49.28" cy="381.1" r="1.23"/><circle cx="80.42" cy="399.85" r="0.92"/><circle cx="2.14" cy="349.04" r="0.96"/><circle cx="35.65" cy="367.21" r="1.2"/><circle cx="94.32" cy="436.11" r="0.93"/><circle cx="118.71" cy="359.56" r="1.58"/><circle cx="47.76" cy="345.04" r="1.48"/><circle cx="23.45" cy="414.45" r="1.52"/><circle cx="119.54" cy="387.58" r="1.3"/><circle cx="130.5" cy="345.53" r="1.32"/><circle cx="95.92" cy="410.8" r="1.19"/><circle cx="133.52" cy="435.06" r="1.44"/><circle cx="23.99" cy="411.79" r="1.21"/><circle cx="8.75" cy="435.26" r="1.43"/><circle cx="13.19" cy="358.41" r="1.24"/><circle cx="11.41" cy="346.98" r="1.3"/><circle cx="131.93" cy="350.52" r="1"/><circle cx="57.85" cy="440.89" r="1.5"/><circle cx="1.82" cy="419.32" r="1.47"/><circle cx="36.13" cy="412.2" r="1.47"/><circle cx="86.4" cy="362.57" r="1.3"/><circle cx="32.79" cy="439.75" r="1.37"/><circle cx="104.97" cy="352.67" r="1.3"/><circle cx="40.7" cy="384.61" r="1.02"/><circle cx="17.34" cy="385.44" r="0.94"/><circle cx="124.57" cy="432.16" r="1.05"/><circle cx="84.65" cy="432.38" r="1.19"/><circle cx="61.62" cy="393.73" r="1.46"/><circle cx="72.44" cy="349" r="0.91"/><circle cx="93.4" cy="385.4" r="1.47"/><circle cx="21.81" cy="340.59" r="1.43"/><circle cx="114.31" cy="424.56" r="1.07"/><circle cx="16.33" cy="432.77" r="1.57"/><circle cx="3.67" cy="401.44" r="1.47"/><circle cx="4.92" cy="384.65" r="1.46"/><circle cx="25.4" cy="371.13" r="0.9"/><circle cx="59.68" cy="408.57" r="0.99"/><circle cx="77.53" cy="399" r="0.91"/><circle cx="5.2" cy="336.75" r="1.47"/><circle cx="37.25" cy="433.26" r="1.24"/><circle cx="1.64" cy="428.24" r="1.4"/><circle cx="29.06" cy="438.04" r="0.92"/><circle cx="15.68" cy="373.84" r="1.33"/><circle cx="43.4" cy="380.92" r="1.2"/><circle cx="43.15" cy="353.59" r="1.45"/><circle cx="32.32" cy="351.31" r="0.91"/><circle cx="93.31" cy="402.51" r="0.96"/><circle cx="56.44" cy="362.85" r="1.21"/><circle cx="9.03" cy="412.64" r="1.39"/><circle cx="29.86" cy="346.74" r="0.97"/><circle cx="102.68" cy="430.73" r="1.56"/><circle cx="55.29" cy="361.16" r="0.96"/><circle cx="34.57" cy="439.46" r="1.41"/><circle cx="20.73" cy="433.96" r="1.48"/><circle cx="39.63" cy="392.44" r="1.05"/><circle cx="51.47" cy="419.47" r="1.46"/><circle cx="4.19" cy="432.34" r="1.22"/><circle cx="94.82" cy="384.86" r="1.4"/><circle cx="97.86" cy="349.51" r="1.28"/><circle cx="10.34" cy="369.96" r="1.16"/><circle cx="18.49" cy="379.2" r="0.91"/><circle cx="65.95" cy="395.14" r="1.08"/><circle cx="29.72" cy="389.21" r="1.02"/><circle cx="136.38" cy="370.78" r="1"/><circle cx="136.49" cy="389.25" r="1.17"/><circle cx="128.09" cy="399.1" r="1.02"/><circle cx="36.74" cy="418.27" r="1.51"/><circle cx="6.86" cy="351.9" r="1.21"/><circle cx="69.6" cy="351.5" r="1"/><circle cx="112.45" cy="386.79" r="1.15"/><circle cx="111.34" cy="356.42" r="1.51"/><circle cx="29.53" cy="365.56" r="1.3"/><circle cx="32.86" cy="414.26" r="1.41"/><circle cx="42.51" cy="366.98" r="1.5"/><circle cx="129.25" cy="383.07" r="0.92"/><circle cx="95.39" cy="362.57" r="1.3"/><circle cx="12.64" cy="343.2" r="1.02"/><circle cx="81.57" cy="379.6" r="1.09"/><circle cx="94.07" cy="412.62" r="1.12"/><circle cx="40.29" cy="350.19" r="1.35"/><circle cx="90.68" cy="351.58" r="1.06"/><circle cx="99.1" cy="409.9" r="1.51"/><circle cx="44.89" cy="392.08" r="1.39"/><circle cx="99.92" cy="410.33" r="1.21"/><circle cx="97.46" cy="343.43" r="1.3"/><circle cx="106.81" cy="368.56" r="0.91"/><circle cx="56.31" cy="421.02" r="1.04"/><circle cx="38.76" cy="435.9" r="1.5"/><circle cx="95.23" cy="351.71" r="1.24"/><circle cx="60.01" cy="429.73" r="1.43"/><circle cx="121.24" cy="344.58" r="1.32"/><circle cx="80.37" cy="397.97" r="1.27"/><circle cx="119.75" cy="360.57" r="1.44"/><circle cx="6.1" cy="406.29" r="1.19"/><circle cx="6.21" cy="399.71" r="1.27"/><circle cx="18.42" cy="405.48" r="1.3"/><circle cx="76.61" cy="424.62" r="1.43"/><circle cx="123.77" cy="359.02" r="1.2"/><circle cx="49.03" cy="346.57" r="0.95"/><circle cx="133.55" cy="340.77" r="1.17"/><circle cx="35.49" cy="358.92" r="1.04"/><circle cx="100.61" cy="426.12" r="1.2"/><circle cx="114.54" cy="413.91" r="0.91"/><circle cx="51.48" cy="422.31" r="1.15"/><circle cx="84.46" cy="340.56" r="1.3"/><circle cx="131.17" cy="390" r="0.91"/><circle cx="118.31" cy="430.64" r="1.17"/><circle cx="68.17" cy="360.99" r="0.99"/><circle cx="118.08" cy="345.81" r="1.48"/><circle cx="63.23" cy="414.72" r="0.95"/><circle cx="68.43" cy="410.06" r="1.21"/><circle cx="62.91" cy="370.03" r="1.51"/><circle cx="83.03" cy="406.04" r="1.23"/><circle cx="85.02" cy="414.18" r="1.6"/><circle cx="90.54" cy="362.6" r="1.09"/><circle cx="123.4" cy="376.92" r="1.57"/><circle cx="94.7" cy="380.49" r="1.02"/><circle cx="5.8" cy="340.32" r="1.47"/><circle cx="73.74" cy="367.7" r="1.52"/><circle cx="76.47" cy="415.55" r="1.15"/><circle cx="12" cy="402.55" r="1.24"/><circle cx="63.25" cy="343.45" r="1.14"/><circle cx="91.43" cy="364.04" r="1.31"/><circle cx="102.88" cy="399.97" r="1.18"/><circle cx="137.08" cy="397.75" r="1.21"/><circle cx="84.82" cy="383.64" r="1.15"/><circle cx="24.01" cy="368.7" r="0.94"/><circle cx="61.16" cy="365.6" r="1.57"/><circle cx="15.14" cy="354.34" r="1.12"/><circle cx="15.21" cy="362.21" r="1.55"/><circle cx="51.19" cy="405.54" r="1.55"/><circle cx="68.51" cy="433.53" r="1.53"/><circle cx="39.28" cy="367.08" r="1"/><circle cx="20.81" cy="418.63" r="1.3"/><circle cx="130.98" cy="347.46" r="0.92"/><circle cx="90.38" cy="420.5" r="1.42"/><circle cx="119.33" cy="424.88" r="1.08"/><circle cx="25.84" cy="438.69" r="1.56"/><circle cx="101.2" cy="367.35" r="1.19"/><circle cx="56.23" cy="372.26" r="1.4"/><circle cx="53.55" cy="395.79" r="1.26"/><circle cx="2.34" cy="366.57" r="0.92"/><circle cx="125.55" cy="385.57" r="1.47"/><circle cx="123.11" cy="389.1" r="0.96"/><circle cx="8.55" cy="426.04" r="1.22"/><circle cx="119.66" cy="385.3" r="1.54"/><circle cx="115.65" cy="345.09" r="1.07"/><circle cx="43.81" cy="416.24" r="1.04"/><circle cx="103.27" cy="342.7" r="1.06"/><circle cx="98.23" cy="419.07" r="1.59"/><circle cx="34.34" cy="426.34" r="1.53"/><circle cx="122.09" cy="439.4" r="1.22"/><circle cx="19.83" cy="396.2" r="1.33"/><circle cx="127.25" cy="361.03" r="1.18"/><circle cx="126.97" cy="431.81" r="1.53"/><circle cx="44.75" cy="373.92" r="1.38"/><circle cx="70.64" cy="409.14" r="1.06"/><circle cx="114.25" cy="404.32" r="1.3"/><circle cx="108.32" cy="339" r="1.59"/><circle cx="75.6" cy="417.5" r="1.35"/><circle cx="51.93" cy="429" r="0.9"/><circle cx="44.08" cy="377.37" r="0.98"/><circle cx="115.25" cy="392.17" r="1.49"/><circle cx="49.04" cy="339.38" r="1.23"/><circle cx="3.7" cy="344.7" r="1.23"/><circle cx="19.8" cy="418.48" r="1.6"/><circle cx="92.71" cy="383.4" r="1.37"/><circle cx="100.51" cy="435.56" r="1.22"/><circle cx="125.72" cy="404.04" r="1.22"/><circle cx="24.31" cy="427.24" r="1"/><circle cx="133.39" cy="419.13" r="1.52"/><circle cx="99.04" cy="371.66" r="1.46"/><circle cx="87.37" cy="382.99" r="1.05"/><circle cx="39.29" cy="440.13" r="1.02"/><circle cx="11.67" cy="428.97" r="1"/><circle cx="92.19" cy="358.94" r="1.17"/><circle cx="55.87" cy="376.18" r="1.15"/><circle cx="138.94" cy="440.61" r="0.99"/><circle cx="43.55" cy="372.89" r="1.33"/><circle cx="33.04" cy="356.45" r="1.02"/><circle cx="95.92" cy="428.67" r="1.49"/><circle cx="72.63" cy="430.32" r="0.93"/><circle cx="32.88" cy="352.35" r="1.41"/><circle cx="84.49" cy="409.84" r="1.05"/><circle cx="18.2" cy="425.24" r="1.15"/><circle cx="25.5" cy="435.56" r="0.93"/><circle cx="7.44" cy="374.01" r="1.46"/><circle cx="33.18" cy="353.85" r="1.47"/><circle cx="55.93" cy="387.49" r="0.94"/><circle cx="82.17" cy="363.93" r="1.2"/><circle cx="51.15" cy="339.54" r="1.2"/><circle cx="71.8" cy="435.3" r="1.29"/><circle cx="139.07" cy="353.38" r="1.36"/></g>
<g fill="#6b70a0"><circle cx="48.45" cy="360.19" r="1.28"/><circle cx="123.6" cy="441.38" r="1"/><circle cx="123.12" cy="342.16" r="1.31"/><circle cx="2.84" cy="343.33" r="1.19"/><circle cx="3.29" cy="421.58" r="1.2"/><circle cx="125.97" cy="429.1" r="0.99"/><circle cx="87.77" cy="430.14" r="1.04"/><circle cx="81.23" cy="409.69" r="1.26"/><circle cx="30.52" cy="428.61" r="1.22"/><circle cx="85.66" cy="395.4" r="1.03"/><circle cx="129.38" cy="431.85" r="0.92"/><circle cx="102.8" cy="393.78" r="1.06"/><circle cx="56.66" cy="371.18" r="1.22"/><circle cx="8.2" cy="362.22" r="1.11"/><circle cx="18.6" cy="362.02" r="1.32"/><circle cx="74.03" cy="439.09" r="1.27"/><circle cx="95.12" cy="421.97" r="1.07"/><circle cx="90.56" cy="342.69" r="0.95"/><circle cx="6.69" cy="365.4" r="1.39"/><circle cx="18.06" cy="388.88" r="1.08"/><circle cx="110.23" cy="348.73" r="1.13"/><circle cx="136.79" cy="343.74" r="1.18"/><circle cx="37.73" cy="343.56" r="1.6"/><circle cx="10.57" cy="337.72" r="1.49"/><circle cx="40.97" cy="353.91" r="1.19"/><circle cx="82.21" cy="341.04" r="1.23"/><circle cx="11.78" cy="366.69" r="1.01"/><circle cx="120.24" cy="371.12" r="0.94"/><circle cx="71.6" cy="371.29" r="1.11"/><circle cx="45.66" cy="348.81" r="1.49"/><circle cx="71.37" cy="344.42" r="0.97"/><circle cx="30.82" cy="380.13" r="1.35"/><circle cx="103.72" cy="372.52" r="1.36"/><circle cx="12.38" cy="434.48" r="1.51"/><circle cx="128.89" cy="397.98" r="1.21"/><circle cx="48.64" cy="424.06" r="0.97"/><circle cx="30.05" cy="338.78" r="1.59"/><circle cx="139.28" cy="350.93" r="1.14"/><circle cx="33.84" cy="402.51" r="1.41"/><circle cx="11.56" cy="343.08" r="1.06"/><circle cx="126.53" cy="387.99" r="1.21"/><circle cx="19.17" cy="436.54" r="1.37"/><circle cx="85.82" cy="375.72" r="0.99"/><circle cx="54.95" cy="386.55" r="1.36"/><circle cx="45.08" cy="433.33" r="1.17"/><circle cx="120.13" cy="423.54" r="1.37"/><circle cx="100.07" cy="415.93" r="1.31"/><circle cx="44.71" cy="361.2" r="1.58"/><circle cx="123.59" cy="394.49" r="1.05"/><circle cx="74.79" cy="355.69" r="1.48"/><circle cx="64.75" cy="356.98" r="1.23"/><circle cx="28.45" cy="361.81" r="1.07"/><circle cx="87.05" cy="355.46" r="0.95"/><circle cx="87.1" cy="369.56" r="1.45"/><circle cx="107.41" cy="363.5" r="1.3"/><circle cx="139.15" cy="366.41" r="1.24"/><circle cx="126.31" cy="435.95" r="1.24"/><circle cx="101.6" cy="400.7" r="1.56"/><circle cx="75.59" cy="435.2" r="1.34"/><circle cx="76.74" cy="371.35" r="1.31"/><circle cx="133.36" cy="374.62" r="1.51"/><circle cx="63.94" cy="416.55" r="1.04"/><circle cx="74.25" cy="340.17" r="1.27"/><circle cx="14.7" cy="383.95" r="1.59"/><circle cx="113.47" cy="357.47" r="1.2"/><circle cx="109.41" cy="372.17" r="0.92"/><circle cx="47.43" cy="338.6" r="1.39"/><circle cx="47.2" cy="416.83" r="1.08"/><circle cx="41.97" cy="402.81" r="1.3"/><circle cx="63.44" cy="408" r="1.1"/><circle cx="55.97" cy="346.32" r="1.01"/><circle cx="121.32" cy="349.02" r="1.39"/><circle cx="109.62" cy="409.78" r="1.14"/><circle cx="100.31" cy="337.09" r="1.32"/><circle cx="83.36" cy="415.32" r="1.13"/><circle cx="22.15" cy="348.86" r="1.29"/><circle cx="51.67" cy="429.37" r="1.06"/><circle cx="29.92" cy="406.7" r="1.25"/><circle cx="116.63" cy="343.01" r="1.39"/><circle cx="27.74" cy="364.71" r="1.18"/><circle cx="93.87" cy="350.37" r="0.93"/><circle cx="75.82" cy="364.11" r="1.42"/><circle cx="62.04" cy="434.13" r="1.57"/><circle cx="17.05" cy="430.38" r="1.35"/><circle cx="88.46" cy="437.37" r="0.98"/><circle cx="116.21" cy="359.06" r="0.95"/><circle cx="9.53" cy="353.32" r="1.22"/><circle cx="35.72" cy="385.89" r="1.34"/><circle cx="58.64" cy="355.52" r="1.05"/><circle cx="38.26" cy="386.46" r="0.94"/><circle cx="72.64" cy="369.29" r="0.94"/><circle cx="132.03" cy="356.13" r="1.45"/><circle cx="12.47" cy="391.53" r="0.98"/><circle cx="99.58" cy="390.93" r="0.94"/><circle cx="79.26" cy="439.46" r="1.58"/><circle cx="41.58" cy="389.47" r="1.16"/><circle cx="110.94" cy="419.23" r="1.34"/><circle cx="65.29" cy="408.84" r="1.2"/><circle cx="122.26" cy="361.6" r="1.22"/><circle cx="138.5" cy="337.39" r="1.54"/><circle cx="61.59" cy="339.36" r="1.49"/><circle cx="6.37" cy="431.95" r="1.11"/><circle cx="62.63" cy="370.26" r="1.16"/><circle cx="98.05" cy="345.75" r="1.26"/><circle cx="64.02" cy="402.09" r="1.4"/><circle cx="64.3" cy="375.04" r="0.95"/><circle cx="86.83" cy="364.66" r="1.57"/><circle cx="135.13" cy="386.3" r="1.31"/><circle cx="137.49" cy="375.58" r="1.4"/><circle cx="87.24" cy="405.78" r="1.28"/><circle cx="19.88" cy="393.13" r="1.47"/><circle cx="47.16" cy="401.74" r="1.37"/><circle cx="113.29" cy="350.48" r="1.55"/><circle cx="122.31" cy="435.73" r="1.09"/><circle cx="114.33" cy="416.35" r="1.5"/><circle cx="25.94" cy="422.02" r="1.34"/><circle cx="41.11" cy="437.58" r="1.48"/><circle cx="30.08" cy="356.55" r="1.47"/><circle cx="18.59" cy="370.37" r="1.32"/><circle cx="39.68" cy="401.64" r="1.05"/><circle cx="65.2" cy="370.5" r="1.54"/><circle cx="39.67" cy="346.36" r="1.38"/><circle cx="32.68" cy="425.8" r="1.46"/><circle cx="31.03" cy="409.56" r="1.39"/><circle cx="106.85" cy="342.63" r="1.42"/><circle cx="9.33" cy="383.02" r="1.39"/><circle cx="39.79" cy="394.6" r="1.2"/><circle cx="122.48" cy="369.99" r="1.01"/><circle cx="27.31" cy="337.27" r="1.23"/><circle cx="9.47" cy="431.58" r="1.16"/><circle cx="57.25" cy="413.96" r="0.95"/><circle cx="126.32" cy="383.13" r="1.16"/><circle cx="5.96" cy="347.18" r="1.11"/><circle cx="47.25" cy="422.38" r="1.16"/><circle cx="10.45" cy="371.3" r="1.56"/><circle cx="112.75" cy="384.61" r="0.92"/><circle cx="14.11" cy="380.11" r="0.98"/><circle cx="132.37" cy="363.53" r="1.51"/><circle cx="14.36" cy="388.1" r="1.25"/><circle cx="20.69" cy="392.27" r="1.5"/><circle cx="75.55" cy="344.61" r="1.48"/><circle cx="116.69" cy="391.79" r="0.93"/><circle cx="6.33" cy="343.21" r="1.42"/><circle cx="74.28" cy="385.79" r="1.17"/><circle cx="82.28" cy="415.62" r="1.17"/><circle cx="52.03" cy="367.73" r="1.16"/><circle cx="98.44" cy="400.94" r="0.97"/><circle cx="120.68" cy="378.13" r="1.48"/><circle cx="42.5" cy="439.34" r="1.49"/><circle cx="46.66" cy="391.49" r="1.42"/><circle cx="27.75" cy="405.43" r="0.95"/><circle cx="114.09" cy="356.1" r="1.41"/><circle cx="98.36" cy="345.72" r="1.03"/><circle cx="89.77" cy="352.39" r="1.08"/><circle cx="101.84" cy="387.81" r="1.13"/><circle cx="7.34" cy="416.55" r="1.42"/><circle cx="47.07" cy="398.54" r="1.47"/><circle cx="107.52" cy="417.37" r="1.22"/><circle cx="86.28" cy="370.07" r="0.96"/><circle cx="26.77" cy="415.57" r="0.92"/><circle cx="21.44" cy="412.8" r="1.15"/><circle cx="125.81" cy="440.66" r="1.41"/><circle cx="27.65" cy="420.49" r="0.93"/><circle cx="132.81" cy="392.22" r="1.51"/><circle cx="26.24" cy="424.68" r="1.45"/><circle cx="82.77" cy="341.68" r="1.17"/><circle cx="93.04" cy="343.35" r="1.35"/><circle cx="78.71" cy="337.77" r="1.1"/><circle cx="135.2" cy="350.23" r="1.27"/><circle cx="104.77" cy="343.55" r="1.33"/><circle cx="137.9" cy="407.85" r="1.05"/><circle cx="115.01" cy="369.17" r="1.34"/><circle cx="96.76" cy="412.96" r="1.32"/><circle cx="50.88" cy="340.22" r="1.25"/><circle cx="118.68" cy="410.19" r="1.56"/><circle cx="37.67" cy="404.98" r="1.11"/><circle cx="137.24" cy="362.27" r="1.04"/><circle cx="42.39" cy="366.9" r="1.07"/><circle cx="95.03" cy="439.5" r="1.52"/><circle cx="32.95" cy="393.02" r="0.97"/><circle cx="27.58" cy="429.6" r="1.59"/><circle cx="27.06" cy="342.79" r="1.05"/><circle cx="117.27" cy="409.71" r="1.18"/><circle cx="45.67" cy="419.76" r="1.54"/><circle cx="80.87" cy="366.2" r="1.54"/><circle cx="56.48" cy="400.69" r="1.34"/><circle cx="92.3" cy="427.89" r="1.22"/><circle cx="96.93" cy="399.21" r="0.9"/><circle cx="52.96" cy="358.05" r="0.98"/><circle cx="33.24" cy="433.39" r="1.09"/><circle cx="75.96" cy="432.6" r="1.45"/><circle cx="130.26" cy="412.85" r="1.43"/><circle cx="23.62" cy="428.13" r="1.05"/><circle cx="40.32" cy="384.6" r="1.1"/><circle cx="108.55" cy="406.83" r="0.93"/><circle cx="135.43" cy="438.37" r="1.43"/><circle cx="84.55" cy="390.07" r="1.48"/><circle cx="73.96" cy="401.16" r="1.21"/><circle cx="8.79" cy="352.74" r="1.14"/><circle cx="92.23" cy="425.71" r="1.13"/><circle cx="125.1" cy="355.02" r="1.37"/><circle cx="119.92" cy="424.4" r="1.18"/><circle cx="29.11" cy="408.89" r="1.2"/><circle cx="80.07" cy="374.85" r="0.91"/><circle cx="116.36" cy="432.73" r="1.06"/><circle cx="70.51" cy="415.18" r="1.24"/><circle cx="118.32" cy="437.9" r="1.05"/><circle cx="117.15" cy="353.64" r="1.52"/><circle cx="19.57" cy="384.76" r="1.04"/><circle cx="63.57" cy="355.76" r="1.12"/><circle cx="4.9" cy="405.65" r="1.41"/></g>
<g fill="#c9c2cc"><circle cx="4.92" cy="424.91" r="0.98"/><circle cx="135.38" cy="374.54" r="0.77"/><circle cx="136.29" cy="405.94" r="0.7"/><circle cx="133.36" cy="401.69" r="0.77"/><circle cx="120.86" cy="391.88" r="0.74"/><circle cx="125.4" cy="347.21" r="0.7"/><circle cx="128.71" cy="341.73" r="0.63"/><circle cx="131.03" cy="412.09" r="0.5"/><circle cx="132.29" cy="427.16" r="0.52"/><circle cx="129.73" cy="393.04" r="0.66"/><circle cx="27.2" cy="393.04" r="0.97"/><circle cx="30.44" cy="337.32" r="0.57"/><circle cx="138.64" cy="379.7" r="0.61"/><circle cx="111.32" cy="356.83" r="0.96"/><circle cx="107.62" cy="368.52" r="0.62"/><circle cx="116.69" cy="351.32" r="0.99"/><circle cx="18.23" cy="356.26" r="0.53"/><circle cx="18.49" cy="427.84" r="0.56"/><circle cx="32.85" cy="359.85" r="0.56"/><circle cx="66.77" cy="430.11" r="0.86"/><circle cx="11.66" cy="391.13" r="0.84"/><circle cx="91.88" cy="407.76" r="1"/><circle cx="101.78" cy="426.8" r="0.74"/><circle cx="90.84" cy="437.65" r="0.81"/><circle cx="111.67" cy="408.61" r="0.74"/><circle cx="6.67" cy="386.48" r="0.62"/><circle cx="122.95" cy="392.62" r="0.61"/><circle cx="8.19" cy="336.73" r="0.6"/><circle cx="100.23" cy="336.95" r="0.56"/><circle cx="48.69" cy="416.76" r="0.71"/><circle cx="52.78" cy="373.22" r="0.59"/><circle cx="79.28" cy="411.38" r="0.64"/><circle cx="64.23" cy="348.6" r="0.64"/><circle cx="136.51" cy="402.48" r="0.76"/><circle cx="31.52" cy="355.55" r="0.66"/><circle cx="20.42" cy="440.11" r="0.5"/><circle cx="103.64" cy="400.16" r="0.85"/><circle cx="54.59" cy="422.58" r="0.74"/><circle cx="44.38" cy="381.67" r="0.82"/><circle cx="94.23" cy="363.8" r="0.9"/><circle cx="134.05" cy="429.65" r="0.65"/><circle cx="97" cy="439.2" r="0.67"/><circle cx="20.99" cy="341.25" r="0.74"/><circle cx="104.02" cy="417.28" r="0.51"/><circle cx="69.93" cy="372.63" r="0.81"/><circle cx="50.46" cy="432.76" r="0.53"/><circle cx="41.85" cy="370.44" r="0.67"/><circle cx="113.51" cy="357.93" r="0.84"/><circle cx="23.65" cy="352.62" r="0.99"/><circle cx="14.76" cy="431.62" r="0.96"/><circle cx="99.22" cy="391.06" r="0.7"/><circle cx="136.83" cy="390.29" r="0.86"/><circle cx="37.21" cy="372.15" r="0.59"/><circle cx="68.34" cy="437.76" r="0.9"/><circle cx="23.99" cy="421.4" r="0.92"/><circle cx="57.01" cy="354.19" r="0.51"/><circle cx="99.25" cy="427.05" r="0.8"/><circle cx="28.84" cy="436.73" r="0.9"/><circle cx="98.21" cy="353.65" r="0.86"/><circle cx="19.96" cy="372.01" r="0.76"/><circle cx="31.83" cy="395.97" r="0.51"/><circle cx="68.09" cy="405.12" r="0.66"/><circle cx="31.11" cy="438.38" r="0.6"/><circle cx="49.65" cy="380.44" r="0.68"/><circle cx="93.53" cy="418.05" r="0.78"/><circle cx="42.56" cy="388.8" r="0.76"/><circle cx="27.55" cy="365.96" r="0.79"/><circle cx="82.9" cy="418.7" r="0.79"/><circle cx="62.48" cy="436.73" r="0.74"/><circle cx="91.2" cy="433.26" r="0.99"/><circle cx="59.26" cy="343.31" r="0.54"/><circle cx="46.93" cy="355.99" r="0.86"/><circle cx="11.69" cy="438.6" r="0.86"/><circle cx="64.96" cy="366.81" r="0.55"/><circle cx="133.46" cy="371.28" r="0.85"/><circle cx="3.57" cy="396.36" r="0.53"/><circle cx="70.48" cy="400.15" r="0.95"/><circle cx="17.65" cy="408.35" r="0.62"/><circle cx="134.16" cy="366.18" r="0.98"/><circle cx="84.99" cy="378.55" r="0.99"/><circle cx="86.76" cy="437.31" r="0.7"/><circle cx="35.77" cy="375.69" r="0.62"/><circle cx="80.6" cy="426.93" r="0.68"/><circle cx="108.66" cy="379.12" r="0.86"/><circle cx="111.53" cy="367.65" r="0.95"/><circle cx="119.35" cy="385.08" r="0.53"/><circle cx="31.3" cy="367.75" r="0.84"/><circle cx="48.45" cy="421.68" r="0.98"/><circle cx="111.11" cy="375.36" r="0.75"/><circle cx="26.5" cy="433.54" r="0.72"/><circle cx="108.46" cy="369.18" r="0.64"/></g>
<g fill="#d6d0d4"><circle cx="29.11" cy="414.8" r="0.71"/><circle cx="58" cy="432.23" r="0.66"/><circle cx="60.77" cy="398.76" r="0.74"/><circle cx="132.21" cy="350.8" r="0.71"/><circle cx="8.68" cy="392.47" r="0.59"/><circle cx="121.01" cy="390.65" r="0.95"/><circle cx="125.5" cy="411.44" r="0.64"/><circle cx="25.9" cy="366.66" r="0.75"/><circle cx="15.31" cy="341.21" r="0.62"/><circle cx="84.29" cy="374.43" r="0.86"/><circle cx="23.01" cy="411.64" r="0.56"/><circle cx="20.81" cy="345.48" r="0.64"/><circle cx="121.55" cy="339.82" r="0.71"/><circle cx="108.32" cy="342.15" r="0.86"/><circle cx="52.81" cy="370.32" r="0.88"/><circle cx="116.51" cy="396.78" r="0.77"/><circle cx="91.65" cy="412.96" r="0.51"/><circle cx="52.05" cy="368.69" r="0.59"/><circle cx="6.75" cy="361.08" r="0.76"/><circle cx="45.47" cy="385.93" r="0.78"/><circle cx="65.58" cy="352.13" r="0.84"/><circle cx="136.83" cy="361.62" r="0.97"/><circle cx="9.01" cy="361.25" r="0.92"/><circle cx="60.63" cy="368.26" r="0.94"/><circle cx="39.01" cy="367.07" r="0.77"/><circle cx="106.11" cy="342.55" r="0.51"/><circle cx="83.24" cy="426.73" r="0.62"/><circle cx="81.72" cy="415.81" r="0.89"/><circle cx="135.71" cy="388.05" r="0.68"/><circle cx="88.65" cy="403.45" r="0.64"/><circle cx="19.05" cy="376.7" r="0.87"/><circle cx="138.19" cy="407.16" r="0.58"/><circle cx="39.23" cy="385.75" r="0.66"/><circle cx="132.9" cy="377.08" r="0.81"/><circle cx="131.52" cy="406.7" r="0.98"/><circle cx="118.03" cy="409.89" r="0.55"/><circle cx="80.12" cy="435.19" r="0.98"/><circle cx="81.25" cy="361.16" r="0.86"/><circle cx="29.34" cy="421.42" r="0.66"/><circle cx="100.32" cy="357.89" r="0.62"/><circle cx="56.97" cy="438.97" r="0.85"/><circle cx="124.47" cy="346.38" r="0.93"/><circle cx="99.75" cy="400.32" r="0.81"/><circle cx="53.44" cy="413.14" r="0.84"/><circle cx="11.82" cy="413.6" r="0.81"/><circle cx="90.01" cy="393.72" r="0.65"/><circle cx="45.7" cy="347.47" r="0.84"/><circle cx="83.07" cy="344.24" r="0.91"/><circle cx="102.9" cy="416.87" r="0.78"/><circle cx="80.72" cy="420.02" r="0.85"/><circle cx="2.76" cy="372.91" r="0.72"/><circle cx="11.5" cy="367.46" r="0.61"/><circle cx="65.12" cy="348.28" r="0.86"/><circle cx="132.77" cy="421.4" r="0.96"/><circle cx="3.56" cy="360.42" r="0.51"/><circle cx="29.28" cy="403.43" r="0.79"/><circle cx="55.96" cy="376.83" r="0.67"/><circle cx="102.89" cy="370.71" r="0.81"/><circle cx="29.61" cy="417.66" r="0.64"/><circle cx="124.11" cy="372.98" r="0.66"/><circle cx="59.28" cy="426.44" r="0.76"/><circle cx="8.9" cy="403.12" r="0.69"/><circle cx="105.28" cy="403.67" r="0.75"/><circle cx="75.82" cy="414.15" r="0.66"/><circle cx="12.48" cy="337.51" r="0.65"/><circle cx="68.81" cy="361.98" r="0.67"/><circle cx="111.39" cy="338.84" r="0.86"/><circle cx="128.29" cy="373.48" r="0.86"/><circle cx="61.24" cy="346.53" r="0.96"/><circle cx="65.06" cy="355.13" r="0.75"/><circle cx="3.19" cy="347.34" r="0.83"/><circle cx="37.71" cy="383.34" r="0.64"/><circle cx="133.84" cy="369.51" r="0.79"/><circle cx="72.91" cy="355.63" r="0.88"/><circle cx="8.7" cy="384.94" r="0.78"/><circle cx="30.83" cy="432.18" r="0.81"/><circle cx="110.2" cy="392.79" r="0.96"/><circle cx="62.33" cy="390.97" r="0.76"/><circle cx="11.64" cy="409.18" r="0.51"/><circle cx="50.21" cy="437.92" r="0.55"/><circle cx="5.9" cy="339.31" r="0.8"/><circle cx="125.91" cy="440.27" r="0.84"/><circle cx="89.34" cy="393.67" r="0.51"/><circle cx="30.88" cy="414.67" r="0.8"/><circle cx="135.84" cy="401.58" r="0.66"/><circle cx="41.64" cy="348.55" r="0.68"/><circle cx="17.79" cy="391.36" r="0.86"/><circle cx="90.58" cy="377.39" r="0.86"/><circle cx="121.06" cy="399.45" r="0.77"/><circle cx="112.3" cy="340.69" r="0.82"/><circle cx="6.84" cy="401.54" r="0.72"/><circle cx="114.53" cy="406.56" r="0.95"/><circle cx="95.9" cy="395.68" r="0.6"/><circle cx="58.31" cy="408.69" r="0.82"/><circle cx="70.82" cy="352.11" r="0.86"/><circle cx="62.5" cy="350.19" r="0.79"/><circle cx="61.76" cy="350.27" r="0.93"/><circle cx="2.27" cy="390.38" r="0.66"/><circle cx="108.14" cy="387" r="0.73"/><circle cx="107.93" cy="363.19" r="0.92"/><circle cx="52.62" cy="432.99" r="0.97"/><circle cx="94.12" cy="395.26" r="0.55"/><circle cx="2.17" cy="388.96" r="0.8"/><circle cx="46.49" cy="353.2" r="0.87"/><circle cx="100.38" cy="423.32" r="0.94"/></g>
<g fill="#d8c8c0"><circle cx="62.88" cy="430.5" r="0.69"/><circle cx="116.35" cy="339.99" r="0.96"/><circle cx="21.28" cy="340.22" r="0.86"/><circle cx="24.3" cy="393.54" r="0.96"/><circle cx="105.81" cy="410.28" r="0.79"/><circle cx="78.35" cy="367.19" r="0.96"/><circle cx="102.18" cy="404.78" r="0.85"/><circle cx="67.25" cy="421.5" r="0.89"/><circle cx="132.6" cy="416.25" r="0.83"/><circle cx="5.72" cy="394.15" r="0.73"/><circle cx="114.2" cy="360.48" r="0.99"/><circle cx="44.08" cy="364.06" r="0.67"/><circle cx="120.01" cy="364.04" r="0.51"/><circle cx="43.86" cy="381.88" r="0.75"/><circle cx="110.42" cy="362.18" r="0.91"/><circle cx="44.54" cy="420.18" r="0.62"/><circle cx="66.92" cy="377.2" r="0.59"/><circle cx="68.33" cy="400.59" r="0.75"/><circle cx="118.07" cy="345.1" r="0.68"/><circle cx="78.76" cy="391.82" r="0.95"/><circle cx="7.07" cy="402.11" r="0.91"/><circle cx="10.33" cy="384.61" r="0.79"/><circle cx="12.06" cy="384.51" r="0.93"/><circle cx="117.46" cy="366.05" r="0.91"/><circle cx="87.26" cy="379.23" r="0.8"/><circle cx="127.36" cy="420.87" r="0.64"/><circle cx="80.68" cy="405.15" r="0.59"/><circle cx="134.53" cy="431.18" r="0.94"/><circle cx="94.74" cy="427.09" r="0.66"/><circle cx="100.5" cy="397.56" r="0.92"/><circle cx="84.4" cy="384.2" r="0.57"/><circle cx="52.49" cy="424.81" r="0.76"/><circle cx="120.71" cy="358.86" r="0.91"/><circle cx="74.08" cy="373.91" r="0.85"/><circle cx="75.18" cy="365.04" r="0.84"/><circle cx="24.91" cy="439.29" r="0.63"/><circle cx="100.56" cy="432.06" r="1"/><circle cx="134.86" cy="337.65" r="0.62"/><circle cx="50.58" cy="343.15" r="0.9"/><circle cx="64.62" cy="396.29" r="0.96"/><circle cx="4.46" cy="383.35" r="0.96"/><circle cx="60.14" cy="346.42" r="0.95"/><circle cx="63.71" cy="362.53" r="0.65"/><circle cx="108.06" cy="412.13" r="0.91"/><circle cx="109.51" cy="424.21" r="0.67"/><circle cx="3.38" cy="392.66" r="0.83"/><circle cx="83.14" cy="389.46" r="0.57"/><circle cx="72.05" cy="426.17" r="0.95"/><circle cx="100.17" cy="439.27" r="0.66"/><circle cx="84.49" cy="436.48" r="0.74"/><circle cx="2.82" cy="397.8" r="0.59"/><circle cx="42.58" cy="385.07" r="0.7"/><circle cx="24.41" cy="435.38" r="0.77"/><circle cx="85.62" cy="397.32" r="0.77"/><circle cx="16.3" cy="433.55" r="0.71"/><circle cx="8.95" cy="346.07" r="0.91"/><circle cx="14.69" cy="430.08" r="0.56"/><circle cx="60.85" cy="377.96" r="0.55"/><circle cx="126.68" cy="438.9" r="0.68"/><circle cx="47.79" cy="401" r="0.5"/><circle cx="93.86" cy="342.45" r="0.77"/><circle cx="62.82" cy="401.86" r="0.68"/><circle cx="90.93" cy="385.36" r="0.51"/><circle cx="6.4" cy="358.76" r="0.86"/><circle cx="23.51" cy="368.29" r="0.56"/><circle cx="2.31" cy="403.15" r="0.62"/><circle cx="95.28" cy="382.64" r="0.62"/><circle cx="26.43" cy="340.87" r="0.54"/><circle cx="53.38" cy="336.82" r="0.73"/><circle cx="93.03" cy="427.01" r="0.68"/><circle cx="72.14" cy="370.53" r="0.67"/><circle cx="116.52" cy="409.44" r="0.8"/><circle cx="68.87" cy="359.44" r="0.79"/><circle cx="91.21" cy="389.9" r="0.71"/><circle cx="97.95" cy="358.57" r="0.88"/><circle cx="21.02" cy="401.52" r="0.75"/><circle cx="48.6" cy="384.12" r="0.89"/><circle cx="27.3" cy="400.43" r="0.79"/><circle cx="88.01" cy="404.59" r="0.75"/><circle cx="68.81" cy="351.21" r="0.53"/><circle cx="113.3" cy="363.67" r="0.77"/><circle cx="49.42" cy="358.24" r="0.99"/><circle cx="92.32" cy="427.07" r="0.64"/><circle cx="93.13" cy="394.28" r="0.71"/><circle cx="116.48" cy="382.2" r="0.8"/><circle cx="39.67" cy="352.12" r="0.87"/><circle cx="64.85" cy="432.43" r="0.96"/><circle cx="118.59" cy="376.83" r="0.99"/><circle cx="88.95" cy="342.68" r="0.76"/><circle cx="84.65" cy="350.66" r="0.62"/><circle cx="3.95" cy="387.1" r="0.67"/><circle cx="108.07" cy="439.7" r="0.97"/><circle cx="126.25" cy="352.02" r="0.82"/><circle cx="2.79" cy="413.66" r="1"/><circle cx="110.88" cy="431.31" r="0.62"/><circle cx="93.96" cy="371.62" r="0.73"/><circle cx="6.48" cy="439.45" r="0.92"/><circle cx="14.3" cy="336.94" r="0.96"/><circle cx="101.25" cy="375.13" r="0.58"/><circle cx="55.24" cy="440.33" r="0.98"/><circle cx="67.59" cy="399.8" r="0.99"/><circle cx="52.51" cy="436.35" r="0.77"/><circle cx="106.49" cy="384.76" r="0.86"/><circle cx="49.86" cy="380.21" r="0.52"/></g>
<g fill="#b87848" opacity="0.6"><circle cx="39.78" cy="375.69" r="2.69"/><circle cx="38.02" cy="374.6" r="2.73"/><circle cx="39.96" cy="374.52" r="3.08"/><circle cx="65.69" cy="374.63" r="2.13"/><circle cx="64.08" cy="376.35" r="1.84"/><circle cx="63.97" cy="374.59" r="2.81"/><circle cx="70.18" cy="346.38" r="2.41"/><circle cx="70.7" cy="347.69" r="2.69"/><circle cx="69.2" cy="347.28" r="2.86"/><circle cx="94.34" cy="381.54" r="3.07"/><circle cx="94.73" cy="382.61" r="2.9"/><circle cx="94.42" cy="382.53" r="2.79"/><circle cx="53.28" cy="401.32" r="1.78"/><circle cx="54.55" cy="402.41" r="1.7"/><circle cx="53.53" cy="401.32" r="1.7"/><circle cx="16.77" cy="395.5" r="1.68"/><circle cx="16.49" cy="395.13" r="1.67"/><circle cx="15.92" cy="395.7" r="1.41"/><circle cx="20.87" cy="403.72" r="1.56"/><circle cx="20.7" cy="402.61" r="1.68"/><circle cx="20.5" cy="402.18" r="1.69"/><circle cx="24.56" cy="410.86" r="1.47"/><circle cx="23.64" cy="410.49" r="1.83"/><circle cx="24.48" cy="410.7" r="1.92"/><circle cx="32.16" cy="353.31" r="1.38"/><circle cx="33.11" cy="353.01" r="1.2"/><circle cx="33.14" cy="353.75" r="1.14"/><circle cx="97.02" cy="362.58" r="1.17"/><circle cx="97.22" cy="362.62" r="1.37"/><circle cx="97.64" cy="362.01" r="1.37"/><circle cx="119.08" cy="349.77" r="1.24"/><circle cx="120.75" cy="349.23" r="0.92"/><circle cx="120.98" cy="350.58" r="0.99"/><circle cx="82.98" cy="417.16" r="1.51"/><circle cx="81.41" cy="418.14" r="1.06"/><circle cx="81.46" cy="417.55" r="1.29"/><circle cx="110.28" cy="420.34" r="1.06"/><circle cx="110.29" cy="419.44" r="1.02"/><circle cx="110.97" cy="419.35" r="1.28"/><circle cx="126.49" cy="395.95" r="1.28"/><circle cx="127.84" cy="394.98" r="1.29"/><circle cx="126.49" cy="394.32" r="1.61"/><circle cx="45.4" cy="418.75" r="1.36"/><circle cx="45.86" cy="417.02" r="1.3"/><circle cx="46.57" cy="417.55" r="1.42"/><circle cx="58.39" cy="360.41" r="1.29"/><circle cx="57.71" cy="359.03" r="1.16"/><circle cx="58.83" cy="360.43" r="1.19"/><circle cx="12.99" cy="355.54" r="0.98"/><circle cx="11.01" cy="355.15" r="1.02"/><circle cx="11.97" cy="354.3" r="0.97"/><circle cx="103.35" cy="400.13" r="0.91"/><circle cx="104.43" cy="400.25" r="1.27"/><circle cx="104.49" cy="399.83" r="1.3"/><circle cx="129.85" cy="429.1" r="1.17"/><circle cx="129.26" cy="429.77" r="1.21"/><circle cx="130.96" cy="430.09" r="1.05"/><circle cx="88.78" cy="431.42" r="0.99"/><circle cx="87.62" cy="431.01" r="1.4"/><circle cx="88.34" cy="431.57" r="1.1"/><circle cx="75.32" cy="429.86" r="1.07"/><circle cx="76.98" cy="430.16" r="1.19"/><circle cx="75.99" cy="429.08" r="1.42"/><circle cx="28.81" cy="390.62" r="1.19"/><circle cx="28.47" cy="389.68" r="1.04"/><circle cx="28.41" cy="390.6" r="1.44"/><circle cx="112.51" cy="371.4" r="0.96"/><circle cx="112.44" cy="371.48" r="1.24"/><circle cx="111.39" cy="372.04" r="1.14"/><circle cx="8.68" cy="386.08" r="0.89"/><circle cx="7.7" cy="385.81" r="1.1"/><circle cx="7.85" cy="386.44" r="1.39"/></g>
<g fill="#7c3520" opacity="0.85"><circle cx="38.59" cy="373.94" r="1.28"/><circle cx="37.22" cy="373.85" r="0.93"/><circle cx="38.32" cy="377" r="1.05"/><circle cx="40.2" cy="377.56" r="1.39"/><circle cx="40.93" cy="375.43" r="1.4"/><circle cx="64.56" cy="375.72" r="1.03"/><circle cx="64.9" cy="375.03" r="1.1"/><circle cx="65.5" cy="376.91" r="1.3"/><circle cx="64.04" cy="374.62" r="0.88"/><circle cx="66.19" cy="374.38" r="1.19"/><circle cx="69.29" cy="346.08" r="1.29"/><circle cx="70.92" cy="348.18" r="1.04"/><circle cx="70.78" cy="345.69" r="0.85"/><circle cx="69.24" cy="347.01" r="1.07"/><circle cx="69.98" cy="346.69" r="0.81"/><circle cx="93.61" cy="382.68" r="1.08"/><circle cx="93.46" cy="381.97" r="1.36"/><circle cx="93.97" cy="383.24" r="1.16"/><circle cx="95.03" cy="382.44" r="0.95"/><circle cx="93.11" cy="380.63" r="0.99"/><circle cx="52.88" cy="403.19" r="0.78"/><circle cx="54.66" cy="403.49" r="0.78"/><circle cx="55.49" cy="403.2" r="1.14"/><circle cx="54.02" cy="401.2" r="0.96"/><circle cx="55.37" cy="400.55" r="1.1"/><circle cx="15.83" cy="395.33" r="0.7"/><circle cx="15.49" cy="394.76" r="0.67"/><circle cx="16.96" cy="396.19" r="0.83"/><circle cx="16.79" cy="394.5" r="0.73"/><circle cx="15.34" cy="396.2" r="0.89"/><circle cx="20.02" cy="402.96" r="0.96"/><circle cx="18.72" cy="404.03" r="0.65"/><circle cx="21.3" cy="402" r="0.78"/><circle cx="20.45" cy="403.51" r="0.8"/><circle cx="20.79" cy="402.6" r="0.87"/><circle cx="24.72" cy="409.55" r="0.7"/><circle cx="24.71" cy="410.61" r="0.75"/><circle cx="22.92" cy="409.34" r="0.61"/><circle cx="24.67" cy="409.77" r="0.61"/><circle cx="24.27" cy="410.31" r="0.89"/><circle cx="32.32" cy="354.11" r="0.62"/><circle cx="33.21" cy="354.45" r="0.57"/><circle cx="32.81" cy="353.7" r="0.75"/><circle cx="32.12" cy="354.87" r="0.74"/><circle cx="33.01" cy="352.98" r="0.49"/><circle cx="97.02" cy="360.97" r="0.69"/><circle cx="98.86" cy="362.38" r="0.47"/><circle cx="98.96" cy="361.93" r="0.78"/><circle cx="98.35" cy="362.79" r="0.52"/><circle cx="97.58" cy="361.8" r="0.53"/><circle cx="119.34" cy="350.78" r="0.45"/><circle cx="120.72" cy="349.28" r="0.43"/><circle cx="119.78" cy="349.99" r="0.48"/><circle cx="119.53" cy="350.23" r="0.57"/><circle cx="119.14" cy="350.16" r="0.45"/><circle cx="81.84" cy="417.33" r="0.44"/><circle cx="81.58" cy="418.69" r="0.62"/><circle cx="81.99" cy="418.49" r="0.71"/><circle cx="82.78" cy="417.88" r="0.58"/><circle cx="81.1" cy="418.13" r="0.52"/><circle cx="109.66" cy="419.71" r="0.63"/><circle cx="109.28" cy="420.69" r="0.58"/><circle cx="110.27" cy="419.68" r="0.55"/><circle cx="109.14" cy="419.12" r="0.41"/><circle cx="110.22" cy="419.77" r="0.44"/><circle cx="127.77" cy="394" r="0.72"/><circle cx="127.08" cy="394.77" r="0.57"/><circle cx="127.65" cy="394.45" r="0.49"/><circle cx="127.21" cy="395.11" r="0.53"/><circle cx="127.99" cy="395" r="0.54"/><circle cx="45.52" cy="418.13" r="0.5"/><circle cx="45.3" cy="417.47" r="0.6"/><circle cx="45.49" cy="417.37" r="0.63"/><circle cx="45.45" cy="417.23" r="0.62"/><circle cx="45.19" cy="417.55" r="0.4"/><circle cx="58.21" cy="360.7" r="0.54"/><circle cx="57.18" cy="360.31" r="0.59"/><circle cx="57.5" cy="359.76" r="0.56"/><circle cx="57.85" cy="359.21" r="0.49"/><circle cx="57.97" cy="359.6" r="0.59"/><circle cx="11.96" cy="355.26" r="0.45"/><circle cx="12.58" cy="355.13" r="0.49"/><circle cx="11.28" cy="355.28" r="0.55"/><circle cx="11.29" cy="355.15" r="0.4"/><circle cx="12.59" cy="354.46" r="0.39"/><circle cx="104.33" cy="400.44" r="0.53"/><circle cx="104.27" cy="400.45" r="0.42"/><circle cx="104.07" cy="400.14" r="0.61"/><circle cx="103.87" cy="400.84" r="0.41"/><circle cx="103.84" cy="399.22" r="0.5"/><circle cx="129.45" cy="429.17" r="0.62"/><circle cx="129.4" cy="430.76" r="0.73"/><circle cx="129.85" cy="429.29" r="0.49"/><circle cx="129.9" cy="429.9" r="0.48"/><circle cx="129.09" cy="429.49" r="0.52"/><circle cx="88.42" cy="431.97" r="0.52"/><circle cx="87.61" cy="431.9" r="0.49"/><circle cx="87.67" cy="432.28" r="0.45"/><circle cx="88.67" cy="431.98" r="0.41"/><circle cx="88.18" cy="431.66" r="0.59"/><circle cx="75.19" cy="430.38" r="0.52"/><circle cx="75.47" cy="429.67" r="0.67"/><circle cx="76.48" cy="430.21" r="0.43"/><circle cx="76.31" cy="430.91" r="0.69"/><circle cx="75.56" cy="430.78" r="0.55"/><circle cx="28.93" cy="390.17" r="0.65"/><circle cx="27.57" cy="390.16" r="0.57"/><circle cx="27.63" cy="390.32" r="0.71"/><circle cx="28.4" cy="389.25" r="0.48"/><circle cx="27.07" cy="389.8" r="0.67"/><circle cx="111.6" cy="371.72" r="0.58"/><circle cx="111.8" cy="371.9" r="0.59"/><circle cx="112.77" cy="372.75" r="0.6"/><circle cx="111.86" cy="371.79" r="0.44"/><circle cx="112.22" cy="371.98" r="0.59"/><circle cx="7.18" cy="385.63" r="0.59"/><circle cx="7.68" cy="385.24" r="0.44"/><circle cx="8.08" cy="386.68" r="0.48"/><circle cx="8.39" cy="385.6" r="0.62"/><circle cx="8.03" cy="386.43" r="0.41"/></g>
</g>
<path fill="#000" d="M32.8 376.2L27.2 372.5L27.2 374.6L21.6 374.6L21.6 377.8L27.2 377.8L27.2 379.9Z"/>
<path fill="#000" d="M95.3 369.3L100.9 365.6L100.9 367.7L106.5 367.7L106.5 370.9L100.9 370.9L100.9 373Z"/>
<path fill="#000" d="M50.2 401.8L44.6 398.1L44.6 400.2L39 400.2L39 403.4L44.6 403.4L44.6 405.5Z"/>
</g>
<rect x="3.6" y="338.6" width="133.9" height="100.8" fill="none" stroke="#111" stroke-width="1"/>
<rect x="8" y="423.7" width="17.5" height="12.6" rx="1.5" fill="#fff" stroke="#111" stroke-width="1.1"/>
<text x="16.75" y="432" font-size="5.5" text-anchor="middle" font-weight="bold" font-family="Liberation Sans, sans-serif" fill="#111">GrB</text>
<clipPath id="cl2"><rect x="152.8" y="338.6" width="131.4" height="100.6"/></clipPath>
<filter id="bl2" x="0" y="0" width="520" height="441" filterUnits="userSpaceOnUse"><feGaussianBlur stdDeviation="0.45"/></filter>
<g clip-path="url(#cl2)"><g filter="url(#bl2)">
<rect x="149.8" y="335.6" width="137.4" height="106.6" fill="#a2b8ca"/>
<g fill="#35608a"><circle cx="259.8" cy="421.11" r="1.39"/><circle cx="182.55" cy="382.1" r="1.73"/><circle cx="272.35" cy="424.91" r="1.29"/><circle cx="182.69" cy="370.05" r="1.6"/><circle cx="219.36" cy="361.31" r="1.01"/><circle cx="201.78" cy="420.13" r="1.15"/><circle cx="270.77" cy="373.16" r="1.27"/><circle cx="249.01" cy="392.56" r="1.24"/><circle cx="215.41" cy="423.75" r="1.02"/><circle cx="164.94" cy="416.08" r="1.62"/><circle cx="243.16" cy="419.06" r="1.25"/><circle cx="259.72" cy="363.75" r="1.24"/><circle cx="183.84" cy="422.94" r="1"/><circle cx="221.47" cy="413.72" r="1.06"/><circle cx="210.49" cy="343.54" r="1.26"/><circle cx="202.29" cy="413.08" r="1.56"/><circle cx="272.21" cy="385.67" r="1.18"/><circle cx="176.49" cy="349.65" r="1.27"/><circle cx="221.21" cy="347.35" r="1.43"/><circle cx="156.38" cy="392.69" r="1.47"/><circle cx="271.7" cy="352.94" r="1.63"/><circle cx="213.01" cy="354.71" r="1.63"/><circle cx="204.75" cy="408.17" r="1.02"/><circle cx="276.26" cy="384.85" r="1.34"/><circle cx="170.29" cy="423.77" r="1.37"/><circle cx="240.5" cy="358.07" r="1.6"/><circle cx="196.58" cy="355.15" r="1.38"/><circle cx="276.82" cy="365.07" r="1.2"/><circle cx="172.02" cy="397.7" r="1.01"/><circle cx="181.02" cy="380.65" r="1.26"/><circle cx="248.41" cy="338.3" r="1.51"/><circle cx="246.89" cy="356.68" r="1.35"/><circle cx="205.54" cy="432.07" r="1.49"/><circle cx="275.43" cy="345.15" r="1.32"/><circle cx="285.05" cy="418.89" r="1.73"/><circle cx="284.08" cy="420.7" r="1.01"/><circle cx="174.04" cy="395.03" r="1.53"/><circle cx="279.53" cy="437.3" r="1.01"/><circle cx="160.6" cy="404.52" r="1.44"/><circle cx="273.18" cy="363.73" r="1.57"/><circle cx="169.3" cy="404.46" r="1.47"/><circle cx="266.96" cy="349.18" r="1.16"/><circle cx="165.01" cy="439.87" r="1.57"/><circle cx="159.21" cy="435.75" r="1.05"/><circle cx="272.27" cy="365.56" r="1.13"/><circle cx="211.01" cy="426.46" r="1.34"/><circle cx="172.31" cy="375.83" r="1.72"/><circle cx="165.15" cy="422.62" r="1.49"/><circle cx="185.38" cy="380.53" r="1.66"/><circle cx="199.35" cy="371.18" r="1.68"/><circle cx="178.81" cy="432.86" r="1.27"/><circle cx="177.73" cy="381.6" r="1.24"/><circle cx="171.33" cy="358.56" r="1.74"/><circle cx="232.6" cy="384.16" r="1.25"/><circle cx="165.91" cy="423.26" r="1.28"/><circle cx="252.98" cy="369.13" r="1.12"/><circle cx="227.33" cy="350.07" r="1.03"/><circle cx="209.11" cy="355.65" r="1.11"/><circle cx="254.61" cy="381.58" r="1.33"/><circle cx="191.88" cy="399.6" r="1.38"/><circle cx="220.96" cy="391.38" r="1.31"/><circle cx="262.5" cy="376.04" r="1.57"/><circle cx="163.81" cy="374.06" r="1.33"/><circle cx="248.1" cy="360.54" r="1.27"/><circle cx="222.07" cy="390.63" r="1.09"/><circle cx="151.48" cy="403.26" r="1.17"/><circle cx="182.51" cy="379.95" r="1.45"/><circle cx="242.7" cy="416.64" r="1.73"/><circle cx="205.67" cy="435.7" r="1.04"/><circle cx="221.75" cy="367.81" r="1.55"/><circle cx="281.4" cy="414.47" r="1.25"/><circle cx="274.86" cy="420.82" r="1.56"/><circle cx="257.57" cy="375.74" r="1.62"/><circle cx="194.14" cy="399.9" r="1.58"/><circle cx="209.06" cy="341.01" r="1.33"/><circle cx="279.62" cy="364.53" r="1.62"/><circle cx="195.2" cy="351.59" r="1.74"/><circle cx="235.12" cy="367.07" r="1.18"/><circle cx="270.01" cy="393.01" r="1.21"/><circle cx="189.19" cy="413.79" r="1.21"/><circle cx="282.97" cy="423.02" r="1.27"/><circle cx="209.96" cy="440.66" r="1.23"/><circle cx="233.14" cy="338.2" r="1.69"/><circle cx="253.43" cy="341.26" r="1.6"/><circle cx="178.88" cy="367.06" r="1.06"/><circle cx="213.05" cy="416.67" r="1.24"/><circle cx="274.52" cy="416.33" r="1.17"/><circle cx="212.15" cy="376.66" r="1.01"/><circle cx="244.29" cy="395.69" r="1.72"/><circle cx="175.28" cy="407.82" r="1.04"/><circle cx="221.06" cy="419.63" r="1.19"/><circle cx="185.39" cy="422.37" r="1.69"/><circle cx="172.42" cy="402.39" r="1.64"/><circle cx="194.23" cy="370.72" r="1.1"/><circle cx="218.14" cy="440.77" r="1.47"/><circle cx="252.62" cy="366.39" r="1.52"/><circle cx="158.84" cy="421.27" r="1.44"/><circle cx="225.04" cy="424.48" r="1.04"/><circle cx="210.63" cy="342.91" r="1.42"/><circle cx="260" cy="409.17" r="1.7"/><circle cx="249.04" cy="385.43" r="1.4"/><circle cx="173.41" cy="406.64" r="1.23"/><circle cx="249.48" cy="426.81" r="1.23"/><circle cx="197.43" cy="365.76" r="1.53"/><circle cx="251.45" cy="435.64" r="1.63"/><circle cx="253.4" cy="391.12" r="1.51"/><circle cx="285.2" cy="345.87" r="1.29"/><circle cx="217.99" cy="396.81" r="1.16"/><circle cx="275.66" cy="362.73" r="1.06"/><circle cx="257.32" cy="434.14" r="1.65"/><circle cx="275.84" cy="406.2" r="1.6"/><circle cx="246.99" cy="413.15" r="1.17"/><circle cx="233.04" cy="343.96" r="1.7"/><circle cx="247.57" cy="340.7" r="1.04"/><circle cx="260.12" cy="433.06" r="1.64"/><circle cx="280.43" cy="426.2" r="1.35"/><circle cx="170.31" cy="346.78" r="1.61"/><circle cx="270.37" cy="426.02" r="1.39"/><circle cx="204.09" cy="343.76" r="1.34"/><circle cx="249.96" cy="356.43" r="1.56"/><circle cx="203.66" cy="363.61" r="1.06"/><circle cx="199.18" cy="376.25" r="1.46"/><circle cx="182.36" cy="432.88" r="1.23"/><circle cx="180.35" cy="373.85" r="1.09"/><circle cx="165.9" cy="353.94" r="1.18"/><circle cx="211.45" cy="404.05" r="1.08"/><circle cx="225.29" cy="398.29" r="1.74"/><circle cx="203.82" cy="437.96" r="1.34"/><circle cx="238.93" cy="349.5" r="1.39"/><circle cx="219.76" cy="338.3" r="1.16"/><circle cx="158.05" cy="438.72" r="1.54"/><circle cx="250.16" cy="427.05" r="1.19"/><circle cx="164.1" cy="391.56" r="1.01"/><circle cx="163.69" cy="420.96" r="1.18"/><circle cx="209.36" cy="388.84" r="1.65"/><circle cx="265.67" cy="385.99" r="1.03"/><circle cx="158.17" cy="341.94" r="1.04"/><circle cx="214.76" cy="426.43" r="1.75"/><circle cx="176.12" cy="356.3" r="1.72"/><circle cx="158.49" cy="409.26" r="1.56"/><circle cx="177.51" cy="406.9" r="1.71"/><circle cx="212.05" cy="353.16" r="1.72"/><circle cx="228.71" cy="399.11" r="1.19"/><circle cx="201.47" cy="361.5" r="1.61"/><circle cx="254.58" cy="372.72" r="1.73"/><circle cx="280.78" cy="363.01" r="1.46"/><circle cx="251.81" cy="347.87" r="1.03"/><circle cx="274.05" cy="371.94" r="1.13"/><circle cx="184.31" cy="438.43" r="1.06"/><circle cx="197.51" cy="372.2" r="1.05"/><circle cx="277.91" cy="374.86" r="1.06"/><circle cx="169.36" cy="363.34" r="1.23"/><circle cx="177.92" cy="435.7" r="1.5"/><circle cx="230.07" cy="349.56" r="1.53"/><circle cx="213.26" cy="350.34" r="1.73"/><circle cx="245.28" cy="438.45" r="1.57"/><circle cx="151.93" cy="344.16" r="1.71"/><circle cx="202.42" cy="359.01" r="1.44"/><circle cx="194.71" cy="437.19" r="1.7"/><circle cx="165.89" cy="422.53" r="1.73"/><circle cx="162.26" cy="399.06" r="1.47"/><circle cx="247.05" cy="378.12" r="1.41"/><circle cx="216.12" cy="378.45" r="1.3"/><circle cx="162.71" cy="370.86" r="1.4"/><circle cx="230.01" cy="408.52" r="1.52"/><circle cx="195.19" cy="439.04" r="1.08"/><circle cx="208.58" cy="372.36" r="1.23"/><circle cx="206.66" cy="357.18" r="1.06"/><circle cx="245.25" cy="395.37" r="1.5"/><circle cx="270.22" cy="337.71" r="1.29"/><circle cx="250.19" cy="367.57" r="1.65"/><circle cx="189.94" cy="391.03" r="1.24"/><circle cx="196.04" cy="376.9" r="1.49"/><circle cx="281.29" cy="390.91" r="1.7"/><circle cx="205.98" cy="350.47" r="1.62"/><circle cx="176.37" cy="388.71" r="1.74"/><circle cx="236.73" cy="361.28" r="1.58"/><circle cx="191.55" cy="403.73" r="1.11"/><circle cx="281.2" cy="407.46" r="1.41"/><circle cx="197.63" cy="417.34" r="1.49"/><circle cx="179.34" cy="400.9" r="1.05"/><circle cx="248.53" cy="338.78" r="1.65"/><circle cx="174.68" cy="430.81" r="1.22"/><circle cx="202.57" cy="340.3" r="1.43"/><circle cx="243.34" cy="336.81" r="1.09"/><circle cx="189.55" cy="373.48" r="1.29"/><circle cx="160.13" cy="382.14" r="1.13"/><circle cx="202.05" cy="358.01" r="1.26"/><circle cx="278.92" cy="436.27" r="1.39"/><circle cx="192.43" cy="432.3" r="1.18"/><circle cx="194.31" cy="430.75" r="1.45"/><circle cx="259.16" cy="400.79" r="1.45"/><circle cx="277.45" cy="429.43" r="1.61"/><circle cx="157" cy="434.24" r="1.38"/><circle cx="151.77" cy="405.34" r="1.55"/><circle cx="230.94" cy="379.78" r="1.35"/><circle cx="179.94" cy="339.54" r="1.5"/><circle cx="185.32" cy="426.33" r="1.41"/><circle cx="236.89" cy="440.89" r="1.72"/><circle cx="266.93" cy="422.02" r="1.54"/><circle cx="171.25" cy="425.47" r="1.12"/><circle cx="252.99" cy="422.98" r="1.47"/><circle cx="244.73" cy="375.15" r="1.15"/></g>
<g fill="#406a94"><circle cx="158.1" cy="376.7" r="1.31"/><circle cx="156.93" cy="341.7" r="1.75"/><circle cx="226.1" cy="361.72" r="1.56"/><circle cx="277.39" cy="433.22" r="1.25"/><circle cx="151.17" cy="357.01" r="1.26"/><circle cx="178.32" cy="341.72" r="1.16"/><circle cx="157.12" cy="338.34" r="1.19"/><circle cx="159.68" cy="356.73" r="1.51"/><circle cx="216.92" cy="433.09" r="1.15"/><circle cx="163.36" cy="434.44" r="1.27"/><circle cx="207.35" cy="399.52" r="1.74"/><circle cx="256.64" cy="370.34" r="1.47"/><circle cx="159.24" cy="393.25" r="1.33"/><circle cx="154.2" cy="352.91" r="1.69"/><circle cx="205.55" cy="414.13" r="1.53"/><circle cx="195.79" cy="381.08" r="1.29"/><circle cx="270.88" cy="388.89" r="1.72"/><circle cx="197.22" cy="422.09" r="1.3"/><circle cx="152.91" cy="434.04" r="1.17"/><circle cx="229.93" cy="358.02" r="1.73"/><circle cx="250.26" cy="440.39" r="1.45"/><circle cx="185.17" cy="430.73" r="1.44"/><circle cx="160.52" cy="369.28" r="1.42"/><circle cx="238.83" cy="397.52" r="1.71"/><circle cx="212.14" cy="354.54" r="1.53"/><circle cx="262.19" cy="337.26" r="1.68"/><circle cx="173.11" cy="390.89" r="1.11"/><circle cx="165.17" cy="340.51" r="1.5"/><circle cx="280.3" cy="395.7" r="1.43"/><circle cx="212.79" cy="352.49" r="1.21"/><circle cx="222.77" cy="440.72" r="1.13"/><circle cx="223.68" cy="416.49" r="1.09"/><circle cx="215.43" cy="427.25" r="1.27"/><circle cx="262.19" cy="344.51" r="1.25"/><circle cx="247.12" cy="410.74" r="1.32"/><circle cx="212.45" cy="412.36" r="1.34"/><circle cx="226.67" cy="415.78" r="1.3"/><circle cx="213.46" cy="405.06" r="1.37"/><circle cx="168.66" cy="401.62" r="1.24"/><circle cx="171.99" cy="378.99" r="1.56"/><circle cx="254.56" cy="347.89" r="1.12"/><circle cx="190.22" cy="394.12" r="1.45"/><circle cx="249.96" cy="397.84" r="1.6"/><circle cx="198.44" cy="397.46" r="1.64"/><circle cx="215.95" cy="386.55" r="1.03"/><circle cx="165.13" cy="337.46" r="1.6"/><circle cx="208.56" cy="412.74" r="1.63"/><circle cx="224.35" cy="418.88" r="1.75"/><circle cx="155.43" cy="439.28" r="1"/><circle cx="183.54" cy="394.29" r="1.39"/><circle cx="158.01" cy="392.06" r="1.24"/><circle cx="240.81" cy="413.4" r="1.2"/><circle cx="227.01" cy="351.92" r="1.08"/><circle cx="183.3" cy="437.09" r="1.69"/><circle cx="249.81" cy="356.18" r="1.67"/><circle cx="179.08" cy="418.67" r="1.42"/><circle cx="227.67" cy="398.85" r="1.61"/><circle cx="254.7" cy="410.55" r="1.52"/><circle cx="196.64" cy="415.04" r="1.43"/><circle cx="192.36" cy="356.96" r="1.74"/><circle cx="182.89" cy="431.83" r="1.54"/><circle cx="244.92" cy="393.91" r="1.55"/><circle cx="205.06" cy="413.18" r="1.64"/><circle cx="240.76" cy="393.28" r="1.69"/><circle cx="245.15" cy="376.31" r="1.7"/><circle cx="159.09" cy="362.58" r="1.03"/><circle cx="159.39" cy="351.36" r="1.07"/><circle cx="152.5" cy="414.91" r="1.47"/><circle cx="184.32" cy="392.65" r="1.16"/><circle cx="161.01" cy="374.29" r="1.71"/><circle cx="223.85" cy="350.09" r="1.75"/><circle cx="205.95" cy="423.05" r="1.29"/><circle cx="236.64" cy="365.47" r="1.53"/><circle cx="259.72" cy="435.11" r="1.24"/><circle cx="272.13" cy="432.95" r="1.69"/><circle cx="152.47" cy="369.89" r="1.56"/><circle cx="261.09" cy="348.03" r="1.11"/><circle cx="205.74" cy="410.48" r="1.3"/><circle cx="185.26" cy="432.14" r="1.32"/><circle cx="220.69" cy="390.06" r="1.35"/><circle cx="179" cy="415.76" r="1.75"/><circle cx="156.08" cy="393.19" r="1.5"/><circle cx="205.3" cy="430.57" r="1.72"/><circle cx="195.35" cy="357.48" r="1.16"/><circle cx="168.3" cy="436.21" r="1.72"/><circle cx="248.18" cy="406.52" r="1.43"/><circle cx="196.73" cy="435.73" r="1.35"/><circle cx="184.46" cy="435.12" r="1.55"/><circle cx="231.09" cy="350.64" r="1.03"/><circle cx="182.87" cy="388.51" r="1.22"/><circle cx="172.29" cy="337.34" r="1.13"/><circle cx="218.95" cy="430.05" r="1.04"/><circle cx="251.83" cy="398.84" r="1.31"/><circle cx="243.34" cy="431.14" r="1.63"/><circle cx="230.94" cy="359.13" r="1.71"/><circle cx="200" cy="379.66" r="1.65"/><circle cx="226.18" cy="408.49" r="1.31"/><circle cx="156.33" cy="394.19" r="1.42"/><circle cx="251.9" cy="397.32" r="1.29"/><circle cx="154.03" cy="355.05" r="1.08"/><circle cx="156.58" cy="391.73" r="1.61"/><circle cx="284.35" cy="410.86" r="1.45"/><circle cx="231" cy="346.62" r="1.2"/><circle cx="191.07" cy="429.91" r="1.64"/><circle cx="152.72" cy="435.95" r="1.02"/><circle cx="198.89" cy="407.69" r="1.68"/><circle cx="163.42" cy="409.9" r="1.24"/><circle cx="177.94" cy="402.95" r="1.26"/><circle cx="151.84" cy="337.73" r="1.73"/><circle cx="189.77" cy="337.5" r="1.46"/><circle cx="196.23" cy="350.07" r="1.65"/><circle cx="178.89" cy="438.95" r="1.41"/><circle cx="268.46" cy="440.65" r="1.5"/><circle cx="229.89" cy="426.29" r="1.08"/><circle cx="251.85" cy="409.15" r="1.34"/><circle cx="167.86" cy="350.28" r="1.55"/><circle cx="200.03" cy="354.7" r="1.04"/><circle cx="178.82" cy="414.95" r="1.46"/><circle cx="234.46" cy="375.98" r="1.24"/><circle cx="162.34" cy="366.54" r="1.59"/><circle cx="167.55" cy="343.63" r="1.26"/><circle cx="230.38" cy="345.05" r="1.41"/><circle cx="236.85" cy="378.87" r="1.64"/><circle cx="240.09" cy="381.17" r="1.43"/><circle cx="206.99" cy="411.66" r="1.19"/><circle cx="184.09" cy="415.94" r="1.2"/><circle cx="151.83" cy="426.08" r="1.18"/><circle cx="256.39" cy="382.86" r="1.17"/><circle cx="162.28" cy="420.47" r="1.42"/><circle cx="154.31" cy="350.38" r="1.07"/><circle cx="281.22" cy="394.08" r="1.24"/><circle cx="281.3" cy="353.04" r="1.16"/><circle cx="190" cy="384.39" r="1.33"/><circle cx="218.42" cy="361.62" r="1.37"/><circle cx="227.83" cy="431.78" r="1.06"/><circle cx="275.96" cy="440.25" r="1.24"/><circle cx="278.11" cy="348.24" r="1.18"/><circle cx="193.35" cy="338.9" r="1.02"/><circle cx="198.87" cy="355.09" r="1.37"/><circle cx="157.32" cy="425.56" r="1.16"/><circle cx="265.12" cy="338.84" r="1.63"/><circle cx="169.29" cy="399.26" r="1.68"/><circle cx="193.43" cy="418.87" r="1.46"/><circle cx="212.04" cy="368.75" r="1.55"/><circle cx="195.76" cy="409.81" r="1.59"/><circle cx="194.96" cy="363.63" r="1.15"/><circle cx="272.6" cy="390.41" r="1.61"/><circle cx="260.61" cy="422.16" r="1.41"/><circle cx="199.57" cy="364.29" r="1.48"/><circle cx="166.09" cy="410.35" r="1.64"/><circle cx="169.64" cy="434.09" r="1.02"/><circle cx="244.82" cy="390.96" r="1.13"/><circle cx="220.63" cy="418.38" r="1.32"/><circle cx="285.65" cy="419.29" r="1.58"/><circle cx="206.91" cy="359.9" r="1.11"/><circle cx="255.3" cy="423.71" r="1.4"/><circle cx="232.58" cy="391.95" r="1.25"/><circle cx="284.52" cy="420.23" r="1.48"/><circle cx="222.36" cy="408.34" r="1.63"/><circle cx="153.94" cy="393.26" r="1.41"/><circle cx="257.74" cy="427.06" r="1.74"/><circle cx="240.2" cy="382.68" r="1.11"/><circle cx="174.9" cy="372.94" r="1.59"/><circle cx="223.05" cy="361.95" r="1.38"/><circle cx="179.95" cy="432" r="1.18"/><circle cx="175.67" cy="357.89" r="1.16"/><circle cx="206.27" cy="365.29" r="1.03"/><circle cx="243.73" cy="349.41" r="1.61"/><circle cx="227.77" cy="407.55" r="1.27"/><circle cx="151.01" cy="389.82" r="1.19"/><circle cx="256.07" cy="347.15" r="1.54"/><circle cx="157.93" cy="437.26" r="1.34"/><circle cx="279" cy="392.66" r="1.17"/><circle cx="260.52" cy="345.4" r="1.27"/><circle cx="269.03" cy="374.76" r="1.58"/><circle cx="196.53" cy="424.81" r="1.61"/><circle cx="191.24" cy="340.07" r="1.42"/><circle cx="163.51" cy="374.38" r="1.29"/><circle cx="268.57" cy="352.66" r="1.02"/><circle cx="215.23" cy="423.67" r="1.56"/><circle cx="214.1" cy="361.45" r="1.4"/><circle cx="245.98" cy="409.07" r="1.12"/><circle cx="184.44" cy="428.56" r="1.3"/><circle cx="199.3" cy="405.68" r="1.66"/><circle cx="188.43" cy="427.69" r="1.73"/><circle cx="278.67" cy="421.52" r="1.18"/><circle cx="249.32" cy="400.24" r="1.58"/><circle cx="270.21" cy="425.27" r="1.35"/><circle cx="215.07" cy="403.54" r="1.53"/><circle cx="248.39" cy="423.77" r="1.55"/><circle cx="273.55" cy="384.88" r="1.05"/><circle cx="251.58" cy="381.1" r="1.34"/><circle cx="229.48" cy="395.48" r="1.24"/><circle cx="213.84" cy="359.17" r="1.39"/><circle cx="205.07" cy="430.28" r="1.5"/><circle cx="225.66" cy="399.64" r="1.42"/><circle cx="259.72" cy="344.89" r="1.1"/><circle cx="260.33" cy="392.05" r="1.01"/><circle cx="171.78" cy="362.04" r="1.05"/><circle cx="199.13" cy="434.42" r="1.18"/><circle cx="211.48" cy="365.97" r="1.19"/><circle cx="272.08" cy="346.77" r="1.38"/><circle cx="225.95" cy="429.67" r="1.41"/><circle cx="279.93" cy="417.66" r="1.28"/><circle cx="170.26" cy="357.61" r="1.26"/><circle cx="232.41" cy="353.25" r="1.67"/><circle cx="165.48" cy="402.58" r="1.18"/><circle cx="219.4" cy="357.62" r="1.7"/><circle cx="150.99" cy="433.24" r="1.36"/></g>
<g fill="#5a84aa"><circle cx="242.42" cy="342.96" r="1.42"/><circle cx="187.55" cy="428.61" r="1.05"/><circle cx="277.16" cy="345.58" r="1.63"/><circle cx="279.57" cy="378.38" r="1.7"/><circle cx="248.79" cy="421.21" r="1.11"/><circle cx="215.72" cy="436.86" r="1.24"/><circle cx="150.92" cy="380.55" r="1.47"/><circle cx="218.68" cy="408.86" r="1.52"/><circle cx="207.23" cy="407.76" r="1.59"/><circle cx="226.2" cy="387.92" r="1.45"/><circle cx="234.1" cy="362.55" r="1.41"/><circle cx="280.15" cy="367.35" r="1.33"/><circle cx="267.41" cy="353.72" r="1.52"/><circle cx="269.9" cy="380.38" r="1.28"/><circle cx="159.91" cy="374.97" r="1.71"/><circle cx="218.79" cy="394.88" r="1.45"/><circle cx="270.1" cy="350.27" r="1.39"/><circle cx="257.01" cy="338.01" r="1.75"/><circle cx="239.39" cy="363.94" r="1.23"/><circle cx="183.82" cy="409.72" r="1.75"/><circle cx="257.34" cy="377.58" r="1.34"/><circle cx="271.92" cy="367.72" r="1.01"/><circle cx="265.02" cy="417.65" r="1.45"/><circle cx="268.57" cy="337.26" r="1.15"/><circle cx="280.44" cy="404.96" r="1.62"/><circle cx="190.47" cy="433.74" r="1.23"/><circle cx="188.14" cy="421.84" r="1.34"/><circle cx="163.74" cy="373.23" r="1.36"/><circle cx="164.68" cy="429.57" r="1.11"/><circle cx="249.51" cy="380.99" r="1.37"/><circle cx="212.5" cy="371.61" r="1.09"/><circle cx="167.02" cy="413.42" r="1.03"/><circle cx="285.19" cy="371.53" r="1.08"/><circle cx="265.12" cy="387.21" r="1.4"/><circle cx="232.24" cy="415.48" r="1.27"/><circle cx="212.54" cy="350.23" r="1.19"/><circle cx="260.47" cy="340.97" r="1.63"/><circle cx="242.98" cy="383.27" r="1.37"/><circle cx="158.45" cy="359" r="1.31"/><circle cx="206.54" cy="416.61" r="1.35"/><circle cx="241.05" cy="390.77" r="1.62"/><circle cx="258.74" cy="377.5" r="1.1"/><circle cx="177.94" cy="399.15" r="1.32"/><circle cx="214.87" cy="354.16" r="1.35"/><circle cx="216.11" cy="423.41" r="1.47"/><circle cx="164.09" cy="438.54" r="1.16"/><circle cx="264.25" cy="393.13" r="1.24"/><circle cx="190.86" cy="347.08" r="1.05"/><circle cx="242.14" cy="419.18" r="1.04"/><circle cx="192.07" cy="421.77" r="1.49"/><circle cx="244.01" cy="367.12" r="1.67"/><circle cx="259.19" cy="364.94" r="1.45"/><circle cx="162.27" cy="417.2" r="1.75"/><circle cx="214.5" cy="338.13" r="1.24"/><circle cx="197.06" cy="423.7" r="1.2"/><circle cx="213.49" cy="426.02" r="1.31"/><circle cx="251.46" cy="426.18" r="1.31"/><circle cx="163.1" cy="407.06" r="1.6"/><circle cx="211.08" cy="378.43" r="1.32"/><circle cx="200.53" cy="403.88" r="1.61"/><circle cx="221.66" cy="402.93" r="1.42"/><circle cx="227.64" cy="403.27" r="1.43"/><circle cx="207.68" cy="423.11" r="1.58"/><circle cx="233.43" cy="402.15" r="1.6"/><circle cx="241.28" cy="385.46" r="1.42"/><circle cx="283.99" cy="373.83" r="1.42"/><circle cx="205.83" cy="391.57" r="1.62"/><circle cx="191.13" cy="438.28" r="1.3"/><circle cx="185.08" cy="398.46" r="1.09"/><circle cx="282.71" cy="412.99" r="1.37"/><circle cx="214.05" cy="413.63" r="1.66"/><circle cx="226.24" cy="392.43" r="1.01"/><circle cx="156.83" cy="438.52" r="1.01"/><circle cx="218.1" cy="368.44" r="1.35"/><circle cx="178.06" cy="350.3" r="1.24"/><circle cx="161.45" cy="428.22" r="1.48"/><circle cx="181.93" cy="388.79" r="1.63"/><circle cx="240.47" cy="342.05" r="1.03"/><circle cx="207.42" cy="348.02" r="1.69"/><circle cx="192.31" cy="385.89" r="1.36"/><circle cx="157.22" cy="372.68" r="1.13"/><circle cx="250.11" cy="368.42" r="1.13"/><circle cx="180.71" cy="426.95" r="1.67"/><circle cx="226.22" cy="437.82" r="1.64"/><circle cx="248.83" cy="406.68" r="1.15"/><circle cx="240.37" cy="392.73" r="1.43"/><circle cx="202.17" cy="421.65" r="1.61"/><circle cx="228.71" cy="366.36" r="1.22"/><circle cx="168.99" cy="368.37" r="1.53"/><circle cx="165.09" cy="337.66" r="1.74"/><circle cx="161.75" cy="416.57" r="1.72"/><circle cx="245.2" cy="379" r="1.41"/><circle cx="228.85" cy="425.75" r="1.75"/><circle cx="155.48" cy="368.85" r="1.22"/><circle cx="279.2" cy="369.8" r="1.22"/><circle cx="264.67" cy="414.51" r="1.35"/><circle cx="213.69" cy="350.29" r="1.2"/><circle cx="234.55" cy="373.5" r="1.48"/><circle cx="236.69" cy="397.02" r="1.46"/><circle cx="212.51" cy="336.7" r="1.34"/><circle cx="177.82" cy="430.65" r="1.16"/><circle cx="162.44" cy="352.46" r="1.33"/><circle cx="164.23" cy="380.73" r="1.03"/><circle cx="168.48" cy="413.83" r="1.5"/><circle cx="166.04" cy="411.07" r="1.11"/><circle cx="182.3" cy="416.04" r="1.37"/><circle cx="231.67" cy="347.43" r="1.38"/><circle cx="253.98" cy="365.38" r="1.68"/><circle cx="184.79" cy="394.68" r="1.36"/><circle cx="269.64" cy="390.47" r="1.44"/><circle cx="188.7" cy="396.89" r="1.21"/><circle cx="156.34" cy="372.87" r="1.6"/><circle cx="216.75" cy="379.37" r="1.48"/><circle cx="252.53" cy="371.65" r="1.08"/><circle cx="166.95" cy="432.55" r="1.57"/><circle cx="229.95" cy="407.2" r="1.41"/><circle cx="176.53" cy="401.49" r="1.11"/><circle cx="241.4" cy="425.17" r="1.01"/><circle cx="228.47" cy="341.78" r="1.36"/><circle cx="161.44" cy="395.9" r="1.24"/><circle cx="238.51" cy="428.66" r="1.42"/><circle cx="170.48" cy="435.82" r="1.68"/><circle cx="175.17" cy="384.09" r="1.35"/><circle cx="194.54" cy="367.44" r="1.42"/><circle cx="227.01" cy="379.26" r="1.35"/><circle cx="268.77" cy="374.44" r="1.29"/><circle cx="170.76" cy="440.57" r="1.55"/><circle cx="157.77" cy="422.48" r="1.58"/><circle cx="242.68" cy="406.54" r="1.6"/><circle cx="233.01" cy="350.16" r="1.26"/><circle cx="284.2" cy="390.69" r="1.49"/><circle cx="274.4" cy="395.93" r="1.64"/><circle cx="219.43" cy="369.79" r="1.57"/><circle cx="261.11" cy="343.71" r="1.65"/><circle cx="156.63" cy="363.43" r="1.18"/><circle cx="170.64" cy="417.36" r="1.29"/><circle cx="173.26" cy="385.29" r="1.14"/><circle cx="162.55" cy="390.47" r="1.03"/><circle cx="210.66" cy="347.59" r="1.03"/><circle cx="202.74" cy="424.39" r="1"/><circle cx="169.5" cy="359.16" r="1.49"/><circle cx="178.33" cy="353.85" r="1.4"/><circle cx="226.73" cy="431.84" r="1.41"/><circle cx="254.9" cy="424.42" r="1.39"/><circle cx="257.7" cy="395" r="1.34"/><circle cx="161.76" cy="393.91" r="1.05"/><circle cx="249.32" cy="428.7" r="1.28"/><circle cx="151.14" cy="410.7" r="1.01"/><circle cx="215.16" cy="377.4" r="1.32"/><circle cx="154.24" cy="340.84" r="1.1"/><circle cx="175.46" cy="387.12" r="1.57"/><circle cx="266.8" cy="347.06" r="1.69"/><circle cx="242.85" cy="407.3" r="1.38"/><circle cx="216.23" cy="398.29" r="1.05"/><circle cx="257.84" cy="338.72" r="1.09"/><circle cx="161.76" cy="372.24" r="1.54"/><circle cx="213.85" cy="345.16" r="1.15"/><circle cx="174.47" cy="411.08" r="1.66"/><circle cx="244.14" cy="434.62" r="1.74"/><circle cx="278.65" cy="409.65" r="1.66"/><circle cx="220.02" cy="385.49" r="1.67"/><circle cx="257.71" cy="381.2" r="1.15"/><circle cx="169.46" cy="339.74" r="1.16"/><circle cx="217.69" cy="389.64" r="1.49"/><circle cx="240.12" cy="373.85" r="1.69"/><circle cx="208.97" cy="380.1" r="1.69"/><circle cx="185.65" cy="389.26" r="1.22"/><circle cx="282.6" cy="415.32" r="1.16"/><circle cx="219.8" cy="418.44" r="1.52"/><circle cx="161.35" cy="438.1" r="1.74"/><circle cx="167.88" cy="403.26" r="1.07"/><circle cx="253.13" cy="397.99" r="1.2"/><circle cx="167.44" cy="352.21" r="1.08"/><circle cx="234.27" cy="411.83" r="1.72"/><circle cx="187.48" cy="406.36" r="1.1"/></g>
<g fill="#6b92b5"><circle cx="268.61" cy="360.38" r="1.67"/><circle cx="268.9" cy="338.54" r="1.53"/><circle cx="243.44" cy="385.12" r="1.17"/><circle cx="233.73" cy="435.03" r="1.74"/><circle cx="265.57" cy="378.57" r="1.41"/><circle cx="205.65" cy="344.29" r="1.64"/><circle cx="169.73" cy="391.74" r="1.19"/><circle cx="204.82" cy="398.74" r="1.55"/><circle cx="221.85" cy="395.49" r="1.37"/><circle cx="176.68" cy="440.19" r="1.56"/><circle cx="162.14" cy="421.12" r="1.5"/><circle cx="179.58" cy="439.92" r="1.22"/><circle cx="212.32" cy="435.27" r="1.3"/><circle cx="177.61" cy="376.6" r="1.39"/><circle cx="153.1" cy="387.81" r="1.34"/><circle cx="208.88" cy="336.72" r="1.01"/><circle cx="200.07" cy="406.98" r="1.61"/><circle cx="151.03" cy="372.02" r="1.37"/><circle cx="160.61" cy="439.22" r="1.42"/><circle cx="232.54" cy="363.7" r="1.68"/><circle cx="224.88" cy="433.77" r="1.62"/><circle cx="206.43" cy="388.69" r="1.09"/><circle cx="263.94" cy="391.28" r="1.59"/><circle cx="223.97" cy="349.74" r="1.03"/><circle cx="214.89" cy="386.52" r="1.16"/><circle cx="228.91" cy="390.65" r="1.43"/><circle cx="165.76" cy="348.01" r="1.73"/><circle cx="234.02" cy="395.25" r="1.18"/><circle cx="154.8" cy="390.52" r="1.28"/><circle cx="202.9" cy="372.5" r="1.02"/><circle cx="153.89" cy="412.03" r="1.57"/><circle cx="234.7" cy="418.57" r="1.7"/><circle cx="274.73" cy="342.67" r="1.22"/><circle cx="162.09" cy="400.91" r="1.23"/><circle cx="200.87" cy="440.59" r="1.43"/><circle cx="240.96" cy="360.23" r="1.66"/><circle cx="188.31" cy="418.59" r="1.1"/><circle cx="167.38" cy="402.82" r="1"/><circle cx="226.45" cy="404.34" r="1.34"/><circle cx="174.23" cy="394.57" r="1.64"/><circle cx="186.66" cy="374.55" r="1.75"/><circle cx="274.35" cy="343.97" r="1.74"/><circle cx="187.13" cy="377.01" r="1.51"/><circle cx="266.92" cy="418.49" r="1.39"/><circle cx="283.12" cy="366.08" r="1.18"/><circle cx="182.74" cy="350.6" r="1.35"/><circle cx="200.4" cy="409.8" r="1.69"/><circle cx="188.01" cy="430" r="1.65"/><circle cx="173.55" cy="356.25" r="1.29"/><circle cx="172.36" cy="436.01" r="1.41"/><circle cx="213.17" cy="341.51" r="1.01"/><circle cx="235.52" cy="411.75" r="1.03"/><circle cx="208.93" cy="392.88" r="1.13"/><circle cx="242.19" cy="400.79" r="1.48"/><circle cx="210.07" cy="402.02" r="1.36"/><circle cx="209.55" cy="389.83" r="1.32"/><circle cx="163.56" cy="389.7" r="1.03"/><circle cx="247.25" cy="404.11" r="1.13"/><circle cx="285.9" cy="415.6" r="1.57"/><circle cx="229.71" cy="399.27" r="1.62"/><circle cx="156.55" cy="392.44" r="1.39"/><circle cx="252.07" cy="420.72" r="1.3"/><circle cx="277.32" cy="429.41" r="1.48"/><circle cx="280.2" cy="348.11" r="1.44"/><circle cx="162" cy="413.31" r="1.57"/><circle cx="239.39" cy="438.61" r="1.14"/><circle cx="258.86" cy="383.99" r="1.07"/><circle cx="176.25" cy="402.75" r="1.49"/><circle cx="202.52" cy="398.98" r="1.22"/><circle cx="226.82" cy="365.3" r="1.47"/><circle cx="157.2" cy="398.15" r="1.03"/><circle cx="241.53" cy="425.8" r="1.26"/><circle cx="250.05" cy="429.46" r="1.37"/><circle cx="225.9" cy="417.63" r="1.4"/><circle cx="215.03" cy="366.01" r="1.35"/><circle cx="176.25" cy="375.55" r="1.37"/><circle cx="240.58" cy="379.91" r="1.69"/><circle cx="269.83" cy="387.65" r="1.53"/><circle cx="192.72" cy="409.18" r="1.41"/><circle cx="221.01" cy="376.72" r="1.33"/><circle cx="262.54" cy="382.89" r="1.45"/><circle cx="177.54" cy="423.93" r="1.04"/><circle cx="178.31" cy="386.6" r="1.1"/><circle cx="248.61" cy="345.09" r="1.44"/><circle cx="157.03" cy="354.05" r="1.24"/><circle cx="186.75" cy="393.01" r="1.49"/><circle cx="202.17" cy="373.68" r="1.69"/><circle cx="206.77" cy="388.04" r="1.38"/><circle cx="248.97" cy="387.39" r="1.14"/><circle cx="172.53" cy="404.73" r="1.44"/><circle cx="269.08" cy="385.02" r="1.05"/><circle cx="244.47" cy="375.56" r="1.14"/><circle cx="225.01" cy="356.01" r="1.69"/><circle cx="166.24" cy="354.43" r="1.38"/><circle cx="155.55" cy="431.24" r="1.16"/><circle cx="233.61" cy="425.79" r="1.05"/><circle cx="188.38" cy="428.35" r="1.58"/><circle cx="282.49" cy="425.96" r="1.68"/><circle cx="219.19" cy="413.64" r="1.18"/><circle cx="178.02" cy="347.65" r="1.49"/><circle cx="286.01" cy="396.68" r="1.54"/><circle cx="180.22" cy="372.9" r="1.43"/><circle cx="234.53" cy="392.62" r="1.56"/><circle cx="165.97" cy="430.22" r="1.19"/><circle cx="249.78" cy="385.84" r="1.71"/><circle cx="217.55" cy="434.24" r="1.11"/><circle cx="236.47" cy="402.53" r="1.18"/><circle cx="235.43" cy="440.91" r="1.03"/><circle cx="174.13" cy="406.67" r="1.6"/><circle cx="174.34" cy="385.44" r="1.05"/><circle cx="284.55" cy="395.23" r="1.32"/><circle cx="178.45" cy="382.53" r="1.47"/><circle cx="154.23" cy="414.25" r="1.08"/><circle cx="237.38" cy="379.11" r="1.74"/><circle cx="246.6" cy="403.76" r="1.08"/><circle cx="185.99" cy="356.98" r="1.05"/><circle cx="227.61" cy="345.83" r="1.03"/><circle cx="199.2" cy="397.26" r="1.17"/><circle cx="230.5" cy="405.74" r="1.13"/><circle cx="174.64" cy="422.78" r="1.27"/><circle cx="272.78" cy="398.88" r="1.2"/><circle cx="267.5" cy="344.81" r="1.22"/><circle cx="189.09" cy="413.08" r="1.67"/><circle cx="267.86" cy="338.94" r="1.6"/><circle cx="285.55" cy="439.93" r="1.18"/><circle cx="157.59" cy="438.61" r="1.12"/><circle cx="275.23" cy="361.28" r="1.08"/><circle cx="213.21" cy="340.94" r="1.49"/><circle cx="267.84" cy="337.71" r="1.58"/><circle cx="262.25" cy="366.59" r="1.73"/><circle cx="227.97" cy="387.97" r="1.12"/><circle cx="238.09" cy="417.06" r="1.31"/><circle cx="187.39" cy="370.5" r="1.15"/><circle cx="208.44" cy="369.74" r="1.34"/><circle cx="152.12" cy="392.46" r="1.08"/><circle cx="244.14" cy="418.9" r="1.69"/><circle cx="222.91" cy="439.31" r="1.42"/><circle cx="196.11" cy="360.01" r="1.24"/><circle cx="153.76" cy="383.35" r="1.48"/><circle cx="244.91" cy="383.25" r="1.65"/><circle cx="227.45" cy="351.9" r="1.6"/><circle cx="199.08" cy="440.96" r="1.35"/><circle cx="223.09" cy="394.58" r="1.06"/><circle cx="158.96" cy="367.84" r="1.63"/><circle cx="165.68" cy="388.12" r="1.64"/><circle cx="163.46" cy="436.32" r="1.42"/><circle cx="187.27" cy="395.52" r="1.64"/><circle cx="267.8" cy="369.66" r="1.3"/><circle cx="182.98" cy="414.63" r="1.56"/><circle cx="180.78" cy="433.86" r="1.25"/><circle cx="195.38" cy="369.54" r="1.08"/><circle cx="262.73" cy="431.24" r="1.1"/><circle cx="254.44" cy="367.37" r="1.14"/><circle cx="186.87" cy="380.97" r="1.68"/><circle cx="241.16" cy="434.6" r="1.5"/><circle cx="245.75" cy="345.73" r="1.46"/><circle cx="171.42" cy="390.65" r="1.64"/><circle cx="266.53" cy="425.35" r="1.43"/><circle cx="170.7" cy="394.8" r="1.48"/><circle cx="201.35" cy="359.99" r="1.21"/><circle cx="283.12" cy="416.26" r="1.08"/><circle cx="191.81" cy="435.06" r="1.14"/><circle cx="216.82" cy="393.99" r="1.34"/><circle cx="199.52" cy="437.53" r="1.1"/><circle cx="219.02" cy="359.59" r="1.1"/><circle cx="199.82" cy="409.29" r="1.72"/><circle cx="279.46" cy="406.44" r="1.53"/><circle cx="203.29" cy="392.64" r="1.63"/><circle cx="195.46" cy="387.11" r="1.55"/><circle cx="224" cy="406.3" r="1.51"/><circle cx="164.45" cy="395.98" r="1.62"/><circle cx="268.2" cy="425.03" r="1.08"/><circle cx="212.7" cy="360.56" r="1.63"/><circle cx="186.58" cy="428.91" r="1.18"/><circle cx="209.23" cy="399.3" r="1.34"/><circle cx="269.72" cy="349.39" r="1.4"/></g>
<g fill="#4a76a0"><circle cx="218.96" cy="382.28" r="1.15"/><circle cx="194.8" cy="420.93" r="1.24"/><circle cx="245.38" cy="383.52" r="1.6"/><circle cx="203.67" cy="420.06" r="1.29"/><circle cx="241.11" cy="426.43" r="1.25"/><circle cx="156.09" cy="352.19" r="1.16"/><circle cx="262.37" cy="360.73" r="1.65"/><circle cx="218.72" cy="394.03" r="1.34"/><circle cx="250.01" cy="362.87" r="1.15"/><circle cx="174.61" cy="336.6" r="1.05"/><circle cx="216.2" cy="377.19" r="1.71"/><circle cx="201.35" cy="436.05" r="1.09"/><circle cx="206.29" cy="420.4" r="1.01"/><circle cx="276.71" cy="408.17" r="1.2"/><circle cx="215.82" cy="362.64" r="1.67"/><circle cx="256.84" cy="386.08" r="1.36"/><circle cx="176.56" cy="375.66" r="1.03"/><circle cx="172.16" cy="355.62" r="1.63"/><circle cx="159.04" cy="434.05" r="1.61"/><circle cx="220.57" cy="343.76" r="1.44"/><circle cx="156.1" cy="366.83" r="1.19"/><circle cx="258.02" cy="437.25" r="1.69"/><circle cx="240.17" cy="422.45" r="1.72"/><circle cx="176.42" cy="380.85" r="1.41"/><circle cx="256.2" cy="394.83" r="1.39"/><circle cx="192.27" cy="387.47" r="1.32"/><circle cx="179.96" cy="412.89" r="1.63"/><circle cx="278.02" cy="425.64" r="1.63"/><circle cx="157.05" cy="347.38" r="1.51"/><circle cx="205.47" cy="379" r="1.18"/><circle cx="207.54" cy="407.9" r="1.43"/><circle cx="168.46" cy="432.78" r="1.61"/><circle cx="152.32" cy="398.01" r="1.46"/><circle cx="226.83" cy="435.35" r="1.03"/><circle cx="220.37" cy="344.95" r="1.05"/><circle cx="158.43" cy="345.41" r="1.67"/><circle cx="253.18" cy="430.15" r="1.11"/><circle cx="197.27" cy="397.87" r="1.7"/><circle cx="212.08" cy="368.58" r="1.72"/><circle cx="267.78" cy="377.86" r="1.08"/><circle cx="152.5" cy="373.31" r="1.48"/><circle cx="259.94" cy="438.33" r="1.59"/><circle cx="169" cy="404.1" r="1.14"/><circle cx="232.53" cy="337.52" r="1.04"/><circle cx="158.43" cy="415.21" r="1.3"/><circle cx="189.57" cy="382.11" r="1.35"/><circle cx="183.21" cy="353.28" r="1.42"/><circle cx="154.19" cy="354.05" r="1.59"/><circle cx="270.34" cy="408.26" r="1.65"/><circle cx="157.19" cy="356.43" r="1.19"/><circle cx="265.62" cy="382.29" r="1.02"/><circle cx="156.78" cy="436.67" r="1.58"/><circle cx="278.14" cy="390.63" r="1.2"/><circle cx="260.53" cy="348.15" r="1.35"/><circle cx="250.13" cy="377.71" r="1.37"/><circle cx="234.55" cy="337.35" r="1.71"/><circle cx="256.36" cy="359.33" r="1.68"/><circle cx="273.38" cy="393.64" r="1.69"/><circle cx="176.97" cy="353.82" r="1.01"/><circle cx="204.89" cy="401.03" r="1.66"/><circle cx="187.88" cy="424.21" r="1.14"/><circle cx="211.04" cy="407.16" r="1.31"/><circle cx="271.56" cy="437.98" r="1.67"/><circle cx="274.67" cy="380.65" r="1.55"/><circle cx="267.41" cy="400.36" r="1.36"/><circle cx="250.24" cy="414.35" r="1.73"/><circle cx="187.91" cy="365.83" r="1.7"/><circle cx="285.75" cy="387.89" r="1.59"/><circle cx="224.14" cy="365.43" r="1.69"/><circle cx="227.97" cy="439.29" r="1.52"/><circle cx="252.05" cy="387.72" r="1.26"/><circle cx="175.18" cy="340.81" r="1.59"/><circle cx="251.01" cy="371.28" r="1.13"/><circle cx="268.23" cy="424.94" r="1.66"/><circle cx="283.67" cy="373.23" r="1.35"/><circle cx="252.03" cy="349.37" r="1.31"/><circle cx="166.17" cy="342.02" r="1.66"/><circle cx="157.22" cy="394.12" r="1.32"/><circle cx="226.54" cy="373.63" r="1.12"/><circle cx="246.41" cy="343.8" r="1.11"/><circle cx="235.22" cy="434.6" r="1.4"/><circle cx="200.49" cy="382.8" r="1.29"/><circle cx="188.35" cy="376.05" r="1.38"/><circle cx="244.5" cy="422.34" r="1.32"/><circle cx="153.32" cy="359.74" r="1.19"/><circle cx="168.44" cy="375.68" r="1.58"/><circle cx="152.04" cy="397.81" r="1.22"/><circle cx="263.02" cy="408.56" r="1.35"/><circle cx="223.65" cy="343.14" r="1.7"/><circle cx="257.81" cy="336.62" r="1.39"/><circle cx="240.35" cy="438.58" r="1.09"/><circle cx="202.76" cy="358.86" r="1.53"/><circle cx="233.41" cy="340.86" r="1.05"/><circle cx="210.4" cy="410.55" r="1.59"/><circle cx="218.04" cy="383.68" r="1.39"/><circle cx="179.77" cy="415.44" r="1.1"/><circle cx="271.49" cy="416.14" r="1.32"/><circle cx="209.95" cy="389.69" r="1.71"/><circle cx="198.69" cy="418.78" r="1.55"/><circle cx="216.82" cy="370.57" r="1.59"/><circle cx="157.61" cy="356.61" r="1.46"/><circle cx="201.78" cy="363" r="1.05"/><circle cx="203.27" cy="366.48" r="1.34"/><circle cx="196.63" cy="392.06" r="1.38"/><circle cx="248.3" cy="385.93" r="1.14"/><circle cx="222.54" cy="439.62" r="1.68"/><circle cx="251.02" cy="421.58" r="1.24"/><circle cx="207.4" cy="439.93" r="1.27"/><circle cx="236.9" cy="378.34" r="1.41"/><circle cx="160.47" cy="412.29" r="1.34"/><circle cx="173.13" cy="439.66" r="1.27"/><circle cx="154.52" cy="355.69" r="1.42"/><circle cx="213.04" cy="350.69" r="1.7"/><circle cx="280.68" cy="346.56" r="1.72"/><circle cx="182.7" cy="401.44" r="1.03"/><circle cx="174.43" cy="418.51" r="1.67"/><circle cx="204.39" cy="337.46" r="1.03"/><circle cx="230.98" cy="369.84" r="1.52"/><circle cx="255.23" cy="354.9" r="1.69"/><circle cx="269.73" cy="395.35" r="1.09"/><circle cx="255.61" cy="369.92" r="1.38"/><circle cx="237.78" cy="433.28" r="1.47"/><circle cx="280.18" cy="349.01" r="1.24"/><circle cx="273.6" cy="363.02" r="1.72"/><circle cx="286.2" cy="436.69" r="1.09"/><circle cx="204.81" cy="437.8" r="1.31"/><circle cx="278.67" cy="348.47" r="1.32"/><circle cx="270.66" cy="388.22" r="1.73"/><circle cx="262.73" cy="422.39" r="1.39"/><circle cx="220.48" cy="411.78" r="1.32"/><circle cx="263.82" cy="379.05" r="1.7"/><circle cx="220.06" cy="411.94" r="1.45"/><circle cx="242.42" cy="431.89" r="1.65"/><circle cx="230.07" cy="405.25" r="1.24"/><circle cx="259.77" cy="422.34" r="1.34"/><circle cx="227.35" cy="372.95" r="1.03"/><circle cx="176.12" cy="358.13" r="1.48"/><circle cx="263.95" cy="339.05" r="1.19"/><circle cx="159.83" cy="349.94" r="1.05"/><circle cx="173.31" cy="414.82" r="1.54"/><circle cx="256.63" cy="438.49" r="1.71"/><circle cx="157.17" cy="348.42" r="1.66"/><circle cx="276.97" cy="427.19" r="1.46"/><circle cx="157.28" cy="437.95" r="1.57"/><circle cx="160.12" cy="404.29" r="1.05"/><circle cx="279.97" cy="415.26" r="1.4"/><circle cx="260.82" cy="343.64" r="1.41"/><circle cx="239.93" cy="390.07" r="1.14"/><circle cx="221.3" cy="366.41" r="1.36"/><circle cx="190.8" cy="389.82" r="1.05"/><circle cx="195.44" cy="374.58" r="1.23"/><circle cx="188.03" cy="404.94" r="1.58"/><circle cx="200.07" cy="392.17" r="1.33"/><circle cx="244.96" cy="338.8" r="1.17"/><circle cx="169.73" cy="352.51" r="1.54"/><circle cx="157.31" cy="402.05" r="1.21"/><circle cx="274.84" cy="368.06" r="1.14"/><circle cx="268.45" cy="418.7" r="1.08"/><circle cx="156.8" cy="339.47" r="1.45"/><circle cx="219.26" cy="357.7" r="1.27"/><circle cx="164.56" cy="370.83" r="1.58"/><circle cx="268.5" cy="423.15" r="1.59"/><circle cx="162.53" cy="351.57" r="1.35"/><circle cx="220.03" cy="428.83" r="1.39"/><circle cx="277.87" cy="359.08" r="1.43"/><circle cx="228.55" cy="374.97" r="1.58"/><circle cx="186.23" cy="341.84" r="1.63"/><circle cx="162.67" cy="346.85" r="1.62"/><circle cx="215.75" cy="406.94" r="1.62"/><circle cx="223.25" cy="361.65" r="1.69"/><circle cx="164.07" cy="416.14" r="1.28"/><circle cx="178.32" cy="432.81" r="1.44"/><circle cx="274.92" cy="346.33" r="1.16"/><circle cx="177.13" cy="386.5" r="1.17"/><circle cx="170.03" cy="356.17" r="1.61"/><circle cx="171.69" cy="434.68" r="1.34"/><circle cx="255.94" cy="439.15" r="1.56"/><circle cx="201.18" cy="376.79" r="1.09"/><circle cx="229.71" cy="362.26" r="1.46"/><circle cx="151.75" cy="347.91" r="1.61"/><circle cx="261.75" cy="377.59" r="1.08"/><circle cx="175.64" cy="422.15" r="1.66"/><circle cx="237.07" cy="352.67" r="1.17"/><circle cx="267.57" cy="420.01" r="1.05"/><circle cx="185.56" cy="375.46" r="1.43"/><circle cx="177.49" cy="353.41" r="1.42"/><circle cx="265.49" cy="416.58" r="1.48"/><circle cx="224.88" cy="432.99" r="1.35"/><circle cx="269.79" cy="356.71" r="1.66"/><circle cx="278.84" cy="381.58" r="1.2"/><circle cx="188.04" cy="357.76" r="1.17"/><circle cx="240.56" cy="424.82" r="1.23"/><circle cx="164.02" cy="342.01" r="1.3"/><circle cx="163.25" cy="414.03" r="1.43"/><circle cx="242.48" cy="409.5" r="1.12"/><circle cx="186.02" cy="398.48" r="1.7"/><circle cx="222.41" cy="345.81" r="1.66"/><circle cx="252.4" cy="390.77" r="1.02"/><circle cx="268.18" cy="438.02" r="1.07"/><circle cx="272.48" cy="428.34" r="1.3"/><circle cx="239.54" cy="356.05" r="1.49"/><circle cx="217.61" cy="338.32" r="1.22"/><circle cx="163.39" cy="343.87" r="1.46"/><circle cx="228.53" cy="388.19" r="1.12"/><circle cx="161.33" cy="349.25" r="1.54"/><circle cx="283.87" cy="343.35" r="1.28"/><circle cx="199.54" cy="358.19" r="1.62"/><circle cx="160.36" cy="343.52" r="1.21"/><circle cx="242.11" cy="339.41" r="1.34"/><circle cx="234.27" cy="385.26" r="1.46"/><circle cx="252.33" cy="363.62" r="1.47"/><circle cx="245.66" cy="414.83" r="1.38"/><circle cx="272.16" cy="427.07" r="1.64"/></g>
<g fill="#527ea6"><circle cx="237.58" cy="347.8" r="1.52"/><circle cx="176.21" cy="422.71" r="1.12"/><circle cx="217.39" cy="394.47" r="1.08"/><circle cx="188.54" cy="383.37" r="1.04"/><circle cx="271.27" cy="386.86" r="1.34"/><circle cx="201.67" cy="410.53" r="1.26"/><circle cx="217.73" cy="341.88" r="1.03"/><circle cx="271.37" cy="361.94" r="1.46"/><circle cx="164.56" cy="425.93" r="1.3"/><circle cx="199.74" cy="342.88" r="1.21"/><circle cx="160.42" cy="391.42" r="1.14"/><circle cx="242.67" cy="357.19" r="1.49"/><circle cx="200.39" cy="396.33" r="1.43"/><circle cx="258.96" cy="371.39" r="1.44"/><circle cx="230.01" cy="345.85" r="1.52"/><circle cx="270.53" cy="349.86" r="1.16"/><circle cx="250.68" cy="376.03" r="1.26"/><circle cx="284.71" cy="412.87" r="1.35"/><circle cx="162.77" cy="386.88" r="1.71"/><circle cx="261.05" cy="395.66" r="1.6"/><circle cx="197.23" cy="387.76" r="1.05"/><circle cx="254.15" cy="403.9" r="1.18"/><circle cx="164.41" cy="361.42" r="1.64"/><circle cx="185.33" cy="372.02" r="1.03"/><circle cx="179.92" cy="440.02" r="1.26"/><circle cx="264.79" cy="352.04" r="1.67"/><circle cx="227.48" cy="359.45" r="1.3"/><circle cx="231.69" cy="387.51" r="1.54"/><circle cx="256.38" cy="422.34" r="1.7"/><circle cx="195.84" cy="404.31" r="1.07"/><circle cx="274.04" cy="350.82" r="1.59"/><circle cx="283.55" cy="353.48" r="1.68"/><circle cx="214.26" cy="349.18" r="1.35"/><circle cx="281.14" cy="430.01" r="1.67"/><circle cx="230.56" cy="433.68" r="1.56"/><circle cx="203.69" cy="355.52" r="1.5"/><circle cx="265.31" cy="422.45" r="1.7"/><circle cx="200.89" cy="338.93" r="1.47"/><circle cx="274.36" cy="436.12" r="1.59"/><circle cx="190.13" cy="432.26" r="1.61"/><circle cx="189.1" cy="385.01" r="1.45"/><circle cx="209.11" cy="356.73" r="1.4"/><circle cx="225.23" cy="385.67" r="1.01"/><circle cx="209.72" cy="426.84" r="1.04"/><circle cx="158.43" cy="391.15" r="1.01"/><circle cx="179.39" cy="363.86" r="1.29"/><circle cx="177.19" cy="363.26" r="1.09"/><circle cx="268.74" cy="367.71" r="1.1"/><circle cx="208.33" cy="423.01" r="1.59"/><circle cx="215.66" cy="419.75" r="1.68"/><circle cx="186.27" cy="381.83" r="1.07"/><circle cx="256.86" cy="419.14" r="1.6"/><circle cx="250.53" cy="426.74" r="1.55"/><circle cx="280.37" cy="337.72" r="1.19"/><circle cx="284.54" cy="373.74" r="1.37"/><circle cx="193.53" cy="419.51" r="1.56"/><circle cx="160.91" cy="390.96" r="1.03"/><circle cx="171.47" cy="345.65" r="1.63"/><circle cx="282.15" cy="404.66" r="1.2"/><circle cx="252.24" cy="378.26" r="1.15"/><circle cx="280.74" cy="402.51" r="1.37"/><circle cx="173.93" cy="395.61" r="1.69"/><circle cx="217.92" cy="385.45" r="1.06"/><circle cx="276.72" cy="353.52" r="1.24"/><circle cx="173.24" cy="351.32" r="1.28"/><circle cx="168.44" cy="342.82" r="1.15"/><circle cx="284.13" cy="404.54" r="1.43"/><circle cx="189.73" cy="441.14" r="1.1"/><circle cx="272.06" cy="346.6" r="1.43"/><circle cx="183.39" cy="374.23" r="1.09"/><circle cx="243.07" cy="390.21" r="1.37"/><circle cx="283.42" cy="385.91" r="1.31"/><circle cx="201.59" cy="354.1" r="1.16"/><circle cx="167.33" cy="380.18" r="1.53"/><circle cx="231.7" cy="418.61" r="1.21"/><circle cx="285.44" cy="376.34" r="1.21"/><circle cx="220.17" cy="385.24" r="1.52"/><circle cx="175.56" cy="399.89" r="1.16"/><circle cx="195.28" cy="412.57" r="1.32"/><circle cx="240.04" cy="433.53" r="1.73"/><circle cx="254.97" cy="413.01" r="1.25"/><circle cx="156.66" cy="339.28" r="1.02"/><circle cx="254.03" cy="398.91" r="1.74"/><circle cx="260.74" cy="371.43" r="1.35"/><circle cx="180.55" cy="409.3" r="1.33"/><circle cx="279.79" cy="344.56" r="1.43"/><circle cx="156.99" cy="348.94" r="1.63"/><circle cx="242.56" cy="394.67" r="1.45"/><circle cx="275.02" cy="402.84" r="1.15"/><circle cx="245.61" cy="424.71" r="1.06"/><circle cx="261.84" cy="433.1" r="1.02"/><circle cx="284.07" cy="397.82" r="1.1"/><circle cx="235.78" cy="361.83" r="1.24"/><circle cx="263.74" cy="361.82" r="1.52"/><circle cx="238.12" cy="384.41" r="1.35"/><circle cx="191.23" cy="395.2" r="1.46"/><circle cx="253.3" cy="412.73" r="1.44"/><circle cx="219.79" cy="400.21" r="1.71"/><circle cx="275.9" cy="398.92" r="1.16"/><circle cx="198.35" cy="414.56" r="1.38"/><circle cx="268.01" cy="408.57" r="1.21"/><circle cx="255.71" cy="441.05" r="1.6"/><circle cx="222.77" cy="369.57" r="1.48"/><circle cx="233.67" cy="387.64" r="1.64"/><circle cx="168.64" cy="422.5" r="1.06"/><circle cx="153.51" cy="376.71" r="1.04"/><circle cx="274.95" cy="403.14" r="1.08"/><circle cx="215.48" cy="374.81" r="1.41"/><circle cx="285.86" cy="343.07" r="1.61"/><circle cx="252.8" cy="389.97" r="1.6"/><circle cx="178.79" cy="439.92" r="1.26"/><circle cx="237.86" cy="398.4" r="1.52"/><circle cx="200.67" cy="374.13" r="1.25"/><circle cx="162.06" cy="361.1" r="1.29"/><circle cx="274.07" cy="350.1" r="1.08"/><circle cx="162.38" cy="406.59" r="1.16"/><circle cx="234.68" cy="395.97" r="1.69"/><circle cx="210.33" cy="353.45" r="1.36"/><circle cx="205.18" cy="387.59" r="1.1"/><circle cx="177.11" cy="404.45" r="1.68"/><circle cx="152.93" cy="409.32" r="1.66"/><circle cx="261.14" cy="438.63" r="1.14"/><circle cx="222.48" cy="402.02" r="1.29"/><circle cx="199.45" cy="379.97" r="1.35"/><circle cx="243.29" cy="421.56" r="1.07"/><circle cx="195.26" cy="382.54" r="1.4"/><circle cx="221.68" cy="389.12" r="1.3"/><circle cx="214.71" cy="374.7" r="1.13"/><circle cx="215.68" cy="390.35" r="1.64"/><circle cx="185.44" cy="379.58" r="1.23"/><circle cx="264.69" cy="338.69" r="1.12"/><circle cx="221.18" cy="367.51" r="1.18"/><circle cx="248.67" cy="432.82" r="1.44"/><circle cx="244.95" cy="364" r="1.08"/><circle cx="196.99" cy="350.93" r="1.64"/><circle cx="151.07" cy="337.02" r="1.35"/><circle cx="241.42" cy="430.41" r="1.07"/><circle cx="268.19" cy="411.2" r="1.57"/><circle cx="273.25" cy="404.93" r="1.32"/><circle cx="282.61" cy="380.95" r="1.74"/><circle cx="225.95" cy="344.06" r="1.69"/><circle cx="166.52" cy="370.25" r="1.53"/><circle cx="271.64" cy="345.87" r="1.21"/><circle cx="269.95" cy="429.63" r="1.38"/><circle cx="164.19" cy="365.67" r="1.4"/><circle cx="218.14" cy="409.66" r="1.07"/><circle cx="271.84" cy="373.82" r="1.32"/><circle cx="164.9" cy="372.43" r="1.36"/><circle cx="236.61" cy="346.87" r="1.73"/><circle cx="256.4" cy="371.11" r="1.32"/><circle cx="209.56" cy="425.54" r="1.52"/><circle cx="188.94" cy="386.89" r="1.52"/><circle cx="186.7" cy="408.36" r="1.3"/><circle cx="180.05" cy="356.11" r="1.13"/><circle cx="223.53" cy="367.16" r="1.33"/><circle cx="196.61" cy="414.3" r="1.12"/><circle cx="194.72" cy="434.73" r="1.53"/><circle cx="170.75" cy="378.47" r="1.51"/><circle cx="274.92" cy="387.2" r="1.21"/><circle cx="276.51" cy="430.63" r="1.07"/><circle cx="227.65" cy="439.71" r="1.36"/><circle cx="280.53" cy="417.27" r="1.37"/><circle cx="262.57" cy="363.59" r="1.2"/><circle cx="227" cy="405.53" r="1.08"/><circle cx="181.77" cy="439.47" r="1.29"/><circle cx="211.06" cy="431.8" r="1.71"/><circle cx="223.22" cy="346.51" r="1.67"/><circle cx="214.57" cy="422.6" r="1.74"/><circle cx="190.99" cy="388.81" r="1.48"/><circle cx="280.74" cy="399.36" r="1.11"/><circle cx="242.24" cy="369.23" r="1.12"/><circle cx="187.69" cy="343.77" r="1.15"/><circle cx="195.49" cy="375.19" r="1.39"/><circle cx="267.87" cy="383.53" r="1.51"/></g>
<g fill="#d6e3ec"><circle cx="194.95" cy="371.92" r="0.89"/><circle cx="186.85" cy="365.02" r="0.66"/><circle cx="242.88" cy="432.73" r="0.79"/><circle cx="179.64" cy="426.64" r="0.59"/><circle cx="179.16" cy="424.35" r="0.68"/><circle cx="157.32" cy="407.14" r="0.65"/><circle cx="171.32" cy="407.06" r="0.75"/><circle cx="206.42" cy="351.87" r="0.82"/><circle cx="240.23" cy="362.96" r="0.65"/><circle cx="187.94" cy="397.93" r="0.65"/><circle cx="180.26" cy="403.25" r="0.72"/><circle cx="186.04" cy="337.42" r="0.73"/><circle cx="188.36" cy="433.59" r="0.87"/><circle cx="252.52" cy="407.28" r="0.52"/><circle cx="194.69" cy="343.23" r="0.75"/><circle cx="256.94" cy="436.21" r="0.91"/><circle cx="175.07" cy="392.43" r="0.67"/><circle cx="281.71" cy="408.64" r="0.74"/><circle cx="156.59" cy="347.41" r="0.69"/><circle cx="173.93" cy="340.65" r="0.73"/><circle cx="210.88" cy="337.9" r="0.72"/><circle cx="208.24" cy="414.83" r="0.68"/><circle cx="224.18" cy="423.41" r="0.79"/><circle cx="224.18" cy="419.19" r="0.57"/><circle cx="247.92" cy="427.76" r="0.74"/><circle cx="155.76" cy="394.76" r="0.93"/><circle cx="285.32" cy="427.73" r="0.63"/><circle cx="166.68" cy="422.68" r="0.67"/><circle cx="183.18" cy="396.68" r="0.9"/><circle cx="176.91" cy="381.5" r="0.68"/><circle cx="207.41" cy="369.77" r="0.83"/><circle cx="232.82" cy="365.76" r="0.82"/><circle cx="239.85" cy="380.85" r="0.76"/><circle cx="275.61" cy="399.42" r="0.7"/><circle cx="187.75" cy="373.6" r="0.83"/><circle cx="282.97" cy="401.93" r="0.84"/><circle cx="214.96" cy="439.76" r="0.69"/><circle cx="265.02" cy="377.88" r="0.55"/><circle cx="195.22" cy="360.65" r="0.82"/><circle cx="261.62" cy="408.5" r="0.98"/><circle cx="213.62" cy="414.19" r="0.81"/><circle cx="214.94" cy="343.99" r="0.62"/><circle cx="214.93" cy="434.58" r="0.77"/><circle cx="154.88" cy="344.78" r="0.56"/><circle cx="169.62" cy="380.89" r="0.83"/><circle cx="203.05" cy="406.94" r="0.52"/><circle cx="263.86" cy="438.3" r="0.51"/><circle cx="217.97" cy="402.18" r="0.68"/><circle cx="227.01" cy="354.75" r="0.65"/><circle cx="159.66" cy="388.28" r="0.61"/><circle cx="196.16" cy="341.74" r="0.87"/><circle cx="272.68" cy="352.05" r="0.62"/><circle cx="223.61" cy="386.71" r="0.72"/><circle cx="172.5" cy="345.46" r="0.54"/><circle cx="187.74" cy="350.91" r="0.96"/><circle cx="267.97" cy="432.12" r="0.98"/><circle cx="159.57" cy="414.73" r="0.53"/><circle cx="258.07" cy="397.84" r="0.82"/><circle cx="221.55" cy="366.73" r="0.72"/><circle cx="260.74" cy="418.61" r="0.56"/><circle cx="251.13" cy="395.63" r="0.77"/><circle cx="247.87" cy="366.71" r="0.96"/><circle cx="218.35" cy="367.32" r="0.93"/><circle cx="181.17" cy="423.42" r="0.76"/><circle cx="274.26" cy="367.17" r="0.74"/><circle cx="250.93" cy="360.55" r="0.77"/><circle cx="216.28" cy="387.01" r="0.95"/><circle cx="194.59" cy="422.39" r="0.83"/><circle cx="188.22" cy="349.95" r="0.81"/><circle cx="208.01" cy="365.18" r="0.87"/><circle cx="200.02" cy="384.37" r="0.61"/><circle cx="177.56" cy="361.37" r="0.53"/><circle cx="195.45" cy="405.47" r="0.64"/><circle cx="268.47" cy="394.18" r="0.79"/><circle cx="190.46" cy="373.06" r="0.67"/><circle cx="222.78" cy="391.33" r="0.8"/><circle cx="257.32" cy="432.79" r="0.94"/><circle cx="198.62" cy="422.26" r="0.82"/><circle cx="224.92" cy="383.9" r="0.98"/><circle cx="266.71" cy="437.82" r="0.94"/><circle cx="183.99" cy="396.1" r="0.92"/><circle cx="201.44" cy="426.46" r="0.76"/><circle cx="221.17" cy="374.77" r="0.51"/><circle cx="158.32" cy="440.82" r="0.92"/><circle cx="267.56" cy="424.05" r="0.92"/><circle cx="229.93" cy="422.97" r="0.98"/><circle cx="278.63" cy="415" r="0.8"/><circle cx="171.19" cy="349.19" r="0.94"/><circle cx="243.92" cy="385.08" r="0.79"/><circle cx="258.51" cy="364.03" r="0.95"/><circle cx="224.99" cy="415.51" r="0.64"/><circle cx="263.28" cy="427.86" r="0.58"/><circle cx="152.28" cy="440.16" r="0.59"/><circle cx="155.44" cy="378.93" r="0.5"/><circle cx="200.11" cy="359.38" r="0.81"/><circle cx="225.16" cy="356.16" r="0.96"/><circle cx="187.55" cy="386.34" r="0.84"/><circle cx="156.21" cy="387.34" r="0.97"/><circle cx="259.58" cy="346.56" r="0.64"/><circle cx="182.9" cy="348.02" r="0.88"/><circle cx="224.73" cy="426.04" r="0.69"/><circle cx="207.2" cy="348.35" r="0.95"/><circle cx="271.2" cy="362.14" r="0.58"/><circle cx="238.41" cy="362.54" r="0.98"/><circle cx="200.7" cy="436.53" r="0.96"/><circle cx="162.43" cy="388.1" r="0.82"/><circle cx="217.96" cy="350.4" r="0.54"/><circle cx="247.86" cy="436.33" r="0.55"/><circle cx="261.7" cy="427.5" r="0.85"/><circle cx="271.1" cy="349.15" r="0.52"/><circle cx="280.54" cy="424.85" r="0.54"/><circle cx="203.17" cy="350.23" r="0.92"/><circle cx="183.04" cy="360.88" r="0.65"/><circle cx="246.7" cy="438.03" r="0.85"/><circle cx="206.82" cy="337.99" r="0.82"/><circle cx="229.69" cy="345.81" r="0.65"/><circle cx="255.69" cy="362.9" r="0.66"/><circle cx="264.99" cy="412.28" r="0.59"/><circle cx="269.43" cy="379.68" r="0.75"/><circle cx="260.43" cy="436.24" r="0.69"/><circle cx="168.57" cy="368.97" r="0.73"/><circle cx="242.69" cy="418.57" r="0.62"/><circle cx="230.11" cy="339.56" r="0.84"/><circle cx="276.42" cy="400.86" r="0.79"/></g>
<g fill="#c4d6e4"><circle cx="270.98" cy="427.81" r="0.58"/><circle cx="215.23" cy="400.54" r="0.97"/><circle cx="181.96" cy="368.89" r="0.68"/><circle cx="222.91" cy="398.43" r="0.99"/><circle cx="187.52" cy="436.67" r="0.7"/><circle cx="284" cy="419.63" r="0.99"/><circle cx="189.72" cy="391.94" r="0.51"/><circle cx="233.89" cy="418.81" r="0.61"/><circle cx="176.69" cy="417.13" r="0.88"/><circle cx="162.96" cy="366.89" r="0.65"/><circle cx="168.36" cy="339.95" r="0.98"/><circle cx="164.01" cy="407.74" r="0.83"/><circle cx="205.17" cy="416.06" r="0.51"/><circle cx="226.93" cy="404.7" r="0.59"/><circle cx="179.51" cy="434.94" r="0.99"/><circle cx="168.86" cy="377.29" r="0.66"/><circle cx="187.59" cy="401.6" r="0.86"/><circle cx="161.85" cy="358.88" r="0.8"/><circle cx="216.54" cy="419.55" r="0.57"/><circle cx="185.02" cy="424.02" r="0.51"/><circle cx="193.33" cy="416.42" r="0.99"/><circle cx="177.66" cy="361.23" r="0.51"/><circle cx="161.79" cy="437.87" r="0.82"/><circle cx="171.65" cy="366.53" r="0.55"/><circle cx="161.22" cy="385.76" r="0.51"/><circle cx="278.32" cy="397.17" r="0.77"/><circle cx="261.28" cy="384.65" r="0.78"/><circle cx="201.26" cy="440.93" r="0.77"/><circle cx="187.62" cy="374.38" r="0.77"/><circle cx="193.66" cy="385.36" r="0.71"/><circle cx="155.34" cy="358.63" r="0.64"/><circle cx="255.29" cy="348.42" r="0.68"/><circle cx="209.82" cy="363.14" r="0.87"/><circle cx="169.06" cy="362.51" r="0.67"/><circle cx="171.9" cy="353.96" r="0.92"/><circle cx="188.35" cy="391.16" r="0.86"/><circle cx="199.72" cy="366.39" r="0.94"/><circle cx="200.12" cy="379.04" r="0.55"/><circle cx="260.32" cy="382.45" r="0.99"/><circle cx="221.87" cy="439.73" r="0.5"/><circle cx="194.54" cy="416.91" r="0.52"/><circle cx="209" cy="426.81" r="0.57"/><circle cx="276.22" cy="383.47" r="0.87"/><circle cx="158.65" cy="384.02" r="0.61"/><circle cx="176.08" cy="366.78" r="0.97"/><circle cx="218.97" cy="350.23" r="1"/><circle cx="194.3" cy="362.51" r="0.75"/><circle cx="206.88" cy="354.73" r="0.65"/><circle cx="252.1" cy="369.62" r="0.64"/><circle cx="211.52" cy="403.41" r="0.62"/><circle cx="282.39" cy="367.78" r="0.85"/><circle cx="157.93" cy="435.06" r="0.77"/><circle cx="272.68" cy="357.61" r="0.69"/><circle cx="174.08" cy="431.81" r="0.91"/><circle cx="175.34" cy="362.3" r="0.67"/><circle cx="238.93" cy="367.92" r="0.7"/><circle cx="221.11" cy="339.59" r="0.78"/><circle cx="208.88" cy="441.08" r="0.95"/><circle cx="268.02" cy="385.27" r="0.83"/><circle cx="252.83" cy="346.94" r="0.66"/><circle cx="183.77" cy="387.99" r="0.66"/><circle cx="222.29" cy="345.21" r="0.99"/><circle cx="165.13" cy="352.13" r="0.89"/><circle cx="212.03" cy="339.51" r="0.52"/><circle cx="203.93" cy="367.57" r="0.73"/><circle cx="275.44" cy="416.63" r="0.91"/><circle cx="209.27" cy="357.46" r="0.69"/><circle cx="209.23" cy="400.35" r="0.83"/><circle cx="245.12" cy="435.37" r="0.94"/><circle cx="180.45" cy="433.75" r="0.92"/><circle cx="239.98" cy="398.76" r="0.83"/><circle cx="242.84" cy="391.01" r="0.8"/><circle cx="193.82" cy="404.43" r="0.7"/><circle cx="208.3" cy="423.26" r="0.59"/><circle cx="284.37" cy="364.1" r="0.74"/><circle cx="174.16" cy="370.96" r="0.77"/><circle cx="182.68" cy="374.86" r="0.64"/><circle cx="261.72" cy="387.28" r="0.89"/><circle cx="187.57" cy="397.37" r="0.82"/><circle cx="179.29" cy="418.01" r="0.74"/><circle cx="152.73" cy="424.16" r="0.93"/><circle cx="277.9" cy="424" r="0.55"/><circle cx="257.97" cy="345.52" r="0.51"/><circle cx="282.12" cy="415.7" r="0.71"/><circle cx="208" cy="390.43" r="0.86"/><circle cx="215.77" cy="429.86" r="0.77"/><circle cx="272.23" cy="352" r="0.8"/><circle cx="280.11" cy="365.86" r="0.71"/><circle cx="270.79" cy="402.7" r="0.6"/><circle cx="244.72" cy="340.53" r="0.52"/><circle cx="183.85" cy="399.18" r="0.73"/><circle cx="192.37" cy="414.54" r="0.64"/><circle cx="282.58" cy="337.75" r="0.82"/><circle cx="249.7" cy="433.53" r="0.76"/><circle cx="248.08" cy="351.81" r="0.97"/><circle cx="180.44" cy="409.62" r="0.93"/><circle cx="186.65" cy="389.1" r="0.98"/><circle cx="162.38" cy="349.44" r="0.93"/><circle cx="230.73" cy="350.39" r="0.51"/><circle cx="203.28" cy="419.73" r="0.67"/><circle cx="219.94" cy="365.41" r="0.73"/><circle cx="214.92" cy="397.25" r="0.64"/><circle cx="217.36" cy="350.16" r="0.79"/><circle cx="170.67" cy="412.31" r="0.7"/><circle cx="196.84" cy="337" r="0.88"/><circle cx="233.96" cy="441.02" r="0.6"/><circle cx="252.61" cy="348.3" r="0.92"/></g>
<g fill="#b4cadc"><circle cx="158.02" cy="350.02" r="0.88"/><circle cx="250.57" cy="398.19" r="0.89"/><circle cx="208.1" cy="392.01" r="0.77"/><circle cx="163.34" cy="370.39" r="0.52"/><circle cx="266.84" cy="425.06" r="0.59"/><circle cx="214.44" cy="417.46" r="0.75"/><circle cx="197.84" cy="376.92" r="0.64"/><circle cx="156.87" cy="383.48" r="0.8"/><circle cx="241.22" cy="433.58" r="0.71"/><circle cx="248.67" cy="439.49" r="0.62"/><circle cx="253.48" cy="403.42" r="0.54"/><circle cx="164.62" cy="337.47" r="0.51"/><circle cx="160.29" cy="383.37" r="0.69"/><circle cx="279.24" cy="360.22" r="0.67"/><circle cx="188.21" cy="417.63" r="0.74"/><circle cx="223.66" cy="421.52" r="0.91"/><circle cx="171.44" cy="414.16" r="0.56"/><circle cx="174.08" cy="359.3" r="0.63"/><circle cx="244.88" cy="428.99" r="0.84"/><circle cx="219.18" cy="388.4" r="0.98"/><circle cx="191.18" cy="419.59" r="0.59"/><circle cx="166.27" cy="336.65" r="0.59"/><circle cx="273.28" cy="350.75" r="0.87"/><circle cx="280.71" cy="359.93" r="0.88"/><circle cx="160.27" cy="387.91" r="0.81"/><circle cx="262.03" cy="375.62" r="0.96"/><circle cx="252.92" cy="370.42" r="0.55"/><circle cx="164.97" cy="353.85" r="0.9"/><circle cx="251.38" cy="425.3" r="0.85"/><circle cx="257.61" cy="415.4" r="0.57"/><circle cx="156.99" cy="421.29" r="0.89"/><circle cx="230.98" cy="343.25" r="0.74"/><circle cx="221.4" cy="424.27" r="0.85"/><circle cx="276.99" cy="380.02" r="0.92"/><circle cx="280.85" cy="440.92" r="0.96"/><circle cx="267.2" cy="355.43" r="0.7"/><circle cx="157.89" cy="388.87" r="0.82"/><circle cx="203.11" cy="391.75" r="0.65"/><circle cx="212.63" cy="341.72" r="0.54"/><circle cx="186.9" cy="430.19" r="0.57"/><circle cx="162.84" cy="363.2" r="0.97"/><circle cx="233.89" cy="431.75" r="0.6"/><circle cx="229.89" cy="415.14" r="0.99"/><circle cx="184.38" cy="372.85" r="0.61"/><circle cx="277.19" cy="400.59" r="0.59"/><circle cx="272.62" cy="426.58" r="0.75"/><circle cx="215.79" cy="354.08" r="0.76"/><circle cx="215.86" cy="411.37" r="0.53"/><circle cx="265.11" cy="379.48" r="0.79"/><circle cx="186.09" cy="342.35" r="0.52"/><circle cx="226.08" cy="364.83" r="0.92"/><circle cx="203.78" cy="409.3" r="0.58"/><circle cx="259.43" cy="393.22" r="0.89"/><circle cx="284.25" cy="414.87" r="0.83"/><circle cx="192.89" cy="418.42" r="0.6"/><circle cx="164.98" cy="393.2" r="0.87"/><circle cx="247.75" cy="411.43" r="0.55"/><circle cx="174.01" cy="435.03" r="0.57"/><circle cx="187.09" cy="407.4" r="0.97"/><circle cx="231.59" cy="416.18" r="0.92"/><circle cx="283.04" cy="368.01" r="0.74"/><circle cx="221.6" cy="429.1" r="0.64"/><circle cx="212.08" cy="374.89" r="0.92"/><circle cx="179.66" cy="337.78" r="0.82"/><circle cx="175.37" cy="432.5" r="0.62"/><circle cx="201.03" cy="366.91" r="0.73"/><circle cx="204.25" cy="368.23" r="0.56"/><circle cx="275.63" cy="427.53" r="0.88"/><circle cx="197.14" cy="354.39" r="0.8"/><circle cx="193.39" cy="431.84" r="0.56"/><circle cx="223.39" cy="402.54" r="0.94"/><circle cx="207.21" cy="415.63" r="0.51"/><circle cx="160.42" cy="374" r="0.8"/><circle cx="160.68" cy="370.2" r="0.75"/><circle cx="233.29" cy="344.54" r="0.7"/><circle cx="220.3" cy="432.87" r="0.69"/><circle cx="195.01" cy="421.34" r="0.66"/><circle cx="184.44" cy="379.14" r="0.63"/><circle cx="235.57" cy="339.55" r="0.99"/><circle cx="285.98" cy="386.6" r="0.85"/><circle cx="243.57" cy="417.85" r="0.81"/><circle cx="254.26" cy="369.23" r="0.74"/><circle cx="250.93" cy="424.55" r="0.58"/><circle cx="246.17" cy="397.89" r="0.95"/><circle cx="158.76" cy="378.75" r="0.89"/><circle cx="206.55" cy="344.35" r="0.82"/><circle cx="268.45" cy="345.08" r="0.8"/><circle cx="221.19" cy="432.52" r="0.88"/><circle cx="204.44" cy="349.43" r="0.84"/><circle cx="172.19" cy="399.87" r="0.76"/><circle cx="217.26" cy="369.73" r="0.52"/><circle cx="231.11" cy="425.99" r="0.89"/><circle cx="189.97" cy="361.46" r="0.71"/><circle cx="248.04" cy="379.23" r="0.6"/><circle cx="202.14" cy="410.18" r="0.5"/><circle cx="280.46" cy="412.27" r="0.54"/><circle cx="162.22" cy="407.71" r="0.84"/><circle cx="233.5" cy="342.46" r="0.62"/><circle cx="270.77" cy="440.83" r="0.58"/><circle cx="215.09" cy="377.99" r="0.58"/><circle cx="159.42" cy="435.17" r="0.71"/><circle cx="227.9" cy="379.89" r="0.64"/><circle cx="286.16" cy="434.05" r="1"/><circle cx="189.99" cy="361.51" r="0.88"/><circle cx="215.41" cy="338.36" r="0.59"/><circle cx="222.86" cy="354.16" r="0.96"/><circle cx="268.62" cy="423.92" r="0.85"/><circle cx="238.3" cy="373.14" r="0.51"/><circle cx="173.29" cy="350.27" r="0.93"/><circle cx="181.32" cy="430.7" r="0.62"/><circle cx="258.83" cy="415.14" r="0.53"/><circle cx="161.19" cy="369.41" r="0.82"/><circle cx="181.49" cy="341.88" r="0.57"/><circle cx="159.88" cy="399.7" r="0.73"/><circle cx="260.37" cy="398.65" r="0.88"/><circle cx="240.03" cy="345.34" r="0.9"/><circle cx="236.52" cy="374.26" r="0.64"/><circle cx="185.73" cy="339.67" r="0.7"/><circle cx="167.45" cy="418.64" r="0.52"/></g>
<g fill="#9a7450" opacity="0.6"><circle cx="186" cy="351" r="4.2"/><circle cx="178" cy="358" r="4.9"/><circle cx="254.6" cy="367.8" r="5.6"/><circle cx="262.8" cy="367.8" r="4.9"/><circle cx="198.5" cy="407.4" r="4.9"/><circle cx="170" cy="395" r="3.5"/><circle cx="240" cy="395" r="3.5"/><circle cx="225" cy="352" r="3.5"/><circle cx="270" cy="352" r="3.5"/><circle cx="245" cy="410" r="2.8"/><circle cx="160" cy="420" r="2.8"/><circle cx="212" cy="380" r="3.5"/><circle cx="250" cy="380" r="2.8"/><circle cx="193" cy="362" r="4.2"/><circle cx="208" cy="377" r="3.5"/><circle cx="265" cy="398" r="3.5"/><circle cx="190" cy="400" r="3.5"/><circle cx="240" cy="434" r="3.5"/><circle cx="222" cy="433" r="2.8"/><circle cx="172" cy="370" r="2.8"/><circle cx="280" cy="378" r="3.5"/></g>
<g fill="#7a4c28" opacity="0.7"><circle cx="186" cy="351" r="2.1"/><circle cx="178" cy="358" r="2.45"/><circle cx="254.6" cy="367.8" r="2.8"/><circle cx="262.8" cy="367.8" r="2.45"/><circle cx="198.5" cy="407.4" r="2.45"/><circle cx="170" cy="395" r="1.75"/><circle cx="240" cy="395" r="1.75"/><circle cx="225" cy="352" r="1.75"/><circle cx="270" cy="352" r="1.75"/><circle cx="245" cy="410" r="1.4"/><circle cx="160" cy="420" r="1.4"/><circle cx="212" cy="380" r="1.75"/><circle cx="250" cy="380" r="1.4"/><circle cx="193" cy="362" r="2.1"/><circle cx="208" cy="377" r="1.75"/><circle cx="265" cy="398" r="1.75"/><circle cx="190" cy="400" r="1.75"/><circle cx="240" cy="434" r="1.75"/><circle cx="222" cy="433" r="1.4"/><circle cx="172" cy="370" r="1.4"/><circle cx="280" cy="378" r="1.75"/></g>
<ellipse cx="202.6" cy="357.2" rx="8" ry="7" fill="#8a5a32" stroke="#3a1c0a" stroke-width="1.3"/><ellipse cx="203" cy="357" rx="4.5" ry="4" fill="#b09070"/>
<ellipse cx="161.7" cy="378.7" rx="8.12" ry="9.12" fill="none" stroke="#a06830" stroke-opacity="0.6" stroke-width="3.96"/>
<ellipse cx="161.7" cy="378.7" rx="6.5" ry="7.5" fill="#e4ecf2" stroke="#3a1c0a" stroke-width="1.53"/>
<ellipse cx="189" cy="352.8" rx="4.68" ry="4.68" fill="none" stroke="#a06830" stroke-opacity="0.6" stroke-width="2.64"/>
<ellipse cx="189" cy="352.8" rx="3.6" ry="3.6" fill="#e4ecf2" stroke="#3a1c0a" stroke-width="1.02"/>
<ellipse cx="215" cy="348.7" rx="4.88" ry="4.88" fill="none" stroke="#a06830" stroke-opacity="0.6" stroke-width="2.64"/>
<ellipse cx="215" cy="348.7" rx="3.8" ry="3.8" fill="#e4ecf2" stroke="#3a1c0a" stroke-width="1.02"/>
<ellipse cx="210.8" cy="369" rx="8.03" ry="7.03" fill="none" stroke="#a06830" stroke-opacity="0.6" stroke-width="3.74"/>
<ellipse cx="210.8" cy="369" rx="6.5" ry="5.5" fill="#e4ecf2" stroke="#3a1c0a" stroke-width="1.44"/>
<ellipse cx="225.9" cy="371.9" rx="4.88" ry="4.88" fill="none" stroke="#a06830" stroke-opacity="0.6" stroke-width="2.64"/>
<ellipse cx="225.9" cy="371.9" rx="3.8" ry="3.8" fill="#e4ecf2" stroke="#3a1c0a" stroke-width="1.02"/>
<ellipse cx="198.5" cy="389.6" rx="9.21" ry="9.71" fill="none" stroke="#a06830" stroke-opacity="0.6" stroke-width="4.18"/>
<ellipse cx="198.5" cy="389.6" rx="7.5" ry="8" fill="#e4ecf2" stroke="#3a1c0a" stroke-width="1.61"/>
<ellipse cx="273.7" cy="370.5" rx="5.86" ry="5.86" fill="none" stroke="#a06830" stroke-opacity="0.6" stroke-width="3.08"/>
<ellipse cx="273.7" cy="370.5" rx="4.6" ry="4.6" fill="#e4ecf2" stroke="#3a1c0a" stroke-width="1.19"/>
<ellipse cx="271" cy="388.3" rx="9.71" ry="8.71" fill="none" stroke="#a06830" stroke-opacity="0.6" stroke-width="4.18"/>
<ellipse cx="271" cy="388.3" rx="8" ry="7" fill="#e4ecf2" stroke="#3a1c0a" stroke-width="1.61"/>
<ellipse cx="262.8" cy="406.6" rx="7.53" ry="7.13" fill="none" stroke="#a06830" stroke-opacity="0.6" stroke-width="3.74"/>
<ellipse cx="262.8" cy="406.6" rx="6" ry="5.6" fill="#e4ecf2" stroke="#3a1c0a" stroke-width="1.44"/>
<ellipse cx="231.3" cy="425.2" rx="12.3" ry="10.8" fill="none" stroke="#a06830" stroke-opacity="0.6" stroke-width="4.4"/>
<ellipse cx="231.3" cy="425.2" rx="10.5" ry="9" fill="#e4ecf2" stroke="#3a1c0a" stroke-width="1.7"/>
<ellipse cx="151.5" cy="432" rx="8.62" ry="9.62" fill="none" stroke="#a06830" stroke-opacity="0.6" stroke-width="3.96"/>
<ellipse cx="151.5" cy="432" rx="7" ry="8" fill="#e4ecf2" stroke="#3a1c0a" stroke-width="1.53"/>
<g fill="#8fb0cc"><circle cx="160" cy="376" r="1.9"/><circle cx="164" cy="382" r="1.8"/><circle cx="197" cy="391" r="1.8"/><circle cx="200" cy="386" r="1.4"/><circle cx="229" cy="427" r="2.2"/><circle cx="233" cy="422" r="1.6"/><circle cx="269" cy="386" r="1.8"/><circle cx="274" cy="391" r="1.6"/><circle cx="272" cy="384" r="1.3"/><circle cx="262" cy="408" r="1.6"/><circle cx="209" cy="369" r="1.5"/><circle cx="213" cy="367" r="1.2"/><circle cx="150" cy="430" r="1.6"/></g>
<circle cx="276.4" cy="422.4" r="2" fill="#eef3f7"/>
<path fill="#111" d="M279.2 338.6H284.2V344.6Z"/>
</g></g>
<rect x="152.8" y="338.6" width="131.4" height="100.6" fill="none" stroke="#111" stroke-width="1"/>
<rect x="155.3" y="424.6" width="56.5" height="10.7" rx="1.3" fill="#fff" stroke="#111" stroke-width="1"/>
<text x="183.5" y="431.9" font-size="5.4" text-anchor="middle" font-weight="bold" font-family="Liberation Sans, sans-serif" fill="#111">RANK (TNFRSF11A)</text>
<path stroke="#333" stroke-width="1.2" d="M322.3 271.8H503.5M322.5 427.8H503.7"/>
<text x="337" y="287.6" font-size="7" font-weight="bold" font-family="Liberation Sans, sans-serif" fill="#111">Cluster</text>
<rect x="337" y="293" width="6.6" height="6" fill="#5f2e25"/>
<text x="347.8" y="298.1" font-size="6" textLength="43.4" lengthAdjust="spacingAndGlyphs" font-weight="bold" font-family="Liberation Sans, sans-serif" fill="#111">Germinal Centre</text>
<rect x="337" y="301.9" width="6.6" height="6" fill="#1aa6b4"/>
<text x="347.8" y="307" font-size="6" textLength="25" lengthAdjust="spacingAndGlyphs" font-weight="bold" font-family="Liberation Sans, sans-serif" fill="#111">Cluster A</text>
<rect x="337" y="310.8" width="6.6" height="6" fill="#e9572f"/>
<text x="347.8" y="315.9" font-size="6" textLength="25" lengthAdjust="spacingAndGlyphs" font-weight="bold" font-family="Liberation Sans, sans-serif" fill="#111">Cluster B</text>
<rect x="337" y="319.8" width="6.6" height="6" fill="#f0c64a"/>
<text x="347.8" y="324.9" font-size="6" textLength="25" lengthAdjust="spacingAndGlyphs" font-weight="bold" font-family="Liberation Sans, sans-serif" fill="#111">Cluster C</text>
<text x="425" y="287.6" font-size="7" font-weight="bold" font-family="Liberation Sans, sans-serif" fill="#111">HRS Cell Status</text>
<rect x="426.3" y="293.4" width="6.6" height="6" fill="#2c2a8e"/>
<text x="437.1" y="298.5" font-size="6" textLength="34.7" lengthAdjust="spacingAndGlyphs" font-weight="bold" font-family="Liberation Sans, sans-serif" fill="#111">EBV Positive</text>
<rect x="426.3" y="301.6" width="6.6" height="6" fill="#8c86cf"/>
<text x="437.1" y="306.7" font-size="6" textLength="36.6" lengthAdjust="spacingAndGlyphs" font-weight="bold" font-family="Liberation Sans, sans-serif" fill="#111">EBV Negative</text>
<rect x="426.3" y="310.8" width="6.6" height="6" fill="#ececf0"/>
<text x="437.1" y="315.9" font-size="6" textLength="41.2" lengthAdjust="spacingAndGlyphs" font-weight="bold" font-family="Liberation Sans, sans-serif" fill="#111">Not determined</text>
<text x="337" y="348.2" font-size="7" font-weight="bold" font-family="Liberation Sans, sans-serif" fill="#111">Histological Subtype</text>
<rect x="337.1" y="354" width="6.6" height="6" fill="#f8c913"/>
<text x="347.9" y="359.1" font-size="6" textLength="47.9" lengthAdjust="spacingAndGlyphs" font-weight="bold" font-family="Liberation Sans, sans-serif" fill="#111">Nodular Sclerosis</text>
<rect x="337.1" y="363.3" width="6.6" height="6" fill="#16677c"/>
<text x="347.9" y="368.4" font-size="6" textLength="45.3" lengthAdjust="spacingAndGlyphs" font-weight="bold" font-family="Liberation Sans, sans-serif" fill="#111">Mixed Cellularity</text>
<text x="425.6" y="348.2" font-size="7" font-weight="bold" font-family="Liberation Sans, sans-serif" fill="#111">Sample Type</text>
<rect x="425.6" y="354" width="6.6" height="6" fill="#f7bb80"/>
<text x="436.4" y="359.1" font-size="6" textLength="27" lengthAdjust="spacingAndGlyphs" font-weight="bold" font-family="Liberation Sans, sans-serif" fill="#111">Diagnosis</text>
<rect x="425.6" y="363.3" width="6.6" height="6" fill="#a04c22"/>
<text x="436.4" y="368.4" font-size="6" textLength="22" lengthAdjust="spacingAndGlyphs" font-weight="bold" font-family="Liberation Sans, sans-serif" fill="#111">Relapse</text>
<text x="337" y="393.7" font-size="7" font-weight="bold" font-family="Liberation Sans, sans-serif" fill="#111">Treatment Outcome</text>
<rect x="337.1" y="401.9" width="6.6" height="6" fill="#f8f2bc"/>
<text x="347.9" y="407" font-size="6" textLength="51.9" lengthAdjust="spacingAndGlyphs" font-weight="bold" font-family="Liberation Sans, sans-serif" fill="#111">Treatment Success</text>
<rect x="337.1" y="410.7" width="6.6" height="6" fill="#8fd3cc"/>
<text x="347.9" y="415.8" font-size="6" textLength="47.4" lengthAdjust="spacingAndGlyphs" font-weight="bold" font-family="Liberation Sans, sans-serif" fill="#111">Treatment Failure</text>
</svg></body></html>
